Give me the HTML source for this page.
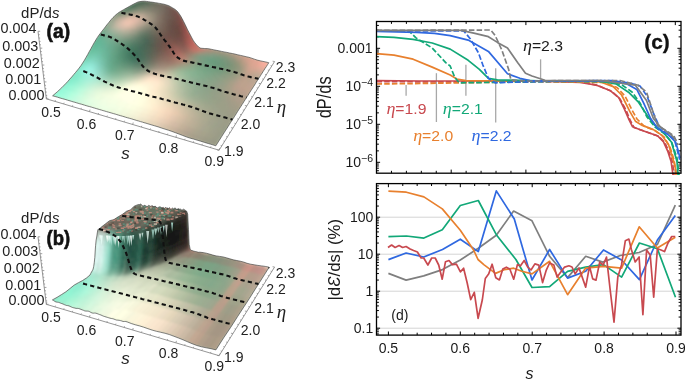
<!DOCTYPE html><html><head><meta charset="utf-8"><style>html,body{margin:0;padding:0;background:#fff;width:685px;height:379px;overflow:hidden}svg{display:block;will-change:transform}</style></head><body><svg xmlns="http://www.w3.org/2000/svg" width="685" height="379" viewBox="0 0 685 379"><path d="M391.44 173.2v-2.4M391.44 21.5v2.4M406.38 173.2v-2.4M406.38 21.5v2.4M421.32 173.2v-2.4M421.32 21.5v2.4M436.26 173.2v-2.4M436.26 21.5v2.4M451.2 173.2v-3.6M451.2 21.5v3.6M466.14 173.2v-2.4M466.14 21.5v2.4M481.08 173.2v-2.4M481.08 21.5v2.4M496.02 173.2v-2.4M496.02 21.5v2.4M510.96 173.2v-2.4M510.96 21.5v2.4M525.9 173.2v-3.6M525.9 21.5v3.6M540.84 173.2v-2.4M540.84 21.5v2.4M555.78 173.2v-2.4M555.78 21.5v2.4M570.72 173.2v-2.4M570.72 21.5v2.4M585.66 173.2v-2.4M585.66 21.5v2.4M600.6 173.2v-3.6M600.6 21.5v3.6M615.54 173.2v-2.4M615.54 21.5v2.4M630.48 173.2v-2.4M630.48 21.5v2.4M645.42 173.2v-2.4M645.42 21.5v2.4M660.36 173.2v-2.4M660.36 21.5v2.4M675.3 173.2v-3.6M675.3 21.5v3.6M376.5 170.73h2.4M681 170.73h-2.4M376.5 168.19h2.4M681 168.19h-2.4M376.5 165.98h2.4M681 165.98h-2.4M376.5 164.04h2.4M681 164.04h-2.4M376.5 162.3h3.6M681 162.3h-3.6M376.5 150.86h2.4M681 150.86h-2.4M376.5 144.17h2.4M681 144.17h-2.4M376.5 139.42h2.4M681 139.42h-2.4M376.5 135.74h2.4M681 135.74h-2.4M376.5 132.73h2.4M681 132.73h-2.4M376.5 130.19h2.4M681 130.19h-2.4M376.5 127.98h2.4M681 127.98h-2.4M376.5 126.04h2.4M681 126.04h-2.4M376.5 124.3h3.6M681 124.3h-3.6M376.5 112.86h2.4M681 112.86h-2.4M376.5 106.17h2.4M681 106.17h-2.4M376.5 101.42h2.4M681 101.42h-2.4M376.5 97.74h2.4M681 97.74h-2.4M376.5 94.73h2.4M681 94.73h-2.4M376.5 92.19h2.4M681 92.19h-2.4M376.5 89.98h2.4M681 89.98h-2.4M376.5 88.04h2.4M681 88.04h-2.4M376.5 86.3h3.6M681 86.3h-3.6M376.5 74.86h2.4M681 74.86h-2.4M376.5 68.17h2.4M681 68.17h-2.4M376.5 63.42h2.4M681 63.42h-2.4M376.5 59.74h2.4M681 59.74h-2.4M376.5 56.73h2.4M681 56.73h-2.4M376.5 54.19h2.4M681 54.19h-2.4M376.5 51.98h2.4M681 51.98h-2.4M376.5 50.04h2.4M681 50.04h-2.4M376.5 48.3h3.6M681 48.3h-3.6M376.5 36.86h2.4M681 36.86h-2.4M376.5 30.17h2.4M681 30.17h-2.4M376.5 25.42h2.4M681 25.42h-2.4" stroke="#000" stroke-width="1" fill="none"/>
<line x1="406.1" y1="85" x2="406.1" y2="95.7" stroke="#a8a8a8" stroke-width="1.3"/>
<line x1="436.4" y1="73.2" x2="436.4" y2="122" stroke="#a8a8a8" stroke-width="1.3"/>
<line x1="465.9" y1="64.8" x2="465.9" y2="95.7" stroke="#a8a8a8" stroke-width="1.3"/>
<line x1="495.7" y1="68.2" x2="495.7" y2="122.5" stroke="#a8a8a8" stroke-width="1.3"/>
<line x1="540.6" y1="59.3" x2="540.6" y2="79.6" stroke="#a8a8a8" stroke-width="1.3"/>
<polyline points="376.5,81.6 420,81.8 480,81.8 540,81.5 582,82 598,85.5 612,91.5 620,99 626,110 630,120 634,127.5 641,130 651,133.5 659,136.5 665,143 669,152 672.5,162 674,175" fill="none" stroke="#c8494f" stroke-width="1.7" stroke-linejoin="round" stroke-dasharray="5.5,2.2"/>
<polyline points="376.5,80.6 420,81 480,81 540,81.2 580,82.5 596.6,85.2 610.5,90.8 618.8,97.7 624.3,108.8 628.5,118.5 632.6,126.8 639.6,129.5 649.3,133 657.4,135.7 663.4,141.7 667.7,151.1 671.1,161.4 673,175" fill="none" stroke="#c8494f" stroke-width="1.7" stroke-linejoin="round"/>
<polyline points="376.5,84 420,83.5 480,82.5 540,81.5 605,82.5 617,87.5 625,96 632,110 637,119 644,126 655,130.5 664,137 670,147 674,160 676.5,175" fill="none" stroke="#e8802e" stroke-width="1.7" stroke-linejoin="round" stroke-dasharray="5.5,2.2"/>
<polyline points="376.5,53.6 394,55.2 413.1,59.2 432.2,67.1 450.2,75 456.9,79 465.9,80.6 500,81 560,81 600,81.8 613.2,86.6 621.6,95 629.9,111.6 635.4,121.2 642.3,125.4 653.4,129.6 661.7,135.1 668.6,144.8 673.7,161.4 675.4,168.3 676,175" fill="none" stroke="#e8802e" stroke-width="1.7" stroke-linejoin="round"/>
<polyline points="376.5,30.9 409,30.9 416,37.9 432.2,48 445.7,62.6 450.2,66 454.7,77.2 459.2,82.8 500,82.3 560,81.3 610,81.8 622,85 632,92 640,103 647,117 655,127 665,134 672,143 677,158 679,175" fill="none" stroke="#12a878" stroke-width="1.7" stroke-linejoin="round" stroke-dasharray="5.5,2.2"/>
<polyline points="376.5,36.7 394,37.4 413.1,39.4 432.2,43 450.2,49.1 468.2,60.3 479.4,69.3 488.4,78.3 497.4,79.9 540,80.8 600,81.2 616,83.9 628.5,92.2 638.2,101.9 646.5,114.3 653.4,124 663.1,132.3 671.4,142 677,161.4 678,175" fill="none" stroke="#12a878" stroke-width="1.7" stroke-linejoin="round"/>
<polyline points="376.5,31.4 416.5,32.4 434.5,33.4 450.2,35.6 468.2,40.1 488.4,51.4 507.5,73.8 519.9,78.3 530,80.5 560,80.8 610,80.8 627.1,83.9 636.8,89.4 643.7,103.2 650.6,118.5 657.6,128.2 668.6,135.1 675.6,142 678,150 680,158" fill="none" stroke="#2f68e0" stroke-width="1.7" stroke-linejoin="round"/>
<polyline points="376.5,30.9 463.7,30.9 470.4,39 478.3,52.5 482.8,64.8 488.4,78.3 495.2,82.8 520,82 560,81 612,80.5 630,83 640,86 647,96 653,112 659,126 666,133 671.1,135.7 674.5,140 677.1,149.4 679.7,159.7" fill="none" stroke="#2f68e0" stroke-width="1.7" stroke-linejoin="round" stroke-dasharray="5.5,2.2"/>
<polyline points="376.5,30.4 461.4,30.4 474.9,33.4 488.4,36.7 497.4,42.4 507.5,48 517.6,62.6 525.5,73.2 532,76 545,80.3 600,80.5 635.4,85.2 646.5,100.5 653.4,118.5 660.3,126.8 671.4,135.1 676,140" fill="none" stroke="#7f7f7f" stroke-width="1.7" stroke-linejoin="round"/>
<polyline points="376.5,30.4 490.7,30 495.2,35.6 501.9,50.2 508.6,69.3 510.9,79.9 530,81.2 560,80.5 620,80.5 638.2,85.2 646.5,92.2 652,108.8 657.6,125.4 668.6,132.3 674,136 678,145" fill="none" stroke="#7f7f7f" stroke-width="1.7" stroke-linejoin="round" stroke-dasharray="5.5,2.2"/>
<rect x="376.5" y="21.5" width="304.5" height="151.7" fill="none" stroke="#000" stroke-width="1.3"/>
<text x="372.5" y="53.3" font-family="Liberation Sans, sans-serif" font-size="14" text-anchor="end" fill="#1a1a1a">0.001</text>
<text x="373" y="91.3" font-family="Liberation Sans, sans-serif" font-size="14" text-anchor="end" fill="#1a1a1a">10<tspan font-size="10.5" dy="-5.5">&#8722;4</tspan></text>
<text x="373" y="129.3" font-family="Liberation Sans, sans-serif" font-size="14" text-anchor="end" fill="#1a1a1a">10<tspan font-size="10.5" dy="-5.5">&#8722;5</tspan></text>
<text x="373" y="167.3" font-family="Liberation Sans, sans-serif" font-size="14" text-anchor="end" fill="#1a1a1a">10<tspan font-size="10.5" dy="-5.5">&#8722;6</tspan></text>
<text x="657" y="49.2" font-family="Liberation Sans, sans-serif" font-size="20" text-anchor="middle" fill="#111" textLength="25.5" lengthAdjust="spacingAndGlyphs" font-weight="bold" stroke="#111" stroke-width="0.3">(c)</text>
<text x="386.4" y="114.4" font-size="14" fill="#c8494f" textLength="40" lengthAdjust="spacingAndGlyphs"><tspan font-family="Liberation Serif, serif" font-style="italic" font-size="16">&#951;</tspan><tspan font-family="Liberation Sans, sans-serif">=1.9</tspan></text>
<text x="413.2" y="140.6" font-size="14" fill="#e8802e" textLength="40" lengthAdjust="spacingAndGlyphs"><tspan font-family="Liberation Serif, serif" font-style="italic" font-size="16">&#951;</tspan><tspan font-family="Liberation Sans, sans-serif">=2.0</tspan></text>
<text x="442.8" y="114.4" font-size="14" fill="#12a878" textLength="40" lengthAdjust="spacingAndGlyphs"><tspan font-family="Liberation Serif, serif" font-style="italic" font-size="16">&#951;</tspan><tspan font-family="Liberation Sans, sans-serif">=2.1</tspan></text>
<text x="471.6" y="140.6" font-size="14" fill="#2f68e0" textLength="40" lengthAdjust="spacingAndGlyphs"><tspan font-family="Liberation Serif, serif" font-style="italic" font-size="16">&#951;</tspan><tspan font-family="Liberation Sans, sans-serif">=2.2</tspan></text>
<text x="523" y="51.2" font-size="14" fill="#1a1a1a" textLength="40" lengthAdjust="spacingAndGlyphs"><tspan font-family="Liberation Serif, serif" font-style="italic" font-size="16">&#951;</tspan><tspan font-family="Liberation Sans, sans-serif">=2.3</tspan></text>
<text transform="translate(330.6,118.3) rotate(-90)" font-family="Liberation Sans, sans-serif" font-size="20" fill="#1a1a1a" textLength="42" lengthAdjust="spacingAndGlyphs">dP/ds</text>
<line x1="376.5" x2="681" y1="328.2" y2="328.2" stroke="#d4d4d4" stroke-width="1"/>
<line x1="376.5" x2="681" y1="291.2" y2="291.2" stroke="#d4d4d4" stroke-width="1"/>
<line x1="376.5" x2="681" y1="254.2" y2="254.2" stroke="#d4d4d4" stroke-width="1"/>
<line x1="376.5" x2="681" y1="217.2" y2="217.2" stroke="#d4d4d4" stroke-width="1"/>
<path d="M388.4 335.1v-3.6M388.4 183.6v3.6M402.78 335.1v-2.4M402.78 183.6v2.4M417.16 335.1v-2.4M417.16 183.6v2.4M431.54 335.1v-2.4M431.54 183.6v2.4M445.92 335.1v-2.4M445.92 183.6v2.4M460.3 335.1v-3.6M460.3 183.6v3.6M474.68 335.1v-2.4M474.68 183.6v2.4M489.06 335.1v-2.4M489.06 183.6v2.4M503.44 335.1v-2.4M503.44 183.6v2.4M517.82 335.1v-2.4M517.82 183.6v2.4M532.2 335.1v-3.6M532.2 183.6v3.6M546.58 335.1v-2.4M546.58 183.6v2.4M560.96 335.1v-2.4M560.96 183.6v2.4M575.34 335.1v-2.4M575.34 183.6v2.4M589.72 335.1v-2.4M589.72 183.6v2.4M604.1 335.1v-3.6M604.1 183.6v3.6M618.48 335.1v-2.4M618.48 183.6v2.4M632.86 335.1v-2.4M632.86 183.6v2.4M647.24 335.1v-2.4M647.24 183.6v2.4M661.62 335.1v-2.4M661.62 183.6v2.4M676 335.1v-3.6M676 183.6v3.6M376.5 333.93h2.4M681 333.93h-2.4M376.5 331.79h2.4M681 331.79h-2.4M376.5 329.89h2.4M681 329.89h-2.4M376.5 328.2h3.6M681 328.2h-3.6M376.5 317.06h2.4M681 317.06h-2.4M376.5 310.55h2.4M681 310.55h-2.4M376.5 305.92h2.4M681 305.92h-2.4M376.5 302.34h2.4M681 302.34h-2.4M376.5 299.41h2.4M681 299.41h-2.4M376.5 296.93h2.4M681 296.93h-2.4M376.5 294.79h2.4M681 294.79h-2.4M376.5 292.89h2.4M681 292.89h-2.4M376.5 291.2h3.6M681 291.2h-3.6M376.5 280.06h2.4M681 280.06h-2.4M376.5 273.55h2.4M681 273.55h-2.4M376.5 268.92h2.4M681 268.92h-2.4M376.5 265.34h2.4M681 265.34h-2.4M376.5 262.41h2.4M681 262.41h-2.4M376.5 259.93h2.4M681 259.93h-2.4M376.5 257.79h2.4M681 257.79h-2.4M376.5 255.89h2.4M681 255.89h-2.4M376.5 254.2h3.6M681 254.2h-3.6M376.5 243.06h2.4M681 243.06h-2.4M376.5 236.55h2.4M681 236.55h-2.4M376.5 231.92h2.4M681 231.92h-2.4M376.5 228.34h2.4M681 228.34h-2.4M376.5 225.41h2.4M681 225.41h-2.4M376.5 222.93h2.4M681 222.93h-2.4M376.5 220.79h2.4M681 220.79h-2.4M376.5 218.89h2.4M681 218.89h-2.4M376.5 217.2h3.6M681 217.2h-3.6M376.5 206.06h2.4M681 206.06h-2.4M376.5 199.55h2.4M681 199.55h-2.4M376.5 194.92h2.4M681 194.92h-2.4M376.5 191.34h2.4M681 191.34h-2.4M376.5 188.41h2.4M681 188.41h-2.4M376.5 185.93h2.4M681 185.93h-2.4" stroke="#000" stroke-width="1" fill="none"/>
<polyline points="388.4,273.4 406.1,280.1 423.7,275.9 442.5,269.6 460.3,260 478.3,248.2 496.3,235.2 513.6,211.1 532,220.8 549.6,256.3 567.6,277.6 585.7,256.3 602.7,262.1 620.3,255.5 639.1,252.5 657.4,244.5 675.3,205.2" fill="none" stroke="#7f7f7f" stroke-width="1.7" stroke-linejoin="round"/>
<polyline points="388.4,259.6 406.1,253 423.7,257 442.5,249.5 460.3,239.2 478.3,251.6 496.3,190.9 514.3,219 523.2,250 532,280 549.6,249.5 567.6,278.1 585.7,271.3 603.5,250 621.6,260 639.4,279.6 657.4,240 675.3,215.5" fill="none" stroke="#2f68e0" stroke-width="1.7" stroke-linejoin="round"/>
<polyline points="388.4,236.7 406.4,236 423.9,238.1 442.3,229.8 460.3,205.5 478.3,200.5 496.3,234.7 515.9,259.5 532,287.5 549.6,286.6 567.6,271.3 585.7,267.1 603.5,264.6 621.6,277.1 639.4,243 657.4,248.8 675.5,297.2" fill="none" stroke="#12a878" stroke-width="1.7" stroke-linejoin="round"/>
<polyline points="388.4,191.1 406.4,192.2 423.9,196.9 442.3,208.9 460.3,230.2 473.6,250 478,259.5 483.8,264.6 495.5,273.4 504.2,269.7 513.7,268.2 521.8,271.2 532,273.9 549.6,261.3 567.6,294.7 585.7,268.1 603.5,266.3 621.6,268.1 639.2,226.8 657.3,248 675.3,237.2" fill="none" stroke="#e8802e" stroke-width="1.7" stroke-linejoin="round"/>
<polyline points="388,247.5 391.6,245 395.1,247.5 399.1,245.5 402.6,247.5 406.1,246.5 410.1,249 413.6,250.5 417.4,252 421.1,258 423.7,258 427.9,265 431.7,258 435.2,258 438.7,265 442.2,279.2 445.5,261.7 449,260.5 452.4,264.6 456.4,264.2 460.4,271.9 463.6,268.2 467.2,283 470.7,299.6 474.3,292.3 478.1,318.3 482.3,300 485.3,278.5 488.6,274.1 492.1,264.2 495.8,277.7 499.4,279.9 502.8,269 506.4,267.2 509.8,269 513.7,279.2 517.4,264.6 520.3,266.1 524.2,260.5 527.6,266.8 531,270 534.9,263.9 538.8,265.1 542.6,282.6 546.3,270.1 549.6,263 553.9,265.1 557.1,277.1 560.8,272 564.6,267.1 568.9,265.8 572,267 575.2,273.9 579,268 585.7,287.1 589.5,266.3 592.7,278.9 596,280.1 599.7,262.1 603.2,265 606.5,257.1 610.2,290 614,322.2 617.8,277.1 621.5,265 625.3,240.8 628.9,239.1 631.3,249.2 635.2,262 639.1,257 642.9,314.7 646.6,250 650.2,255 653.7,297.2 657.4,248.8 661,250 664.5,251.6 668,243 671.7,236.5 675.3,236.5" fill="none" stroke="#c8494f" stroke-width="1.7" stroke-linejoin="round"/>
<rect x="376.5" y="183.6" width="304.5" height="151.50000000000003" fill="none" stroke="#000" stroke-width="1.3"/>
<text x="373.3" y="222.2" font-family="Liberation Sans, sans-serif" font-size="14" text-anchor="end" fill="#1a1a1a">100</text>
<text x="373.3" y="259.2" font-family="Liberation Sans, sans-serif" font-size="14" text-anchor="end" fill="#1a1a1a">10</text>
<text x="373.3" y="296.2" font-family="Liberation Sans, sans-serif" font-size="14" text-anchor="end" fill="#1a1a1a">1</text>
<text x="373.3" y="333.2" font-family="Liberation Sans, sans-serif" font-size="14" text-anchor="end" fill="#1a1a1a">0.1</text>
<text x="388.4" y="353.3" font-family="Liberation Sans, sans-serif" font-size="14" text-anchor="middle" fill="#1a1a1a">0.5</text>
<text x="460.3" y="353.3" font-family="Liberation Sans, sans-serif" font-size="14" text-anchor="middle" fill="#1a1a1a">0.6</text>
<text x="532.2" y="353.3" font-family="Liberation Sans, sans-serif" font-size="14" text-anchor="middle" fill="#1a1a1a">0.7</text>
<text x="604.1" y="353.3" font-family="Liberation Sans, sans-serif" font-size="14" text-anchor="middle" fill="#1a1a1a">0.8</text>
<text x="676" y="353.3" font-family="Liberation Sans, sans-serif" font-size="14" text-anchor="middle" fill="#1a1a1a">0.9</text>
<text x="399.8" y="320.3" font-family="Liberation Sans, sans-serif" font-size="14" text-anchor="middle" fill="#1a1a1a">(d)</text>
<text x="529.5" y="379" font-family="Liberation Sans, sans-serif" font-style="italic" font-size="16" text-anchor="middle" fill="#1a1a1a">s</text>
<text transform="translate(339.6,300.5) rotate(-90)" font-family="Liberation Sans, sans-serif" font-size="16.5" fill="#1a1a1a" textLength="81.5" lengthAdjust="spacingAndGlyphs">|d<tspan font-style="italic">&#400;</tspan>/ds| (%)</text>
<defs><filter id="bl" x="-50%" y="-50%" width="200%" height="200%"><feGaussianBlur stdDeviation="3.5"/></filter><filter id="bl2" x="-50%" y="-50%" width="200%" height="200%"><feGaussianBlur stdDeviation="3"/></filter><filter id="sm" x="-5%" y="-5%" width="110%" height="110%"><feGaussianBlur stdDeviation="0.8"/></filter></defs>
<clipPath id="oa"><polygon points="52.6,95.8 55.1,96.5 57.6,97.2 60.0,98.0 62.5,98.7 65.1,99.4 67.6,100.2 70.1,100.9 71.7,101.4 73.3,101.9 74.9,102.3 76.5,102.8 78.1,103.3 79.8,103.8 81.4,104.2 83.0,104.7 84.6,105.2 86.3,105.7 87.9,106.2 89.6,106.6 91.3,107.1 92.9,107.6 94.6,108.1 96.3,108.6 98.0,109.1 99.7,109.6 101.4,110.1 103.1,110.6 104.8,111.1 106.5,111.6 108.2,112.1 110.0,112.6 111.7,113.1 113.4,113.6 115.2,114.1 116.9,114.6 118.7,115.2 120.5,115.7 122.3,116.2 124.0,116.7 125.8,117.3 127.6,117.8 129.4,118.3 131.3,118.8 133.1,119.4 134.9,119.9 136.7,120.5 138.6,121.0 140.4,121.6 142.3,122.1 144.1,122.7 146.0,123.2 147.9,123.8 151.2,124.8 154.6,125.8 158.0,126.8 161.5,128.0 164.9,129.1 168.4,130.2 171.9,131.4 175.4,132.7 178.9,134.0 182.5,135.4 186.1,136.8 189.7,138.0 193.4,139.0 197.0,140.1 200.7,141.2 204.5,142.4 208.2,143.5 212.0,144.6 215.8,145.8 215.8,145.8 218.8,141.1 221.7,136.5 224.5,132.1 225.8,130.1 227.1,128.1 228.3,126.2 229.5,124.3 230.7,122.4 231.9,120.5 233.1,118.7 234.3,116.8 235.4,115.1 236.5,113.3 237.6,111.5 238.7,109.8 239.8,108.1 240.9,106.4 241.9,104.8 243.0,103.1 244.0,101.5 245.0,99.9 246.0,98.3 247.0,96.8 248.0,95.3 249.0,93.7 249.9,92.2 250.9,90.7 251.8,89.3 252.8,87.8 253.7,86.4 254.6,85.0 255.5,83.6 256.3,82.2 257.2,80.8 258.1,79.5 258.9,78.1 259.8,76.8 260.6,75.5 261.4,74.2 262.2,73.0 263.0,71.7 263.8,70.4 265.1,68.4 266.4,66.5 267.6,64.6 268.8,62.7 268.8,62.7 265.9,62.0 263.0,61.4 260.1,60.8 257.3,60.1 254.5,59.2 251.7,58.2 248.9,57.3 246.1,56.7 243.3,56.0 240.6,55.4 237.8,54.8 235.1,54.1 232.3,53.5 229.6,53.0 226.9,52.4 224.2,51.9 221.6,51.4 218.9,50.8 216.2,50.3 214.8,50.0 213.3,49.7 211.8,49.4 210.3,49.1 208.9,48.8 207.4,48.6 205.9,48.6 204.5,48.5 203.0,48.4 201.6,48.3 200.1,48.0 198.7,47.0 197.3,45.6 195.9,44.1 194.5,42.3 193.1,40.2 191.8,37.8 190.4,35.1 189.0,32.4 187.6,29.8 186.3,27.0 184.9,24.1 183.5,21.3 182.1,18.6 180.7,16.1 179.3,14.0 177.9,12.0 176.5,10.5 175.1,9.4 173.7,8.5 172.3,7.7 170.9,6.9 169.5,6.1 168.1,5.5 166.7,5.0 165.3,4.6 163.9,4.2 162.5,3.9 161.1,3.7 159.7,3.4 158.4,3.2 157.0,2.9 155.6,2.7 154.3,2.5 152.9,2.3 150.7,2.0 148.6,1.7 146.4,1.4 144.3,1.2 142.1,1.3 140.0,1.6 137.9,2.0 137.9,2.0 135.8,3.0 133.6,4.1 131.4,5.3 129.2,6.5 127.8,7.3 126.3,8.1 124.9,8.9 123.5,9.7 122.0,10.6 120.5,11.4 119.1,12.3 117.6,13.4 116.1,14.6 114.6,16.0 113.0,17.5 111.5,19.2 110.0,21.0 108.5,22.9 106.9,24.8 105.4,26.8 103.8,28.9 102.2,30.9 100.6,33.0 99.0,35.1 97.4,37.4 95.8,40.0 94.2,42.7 92.6,45.5 91.0,48.5 89.3,51.5 87.7,54.5 86.0,57.4 84.4,60.3 82.6,63.1 80.9,65.7 79.1,68.1 77.3,70.3 75.5,72.5 73.6,74.7 71.8,76.9 69.9,79.0 68.0,81.2 66.0,83.3 61.7,87.7 57.2,91.9 52.6,95.8"/></clipPath><g clip-path="url(#oa)"><polygon points="52.6,95.8 55.1,96.5 57.6,97.2 60.0,98.0 62.5,98.7 65.1,99.4 67.6,100.2 70.1,100.9 71.7,101.4 73.3,101.9 74.9,102.3 76.5,102.8 78.1,103.3 79.8,103.8 81.4,104.2 83.0,104.7 84.6,105.2 86.3,105.7 87.9,106.2 89.6,106.6 91.3,107.1 92.9,107.6 94.6,108.1 96.3,108.6 98.0,109.1 99.7,109.6 101.4,110.1 103.1,110.6 104.8,111.1 106.5,111.6 108.2,112.1 110.0,112.6 111.7,113.1 113.4,113.6 115.2,114.1 116.9,114.6 118.7,115.2 120.5,115.7 122.3,116.2 124.0,116.7 125.8,117.3 127.6,117.8 129.4,118.3 131.3,118.8 133.1,119.4 134.9,119.9 136.7,120.5 138.6,121.0 140.4,121.6 142.3,122.1 144.1,122.7 146.0,123.2 147.9,123.8 151.2,124.8 154.6,125.8 158.0,126.8 161.5,128.0 164.9,129.1 168.4,130.2 171.9,131.4 175.4,132.7 178.9,134.0 182.5,135.4 186.1,136.8 189.7,138.0 193.4,139.0 197.0,140.1 200.7,141.2 204.5,142.4 208.2,143.5 212.0,144.6 215.8,145.8 215.8,145.8 218.8,141.1 221.7,136.5 224.5,132.1 225.8,130.1 227.1,128.1 228.3,126.2 229.5,124.3 230.7,122.4 231.9,120.5 233.1,118.7 234.3,116.8 235.4,115.1 236.5,113.3 237.6,111.5 238.7,109.8 239.8,108.1 240.9,106.4 241.9,104.8 243.0,103.1 244.0,101.5 245.0,99.9 246.0,98.3 247.0,96.8 248.0,95.3 249.0,93.7 249.9,92.2 250.9,90.7 251.8,89.3 252.8,87.8 253.7,86.4 254.6,85.0 255.5,83.6 256.3,82.2 257.2,80.8 258.1,79.5 258.9,78.1 259.8,76.8 260.6,75.5 261.4,74.2 262.2,73.0 263.0,71.7 263.8,70.4 265.1,68.4 266.4,66.5 267.6,64.6 268.8,62.7 268.8,62.7 265.9,62.0 263.0,61.4 260.1,60.8 257.3,60.1 254.5,59.2 251.7,58.2 248.9,57.3 246.1,56.7 243.3,56.0 240.6,55.4 237.8,54.8 235.1,54.1 232.3,53.5 229.6,53.0 226.9,52.4 224.2,51.9 221.6,51.4 218.9,50.8 216.2,50.3 214.8,50.0 213.3,49.7 211.8,49.4 210.3,49.1 208.9,48.8 207.4,48.6 205.9,48.6 204.5,48.5 203.0,48.4 201.6,48.3 200.1,48.0 198.7,47.0 197.3,45.6 195.9,44.1 194.5,42.3 193.1,40.2 191.8,37.8 190.4,35.1 189.0,32.4 187.6,29.8 186.3,27.0 184.9,24.1 183.5,21.3 182.1,18.6 180.7,16.1 179.3,14.0 177.9,12.0 176.5,10.5 175.1,9.4 173.7,8.5 172.3,7.7 170.9,6.9 169.5,6.1 168.1,5.5 166.7,5.0 165.3,4.6 163.9,4.2 162.5,3.9 161.1,3.7 159.7,3.4 158.4,3.2 157.0,2.9 155.6,2.7 154.3,2.5 152.9,2.3 150.7,2.0 148.6,1.7 146.4,1.4 144.3,1.2 142.1,1.3 140.0,1.6 137.9,2.0 137.9,2.0 135.8,3.0 133.6,4.1 131.4,5.3 129.2,6.5 127.8,7.3 126.3,8.1 124.9,8.9 123.5,9.7 122.0,10.6 120.5,11.4 119.1,12.3 117.6,13.4 116.1,14.6 114.6,16.0 113.0,17.5 111.5,19.2 110.0,21.0 108.5,22.9 106.9,24.8 105.4,26.8 103.8,28.9 102.2,30.9 100.6,33.0 99.0,35.1 97.4,37.4 95.8,40.0 94.2,42.7 92.6,45.5 91.0,48.5 89.3,51.5 87.7,54.5 86.0,57.4 84.4,60.3 82.6,63.1 80.9,65.7 79.1,68.1 77.3,70.3 75.5,72.5 73.6,74.7 71.8,76.9 69.9,79.0 68.0,81.2 66.0,83.3 61.7,87.7 57.2,91.9 52.6,95.8" fill="#c8d0b8"/><g filter="url(#sm)"><g transform="scale(0.1)">
<path fill="#93ffdb" d="M522 960l27 8l52 -43l-27 -9z"/>
<path fill="#99ffde" d="M546 967l28 8l52 -42l-28 -9z"/>
<path fill="#9fffde" d="M571 974l28 8l52 -41l-28 -9z"/>
<path fill="#a5ffde" d="M596 982l28 8l52 -41l-28 -9z"/>
<path fill="#abffe1" d="M621 989l28 8l52 -41l-28 -8z"/>
<path fill="#b4ffe1" d="M646 996l29 9l51 -41l-29 -9z"/>
<path fill="#baffe1" d="M671 1004l29 8l51 -41l-28 -8zM717 967l28 9l50 -44l-29 -9z"/>
<path fill="#c0ffe1" d="M697 1011l18 6l51 -41l-17 -6z"/>
<path fill="#c3ffe4" d="M713 1016l18 6l51 -42l-18 -5z"/>
<path fill="#c9ffe4" d="M729 1021l18 5l51 -41l-18 -5z"/>
<path fill="#ccffe4" d="M745 1026l18 5l51 -41l-18 -6z"/>
<path fill="#cfffe4" d="M761 1030l18 6l51 -41l-18 -6z"/>
<path fill="#d5ffe4" d="M777 1035l19 5l50 -41l-18 -5z"/>
<path fill="#d8ffe4" d="M793 1040l19 5l50 -41l-18 -5z"/>
<path fill="#dbffe4" d="M810 1044l18 6l51 -41l-19 -6z"/>
<path fill="#deffe4" d="M826 1049l19 6l50 -41l-19 -6z"/>
<path fill="#e1ffe4" d="M842 1054l19 5l50 -41l-18 -5zM859 1059l19 5l49 -41l-18 -5zM854 1008l19 6l49 -41l-19 -6z"/>
<path fill="#e4ffe4" d="M875 1064l19 5l50 -41l-19 -5zM870 1013l19 6l49 -41l-19 -6z"/>
<path fill="#e7ffe4" d="M892 1069l19 5l49 -41l-18 -6zM908 1073l19 6l50 -41l-19 -6zM887 1018l18 5l49 -40l-19 -6zM903 1023l19 5l48 -40l-18 -6z"/>
<path fill="#eaffe4" d="M925 1078l19 6l49 -42l-18 -5zM942 1083l19 6l49 -42l-19 -5zM959 1088l19 6l49 -42l-19 -6zM919 1028l19 5l48 -40l-18 -6zM936 1032l18 6l49 -41l-19 -5z"/>
<path fill="#edffe4" d="M976 1093l19 6l49 -42l-19 -6zM993 1098l19 6l48 -42l-19 -6zM1010 1103l19 6l48 -43l-19 -5zM1027 1108l19 6l48 -43l-19 -5zM1044 1113l19 6l48 -43l-19 -5zM952 1037l19 6l48 -41l-18 -5zM969 1042l19 5l48 -40l-19 -6z"/>
<path fill="#f0ffe4" d="M1061 1118l20 6l47 -43l-19 -5zM985 1047l19 5l48 -40l-19 -6zM1002 1051l19 6l48 -41l-19 -5zM1019 1056l19 6l47 -41l-19 -5zM1035 1061l20 6l47 -41l-19 -6zM995 1002l18 5l47 -39l-18 -6z"/>
<path fill="#f0ffe1" d="M1078 1123l20 6l47 -43l-19 -6zM978 997l19 5l47 -39l-18 -6z"/>
<path fill="#f0fce1" d="M1095 1128l20 6l48 -43l-20 -6zM1113 1133l20 6l47 -43l-20 -6zM1130 1138l20 6l47 -43l-19 -6zM1148 1144l20 5l47 -43l-20 -6zM1165 1149l20 6l47 -44l-20 -6zM1003 956l20 7l24 -21l-20 -7zM1019 961l21 7l24 -20l-21 -7z"/>
<path fill="#f3f9de" d="M1183 1154l20 6l47 -44l-20 -6zM1201 1159l20 6l46 -44l-20 -6zM1219 1164l20 6l46 -44l-20 -6z"/>
<path fill="#f3f6db" d="M1236 1170l21 6l46 -45l-20 -6zM1254 1175l21 6l46 -45l-21 -6z"/>
<path fill="#f3f3d8" d="M1272 1180l21 6l45 -45l-20 -5zM1290 1185l21 6l45 -44l-20 -6z"/>
<path fill="#f3f0d5" d="M1309 1191l20 6l45 -45l-20 -6zM1327 1196l21 6l44 -45l-20 -6z"/>
<path fill="#f3edd2" d="M1345 1201l21 7l45 -46l-21 -6z"/>
<path fill="#f3eacf" d="M1363 1207l21 6l45 -45l-21 -6z"/>
<path fill="#f0e7cf" d="M1382 1212l21 7l44 -46l-21 -6z"/>
<path fill="#f0e7cc" d="M1400 1218l21 6l44 -46l-20 -6zM1370 822l21 6l21 -19l-21 -6z"/>
<path fill="#f0e4c9" d="M1419 1224l21 6l44 -46l-21 -6z"/>
<path fill="#ede1c6" d="M1438 1229l21 7l43 -47l-21 -6z"/>
<path fill="#eddec3" d="M1456 1235l22 6l43 -47l-21 -6zM1417 798l21 7l20 -19l-21 -7zM1627 853l22 5l18 -19l-21 -5zM1625 834l22 6l18 -19l-21 -5z"/>
<path fill="#ead8c0" d="M1475 1240l37 11l43 -46l-38 -11z"/>
<path fill="#e7d5ba" d="M1508 1250l38 11l42 -47l-38 -11zM1603 780l21 4l19 -18l-21 -3z"/>
<path fill="#e4cfb7" d="M1542 1260l38 12l42 -48l-38 -11z"/>
<path fill="#dec9b1" d="M1576 1270l38 13l41 -48l-38 -12zM1509 753l20 8l19 -17l-20 -8zM1570 756l21 6l19 -18l-21 -5zM1586 761l21 4l18 -17l-21 -5z"/>
<path fill="#d8c3ab" d="M1610 1281l39 13l41 -48l-39 -12z"/>
<path fill="#d2bda5" d="M1645 1293l39 13l40 -49l-39 -13z"/>
<path fill="#ccb79f" d="M1680 1304l39 14l39 -49l-38 -14zM1750 1272l39 14l38 -48l-39 -14z"/>
<path fill="#c6b19c" d="M1715 1316l39 14l39 -49l-39 -14zM1302 289l19 12l18 -26l-19 -12zM1246 177l29 6l19 -18l-29 -6z"/>
<path fill="#bdab96" d="M1750 1329l39 15l39 -50l-39 -15zM1820 1298l39 15l37 -48l-39 -16zM1372 156l19 8l19 -17l-19 -7z"/>
<path fill="#b7a893" d="M1785 1342l40 16l38 -50l-39 -16zM1855 1312l40 15l36 -49l-39 -15zM1612 715l21 7l17 -19l-20 -7zM1261 163l29 6l18 -17l-29 -6zM1298 154l29 7l18 -16l-29 -6z"/>
<path fill="#b1a290" d="M1821 1356l40 15l38 -49l-40 -16zM1552 712l20 9l18 -21l-20 -10zM1386 144l19 7l19 -17l-19 -6zM1400 149l20 8l18 -17l-19 -8zM1429 162l19 10l18 -19l-19 -9z"/>
<path fill="#aba28d" d="M1857 1370l40 13l37 -50l-40 -13zM1507 713l20 9l18 -20l-20 -10z"/>
<path fill="#a89f8a" d="M1893 1382l41 12l37 -51l-41 -12zM2314 967l40 10l12 -19l-39 -10zM2293 942l39 11l13 -18l-39 -11zM1312 143l29 6l18 -16l-29 -5z"/>
<path fill="#a59f8a" d="M1929 1392l42 13l36 -51l-41 -12zM1349 135l29 7l18 -16l-29 -6z"/>
<path fill="#a29f8a" d="M1966 1403l42 13l35 -51l-41 -12zM2035 1369l41 12l35 -50l-41 -12z"/>
<path fill="#9f9c87" d="M2003 1414l42 13l35 -52l-41 -12zM2303 1160l42 11l13 -21l-41 -11zM2280 1133l41 11l14 -21l-41 -11zM2315 1142l41 11l14 -21l-42 -11zM2257 1106l41 11l14 -21l-41 -10zM2292 1115l41 11l13 -21l-41 -10zM2326 1124l42 11l13 -20l-41 -11zM2269 1089l41 11l13 -21l-40 -10zM2303 1098l41 11l14 -21l-41 -10zM2247 1063l40 11l14 -20l-40 -11zM2281 1072l40 11l14 -20l-41 -11zM2258 1047l41 10l13 -20l-40 -10zM2237 1021l40 11l13 -20l-39 -10zM2270 1030l40 11l13 -20l-40 -10zM2248 1005l40 11l13 -20l-39 -10zM1491 706l20 10l19 -21l-20 -10z"/>
<path fill="#9c9c87" d="M2040 1426l42 12l35 -52l-41 -12zM2109 1390l42 13l33 -51l-41 -12zM2139 1346l41 12l33 -50l-41 -12zM2181 1281l43 12l15 -23l-43 -12zM2194 1262l43 12l14 -23l-42 -12zM2207 1242l42 12l15 -22l-42 -12zM2243 1252l42 12l15 -22l-43 -12zM2219 1223l43 12l14 -22l-42 -12zM2255 1233l42 12l15 -22l-43 -12zM2232 1205l42 11l14 -22l-42 -11zM2267 1215l43 11l14 -22l-42 -11zM2244 1186l42 12l14 -22l-42 -11zM2279 1196l42 12l14 -22l-42 -12zM2256 1168l42 12l14 -22l-42 -11zM2291 1178l42 11l14 -21l-42 -12zM2234 1141l41 11l14 -21l-41 -11zM2268 1150l42 12l14 -22l-42 -11zM2245 1123l42 11l14 -20l-41 -11z"/>
<path fill="#999987" d="M2078 1437l42 13l34 -53l-41 -12z"/>
<path fill="#999984" d="M2116 1448l42 13l34 -53l-42 -12zM1252 145l29 6l19 -15l-29 -5zM1289 138l29 6l19 -15l-29 -6z"/>
<path fill="#93fcdb" d="M568 921l28 9l50 -47l-28 -9z"/>
<path fill="#99fcdb" d="M593 929l27 9l50 -47l-27 -9z"/>
<path fill="#9cfcdb" d="M617 937l28 9l50 -47l-28 -9z"/>
<path fill="#a5fcde" d="M642 945l28 8l50 -45l-28 -10z"/>
<path fill="#abffde" d="M667 952l28 9l49 -45l-28 -9z"/>
<path fill="#b4ffde" d="M692 960l28 8l49 -44l-28 -9z"/>
<path fill="#c3ffe1" d="M743 975l17 6l50 -44l-18 -6z"/>
<path fill="#c6ffe1" d="M758 980l18 5l50 -43l-18 -6z"/>
<path fill="#ccffe1" d="M774 985l18 5l50 -43l-18 -6z"/>
<path fill="#cfffe1" d="M790 989l18 6l50 -42l-19 -6z"/>
<path fill="#d5ffe1" d="M806 994l18 6l49 -42l-18 -6z"/>
<path fill="#d8ffe1" d="M822 999l18 5l49 -41l-18 -6z"/>
<path fill="#deffe1" d="M838 1004l18 5l49 -41l-18 -6z"/>
<path fill="#f3ffe4" d="M1052 1066l19 6l48 -42l-19 -5zM1069 1071l19 5l48 -41l-20 -5zM1086 1076l20 5l46 -41l-19 -6zM1103 1081l20 5l46 -41l-19 -6zM1120 1086l20 5l46 -42l-19 -5zM1137 1090l20 6l46 -42l-19 -5zM1011 1006l19 6l47 -40l-19 -5zM1027 1011l19 6l47 -40l-19 -5zM1044 1016l19 5l46 -40l-18 -5z"/>
<path fill="#f6ffe4" d="M1155 1095l19 6l46 -42l-19 -6zM1172 1100l20 6l46 -42l-20 -6zM1189 1105l20 6l46 -42l-20 -6zM1060 1021l19 5l47 -40l-19 -5zM1077 1025l19 6l46 -40l-19 -6zM1094 1030l19 5l46 -40l-19 -5zM1111 1035l19 5l46 -40l-19 -6zM1127 1039l20 6l45 -41l-19 -5zM1144 1044l20 6l45 -41l-19 -5zM1068 976l21 6l23 -20l-21 -6zM1084 981l21 5l24 -20l-21 -6zM1100 985l22 6l23 -20l-21 -6zM1102 965l21 6l24 -20l-21 -6z"/>
<path fill="#f6ffe1" d="M1207 1110l20 6l45 -42l-20 -6zM1086 960l21 6l24 -20l-21 -6zM1121 949l21 6l23 -20l-21 -5zM1139 934l21 6l23 -20l-21 -6z"/>
<path fill="#f6fce1" d="M1224 1115l20 6l45 -43l-19 -5zM1242 1120l20 6l45 -43l-20 -5zM1259 1126l20 5l45 -43l-20 -5zM1105 945l20 6l24 -20l-21 -6zM1157 919l20 6l23 -20l-21 -5z"/>
<path fill="#f9fcde" d="M1277 1131l20 6l45 -44l-20 -5zM1241 883l21 5l21 -19l-20 -6z"/>
<path fill="#f9f9de" d="M1295 1136l20 6l45 -44l-21 -5z"/>
<path fill="#f9f9db" d="M1313 1141l20 6l44 -44l-20 -5z"/>
<path fill="#f9f6db" d="M1330 1146l21 6l44 -44l-20 -5z"/>
<path fill="#f9f6d8" d="M1348 1151l21 6l44 -44l-20 -5z"/>
<path fill="#f9f3d8" d="M1366 1156l21 6l44 -44l-21 -5z"/>
<path fill="#f9f0d5" d="M1384 1162l21 6l44 -45l-21 -5z"/>
<path fill="#f9f0d2" d="M1403 1167l20 6l44 -44l-21 -6z"/>
<path fill="#f9edd2" d="M1421 1172l21 6l43 -44l-21 -6z"/>
<path fill="#f6eacf" d="M1439 1178l21 6l43 -45l-21 -6z"/>
<path fill="#f6e7cc" d="M1458 1183l21 6l42 -45l-21 -6z"/>
<path fill="#f6e4c9" d="M1476 1188l21 7l42 -46l-20 -6z"/>
<path fill="#f3e1c6" d="M1495 1194l21 6l42 -45l-21 -6zM1611 849l21 5l19 -19l-21 -5z"/>
<path fill="#f3dec3" d="M1513 1199l37 11l41 -46l-37 -10z"/>
<path fill="#f0d8bd" d="M1546 1209l37 11l41 -46l-37 -11zM1510 772l21 7l19 -17l-21 -7z"/>
<path fill="#ead2ba" d="M1579 1218l38 12l41 -46l-38 -11zM1494 767l21 7l19 -17l-21 -8zM1556 769l21 6l19 -18l-21 -5z"/>
<path fill="#e7ccb4" d="M1613 1228l38 12l40 -46l-38 -12z"/>
<path fill="#e1c6ae" d="M1647 1239l38 12l40 -47l-38 -12z"/>
<path fill="#d8c0a8" d="M1681 1249l39 13l39 -48l-39 -11z"/>
<path fill="#d2baa5" d="M1715 1260l39 14l39 -48l-39 -13z"/>
<path fill="#c3b199" d="M1785 1285l39 14l38 -48l-39 -15z"/>
<path fill="#b1a590" d="M1890 1325l41 13l36 -49l-40 -12zM1346 288l19 13l18 -25l-19 -13z"/>
<path fill="#aba58d" d="M1926 1337l41 12l35 -49l-40 -12zM1685 701l21 5l18 -17l-21 -5z"/>
<path fill="#a8a28d" d="M1962 1347l41 12l35 -49l-40 -12zM1332 309l19 13l18 -26l-19 -13zM1238 158l29 6l19 -16l-29 -6zM1275 150l29 6l19 -16l-29 -5z"/>
<path fill="#a5a28a" d="M1998 1358l42 12l34 -50l-40 -11zM1714 692l21 5l17 -16l-21 -6z"/>
<path fill="#9f9f87" d="M2072 1380l41 12l34 -51l-41 -12zM2227 980l39 11l14 -19l-39 -12zM2239 964l39 11l13 -19l-39 -11zM2218 938l38 12l14 -19l-39 -12zM2229 922l39 13l13 -19l-38 -12zM2220 882l38 12l13 -18l-38 -12zM2231 867l38 12l13 -18l-38 -12zM2242 852l37 12l13 -18l-37 -12zM2253 837l37 13l13 -18l-37 -12zM2263 823l38 12l12 -17l-37 -13zM2274 809l37 12l12 -17l-37 -13zM1770 675l21 4l17 -16l-21 -5z"/>
<path fill="#999c87" d="M2146 1402l43 12l32 -51l-41 -12zM2176 1356l42 12l31 -49l-41 -12zM2204 1311l43 12l16 -23l-44 -12zM2217 1291l43 12l15 -23l-43 -12zM2230 1272l43 12l14 -23l-42 -12z"/>
<path fill="#8df6d5" d="M613 879l27 9l48 -49l-27 -9z"/>
<path fill="#93f6d8" d="M637 887l28 9l48 -49l-28 -9z"/>
<path fill="#99f9d8" d="M662 895l27 10l48 -49l-27 -10z"/>
<path fill="#9ff9d8" d="M686 904l28 9l48 -48l-28 -10z"/>
<path fill="#a8f9db" d="M711 912l28 9l48 -48l-28 -9z"/>
<path fill="#b1fcdb" d="M736 920l28 9l48 -47l-28 -10z"/>
<path fill="#bafcde" d="M761 928l28 9l48 -46l-28 -10z"/>
<path fill="#c3fcde" d="M786 936l18 6l48 -45l-18 -7z"/>
<path fill="#c6fcde" d="M802 941l18 6l48 -44l-18 -7z"/>
<path fill="#ccfcde" d="M818 947l18 5l48 -44l-18 -6z"/>
<path fill="#d2fcde" d="M834 952l18 6l48 -44l-18 -6z"/>
<path fill="#d8fcde" d="M850 957l18 6l48 -43l-19 -6z"/>
<path fill="#dbfce1" d="M865 962l19 6l47 -42l-18 -7z"/>
<path fill="#e1fce1" d="M881 967l19 6l47 -42l-18 -6z"/>
<path fill="#e4fce1" d="M897 972l19 6l47 -42l-18 -6z"/>
<path fill="#e7fce1" d="M913 977l19 6l47 -41l-18 -6z"/>
<path fill="#eaffe1" d="M930 982l18 6l48 -41l-19 -6z"/>
<path fill="#edffe1" d="M946 987l18 6l48 -41l-19 -6zM962 992l19 5l47 -39l-19 -6z"/>
<path fill="#f9ffe4" d="M1161 1049l20 6l45 -41l-19 -6zM1178 1054l20 5l45 -41l-20 -5zM1195 1059l20 5l45 -41l-20 -5zM1212 1063l20 6l45 -41l-20 -6zM1229 1068l20 6l45 -42l-20 -5zM1117 990l21 6l23 -21l-21 -6zM1133 994l22 6l23 -20l-21 -6zM1150 999l21 6l24 -21l-22 -5zM1167 1004l21 5l23 -20l-21 -6zM1119 969l21 6l23 -20l-21 -6zM1135 974l21 6l24 -20l-21 -6zM1137 954l21 6l23 -20l-21 -6zM1155 938l21 6l23 -20l-21 -5z"/>
<path fill="#fcffe4" d="M1247 1073l20 6l44 -42l-20 -5zM1264 1078l20 6l44 -42l-20 -5zM1281 1083l20 6l44 -42l-19 -6zM1183 1008l22 6l23 -20l-21 -6zM1200 1013l22 6l23 -21l-22 -6zM1152 978l21 6l23 -20l-21 -6zM1168 983l21 6l23 -20l-21 -6zM1153 958l21 6l23 -20l-21 -6zM1170 963l21 6l23 -20l-21 -6zM1171 943l21 6l23 -20l-21 -6zM1189 928l21 5l22 -19l-20 -6zM1206 913l21 5l23 -19l-21 -6z"/>
<path fill="#fcffe1" d="M1299 1088l20 6l44 -42l-20 -6zM1316 1093l20 6l44 -43l-20 -5zM1224 898l21 5l22 -19l-21 -6z"/>
<path fill="#fcfce1" d="M1334 1098l20 6l44 -43l-20 -5z"/>
<path fill="#fcfcde" d="M1352 1103l20 6l43 -43l-20 -5zM1274 872l20 6l22 -19l-21 -6zM1306 862l21 5l21 -19l-21 -6z"/>
<path fill="#fcf9de" d="M1369 1108l21 6l43 -43l-20 -6z"/>
<path fill="#fcf9db" d="M1387 1113l20 6l43 -43l-20 -6z"/>
<path fill="#fcf6d8" d="M1405 1118l20 6l43 -43l-20 -6z"/>
<path fill="#fcf3d8" d="M1423 1123l20 6l43 -43l-21 -6z"/>
<path fill="#fcf3d5" d="M1441 1128l20 6l43 -43l-21 -6zM1370 841l21 6l21 -19l-21 -6z"/>
<path fill="#fcf0d2" d="M1459 1133l21 6l42 -43l-21 -6zM1525 1018l23 6l20 -21l-22 -6zM1524 997l22 6l21 -20l-23 -6zM1402 831l21 6l20 -18l-20 -6z"/>
<path fill="#fcedcf" d="M1477 1138l21 6l41 -43l-20 -6zM1544 1044l23 6l20 -21l-22 -6zM1543 1023l22 6l21 -21l-23 -6zM1541 1002l23 6l20 -21l-22 -6zM1540 981l22 6l20 -20l-22 -6z"/>
<path fill="#fceacc" d="M1495 1144l21 6l42 -44l-21 -6zM1546 1065l23 7l20 -22l-23 -6zM1562 1049l23 6l20 -21l-23 -6zM1537 941l22 6l20 -20l-22 -5zM1536 922l22 5l19 -19l-21 -6zM1551 907l22 5l19 -19l-21 -6z"/>
<path fill="#fce7cc" d="M1513 1149l21 6l42 -44l-21 -6zM1549 1110l23 6l21 -22l-23 -6zM1564 1070l22 7l21 -22l-23 -6zM1565 873l21 6l20 -19l-22 -6zM1449 808l21 6l20 -18l-21 -6z"/>
<path fill="#f9e4c9" d="M1532 1154l21 6l41 -44l-21 -6z"/>
<path fill="#f9e1c3" d="M1550 1159l37 11l40 -45l-37 -10zM1601 1102l39 10l19 -20l-38 -11z"/>
<path fill="#f6dbc0" d="M1582 1168l38 11l39 -44l-36 -11zM1541 782l21 6l19 -17l-21 -6z"/>
<path fill="#f0d5ba" d="M1615 1178l38 11l39 -45l-37 -11z"/>
<path fill="#edcfb4" d="M1649 1188l38 11l38 -45l-37 -11zM1683 1147l40 11l18 -21l-39 -12zM1699 1129l39 11l19 -21l-39 -11z"/>
<path fill="#e4c9b1" d="M1682 1198l38 11l39 -46l-38 -11z"/>
<path fill="#dec3ab" d="M1716 1208l38 11l38 -46l-38 -11z"/>
<path fill="#d5c0a5" d="M1750 1218l39 13l37 -46l-38 -13zM1799 1157l40 14l17 -22l-39 -13z"/>
<path fill="#cfbaa2" d="M1784 1230l39 13l37 -47l-38 -13zM1817 1187l41 14l17 -22l-40 -14zM1832 1169l41 13l17 -22l-40 -13z"/>
<path fill="#c6b49c" d="M1819 1242l39 14l36 -47l-38 -14z"/>
<path fill="#c0b199" d="M1853 1255l39 15l37 -47l-39 -15zM1886 1211l40 17l17 -23l-40 -16z"/>
<path fill="#baae96" d="M1888 1268l39 16l36 -48l-39 -15zM1920 1225l41 16l17 -22l-41 -16zM1627 720l21 5l18 -18l-21 -5z"/>
<path fill="#b4ab93" d="M1923 1282l40 13l35 -48l-39 -12zM1954 1239l42 13l17 -23l-42 -13zM1672 714l21 5l18 -17l-21 -5z"/>
<path fill="#aea890" d="M1958 1293l40 12l35 -48l-39 -11zM1989 1250l42 12l17 -23l-42 -12z"/>
<path fill="#a8a590" d="M1994 1304l40 11l35 -48l-40 -11zM2024 1260l42 12l17 -23l-42 -12zM2038 1241l42 12l16 -23l-41 -11zM1149 188l28 9l19 -19l-29 -9z"/>
<path fill="#a5a58d" d="M2030 1314l41 12l33 -49l-40 -11zM2060 1270l42 12l16 -23l-42 -12zM2052 1222l42 12l16 -23l-42 -11zM2066 1203l41 12l16 -22l-41 -12zM2079 1185l41 11l16 -21l-41 -12zM2058 1157l41 12l16 -22l-41 -11zM2071 1139l41 12l15 -22l-40 -11zM2051 1110l40 14l15 -21l-39 -13z"/>
<path fill="#a2a28a" d="M2066 1324l41 12l33 -49l-40 -11zM2114 1195l41 11l16 -22l-42 -11zM2105 1149l41 11l16 -21l-41 -11z"/>
<path fill="#9f9f8a" d="M2102 1335l42 12l32 -49l-40 -12zM2132 1290l42 13l16 -24l-43 -12zM2149 1204l42 12l15 -22l-42 -12zM2162 1186l41 11l15 -22l-41 -11zM2174 1167l42 12l14 -22l-41 -11z"/>
<path fill="#87f0cf" d="M655 834l30 10l23 -25l-29 -10z"/>
<path fill="#8df3d2" d="M680 842l29 10l24 -25l-30 -10z"/>
<path fill="#93f3d5" d="M704 851l30 10l23 -25l-29 -11z"/>
<path fill="#9cf6d5" d="M729 859l29 11l24 -25l-30 -11z"/>
<path fill="#a5f6d8" d="M753 868l30 11l24 -25l-30 -11z"/>
<path fill="#aef6d8" d="M778 877l30 10l23 -24l-30 -11z"/>
<path fill="#b7f9db" d="M803 885l30 11l24 -23l-31 -12z"/>
<path fill="#c0f9db" d="M828 895l20 7l24 -24l-20 -7z"/>
<path fill="#c6f9db" d="M844 901l20 7l24 -23l-20 -8z"/>
<path fill="#ccf9db" d="M860 906l19 8l24 -23l-19 -8z"/>
<path fill="#d2f9de" d="M875 912l20 8l24 -23l-20 -8z"/>
<path fill="#d8f9de" d="M891 918l20 8l24 -23l-20 -7z"/>
<path fill="#dbf9de" d="M907 924l20 7l24 -22l-20 -7z"/>
<path fill="#e1f9de" d="M923 930l20 6l24 -21l-20 -7z"/>
<path fill="#e4f9de" d="M939 935l20 7l24 -22l-20 -7zM974 923l20 7l24 -21l-21 -7z"/>
<path fill="#e7fcde" d="M955 940l20 7l24 -21l-20 -7z"/>
<path fill="#eafcde" d="M971 945l20 7l24 -21l-20 -7z"/>
<path fill="#edfce1" d="M987 951l20 6l24 -20l-20 -7z"/>
<path fill="#f3fce1" d="M1035 966l21 7l24 -21l-21 -6zM1054 951l21 6l23 -20l-21 -6zM1070 956l21 6l23 -20l-20 -6zM1088 940l21 6l23 -20l-20 -6zM1123 929l20 6l23 -19l-20 -6z"/>
<path fill="#f3ffe1" d="M1051 971l21 6l24 -20l-21 -6z"/>
<path fill="#fcffe7" d="M1217 1018l22 5l22 -20l-21 -6zM1234 1022l22 6l22 -21l-21 -6zM1185 988l21 5l23 -20l-21 -6z"/>
<path fill="#ffffe7" d="M1251 1027l22 6l22 -21l-21 -6zM1268 1032l22 6l22 -21l-22 -6zM1201 992l22 6l23 -20l-22 -6zM1218 997l22 6l22 -21l-21 -6zM1235 1001l21 6l23 -20l-21 -6zM1252 1006l21 6l23 -21l-22 -5zM1269 1011l21 6l23 -21l-22 -6zM1286 1015l21 6l23 -20l-22 -6zM1303 1020l21 6l23 -21l-22 -6zM1186 967l21 6l23 -20l-21 -6zM1203 972l21 6l23 -20l-22 -6zM1219 976l22 6l22 -20l-21 -6zM1236 981l21 6l23 -20l-22 -6zM1253 985l21 6l22 -20l-21 -6zM1269 990l22 6l22 -20l-21 -6zM1286 995l22 6l22 -21l-22 -6zM1303 999l22 6l22 -20l-22 -6zM1320 1004l22 6l22 -21l-22 -6zM1188 947l21 6l22 -20l-21 -5zM1204 952l21 6l23 -20l-21 -6zM1220 956l22 6l22 -20l-21 -6zM1237 961l21 6l23 -20l-22 -6zM1253 965l22 6l22 -20l-21 -6zM1270 970l22 6l22 -21l-22 -5zM1287 974l21 6l22 -20l-21 -6zM1304 979l21 6l22 -21l-21 -5zM1320 983l22 6l22 -20l-22 -6zM1337 988l22 6l22 -21l-22 -5zM1222 936l21 6l22 -20l-21 -5zM1238 941l21 6l22 -20l-21 -6zM1254 945l22 6l22 -20l-21 -5zM1271 950l21 5l22 -19l-21 -6zM1287 954l22 6l22 -20l-22 -6zM1304 959l21 5l22 -19l-21 -6zM1321 963l21 6l22 -20l-22 -6zM1337 968l22 5l22 -20l-22 -5zM1239 921l21 6l22 -20l-21 -5zM1255 926l21 5l22 -19l-21 -6zM1272 930l21 6l22 -20l-22 -5zM1304 939l22 6l21 -20l-21 -6zM1321 943l21 6l22 -20l-21 -5zM1338 948l21 5l22 -19l-22 -6zM1354 952l22 6l21 -20l-21 -6zM1256 906l21 6l22 -19l-21 -6zM1272 911l21 5l22 -19l-21 -6zM1288 915l22 6l21 -20l-21 -5zM1305 919l21 6l22 -19l-21 -6zM1321 924l22 5l21 -19l-21 -6zM1338 928l21 6l21 -20l-21 -5zM1354 932l22 6l21 -19l-21 -6zM1289 896l21 5l22 -19l-21 -5zM1305 900l21 6l22 -20l-21 -5zM1322 904l21 6l21 -19l-21 -6zM1338 909l21 5l21 -19l-21 -6zM1354 913l22 6l21 -20l-21 -5z"/>
<path fill="#ffffe4" d="M1285 1036l22 6l22 -21l-22 -6zM1302 1041l22 6l22 -21l-21 -6zM1319 1046l22 6l23 -21l-22 -6zM1337 1051l22 6l22 -21l-22 -6zM1354 1055l22 7l22 -22l-22 -6zM1320 1025l22 6l22 -21l-22 -6zM1337 1029l22 6l22 -20l-22 -6zM1354 1034l22 6l22 -21l-22 -6zM1337 1008l22 6l22 -20l-22 -6zM1354 1013l22 6l22 -21l-22 -5zM1371 1018l22 6l22 -21l-22 -6zM1354 992l22 6l22 -20l-22 -6zM1371 997l22 6l21 -21l-21 -5zM1205 932l21 6l23 -20l-21 -6zM1354 972l22 6l21 -20l-21 -6zM1371 977l22 5l21 -20l-22 -5zM1223 917l21 6l22 -20l-21 -5zM1371 957l22 5l21 -20l-22 -5zM1388 961l21 6l22 -20l-22 -6zM1240 902l21 6l22 -20l-21 -5zM1371 937l21 5l22 -19l-22 -6zM1387 941l22 6l21 -20l-21 -5zM1273 891l21 6l22 -19l-21 -6zM1371 917l21 6l21 -19l-21 -6zM1387 922l22 5l21 -19l-22 -6zM1306 881l21 6l21 -20l-21 -5zM1322 885l21 6l21 -19l-21 -6zM1338 890l21 5l21 -19l-21 -6zM1354 894l22 5l21 -19l-22 -5zM1371 898l21 6l21 -19l-21 -6zM1387 903l21 5l21 -19l-21 -5z"/>
<path fill="#ffffe1" d="M1371 1060l23 7l21 -22l-22 -6zM1389 1065l22 6l22 -21l-22 -6zM1371 1039l22 6l22 -21l-22 -6zM1389 1044l22 6l21 -21l-22 -6zM1388 1022l22 7l22 -21l-22 -6zM1406 1027l22 6l21 -21l-22 -6zM1388 1002l22 6l21 -21l-21 -6zM1405 1006l22 6l22 -20l-22 -6zM1388 981l22 6l21 -20l-22 -6zM1405 986l22 6l21 -21l-22 -6zM1404 965l22 6l21 -20l-21 -5zM1404 946l22 5l21 -19l-22 -6zM1257 887l21 6l21 -20l-20 -5zM1404 926l21 6l21 -20l-21 -5zM1290 877l21 5l21 -19l-21 -6zM1403 907l22 5l21 -19l-22 -5zM1338 870l21 6l21 -19l-21 -6zM1354 875l22 5l20 -18l-21 -6zM1371 879l21 6l21 -19l-21 -6zM1387 883l21 6l21 -19l-21 -5zM1403 888l21 6l21 -19l-21 -6z"/>
<path fill="#fffcde" d="M1406 1070l23 6l21 -21l-22 -6zM1406 1048l22 7l22 -22l-22 -6zM1423 1053l23 6l21 -21l-22 -6zM1423 1032l22 6l21 -21l-22 -6zM1422 1011l22 6l22 -21l-22 -6zM1440 1016l22 6l21 -21l-22 -6zM1422 990l22 6l21 -20l-22 -6zM1439 995l22 6l21 -21l-22 -6zM1421 970l22 6l21 -20l-22 -6zM1438 974l22 6l21 -20l-22 -6zM1421 950l22 6l21 -20l-22 -6zM1438 954l22 6l20 -20l-21 -5zM1420 930l22 6l21 -19l-22 -6zM1437 935l22 5l20 -19l-21 -6zM1420 911l21 6l21 -19l-21 -6zM1436 915l22 6l21 -19l-22 -6zM1419 892l22 6l21 -19l-22 -6zM1436 896l21 6l21 -19l-21 -5zM1371 860l21 6l20 -19l-21 -6zM1387 865l21 5l20 -18l-21 -6zM1403 869l21 6l21 -19l-22 -6zM1419 873l21 6l21 -18l-21 -6z"/>
<path fill="#fff9db" d="M1424 1075l22 6l22 -21l-22 -7zM1441 1058l22 6l22 -21l-23 -6zM1440 1037l23 6l21 -21l-22 -6zM1458 1041l22 7l21 -22l-22 -6zM1457 1020l22 6l21 -21l-22 -5zM1456 1000l22 5l21 -20l-22 -6zM1455 979l22 6l21 -20l-22 -6zM1455 959l21 6l21 -20l-22 -6zM1454 939l22 6l20 -20l-21 -5zM1453 920l22 5l20 -19l-21 -6zM1452 901l22 5l20 -19l-21 -5zM1354 856l21 6l21 -19l-21 -6zM1435 878l22 5l20 -18l-21 -6zM1452 882l21 6l20 -19l-21 -5z"/>
<path fill="#fff6db" d="M1442 1080l22 6l22 -22l-23 -6zM1419 855l21 6l20 -19l-21 -6zM1435 859l21 6l20 -18l-21 -6z"/>
<path fill="#fff6d8" d="M1459 1085l23 6l21 -22l-22 -6zM1458 1063l23 6l21 -21l-22 -6zM1476 1068l23 6l21 -22l-23 -6zM1475 1046l23 6l21 -21l-23 -6zM1474 1025l23 6l20 -21l-22 -6zM1473 1004l23 6l20 -21l-22 -5zM1472 984l22 5l21 -20l-22 -6zM1472 963l21 6l21 -20l-22 -6zM1471 944l21 5l21 -20l-22 -5zM1470 924l21 6l21 -20l-22 -5zM1469 905l22 5l20 -19l-22 -5zM1468 886l22 6l20 -19l-22 -5zM1386 846l21 6l21 -19l-21 -6zM1403 850l21 6l20 -18l-21 -6zM1451 864l21 5l21 -18l-22 -6zM1467 868l22 5l20 -18l-22 -5z"/>
<path fill="#fff3d5" d="M1477 1090l23 6l21 -22l-23 -6zM1494 1073l22 6l21 -22l-22 -6zM1493 1051l22 6l21 -21l-22 -6zM1492 1030l22 6l21 -21l-22 -6zM1491 1009l22 6l21 -21l-23 -6zM1490 988l22 6l20 -20l-22 -6zM1489 968l22 6l20 -20l-22 -6zM1488 948l21 6l21 -20l-22 -6zM1487 928l21 6l21 -20l-22 -5zM1486 909l21 6l20 -20l-21 -5zM1485 890l21 6l20 -19l-21 -5zM1484 872l21 5l20 -18l-21 -5zM1500 876l22 5l19 -19l-21 -5zM1434 841l21 6l21 -18l-22 -7zM1466 850l22 5l20 -18l-21 -5zM1483 854l21 5l20 -18l-21 -5z"/>
<path fill="#fff0d2" d="M1495 1095l23 6l21 -22l-23 -6zM1512 1078l22 6l21 -22l-22 -6zM1510 1056l23 6l21 -21l-23 -6zM1527 1039l22 6l21 -21l-23 -6zM1506 972l22 6l20 -20l-22 -6zM1504 952l22 6l21 -20l-22 -6zM1503 933l22 5l20 -19l-21 -6zM1502 913l22 6l20 -20l-22 -5zM1518 898l21 6l20 -19l-21 -6zM1516 880l22 5l20 -19l-22 -5zM1515 862l22 5l19 -19l-21 -4zM1466 831l21 6l20 -17l-21 -7zM1482 836l21 6l20 -18l-21 -6zM1498 840l21 5l20 -18l-21 -5z"/>
<path fill="#ffedcf" d="M1513 1100l23 6l21 -22l-23 -6zM1529 1082l23 7l21 -22l-23 -6zM1528 1061l23 6l20 -22l-22 -6zM1521 957l22 6l21 -20l-22 -6zM1520 937l22 6l20 -20l-22 -6zM1519 918l22 5l20 -19l-22 -6zM1534 903l22 5l20 -19l-22 -6zM1533 884l22 5l19 -19l-21 -5zM1532 866l21 5l20 -19l-22 -5zM1434 822l21 6l20 -18l-21 -6zM1530 848l22 5l19 -19l-21 -4zM1497 822l21 6l20 -18l-21 -5zM1513 827l21 5l20 -18l-21 -5z"/>
<path fill="#ffeacc" d="M1531 1105l23 6l21 -22l-23 -6zM1547 1087l23 7l21 -22l-23 -6zM1550 888l21 5l20 -19l-22 -5zM1563 855l22 5l19 -19l-22 -4z"/>
<path fill="#fce4c9" d="M1567 1115l23 6l21 -22l-23 -6zM1582 1075l22 6l21 -21l-23 -6zM1480 799l21 7l20 -18l-21 -7zM1576 824l22 4l19 -18l-22 -4z"/>
<path fill="#fce1c3" d="M1585 1119l39 11l19 -21l-38 -11z"/>
<path fill="#f9dbc0" d="M1618 1128l39 11l19 -21l-39 -11z"/>
<path fill="#f3d5ba" d="M1650 1137l40 12l19 -22l-40 -11zM1666 1120l39 11l19 -21l-39 -11z"/>
<path fill="#e7ccb1" d="M1716 1156l40 12l19 -22l-40 -11z"/>
<path fill="#dec6ab" d="M1750 1166l40 12l18 -22l-40 -12zM1765 1148l40 11l18 -21l-40 -12z"/>
<path fill="#d8c0a5" d="M1783 1176l41 13l18 -22l-40 -13z"/>
<path fill="#c6b79c" d="M1851 1199l41 15l17 -22l-40 -15zM1866 1180l41 15l17 -22l-40 -15z"/>
<path fill="#9fa28a" d="M2096 1280l42 12l16 -23l-42 -12zM2109 1261l43 12l15 -23l-42 -12zM2123 1242l42 11l15 -22l-42 -12zM2136 1223l42 11l15 -22l-42 -11zM2127 1176l41 11l15 -21l-41 -11zM2140 1158l41 11l15 -21l-41 -11zM2118 1131l41 11l15 -21l-41 -11zM2152 1140l41 11l15 -21l-41 -11zM2097 1104l41 11l15 -20l-40 -12zM2131 1114l41 11l14 -21l-40 -11z"/>
<path fill="#9c9f87" d="M2168 1301l43 12l15 -23l-43 -13zM2197 1195l41 12l15 -22l-42 -12zM2209 1177l42 11l14 -21l-41 -12zM2221 1159l42 11l14 -21l-41 -11zM2199 1132l41 11l15 -21l-41 -11zM2177 1105l41 11l14 -21l-40 -10zM2211 1114l41 11l14 -21l-40 -10zM2156 1079l40 11l15 -21l-40 -10zM2190 1088l40 11l14 -21l-40 -10zM2223 1097l41 11l14 -21l-40 -10zM2135 1052l40 12l14 -20l-39 -12zM2168 1062l40 11l15 -20l-40 -11zM2202 1071l40 11l14 -20l-40 -11zM2235 1080l41 11l14 -21l-41 -10zM2180 1045l40 11l14 -20l-39 -11zM2213 1054l41 11l14 -20l-40 -11zM2192 1028l40 11l14 -19l-40 -11zM2225 1038l40 10l14 -19l-40 -11zM2204 1012l40 11l13 -19l-39 -12zM2216 996l39 11l14 -19l-39 -12zM2195 970l39 12l14 -20l-39 -12zM2206 954l39 12l14 -19l-39 -12zM2198 912l38 13l13 -19l-38 -12zM2209 897l38 12l13 -18l-38 -12z"/>
<path fill="#84edcc" d="M675 813l29 10l23 -26l-29 -10z"/>
<path fill="#8af0cf" d="M699 821l30 10l23 -25l-30 -11z"/>
<path fill="#90f0d2" d="M723 830l30 10l23 -26l-29 -10z"/>
<path fill="#99f3d2" d="M748 838l30 11l23 -25l-30 -12z"/>
<path fill="#a2f3d5" d="M773 847l30 11l22 -24l-29 -12z"/>
<path fill="#abf6d8" d="M797 856l30 12l23 -25l-30 -11z"/>
<path fill="#b4f6d8" d="M822 866l30 11l23 -24l-30 -12z"/>
<path fill="#bdf6db" d="M847 875l20 8l24 -24l-20 -8z"/>
<path fill="#c3f6db" d="M863 882l20 7l23 -23l-19 -8z"/>
<path fill="#c9f6db" d="M879 888l20 8l23 -23l-20 -9z"/>
<path fill="#cff6db" d="M894 894l20 8l24 -23l-20 -8z"/>
<path fill="#d5f6db" d="M910 900l20 8l24 -22l-20 -8z"/>
<path fill="#dbf6db" d="M926 907l20 7l24 -22l-20 -8z"/>
<path fill="#def6db" d="M942 912l20 7l24 -21l-20 -7z"/>
<path fill="#e1f9db" d="M958 918l20 7l24 -21l-21 -8z"/>
<path fill="#e7f9de" d="M989 929l21 7l24 -21l-21 -7z"/>
<path fill="#eaf9de" d="M1005 934l21 7l24 -20l-21 -7z"/>
<path fill="#edfcde" d="M1022 940l20 7l24 -20l-21 -8z"/>
<path fill="#f0fcde" d="M1038 945l20 7l24 -20l-21 -7zM1072 935l21 6l23 -19l-20 -7zM1141 914l20 6l23 -19l-21 -6z"/>
<path fill="#fce7c9" d="M1565 1092l23 7l21 -22l-23 -6zM1578 841l21 5l19 -19l-21 -4zM1560 820l21 5l20 -18l-22 -4z"/>
<path fill="#fce4c6" d="M1583 1097l23 7l21 -22l-23 -7z"/>
<path fill="#f6dbbd" d="M1634 1111l39 11l18 -21l-38 -11z"/>
<path fill="#e7c9ae" d="M1732 1138l40 12l18 -22l-40 -11z"/>
<path fill="#bdb199" d="M1900 1193l41 16l17 -23l-41 -15zM1915 1174l40 16l17 -22l-40 -16z"/>
<path fill="#b7ae96" d="M1934 1206l41 16l17 -22l-41 -16zM1949 1187l40 16l17 -22l-40 -15z"/>
<path fill="#b1ab93" d="M1969 1220l41 13l17 -22l-41 -14zM1983 1201l41 13l16 -22l-41 -13z"/>
<path fill="#aba890" d="M2003 1231l42 12l16 -23l-41 -11zM2017 1212l42 12l16 -22l-41 -12zM2031 1194l41 11l16 -22l-41 -11zM1701 705l21 5l17 -17l-21 -5z"/>
<path fill="#a2a28d" d="M2074 1251l42 12l16 -23l-42 -12zM2087 1232l42 11l16 -22l-42 -11zM2101 1213l41 12l16 -23l-42 -11z"/>
<path fill="#9c9f8a" d="M2145 1271l43 12l15 -23l-42 -12zM2158 1252l42 11l16 -22l-42 -12zM2171 1232l42 12l15 -22l-42 -12zM2184 1214l42 11l15 -22l-42 -11zM2187 1150l41 11l15 -22l-41 -11zM2165 1123l41 11l14 -21l-40 -11zM1461 711l20 12l19 -19l-20 -12zM1288 341l18 14l19 -28l-19 -13z"/>
<path fill="#81edc9" d="M694 792l29 10l23 -26l-29 -11z"/>
<path fill="#87edcc" d="M718 800l30 10l23 -26l-30 -10z"/>
<path fill="#8dedcf" d="M743 808l29 11l23 -26l-30 -11zM761 787l30 10l22 -26l-29 -10zM780 765l30 11l22 -26l-30 -11z"/>
<path fill="#96f0d2" d="M767 817l30 11l22 -25l-29 -12zM786 795l30 12l22 -25l-30 -13z"/>
<path fill="#9ff3d5" d="M792 826l30 12l22 -25l-30 -12z"/>
<path fill="#a8f3d8" d="M816 836l30 12l23 -25l-30 -12z"/>
<path fill="#b4f3d8" d="M841 845l30 12l23 -24l-30 -12z"/>
<path fill="#baf3d8" d="M866 856l20 8l23 -24l-19 -9z"/>
<path fill="#c0f3d8" d="M882 862l20 9l23 -24l-20 -9z"/>
<path fill="#c6f3d8" d="M898 869l19 8l24 -23l-20 -9z"/>
<path fill="#ccf3d8" d="M913 876l20 8l24 -23l-20 -9z"/>
<path fill="#cff3d8" d="M929 882l20 9l23 -23l-20 -9z"/>
<path fill="#d5f3d8" d="M945 889l20 8l23 -22l-20 -8z"/>
<path fill="#dbf3d8" d="M961 895l20 7l23 -21l-20 -8z"/>
<path fill="#def6d8" d="M976 901l21 7l23 -21l-20 -8z"/>
<path fill="#e1f6db" d="M992 907l21 7l23 -21l-20 -8z"/>
<path fill="#e4f6db" d="M1008 912l21 8l23 -21l-20 -8z"/>
<path fill="#e7f6db" d="M1024 918l21 7l23 -20l-20 -8zM1058 908l21 8l23 -20l-20 -8z"/>
<path fill="#eaf9db" d="M1040 924l21 7l23 -20l-20 -7z"/>
<path fill="#edf9de" d="M1056 930l21 7l23 -20l-20 -7zM1090 920l21 6l23 -19l-20 -7z"/>
<path fill="#f9e4c6" d="M1599 1080l23 6l21 -21l-23 -7zM1597 1058l23 7l20 -22l-22 -6z"/>
<path fill="#f9dec3" d="M1617 1084l39 11l19 -21l-39 -10z"/>
<path fill="#f6d8bd" d="M1649 1093l39 11l19 -21l-39 -10z"/>
<path fill="#f0d5b7" d="M1682 1102l39 11l18 -21l-39 -11z"/>
<path fill="#eacfb4" d="M1715 1111l39 11l18 -21l-39 -11z"/>
<path fill="#e4c9ae" d="M1747 1121l40 11l18 -22l-39 -11z"/>
<path fill="#dbc3a8" d="M1780 1130l40 11l18 -21l-40 -11z"/>
<path fill="#d2c0a5" d="M1814 1139l40 13l17 -21l-40 -13zM1810 1095l40 10l17 -20l-39 -11z"/>
<path fill="#ccba9f" d="M1847 1150l40 14l18 -22l-40 -13z"/>
<path fill="#c3b79c" d="M1881 1162l40 14l17 -21l-40 -15zM1876 1114l40 14l17 -22l-40 -13z"/>
<path fill="#81eac9" d="M713 770l29 10l23 -26l-29 -10zM732 748l29 11l22 -27l-29 -10z"/>
<path fill="#87eacc" d="M737 778l30 11l22 -26l-29 -11zM756 757l29 10l23 -26l-30 -11z"/>
<path fill="#9ff0d5" d="M810 805l30 12l23 -25l-30 -13z"/>
<path fill="#a8f0d8" d="M835 815l30 12l22 -24l-30 -13z"/>
<path fill="#aef3d8" d="M860 825l30 13l22 -24l-30 -13z"/>
<path fill="#b7f0d8" d="M885 836l20 9l23 -24l-20 -10z"/>
<path fill="#baf0d8" d="M901 843l19 9l23 -24l-19 -9z"/>
<path fill="#c0f0d8" d="M916 850l20 9l23 -23l-20 -10z"/>
<path fill="#c6f0d5" d="M932 857l20 9l23 -23l-20 -9z"/>
<path fill="#c9f0d5" d="M948 864l20 9l23 -22l-20 -10z"/>
<path fill="#cff0d5" d="M963 871l20 9l24 -22l-20 -9z"/>
<path fill="#d2f0d5" d="M979 878l20 7l23 -21l-20 -8z"/>
<path fill="#d8f0d5" d="M995 884l20 8l23 -22l-20 -8z"/>
<path fill="#dbf3d5" d="M1011 890l20 8l23 -21l-20 -8z"/>
<path fill="#def3d8" d="M1027 896l20 8l23 -21l-20 -8z"/>
<path fill="#e1f3d8" d="M1042 902l21 8l23 -21l-20 -8z"/>
<path fill="#eaf6db" d="M1074 914l21 7l23 -19l-20 -8zM1108 905l21 6l23 -19l-21 -7z"/>
<path fill="#f0f9de" d="M1107 925l20 6l23 -20l-20 -6z"/>
<path fill="#fff3d2" d="M1509 1034l23 6l20 -21l-22 -6zM1508 1013l22 6l21 -20l-22 -6zM1507 993l22 6l20 -21l-22 -6z"/>
<path fill="#f9e7c9" d="M1580 1053l22 7l21 -22l-23 -6zM1578 1032l23 6l20 -21l-23 -6zM1552 926l22 6l20 -20l-22 -5zM1568 911l22 6l19 -20l-22 -5zM1566 892l22 6l19 -20l-21 -5zM1581 877l22 6l19 -19l-22 -6zM1579 859l22 5l19 -19l-21 -5z"/>
<path fill="#f6e1c3" d="M1615 1063l23 6l20 -21l-23 -6zM1613 1042l23 6l20 -21l-23 -6z"/>
<path fill="#f3dec0" d="M1633 1067l39 11l18 -21l-38 -10zM1631 1046l23 7l20 -22l-23 -6z"/>
<path fill="#f0d8ba" d="M1665 1076l39 11l18 -21l-38 -10z"/>
<path fill="#edd2b7" d="M1697 1085l39 11l19 -21l-39 -11z"/>
<path fill="#e4ccb1" d="M1730 1094l39 11l18 -21l-39 -11z"/>
<path fill="#dec9ab" d="M1763 1103l39 11l18 -21l-40 -11z"/>
<path fill="#d5c3a8" d="M1795 1112l40 11l18 -21l-40 -11z"/>
<path fill="#cfbda2" d="M1829 1121l39 13l18 -21l-40 -13z"/>
<path fill="#c6ba9f" d="M1862 1132l40 14l17 -22l-40 -13z"/>
<path fill="#c0b49c" d="M1895 1143l40 15l17 -22l-40 -14z"/>
<path fill="#bab199" d="M1929 1156l40 15l17 -21l-40 -16zM1643 724l21 5l18 -18l-21 -5z"/>
<path fill="#b4ae96" d="M1963 1169l40 16l17 -22l-41 -16z"/>
<path fill="#aeab93" d="M1997 1182l41 14l16 -22l-41 -13zM1991 1133l40 15l16 -21l-40 -16z"/>
<path fill="#96f0d5" d="M804 774l30 12l22 -26l-29 -12z"/>
<path fill="#9cf0d8" d="M829 784l30 13l22 -26l-30 -13z"/>
<path fill="#a5f0d8" d="M854 794l30 13l22 -25l-30 -13z"/>
<path fill="#abf0d8" d="M878 805l30 13l22 -24l-30 -14z"/>
<path fill="#b1f0d8" d="M903 816l20 10l23 -25l-20 -10z"/>
<path fill="#b4edd5" d="M919 824l20 9l22 -24l-19 -10z"/>
<path fill="#baedd5" d="M935 831l19 10l23 -24l-19 -10z"/>
<path fill="#bdedd2" d="M950 839l20 9l23 -23l-20 -10z"/>
<path fill="#c3edd2" d="M966 846l20 10l23 -23l-20 -10z"/>
<path fill="#c6ead2" d="M982 854l20 8l23 -21l-20 -10z"/>
<path fill="#c9edd2" d="M997 861l20 8l23 -22l-20 -8z"/>
<path fill="#cfedd2" d="M1013 867l20 8l23 -21l-20 -9z"/>
<path fill="#d2edd2" d="M1029 873l20 8l23 -21l-20 -8z"/>
<path fill="#d8edd2" d="M1045 879l20 9l23 -21l-20 -8zM1094 876l21 9l23 -20l-21 -9z"/>
<path fill="#dbf0d5" d="M1061 886l20 8l23 -20l-20 -9z"/>
<path fill="#e1f3d5" d="M1077 892l20 8l23 -20l-21 -8z"/>
<path fill="#e4f3d8" d="M1093 898l20 8l23 -19l-21 -8z"/>
<path fill="#edf9db" d="M1124 909l21 7l23 -20l-21 -6zM1158 899l21 6l22 -19l-20 -6z"/>
<path fill="#f9ffe1" d="M1173 923l21 6l22 -20l-21 -5zM1190 908l21 6l23 -19l-21 -6z"/>
<path fill="#f9eacc" d="M1560 1027l23 6l20 -20l-22 -6zM1559 1007l22 5l20 -20l-22 -6zM1557 986l22 6l20 -21l-22 -5zM1556 966l22 6l20 -21l-22 -5zM1418 817l21 6l20 -18l-21 -6z"/>
<path fill="#f6e4c6" d="M1596 1037l22 6l20 -21l-22 -6zM1594 1016l22 6l20 -21l-22 -6zM1583 896l22 6l19 -19l-22 -6zM1596 863l22 5l19 -19l-22 -5zM1594 845l22 5l19 -19l-22 -5zM1592 827l22 5l19 -19l-22 -4z"/>
<path fill="#f0dbbd" d="M1649 1050l38 11l19 -20l-39 -11z"/>
<path fill="#ead5b7" d="M1681 1059l38 11l18 -21l-38 -10z"/>
<path fill="#e4cfb4" d="M1713 1068l39 10l18 -20l-39 -10z"/>
<path fill="#deccae" d="M1745 1077l39 10l18 -20l-39 -11z"/>
<path fill="#d8c6ab" d="M1777 1086l40 10l17 -20l-39 -11z"/>
<path fill="#c9bda2" d="M1843 1103l40 13l17 -21l-39 -12zM1825 1077l39 11l17 -21l-39 -10z"/>
<path fill="#bdb499" d="M1910 1125l40 15l16 -21l-39 -15z"/>
<path fill="#b7b196" d="M1943 1137l40 16l17 -21l-40 -16z"/>
<path fill="#b1ae93" d="M1977 1151l40 15l16 -21l-40 -16z"/>
<path fill="#abab90" d="M2011 1164l40 13l16 -21l-40 -14zM2004 1115l40 15l16 -21l-40 -15z"/>
<path fill="#a8a890" d="M2045 1175l41 12l16 -22l-41 -11zM2024 1146l41 13l15 -21l-40 -13zM2038 1128l40 13l16 -21l-41 -13z"/>
<path fill="#81eacc" d="M750 726l30 11l22 -26l-29 -11z"/>
<path fill="#8aedcf" d="M774 735l30 11l22 -27l-29 -10z"/>
<path fill="#90f0d5" d="M799 744l29 10l22 -26l-29 -10z"/>
<path fill="#99f0db" d="M823 752l29 13l22 -26l-29 -13z"/>
<path fill="#9ff0db" d="M847 762l30 14l22 -25l-30 -14z"/>
<path fill="#a5f0db" d="M872 773l30 14l22 -25l-30 -14z"/>
<path fill="#a8edd8" d="M897 784l30 14l21 -24l-30 -14z"/>
<path fill="#abedd5" d="M922 796l19 10l23 -24l-20 -11z"/>
<path fill="#aeead2" d="M937 804l20 10l22 -24l-19 -10z"/>
<path fill="#b1e7d2" d="M953 812l20 10l22 -23l-20 -11z"/>
<path fill="#b4e7cf" d="M969 820l19 10l23 -23l-20 -10z"/>
<path fill="#b7e7cc" d="M984 828l20 10l23 -22l-20 -11z"/>
<path fill="#bde7cc" d="M1000 836l20 9l22 -22l-19 -9z"/>
<path fill="#c0e7cc" d="M1016 843l20 9l22 -22l-20 -8z"/>
<path fill="#c3e7cc" d="M1031 850l20 8l23 -21l-20 -9z"/>
<path fill="#c9e7cc" d="M1047 856l20 9l23 -21l-20 -9z"/>
<path fill="#cfeacc" d="M1063 863l20 9l23 -21l-21 -9z"/>
<path fill="#d2eacf" d="M1079 870l20 8l23 -20l-21 -9z"/>
<path fill="#def0d2" d="M1110 883l21 8l23 -19l-21 -9z"/>
<path fill="#e4f3d5" d="M1126 889l21 7l23 -19l-21 -7z"/>
<path fill="#eaf6d8" d="M1142 894l21 7l22 -20l-20 -6zM1176 884l20 6l23 -19l-21 -6zM1209 874l21 6l21 -20l-20 -6z"/>
<path fill="#f3fcde" d="M1174 904l21 6l22 -20l-20 -5z"/>
<path fill="#ffffea" d="M1288 934l21 6l22 -19l-21 -6z"/>
<path fill="#f6e7c9" d="M1576 1011l23 6l20 -21l-23 -6zM1574 991l23 5l20 -20l-23 -6zM1573 970l22 6l20 -20l-22 -6zM1571 950l22 6l20 -20l-22 -6zM1569 931l22 5l20 -19l-22 -6z"/>
<path fill="#f3e1c3" d="M1611 1020l23 7l20 -21l-23 -6zM1609 831l21 5l19 -19l-21 -5z"/>
<path fill="#f0dec0" d="M1629 1025l23 6l19 -21l-22 -6z"/>
<path fill="#eddbbd" d="M1647 1030l22 6l20 -21l-23 -6z"/>
<path fill="#ead8ba" d="M1664 1034l38 10l19 -20l-38 -10z"/>
<path fill="#e4d2b4" d="M1696 1042l38 11l18 -20l-38 -10z"/>
<path fill="#deccb1" d="M1728 1051l38 11l18 -21l-38 -10z"/>
<path fill="#d8c9ab" d="M1760 1060l39 10l17 -20l-38 -10z"/>
<path fill="#d2c3a8" d="M1792 1069l39 10l18 -20l-39 -11z"/>
<path fill="#c3ba9f" d="M1858 1086l39 13l17 -21l-39 -12z"/>
<path fill="#bdb79c" d="M1891 1097l39 13l17 -21l-39 -13zM1872 1069l39 12l17 -20l-39 -12z"/>
<path fill="#b7b199" d="M1924 1108l40 14l16 -21l-40 -14z"/>
<path fill="#b1ae96" d="M1957 1120l40 15l16 -21l-39 -15z"/>
<path fill="#a2a58d" d="M2092 1167l42 11l15 -22l-41 -11zM2084 1122l41 11l15 -21l-40 -11zM2064 1093l40 13l15 -21l-40 -13z"/>
<path fill="#84eacf" d="M769 705l29 10l22 -26l-29 -11z"/>
<path fill="#8dedd5" d="M793 713l29 11l22 -26l-29 -11z"/>
<path fill="#93f0db" d="M817 722l29 11l22 -26l-29 -11z"/>
<path fill="#9cf3e1" d="M841 731l30 13l21 -27l-29 -12z"/>
<path fill="#9ff3e1" d="M865 741l30 14l22 -26l-30 -14z"/>
<path fill="#a2f0de" d="M890 753l30 13l21 -25l-29 -14z"/>
<path fill="#a5ead8" d="M915 764l30 14l21 -24l-30 -15z"/>
<path fill="#a5e7d2" d="M940 776l19 11l22 -25l-19 -11z"/>
<path fill="#a5e4cf" d="M955 785l20 10l22 -24l-19 -11z"/>
<path fill="#a8e1cc" d="M971 793l20 11l22 -24l-20 -11z"/>
<path fill="#abe1c9" d="M987 801l19 11l22 -23l-19 -12z"/>
<path fill="#aedec6" d="M1002 810l20 11l22 -23l-20 -12z"/>
<path fill="#b1dec6" d="M1018 818l20 10l22 -22l-20 -10z"/>
<path fill="#b4dec3" d="M1033 826l20 9l23 -22l-20 -9z"/>
<path fill="#b7dec3" d="M1049 833l20 9l22 -22l-20 -9z"/>
<path fill="#bde1c6" d="M1065 840l20 9l22 -21l-20 -10z"/>
<path fill="#c3e1c6" d="M1081 847l20 9l22 -21l-20 -9z"/>
<path fill="#c9e4c9" d="M1096 854l21 9l22 -21l-20 -9z"/>
<path fill="#cfe7cc" d="M1112 861l21 9l22 -20l-20 -10z"/>
<path fill="#d5eacc" d="M1128 868l21 8l22 -19l-21 -9z"/>
<path fill="#dbedd2" d="M1144 875l20 6l23 -19l-21 -7z"/>
<path fill="#e4f0d5" d="M1160 880l20 6l23 -19l-21 -7z"/>
<path fill="#f0f9db" d="M1192 889l20 6l23 -19l-21 -6z"/>
<path fill="#f6fcde" d="M1208 893l20 6l23 -19l-21 -6z"/>
<path fill="#fff0cf" d="M1523 977l22 6l20 -21l-22 -5z"/>
<path fill="#f3e4c6" d="M1592 995l22 6l20 -21l-22 -5zM1590 975l22 6l20 -21l-22 -5zM1588 955l22 5l20 -20l-22 -5zM1586 935l22 6l20 -20l-22 -6zM1585 915l22 6l19 -19l-22 -6zM1598 882l22 5l19 -19l-22 -5z"/>
<path fill="#f0e1c3" d="M1609 1000l23 6l19 -21l-22 -6zM1607 979l23 6l19 -20l-22 -6zM1603 939l22 6l20 -20l-22 -5zM1601 920l22 5l20 -19l-22 -6zM1600 900l21 6l20 -19l-22 -6zM1614 886l22 5l19 -19l-21 -5zM1612 867l22 6l19 -19l-21 -6z"/>
<path fill="#eddec0" d="M1627 1004l22 6l20 -20l-23 -6zM1625 984l22 6l20 -21l-23 -6zM1616 905l22 5l19 -19l-21 -6zM1623 817l21 5l19 -19l-21 -5z"/>
<path fill="#eadbbd" d="M1644 1009l23 6l19 -21l-22 -6z"/>
<path fill="#e7d8ba" d="M1662 1014l23 6l19 -21l-23 -6z"/>
<path fill="#e4d5b7" d="M1679 1017l39 11l17 -20l-37 -10z"/>
<path fill="#dbcfb1" d="M1711 1026l38 10l18 -20l-38 -10z"/>
<path fill="#d5c9ae" d="M1743 1034l38 11l18 -20l-39 -10z"/>
<path fill="#cfc6a8" d="M1775 1043l38 10l18 -20l-39 -10z"/>
<path fill="#c9c0a5" d="M1807 1052l39 10l17 -20l-39 -10z"/>
<path fill="#c3bd9f" d="M1839 1060l39 11l17 -20l-39 -11z"/>
<path fill="#b7b499" d="M1905 1079l39 13l17 -20l-40 -13zM1886 1052l39 12l17 -20l-39 -12z"/>
<path fill="#b1b196" d="M1938 1090l39 14l17 -21l-40 -13zM1919 1062l39 13l16 -20l-39 -13zM1688 718l21 4l17 -17l-21 -4z"/>
<path fill="#aeae93" d="M1971 1102l40 15l16 -21l-40 -15zM1952 1073l39 14l16 -21l-39 -13z"/>
<path fill="#84e7cf" d="M787 683l29 10l21 -29l-28 -10z"/>
<path fill="#8dedd8" d="M811 692l29 10l21 -29l-29 -10z"/>
<path fill="#96f0de" d="M835 700l29 11l21 -29l-29 -11z"/>
<path fill="#9cf3e4" d="M859 709l29 13l21 -29l-29 -13z"/>
<path fill="#9ff0e1" d="M884 720l29 14l21 -29l-29 -14z"/>
<path fill="#9feddb" d="M908 732l30 14l21 -28l-30 -15z"/>
<path fill="#9ce7d5" d="M933 743l29 15l21 -27l-29 -16z"/>
<path fill="#9ce1cf" d="M958 756l19 11l22 -28l-20 -11z"/>
<path fill="#9cdec9" d="M973 765l20 11l21 -28l-19 -11z"/>
<path fill="#9cdbc3" d="M989 774l19 11l22 -27l-20 -12z"/>
<path fill="#9fd8c0" d="M1005 783l19 11l21 -27l-19 -12z"/>
<path fill="#9fd5bd" d="M1020 791l20 12l21 -26l-19 -12z"/>
<path fill="#a2d5bd" d="M1036 801l19 10l22 -26l-20 -11z"/>
<path fill="#a8d5ba" d="M1051 809l20 9l22 -25l-20 -10z"/>
<path fill="#abd5ba" d="M1067 816l20 9l21 -25l-19 -9z"/>
<path fill="#b1d8bd" d="M1083 823l20 9l21 -24l-20 -10z"/>
<path fill="#b7dbbd" d="M1098 830l20 10l22 -24l-20 -10z"/>
<path fill="#bddbc0" d="M1114 838l20 9l22 -23l-20 -10z"/>
<path fill="#c6e1c3" d="M1130 845l20 9l22 -22l-20 -10z"/>
<path fill="#cce4c6" d="M1146 852l20 9l22 -21l-21 -10z"/>
<path fill="#d5e7cc" d="M1161 860l21 6l22 -21l-21 -7z"/>
<path fill="#dbedcf" d="M1177 865l21 6l21 -21l-20 -7z"/>
<path fill="#e4f0d2" d="M1193 870l21 6l21 -20l-20 -7zM1226 859l20 6l22 -21l-21 -6z"/>
<path fill="#f3f9db" d="M1225 879l21 5l21 -19l-20 -6z"/>
<path fill="#fcedcc" d="M1538 961l23 6l20 -20l-22 -6z"/>
<path fill="#e7dbbd" d="M1642 988l23 6l19 -20l-23 -6zM1640 968l22 6l19 -20l-22 -6zM1638 948l22 6l19 -20l-22 -6zM1635 928l23 6l19 -20l-22 -5zM1633 909l22 6l19 -20l-22 -5zM1646 875l22 6l18 -19l-21 -6z"/>
<path fill="#e4d8ba" d="M1659 993l23 6l19 -21l-22 -6zM1657 973l23 5l19 -20l-23 -6zM1650 913l22 6l19 -19l-22 -6z"/>
<path fill="#e1d5b7" d="M1677 997l23 6l19 -20l-23 -6z"/>
<path fill="#dbd2b4" d="M1694 1001l38 10l18 -19l-38 -10zM1692 982l23 6l18 -21l-22 -6z"/>
<path fill="#d5ccae" d="M1726 1010l38 10l18 -20l-38 -10z"/>
<path fill="#cfc6ab" d="M1757 1018l39 10l17 -19l-38 -10zM1647 757l21 4l18 -18l-21 -4z"/>
<path fill="#c6c3a5" d="M1789 1027l39 10l17 -20l-38 -10z"/>
<path fill="#c0bda2" d="M1821 1035l39 10l17 -20l-39 -10z"/>
<path fill="#baba9f" d="M1854 1044l39 10l16 -20l-39 -10zM1690 734l21 4l18 -17l-21 -4z"/>
<path fill="#a8ab93" d="M1985 1084l39 16l16 -21l-39 -15zM1965 1056l39 14l16 -21l-39 -13z"/>
<path fill="#a5a890" d="M2018 1097l39 16l16 -21l-40 -16z"/>
<path fill="#84e4c9" d="M805 659l29 10l20 -31l-28 -11z"/>
<path fill="#8dead2" d="M829 668l29 10l20 -31l-28 -11z"/>
<path fill="#93eddb" d="M853 677l29 10l20 -31l-29 -11z"/>
<path fill="#99f0de" d="M877 685l29 13l20 -31l-29 -13z"/>
<path fill="#99edde" d="M901 696l29 14l21 -31l-29 -15z"/>
<path fill="#99e7d5" d="M926 708l29 15l20 -31l-29 -15z"/>
<path fill="#96decc" d="M950 720l30 15l20 -30l-29 -16z"/>
<path fill="#93d8c6" d="M975 734l19 11l21 -31l-19 -12z"/>
<path fill="#93d5c0" d="M991 743l19 11l21 -31l-19 -11z"/>
<path fill="#90d2ba" d="M1006 752l20 11l20 -30l-19 -12z"/>
<path fill="#90cfb7" d="M1022 761l19 11l21 -29l-19 -12z"/>
<path fill="#93ccb4" d="M1038 770l19 12l21 -29l-20 -13z"/>
<path fill="#96ccb1" d="M1053 780l20 10l20 -29l-19 -11z"/>
<path fill="#99ccb1" d="M1069 788l19 10l21 -29l-19 -10z"/>
<path fill="#9cccb1" d="M1085 796l19 10l21 -28l-20 -11z"/>
<path fill="#a2ccb1" d="M1100 804l20 9l21 -27l-20 -10z"/>
<path fill="#a8cfb4" d="M1116 811l19 10l21 -26l-19 -11z"/>
<path fill="#b1d2b7" d="M1132 819l19 10l21 -25l-19 -11z"/>
<path fill="#bad8ba" d="M1147 827l20 10l21 -25l-20 -11z"/>
<path fill="#c0dbbd" d="M1163 835l20 9l21 -24l-20 -10z"/>
<path fill="#c9e1c3" d="M1179 843l20 7l21 -23l-20 -9z"/>
<path fill="#d2e7c9" d="M1194 848l21 7l21 -22l-20 -8z"/>
<path fill="#dbeacc" d="M1210 854l21 6l21 -21l-20 -8z"/>
<path fill="#edf6d8" d="M1242 863l20 6l22 -20l-21 -6z"/>
<path fill="#f6f9db" d="M1258 868l20 6l22 -20l-21 -6zM1290 857l21 6l21 -19l-21 -7z"/>
<path fill="#f9eac9" d="M1554 946l22 6l20 -20l-22 -6z"/>
<path fill="#ede1c3" d="M1605 959l23 6l19 -20l-22 -6z"/>
<path fill="#eadec0" d="M1622 964l23 5l19 -20l-22 -5zM1620 944l23 5l19 -19l-22 -6zM1618 924l22 6l20 -20l-22 -5zM1631 890l22 6l19 -20l-22 -5zM1629 871l22 6l19 -19l-22 -6z"/>
<path fill="#ded5b7" d="M1674 977l23 6l19 -20l-22 -6zM1672 957l22 6l19 -20l-22 -6zM1669 937l23 6l19 -20l-22 -6zM1667 918l22 5l19 -19l-22 -6zM1651 789l22 5l18 -18l-21 -4z"/>
<path fill="#d5cfb1" d="M1709 985l38 10l18 -19l-38 -10zM1707 966l22 6l19 -20l-23 -6zM1665 776l21 5l19 -18l-22 -5z"/>
<path fill="#ccc9ab" d="M1741 994l38 10l17 -20l-38 -10z"/>
<path fill="#c6c3a8" d="M1772 1002l38 10l17 -19l-38 -10z"/>
<path fill="#c0c0a2" d="M1804 1010l38 10l17 -19l-38 -10z"/>
<path fill="#b7ba9f" d="M1836 1019l38 10l17 -20l-39 -10z"/>
<path fill="#b4b79c" d="M1868 1027l39 10l16 -19l-39 -11z"/>
<path fill="#aeb496" d="M1900 1035l39 12l16 -20l-39 -11z"/>
<path fill="#abae96" d="M1932 1045l40 13l16 -20l-39 -13z"/>
<path fill="#a5ab90" d="M1998 1067l39 15l16 -20l-39 -15z"/>
<path fill="#a2a88d" d="M2031 1080l39 15l16 -20l-39 -16zM2011 1050l39 15l16 -20l-39 -15z"/>
<path fill="#7edec3" d="M823 633l28 10l20 -33l-28 -10z"/>
<path fill="#87e1cc" d="M846 642l29 10l20 -33l-28 -11z"/>
<path fill="#8de4d2" d="M870 650l29 11l20 -34l-29 -10z"/>
<path fill="#90e7d5" d="M894 659l29 13l20 -34l-29 -12z"/>
<path fill="#90e4d2" d="M918 670l29 14l20 -34l-29 -14z"/>
<path fill="#8ddecc" d="M943 682l29 15l20 -34l-29 -15z"/>
<path fill="#8ad5c3" d="M967 694l30 16l20 -33l-30 -16z"/>
<path fill="#87cfba" d="M993 708l18 12l21 -34l-19 -11z"/>
<path fill="#87ccb4" d="M1008 718l19 11l20 -33l-19 -12z"/>
<path fill="#84c6ae" d="M1024 727l19 12l20 -33l-19 -12z"/>
<path fill="#84c3ab" d="M1039 737l19 11l20 -32l-19 -12z"/>
<path fill="#84c0a5" d="M1055 746l19 12l20 -32l-19 -12z"/>
<path fill="#87c0a5" d="M1070 756l20 11l20 -31l-19 -12z"/>
<path fill="#8ac0a2" d="M1086 765l19 10l20 -31l-19 -10z"/>
<path fill="#8dc0a5" d="M1102 773l19 10l20 -30l-19 -11z"/>
<path fill="#96c3a5" d="M1117 781l20 11l20 -30l-19 -11z"/>
<path fill="#9cc6a8" d="M1133 790l19 10l21 -28l-20 -12z"/>
<path fill="#a5c9ab" d="M1149 798l19 11l21 -28l-20 -12z"/>
<path fill="#abcfb1" d="M1164 807l20 10l20 -27l-19 -11z"/>
<path fill="#b7d2b4" d="M1180 815l20 11l20 -26l-19 -12z"/>
<path fill="#c0d8ba" d="M1196 824l20 8l20 -25l-20 -9z"/>
<path fill="#c9dec0" d="M1211 830l20 8l21 -23l-20 -10z"/>
<path fill="#d2e4c6" d="M1227 836l20 8l21 -22l-20 -9z"/>
<path fill="#deeacc" d="M1243 842l20 7l21 -21l-20 -8z"/>
<path fill="#e7f0d2" d="M1259 847l20 7l21 -20l-20 -8z"/>
<path fill="#f0f3d5" d="M1274 852l21 7l21 -20l-20 -7z"/>
<path fill="#fffce1" d="M1322 866l21 6l21 -19l-21 -6z"/>
<path fill="#e1d8ba" d="M1655 953l22 5l19 -20l-22 -5zM1652 933l23 5l19 -19l-22 -6zM1662 880l22 5l19 -19l-22 -5zM1653 807l22 5l18 -18l-21 -5z"/>
<path fill="#d8d2b4" d="M1689 961l23 6l19 -20l-23 -6zM1687 942l22 5l19 -20l-22 -5zM1684 922l22 6l19 -20l-22 -5z"/>
<path fill="#ccccae" d="M1724 970l38 9l17 -19l-38 -9zM1718 931l23 5l18 -19l-22 -6z"/>
<path fill="#c6c6a8" d="M1755 978l38 10l17 -19l-38 -10z"/>
<path fill="#bdc0a5" d="M1786 986l38 10l17 -19l-37 -10z"/>
<path fill="#b7bd9f" d="M1818 994l38 10l17 -19l-38 -10zM1706 737l21 4l18 -17l-22 -4z"/>
<path fill="#b1b79c" d="M1850 1002l38 10l17 -19l-39 -10z"/>
<path fill="#abb499" d="M1881 1011l39 10l17 -20l-39 -10z"/>
<path fill="#a8b196" d="M1914 1019l39 12l16 -20l-39 -12zM1732 711l21 5l18 -17l-22 -4z"/>
<path fill="#a5ae93" d="M1946 1029l39 12l16 -20l-39 -12z"/>
<path fill="#a2ab90" d="M1978 1039l40 14l15 -21l-39 -13zM1745 699l21 5l17 -17l-21 -4z"/>
<path fill="#9fa58d" d="M2044 1063l39 15l16 -21l-40 -15z"/>
<path fill="#9fa58a" d="M2077 1076l40 13l15 -21l-40 -13zM1758 687l21 4l17 -16l-21 -5z"/>
<path fill="#9ca28a" d="M2110 1087l40 11l15 -21l-40 -11zM2144 1096l40 11l15 -21l-41 -10zM2090 1058l39 13l15 -20l-39 -13zM2123 1069l40 12l14 -21l-39 -11z"/>
<path fill="#78d5b7" d="M840 605l28 11l20 -35l-28 -10z"/>
<path fill="#7ed8c0" d="M863 614l29 10l20 -35l-29 -10z"/>
<path fill="#84dbc6" d="M887 622l29 11l19 -35l-28 -10z"/>
<path fill="#87dbc6" d="M911 631l29 13l19 -36l-28 -12z"/>
<path fill="#87d8c6" d="M935 641l29 15l20 -36l-29 -14z"/>
<path fill="#84d5c0" d="M960 653l29 16l19 -35l-29 -16z"/>
<path fill="#81ccb7" d="M984 666l29 17l20 -35l-29 -17z"/>
<path fill="#7ec6b1" d="M1009 681l19 11l20 -35l-19 -12z"/>
<path fill="#7bc3a8" d="M1025 690l19 12l19 -35l-18 -12z"/>
<path fill="#78bda5" d="M1040 700l19 12l20 -35l-19 -12z"/>
<path fill="#78ba9f" d="M1056 710l19 12l20 -34l-19 -13z"/>
<path fill="#75b799" d="M1072 720l18 12l20 -34l-19 -13z"/>
<path fill="#78b499" d="M1087 730l19 11l20 -33l-19 -12z"/>
<path fill="#7bb496" d="M1103 739l19 11l19 -33l-19 -11z"/>
<path fill="#81b799" d="M1118 748l19 11l20 -32l-19 -12z"/>
<path fill="#87b799" d="M1134 757l19 11l20 -31l-19 -13z"/>
<path fill="#8dba9f" d="M1150 766l19 11l20 -30l-20 -13z"/>
<path fill="#96c0a2" d="M1165 775l20 11l20 -29l-20 -13z"/>
<path fill="#9fc3a5" d="M1181 784l19 12l20 -29l-19 -12z"/>
<path fill="#a8c9ab" d="M1197 794l19 11l20 -28l-19 -12z"/>
<path fill="#b4cfb1" d="M1212 803l20 9l20 -26l-19 -11z"/>
<path fill="#bdd5b7" d="M1228 810l20 10l20 -25l-20 -11z"/>
<path fill="#c9dbbd" d="M1244 818l20 9l20 -23l-20 -11z"/>
<path fill="#d2e1c3" d="M1259 825l21 8l20 -22l-20 -9z"/>
<path fill="#dee7c9" d="M1275 831l20 7l21 -20l-20 -9z"/>
<path fill="#e7edcf" d="M1291 837l20 6l21 -20l-20 -7z"/>
<path fill="#f0f0d2" d="M1307 842l20 6l21 -19l-20 -7z"/>
<path fill="#f6f3d8" d="M1323 847l20 6l21 -19l-21 -7z"/>
<path fill="#fcf6db" d="M1338 851l21 6l21 -19l-21 -6z"/>
<path fill="#fff0d5" d="M1501 894l22 6l20 -19l-22 -6zM1418 836l21 6l20 -18l-20 -6zM1499 858l21 5l20 -18l-21 -5z"/>
<path fill="#d2cfb1" d="M1704 946l22 6l19 -20l-22 -6zM1701 926l23 6l18 -20l-22 -5z"/>
<path fill="#cfccae" d="M1721 950l23 6l18 -20l-22 -5z"/>
<path fill="#c6c9ab" d="M1738 954l38 10l17 -19l-37 -10zM1695 766l21 5l18 -17l-21 -5z"/>
<path fill="#bdc3a5" d="M1769 962l38 10l17 -19l-37 -10zM1708 753l22 5l17 -17l-21 -5z"/>
<path fill="#b7bda2" d="M1801 970l38 10l16 -19l-37 -10z"/>
<path fill="#aeba9c" d="M1832 978l38 10l17 -19l-38 -10z"/>
<path fill="#a8b499" d="M1863 986l39 10l16 -19l-38 -10z"/>
<path fill="#a5b196" d="M1895 995l39 10l16 -20l-38 -10z"/>
<path fill="#a2ae93" d="M1927 1003l39 11l16 -19l-39 -12z"/>
<path fill="#9fab90" d="M1959 1012l39 13l16 -20l-39 -12z"/>
<path fill="#9fa88d" d="M1992 1022l39 14l15 -20l-39 -13z"/>
<path fill="#9ca58d" d="M2024 1033l39 15l16 -20l-39 -15z"/>
<path fill="#9ca58a" d="M2057 1046l39 15l15 -21l-39 -15zM1801 681l22 5l16 -16l-21 -5z"/>
<path fill="#72ccae" d="M857 576l28 10l19 -35l-28 -10z"/>
<path fill="#78cfb4" d="M880 585l28 10l20 -36l-28 -10z"/>
<path fill="#7bd2b7" d="M904 593l28 10l20 -36l-29 -9z"/>
<path fill="#7ed2ba" d="M928 602l28 12l20 -37l-29 -11z"/>
<path fill="#7ecfb7" d="M952 612l29 14l19 -37l-29 -14z"/>
<path fill="#7bc9b4" d="M976 624l29 15l19 -36l-29 -16z"/>
<path fill="#78c3ab" d="M1001 637l29 17l19 -36l-29 -18z"/>
<path fill="#75bda5" d="M1026 652l19 12l19 -37l-19 -12z"/>
<path fill="#72ba9f" d="M1041 662l19 12l19 -37l-18 -12z"/>
<path fill="#6fb499" d="M1057 671l19 12l19 -36l-19 -12z"/>
<path fill="#6cb193" d="M1072 681l19 13l20 -36l-19 -13z"/>
<path fill="#6cae90" d="M1088 691l19 13l19 -35l-19 -13z"/>
<path fill="#6cab8d" d="M1103 702l19 12l20 -35l-19 -13z"/>
<path fill="#6fab8d" d="M1119 712l19 11l19 -35l-19 -11z"/>
<path fill="#75ab8d" d="M1135 721l19 12l19 -34l-19 -13z"/>
<path fill="#7bae90" d="M1150 730l19 12l20 -32l-19 -13z"/>
<path fill="#81b193" d="M1166 740l19 12l20 -32l-20 -13z"/>
<path fill="#8ab496" d="M1182 750l19 13l19 -31l-19 -14z"/>
<path fill="#93ba9c" d="M1197 760l20 13l19 -30l-19 -14z"/>
<path fill="#9cbda2" d="M1213 770l19 13l20 -29l-19 -14z"/>
<path fill="#a8c3a8" d="M1229 781l19 11l20 -28l-19 -12z"/>
<path fill="#b1c9ae" d="M1244 789l20 12l20 -25l-20 -14z"/>
<path fill="#bdcfb4" d="M1260 798l20 11l20 -23l-20 -13z"/>
<path fill="#c6d5ba" d="M1276 807l20 9l20 -22l-20 -11z"/>
<path fill="#d2dbc0" d="M1291 814l21 8l20 -20l-20 -10z"/>
<path fill="#dee1c6" d="M1307 821l21 7l20 -20l-20 -8z"/>
<path fill="#e7e7cc" d="M1323 826l20 7l21 -19l-20 -8z"/>
<path fill="#f0edcf" d="M1339 832l20 6l21 -19l-21 -7z"/>
<path fill="#f6f0d2" d="M1355 837l20 6l21 -19l-21 -6z"/>
<path fill="#c9c9ab" d="M1736 935l22 6l18 -20l-22 -6z"/>
<path fill="#c0c6a8" d="M1753 939l37 9l17 -18l-37 -10zM1761 886l22 6l18 -19l-22 -6z"/>
<path fill="#b7c0a2" d="M1784 947l37 9l17 -18l-37 -10z"/>
<path fill="#aeba9f" d="M1815 955l37 9l17 -18l-38 -10zM1811 916l38 10l16 -19l-37 -9z"/>
<path fill="#a8b799" d="M1846 963l38 9l16 -19l-38 -9z"/>
<path fill="#a2b196" d="M1877 971l38 9l17 -19l-38 -9zM1355 743l20 14l19 -21l-20 -16z"/>
<path fill="#9fae93" d="M1909 979l38 10l16 -19l-38 -10zM1761 702l21 5l17 -16l-21 -5z"/>
<path fill="#9cab90" d="M1941 987l38 11l16 -19l-38 -11zM1789 694l21 4l17 -16l-21 -5z"/>
<path fill="#9ca890" d="M1973 996l38 12l16 -19l-39 -12z"/>
<path fill="#99a88d" d="M2005 1006l39 13l15 -20l-39 -12zM1817 685l21 5l17 -17l-21 -5z"/>
<path fill="#99a58a" d="M2037 1017l39 14l15 -20l-38 -14z"/>
<path fill="#99a28a" d="M2070 1029l39 15l15 -20l-39 -15zM2102 1041l40 13l14 -20l-39 -13zM2082 1012l39 15l15 -20l-39 -15z"/>
<path fill="#a29c87" d="M2337 1107l42 11l13 -21l-41 -10zM2314 1081l41 11l14 -21l-41 -10zM2349 1090l41 11l13 -21l-41 -10zM2292 1055l40 11l14 -20l-41 -10zM2326 1064l40 11l13 -20l-40 -11zM2303 1039l41 10l13 -19l-40 -11zM2281 1014l40 10l13 -19l-39 -10zM2260 989l39 11l13 -19l-39 -11zM2271 973l39 11l13 -19l-39 -11zM2325 790l37 14l12 -17l-37 -13zM1400 132l19 6l18 -16l-19 -6z"/>
<path fill="#6cc6a5" d="M873 547l28 10l20 -36l-28 -10z"/>
<path fill="#72c9ab" d="M897 555l28 10l19 -36l-28 -10z"/>
<path fill="#75c9ae" d="M920 563l29 10l19 -36l-28 -10zM944 571l29 12l19 -37l-29 -11z"/>
<path fill="#75c6ae" d="M968 581l29 14l19 -37l-29 -14z"/>
<path fill="#75c3a8" d="M993 593l28 15l19 -37l-29 -16z"/>
<path fill="#72bda2" d="M1017 606l29 17l19 -36l-29 -18z"/>
<path fill="#6fb79c" d="M1042 621l19 13l19 -38l-19 -12z"/>
<path fill="#6cb196" d="M1058 631l18 13l19 -37l-18 -13zM1032 458l29 12l18 -34l-28 -11zM1024 423l28 9l19 -32l-28 -8z"/>
<path fill="#69ae93" d="M1073 642l19 12l19 -37l-19 -12z"/>
<path fill="#66ab8d" d="M1089 652l18 12l19 -37l-18 -12z"/>
<path fill="#66a88a" d="M1104 662l19 13l19 -37l-19 -13z"/>
<path fill="#66a587" d="M1120 673l18 12l19 -36l-18 -13zM1105 539l19 12l18 -36l-18 -13z"/>
<path fill="#69a587" d="M1135 683l19 12l19 -36l-19 -12zM1121 469l18 13l19 -34l-18 -12z"/>
<path fill="#6ca587" d="M1151 692l19 13l19 -35l-19 -13z"/>
<path fill="#72a587" d="M1166 703l19 12l19 -33l-19 -14z"/>
<path fill="#78a88a" d="M1182 713l19 13l19 -33l-19 -14z"/>
<path fill="#7eab8d" d="M1198 724l19 13l19 -32l-19 -14z"/>
<path fill="#87ae93" d="M1213 735l20 13l19 -31l-19 -14z"/>
<path fill="#90b496" d="M1229 746l19 14l20 -30l-20 -15zM1879 761l22 5l16 -17l-21 -5zM1875 744l22 5l16 -17l-21 -5zM1856 724l21 5l17 -17l-22 -5z"/>
<path fill="#99ba9c" d="M1245 757l19 13l20 -28l-20 -15z"/>
<path fill="#a5bda2" d="M1260 767l20 14l20 -26l-20 -16z"/>
<path fill="#b1c6a8" d="M1276 778l20 13l20 -24l-20 -15z"/>
<path fill="#baccae" d="M1292 788l20 11l20 -22l-20 -13z"/>
<path fill="#c6d2b7" d="M1307 797l21 9l20 -21l-20 -11z"/>
<path fill="#d2d8bd" d="M1323 804l21 9l20 -20l-21 -10z"/>
<path fill="#dedec3" d="M1339 811l20 7l21 -19l-21 -8z"/>
<path fill="#e7e4c6" d="M1355 817l20 7l21 -19l-21 -8z"/>
<path fill="#f6edcf" d="M1386 827l21 6l20 -19l-20 -6z"/>
<path fill="#fff3d8" d="M1450 845l22 6l20 -18l-21 -6z"/>
<path fill="#ffeacf" d="M1548 869l22 5l19 -18l-21 -5zM1547 852l21 4l20 -18l-22 -5zM1465 813l21 6l20 -17l-21 -7zM1481 818l21 6l20 -18l-21 -6zM1529 831l21 4l20 -18l-21 -4zM1545 834l22 5l19 -19l-21 -4z"/>
<path fill="#e4dbbd" d="M1648 894l22 6l19 -19l-22 -6z"/>
<path fill="#ded8ba" d="M1665 899l22 5l19 -19l-22 -6zM1674 847l22 5l18 -18l-21 -6zM1672 829l22 5l18 -18l-22 -6z"/>
<path fill="#d8d5b7" d="M1682 903l22 5l18 -19l-22 -5zM1691 851l22 5l18 -18l-22 -6zM1688 833l22 5l18 -18l-21 -6z"/>
<path fill="#d2d2b4" d="M1699 907l22 6l18 -20l-22 -5zM1707 855l22 5l19 -18l-22 -6zM1705 837l22 5l18 -18l-22 -6zM1702 819l22 5l18 -18l-22 -5z"/>
<path fill="#cfcfb1" d="M1716 911l22 6l18 -19l-22 -6zM1713 892l22 6l18 -19l-22 -6zM1710 874l22 5l18 -19l-22 -5zM1681 780l21 5l19 -18l-22 -5z"/>
<path fill="#c9c9ae" d="M1733 916l22 5l18 -19l-22 -6zM1679 763l21 4l18 -17l-21 -5z"/>
<path fill="#c3c6ab" d="M1750 920l22 6l18 -20l-22 -5z"/>
<path fill="#bac3a5" d="M1767 924l37 9l17 -18l-37 -10zM1778 890l22 6l18 -19l-22 -6zM1724 757l22 5l17 -17l-21 -5z"/>
<path fill="#b1bda2" d="M1798 931l37 10l17 -19l-38 -9z"/>
<path fill="#abb79c" d="M1828 939l38 10l17 -19l-38 -9z"/>
<path fill="#a2b499" d="M1859 947l38 10l17 -19l-38 -9zM1324 749l19 15l20 -23l-20 -16zM1856 909l37 9l16 -18l-37 -9z"/>
<path fill="#9cb193" d="M1891 955l38 10l16 -19l-38 -10zM1776 706l21 5l18 -17l-22 -5z"/>
<path fill="#99ab90" d="M1922 963l39 10l15 -19l-38 -10zM1954 971l38 11l16 -19l-38 -11z"/>
<path fill="#96a88d" d="M1986 980l38 12l16 -19l-39 -12zM1967 955l38 11l16 -18l-38 -11z"/>
<path fill="#96a58a" d="M2018 990l38 13l16 -20l-39 -12zM2050 1000l39 15l15 -20l-39 -14zM1845 676l21 5l17 -17l-22 -4z"/>
<path fill="#99a287" d="M2115 1025l39 13l14 -21l-39 -12z"/>
<path fill="#999f87" d="M2147 1035l40 12l14 -20l-39 -12zM2127 1008l39 13l14 -20l-38 -13zM2159 1019l40 11l14 -19l-39 -12zM2171 1002l40 12l14 -20l-39 -11zM2151 975l39 13l14 -20l-39 -12zM2183 986l39 12l14 -20l-39 -12zM2163 959l39 13l13 -19l-38 -13zM2175 943l38 13l14 -19l-38 -13zM2186 928l38 12l14 -19l-38 -12zM2166 901l38 13l14 -18l-38 -13zM2178 886l37 13l14 -18l-38 -13zM2189 872l38 12l13 -18l-38 -12zM2200 857l38 12l13 -18l-38 -12zM2211 842l38 12l13 -18l-38 -11zM2222 828l37 11l13 -17l-37 -11z"/>
<path fill="#66c09f" d="M890 517l28 10l19 -36l-28 -10z"/>
<path fill="#6cc3a2" d="M913 525l28 9l19 -36l-28 -9z"/>
<path fill="#6fc3a5" d="M937 533l28 9l19 -36l-28 -9zM960 541l29 11l19 -37l-29 -11z"/>
<path fill="#6fc0a5" d="M984 550l29 13l19 -37l-29 -13z"/>
<path fill="#6fba9f" d="M1009 561l28 16l19 -37l-29 -16z"/>
<path fill="#6cb799" d="M1033 574l29 18l19 -36l-29 -19zM1025 529l28 16l19 -36l-29 -16z"/>
<path fill="#69b196" d="M1058 590l19 13l19 -38l-19 -12zM1049 543l29 18l18 -36l-28 -19zM1040 498l29 16l19 -35l-29 -16z"/>
<path fill="#66ae90" d="M1074 601l18 12l19 -37l-18 -13zM1074 559l18 13l19 -37l-18 -13zM970 376l28 9l20 -28l-29 -9z"/>
<path fill="#66a88d" d="M1089 611l19 12l19 -37l-19 -13zM1089 570l19 12l19 -37l-19 -13zM1090 528l18 13l19 -37l-18 -12z"/>
<path fill="#63a587" d="M1104 621l19 13l19 -38l-19 -12zM1105 580l18 12l19 -37l-18 -12z"/>
<path fill="#63a284" d="M1120 631l19 13l19 -37l-19 -13zM1120 590l19 13l19 -37l-19 -13zM1120 549l19 12l19 -36l-19 -13z"/>
<path fill="#639f81" d="M1135 642l19 13l19 -37l-19 -13zM1151 653l19 12l19 -36l-19 -13zM1136 519l18 12l19 -35l-18 -13z"/>
<path fill="#669c81" d="M1167 663l18 13l19 -35l-19 -14zM1167 462l18 12l19 -31l-18 -12z"/>
<path fill="#699f81" d="M1182 674l19 14l19 -35l-19 -15z"/>
<path fill="#6c9f81" d="M1198 685l19 14l19 -33l-19 -15z"/>
<path fill="#72a284" d="M1213 697l20 14l19 -32l-20 -16z"/>
<path fill="#7ba587" d="M1229 709l19 14l19 -31l-19 -16zM2046 736l36 8l14 -16l-36 -8zM1983 691l35 8l15 -15l-36 -8z"/>
<path fill="#81a88d" d="M1245 720l19 16l19 -31l-19 -16z"/>
<path fill="#8dae93" d="M1261 733l19 14l19 -28l-19 -17zM1916 802l37 9l15 -17l-37 -9z"/>
<path fill="#96b499" d="M1276 744l20 16l19 -26l-19 -18z"/>
<path fill="#a2ba9f" d="M1292 757l20 15l19 -24l-19 -17z"/>
<path fill="#aec0a5" d="M1308 769l20 12l19 -22l-20 -14z"/>
<path fill="#bac6ab" d="M1323 779l21 11l19 -21l-20 -13z"/>
<path fill="#c6ccb1" d="M1339 788l20 9l20 -20l-20 -10z"/>
<path fill="#d2d5ba" d="M1355 795l20 9l20 -20l-20 -9z"/>
<path fill="#dedbc0" d="M1370 802l21 7l20 -19l-20 -8z"/>
<path fill="#eae1c6" d="M1386 807l21 7l20 -19l-21 -7z"/>
<path fill="#f3e4c9" d="M1402 812l21 7l20 -19l-21 -6z"/>
<path fill="#ffedd2" d="M1450 827l21 6l20 -18l-21 -7zM1514 844l21 5l20 -18l-21 -5z"/>
<path fill="#dbd5b7" d="M1679 884l22 5l19 -19l-22 -5z"/>
<path fill="#d5d2b4" d="M1696 888l22 6l18 -20l-22 -5zM1683 797l22 5l18 -18l-21 -5z"/>
<path fill="#c9ccae" d="M1730 897l22 5l18 -19l-22 -6zM1727 878l22 5l18 -19l-22 -5z"/>
<path fill="#c3c9ab" d="M1747 901l22 5l18 -19l-22 -5zM1744 882l22 5l18 -19l-22 -5zM1711 770l21 5l18 -17l-21 -5z"/>
<path fill="#bdc6a8" d="M1764 905l22 6l18 -20l-22 -5z"/>
<path fill="#b7c0a5" d="M1781 909l37 9l17 -18l-37 -9z"/>
<path fill="#a5b799" d="M1842 924l38 10l16 -19l-38 -9z"/>
<path fill="#9fb196" d="M1873 932l38 9l16 -18l-38 -10z"/>
<path fill="#99ae93" d="M1904 940l38 9l16 -18l-38 -10zM1900 902l37 9l16 -18l-38 -9z"/>
<path fill="#96ab90" d="M1935 948l39 9l15 -18l-38 -10z"/>
<path fill="#93a58d" d="M1999 964l38 12l15 -19l-38 -11zM1370 724l20 16l19 -21l-20 -18z"/>
<path fill="#93a58a" d="M2030 974l39 12l15 -19l-38 -12zM2011 949l39 11l15 -19l-38 -11z"/>
<path fill="#96a28a" d="M2063 984l38 14l15 -19l-38 -14z"/>
<path fill="#96a287" d="M2095 996l38 14l15 -20l-39 -14zM1857 664l21 5l17 -17l-22 -4z"/>
<path fill="#a59c87" d="M2360 1073l41 11l12 -20l-40 -11zM2337 1048l40 10l13 -20l-40 -10zM2314 1023l40 10l13 -20l-39 -10zM2292 998l40 10l13 -19l-39 -10zM1698 688l21 6l18 -17l-21 -7zM1404 269l19 13l18 -24l-19 -13zM1414 137l19 7l19 -17l-20 -7zM1428 142l20 9l18 -18l-19 -8zM1443 148l19 10l18 -19l-19 -8z"/>
<path fill="#63bd9c" d="M906 487l28 9l19 -35l-28 -9z"/>
<path fill="#66bd9c" d="M929 495l28 9l19 -36l-28 -8z"/>
<path fill="#69bd9f" d="M953 503l28 9l19 -36l-28 -9z"/>
<path fill="#6cbd9f" d="M976 510l29 11l19 -37l-29 -10z"/>
<path fill="#6cba9c" d="M1000 519l29 13l19 -37l-29 -13z"/>
<path fill="#609f81" d="M1136 600l18 14l19 -37l-19 -14zM1136 559l18 13l19 -37l-18 -12z"/>
<path fill="#5d9c7e" d="M1151 611l19 13l19 -36l-19 -14z"/>
<path fill="#5d997b" d="M1167 622l18 13l19 -36l-19 -13z"/>
<path fill="#5d967b" d="M1182 633l19 14l19 -35l-19 -15zM1167 539l18 14l19 -36l-19 -13z"/>
<path fill="#609678" d="M1198 644l19 15l18 -34l-18 -16z"/>
<path fill="#63967b" d="M1213 657l20 15l18 -34l-19 -16zM1182 472l19 13l19 -32l-19 -13z"/>
<path fill="#66967b" d="M1229 669l19 15l19 -32l-19 -17z"/>
<path fill="#6c997e" d="M1245 682l19 15l19 -31l-19 -17zM2127 608l34 7l13 -14l-35 -7z"/>
<path fill="#759c81" d="M1261 694l19 17l19 -31l-20 -18zM2019 613l21 5l15 -16l-21 -4zM2030 602l21 4l15 -15l-21 -5zM2041 590l21 5l14 -16l-21 -4zM2051 579l22 5l14 -16l-21 -4zM2067 582l21 5l14 -16l-21 -4z"/>
<path fill="#7ea287" d="M1276 708l20 16l19 -29l-20 -18zM1182 403l19 12l19 -28l-19 -12z"/>
<path fill="#87a88d" d="M1292 721l20 18l19 -26l-20 -21zM1988 802l36 9l15 -17l-37 -8z"/>
<path fill="#93ae93" d="M1308 736l20 16l19 -24l-20 -19zM1908 851l37 9l15 -18l-36 -9z"/>
<path fill="#aebaa2" d="M1339 761l20 13l20 -21l-20 -15z"/>
<path fill="#bdc3a8" d="M1355 771l20 11l20 -21l-20 -11z"/>
<path fill="#c9c9b1" d="M1370 779l21 10l20 -20l-21 -10z"/>
<path fill="#d5d2b7" d="M1386 787l20 8l20 -19l-20 -9zM1693 869l22 6l19 -19l-22 -6zM1686 815l22 5l18 -18l-22 -5z"/>
<path fill="#e1d8bd" d="M1402 793l20 7l20 -19l-20 -7zM1660 861l22 5l18 -18l-21 -6z"/>
<path fill="#f6e1c9" d="M1433 803l21 6l20 -18l-21 -6z"/>
<path fill="#ffe7cc" d="M1561 838l22 4l19 -18l-21 -5zM1496 804l21 6l19 -17l-21 -6zM1512 809l21 6l19 -18l-21 -6zM1528 813l21 5l19 -18l-21 -4zM1544 817l21 5l19 -18l-21 -5z"/>
<path fill="#e7dbc0" d="M1643 857l22 5l19 -18l-22 -6zM1641 838l22 6l19 -19l-22 -5zM1639 820l22 6l18 -18l-21 -6z"/>
<path fill="#dbd5ba" d="M1677 865l22 6l18 -19l-22 -6zM1670 811l21 5l18 -18l-21 -5z"/>
<path fill="#b1c0a2" d="M1795 894l37 9l16 -18l-37 -9zM1737 744l22 5l17 -17l-21 -5z"/>
<path fill="#a8ba9c" d="M1825 901l37 10l17 -18l-38 -10zM1751 731l21 5l17 -17l-21 -5z"/>
<path fill="#9cb196" d="M1886 917l38 9l16 -18l-38 -9zM1882 880l37 9l16 -18l-37 -9z"/>
<path fill="#96ae90" d="M1917 924l38 10l16 -18l-38 -10z"/>
<path fill="#93a890" d="M1948 932l39 10l15 -19l-38 -9zM1339 729l20 17l19 -23l-20 -18zM1065 249l28 12l19 -23l-28 -13z"/>
<path fill="#93a88d" d="M1980 940l38 11l15 -19l-38 -10zM1961 917l38 10l16 -19l-38 -9z"/>
<path fill="#93a28a" d="M2043 958l39 12l14 -19l-38 -12zM2075 968l38 14l15 -19l-38 -14zM2056 943l38 12l15 -19l-39 -12z"/>
<path fill="#969f87" d="M2107 980l39 14l14 -20l-38 -14zM2139 991l39 13l14 -19l-39 -13zM2119 964l39 13l14 -19l-38 -14zM2131 948l38 13l15 -19l-39 -13zM2143 932l38 13l14 -18l-38 -14zM2155 917l38 13l14 -19l-38 -13zM2158 862l38 12l13 -18l-37 -12zM2169 847l38 12l13 -18l-37 -11z"/>
<path fill="#a89c87" d="M2370 1056l41 11l13 -20l-41 -10zM2348 1031l40 11l13 -20l-40 -10zM2325 1007l40 10l13 -19l-40 -11zM2303 982l40 10l13 -19l-40 -10zM1460 225l19 11l18 -22l-19 -10zM1473 185l19 10l17 -20l-19 -10z"/>
<path fill="#60b796" d="M922 457l28 10l19 -34l-28 -10z"/>
<path fill="#63ba99" d="M945 465l28 9l19 -34l-28 -9z"/>
<path fill="#66ba9c" d="M969 473l28 8l19 -35l-28 -8z"/>
<path fill="#69b799" d="M992 480l29 10l19 -36l-29 -9z"/>
<path fill="#69b499" d="M1016 488l29 12l18 -35l-28 -12z"/>
<path fill="#69ae90" d="M1065 512l29 18l18 -35l-29 -19z"/>
<path fill="#5d997e" d="M1151 570l19 13l19 -36l-19 -14z"/>
<path fill="#5a9678" d="M1167 581l18 13l19 -36l-19 -14z"/>
<path fill="#5a9375" d="M1182 592l19 13l19 -35l-19 -14z"/>
<path fill="#579075" d="M1198 603l19 15l18 -35l-19 -16zM1197 521l19 14l19 -34l-19 -14z"/>
<path fill="#578d72" d="M1213 615l19 16l19 -35l-19 -16zM1229 628l19 16l19 -34l-19 -17zM1213 493l18 14l19 -31l-19 -14z"/>
<path fill="#5a8d72" d="M1245 641l19 16l18 -32l-19 -18zM1228 467l19 15l19 -30l-19 -14z"/>
<path fill="#609075" d="M1260 654l20 17l18 -32l-19 -17z"/>
<path fill="#669078" d="M1276 668l19 18l19 -31l-19 -19z"/>
<path fill="#6f967b" d="M1292 682l19 19l19 -29l-19 -20zM2182 620l35 7l13 -14l-35 -8z"/>
<path fill="#789981" d="M1308 697l19 21l19 -27l-20 -23z"/>
<path fill="#87a287" d="M1323 714l20 19l19 -24l-20 -22zM2089 810l37 9l14 -17l-37 -9zM2101 796l37 9l13 -17l-36 -9z"/>
<path fill="#b1b79f" d="M1370 754l20 12l20 -20l-20 -13z"/>
<path fill="#c0c0a8" d="M1386 764l20 10l20 -20l-21 -11z"/>
<path fill="#ccc9ae" d="M1401 772l21 8l19 -19l-20 -9zM1663 760l21 4l18 -18l-21 -4z"/>
<path fill="#dbcfb7" d="M1417 778l21 7l19 -18l-20 -8z"/>
<path fill="#e7d8bd" d="M1433 784l20 7l20 -19l-21 -7zM1637 803l22 5l18 -18l-21 -5z"/>
<path fill="#f0dbc3" d="M1448 789l21 7l20 -18l-21 -7z"/>
<path fill="#f9e1c6" d="M1464 794l21 7l20 -18l-21 -7zM1574 807l22 4l19 -18l-21 -4z"/>
<path fill="#e4d8bd" d="M1658 843l22 5l18 -19l-22 -5zM1656 824l21 6l19 -18l-22 -6z"/>
<path fill="#ccccb1" d="M1724 859l22 6l18 -19l-22 -6zM1697 783l22 6l18 -18l-22 -5z"/>
<path fill="#c6c9ae" d="M1741 863l22 6l18 -19l-22 -5z"/>
<path fill="#c0c6ab" d="M1758 867l22 6l18 -19l-22 -5z"/>
<path fill="#bac3a8" d="M1774 872l23 5l17 -19l-22 -5z"/>
<path fill="#b4c0a5" d="M1791 876l23 5l17 -19l-22 -5z"/>
<path fill="#aebd9f" d="M1808 879l37 9l16 -17l-36 -10z"/>
<path fill="#a5b79c" d="M1838 887l38 9l16 -18l-37 -9zM1835 850l37 9l16 -17l-37 -9z"/>
<path fill="#9fb496" d="M1869 894l37 9l16 -18l-37 -9z"/>
<path fill="#93ab90" d="M1930 909l38 10l16 -18l-38 -10zM1943 895l38 9l15 -18l-37 -9zM1925 873l38 9l15 -18l-37 -9z"/>
<path fill="#90a58d" d="M1993 925l38 10l15 -18l-38 -10zM1987 887l37 10l15 -18l-37 -9z"/>
<path fill="#90a58a" d="M2024 934l38 11l15 -19l-38 -11zM2005 910l38 10l15 -18l-38 -10zM1888 671l22 4l16 -16l-21 -5z"/>
<path fill="#93a287" d="M2087 952l39 14l14 -19l-38 -13zM1885 655l21 5l16 -16l-21 -5z"/>
<path fill="#ab9c8a" d="M2381 1040l41 10l12 -19l-40 -11zM2358 1015l41 10l12 -19l-40 -10zM2392 1024l40 10l13 -20l-41 -10zM2336 991l40 10l13 -19l-40 -10zM1537 705l20 9l17 -22l-19 -10z"/>
<path fill="#60b493" d="M938 429l28 9l19 -32l-28 -10z"/>
<path fill="#63b796" d="M961 437l28 8l20 -33l-29 -8z"/>
<path fill="#66b799" d="M985 444l28 8l19 -33l-28 -8z"/>
<path fill="#69b496" d="M1008 451l29 9l19 -34l-29 -9zM1000 416l29 8l19 -31l-28 -8z"/>
<path fill="#6cae93" d="M1056 468l29 16l18 -34l-28 -16z"/>
<path fill="#69ab8d" d="M1080 481l29 19l19 -34l-29 -19z"/>
<path fill="#69a58a" d="M1105 498l19 13l19 -36l-19 -12z"/>
<path fill="#66a287" d="M1121 508l18 13l19 -35l-19 -13z"/>
<path fill="#609c7e" d="M1151 529l19 13l19 -36l-19 -13z"/>
<path fill="#579375" d="M1182 550l19 14l18 -35l-18 -14z"/>
<path fill="#548d72" d="M1198 562l18 14l19 -35l-19 -15z"/>
<path fill="#518a6f" d="M1213 573l19 16l19 -35l-19 -15zM1213 532l19 15l18 -33l-19 -15z"/>
<path fill="#51876c" d="M1229 586l19 16l18 -33l-19 -17z"/>
<path fill="#4e846c" d="M1244 599l19 17l19 -33l-19 -17z"/>
<path fill="#51846c" d="M1260 613l19 17l19 -32l-20 -18z"/>
<path fill="#54846c" d="M1276 627l19 18l18 -31l-19 -19z"/>
<path fill="#57876f" d="M1291 642l20 19l18 -31l-19 -20z"/>
<path fill="#608a72" d="M1307 657l20 20l18 -28l-19 -22z"/>
<path fill="#698d78" d="M1323 673l19 23l19 -26l-20 -25z"/>
<path fill="#78937e" d="M1339 692l19 21l19 -24l-20 -24z"/>
<path fill="#849c84" d="M1355 709l19 19l19 -23l-20 -20z"/>
<path fill="#a2ae96" d="M1386 737l20 13l19 -20l-20 -14z"/>
<path fill="#b4b79f" d="M1401 748l20 11l20 -19l-20 -13z"/>
<path fill="#c3c0a8" d="M1417 757l20 9l19 -19l-20 -10z"/>
<path fill="#d2c9ae" d="M1432 764l21 7l19 -18l-20 -8z"/>
<path fill="#e1cfb7" d="M1448 770l20 7l20 -18l-21 -8z"/>
<path fill="#ead5bd" d="M1463 775l21 7l20 -18l-21 -7z"/>
<path fill="#f3dbc0" d="M1479 780l21 7l19 -17l-20 -7z"/>
<path fill="#f9dec6" d="M1495 786l21 6l19 -17l-21 -7z"/>
<path fill="#fce1c6" d="M1511 791l21 6l19 -17l-21 -7zM1527 796l21 5l19 -17l-21 -6zM1558 804l22 4l19 -18l-21 -4z"/>
<path fill="#fce1c9" d="M1542 800l22 5l19 -18l-21 -5z"/>
<path fill="#f6e1c6" d="M1591 810l21 4l19 -18l-21 -4z"/>
<path fill="#f0dec3" d="M1607 813l21 5l19 -18l-21 -5z"/>
<path fill="#cccfb1" d="M1721 841l22 5l18 -18l-22 -6zM1719 823l21 5l18 -18l-21 -5z"/>
<path fill="#c6ccae" d="M1738 845l22 5l18 -18l-22 -6zM1735 827l22 5l18 -18l-22 -5zM1713 787l22 6l18 -18l-22 -5z"/>
<path fill="#c0c9ab" d="M1755 849l22 5l17 -18l-21 -6zM1752 831l22 5l17 -18l-22 -5zM1749 813l21 5l18 -18l-22 -5z"/>
<path fill="#bac6a8" d="M1771 853l22 6l18 -19l-22 -6zM1768 835l22 5l18 -18l-22 -6zM1765 817l22 5l18 -18l-22 -5zM1743 778l22 5l17 -18l-21 -5z"/>
<path fill="#b4c3a5" d="M1788 857l22 6l18 -19l-22 -5zM1785 839l22 5l17 -18l-22 -5zM1782 821l22 5l17 -18l-22 -5zM1778 803l22 5l18 -18l-22 -5zM1740 761l22 5l17 -17l-21 -6z"/>
<path fill="#aec0a2" d="M1805 861l22 6l18 -19l-23 -5zM1802 843l22 5l17 -18l-22 -5zM1798 825l22 5l18 -18l-22 -5zM1795 807l22 5l17 -18l-22 -5zM1753 748l22 5l17 -17l-21 -5z"/>
<path fill="#a8ba9f" d="M1822 865l37 9l16 -18l-37 -9z"/>
<path fill="#a2b799" d="M1852 872l37 9l16 -17l-37 -9zM1763 718l22 5l17 -16l-21 -5z"/>
<path fill="#96ae93" d="M1913 887l37 9l16 -18l-38 -9z"/>
<path fill="#90a88d" d="M1974 902l38 10l15 -19l-38 -9zM1956 880l37 9l16 -18l-38 -9z"/>
<path fill="#90a28a" d="M2036 918l38 11l15 -18l-38 -11zM2049 903l38 11l14 -18l-38 -11zM2061 889l38 10l14 -18l-38 -10z"/>
<path fill="#90a287" d="M2068 927l38 12l15 -19l-38 -11zM2080 912l38 12l14 -19l-37 -11zM2092 897l38 11l14 -18l-38 -11zM1900 659l21 4l16 -16l-21 -4z"/>
<path fill="#939f87" d="M2099 937l39 13l14 -19l-38 -13zM2111 921l39 13l14 -18l-38 -13zM2123 906l38 13l14 -19l-38 -12zM2135 891l38 13l14 -19l-38 -12zM2147 876l37 13l14 -18l-38 -12zM2180 833l38 11l13 -17l-37 -11zM2191 819l38 11l13 -17l-37 -11z"/>
<path fill="#60b193" d="M954 402l28 9l19 -31l-28 -9z"/>
<path fill="#66b496" d="M977 409l28 9l20 -31l-29 -8z"/>
<path fill="#6fb193" d="M1048 430l28 11l19 -32l-28 -11zM1016 390l29 8l19 -29l-28 -7z"/>
<path fill="#6fae90" d="M1072 439l29 16l18 -32l-29 -16z"/>
<path fill="#6ca88d" d="M1096 452l29 19l18 -32l-28 -19z"/>
<path fill="#66a284" d="M1136 479l19 13l19 -34l-19 -12z"/>
<path fill="#639c81" d="M1151 489l19 13l19 -34l-19 -12z"/>
<path fill="#60997b" d="M1167 500l18 12l19 -33l-19 -13z"/>
<path fill="#5a9378" d="M1182 510l19 14l18 -34l-18 -14z"/>
<path fill="#4e876c" d="M1228 544l19 16l19 -32l-19 -17z"/>
<path fill="#4b8169" d="M1244 557l19 17l18 -32l-19 -17z"/>
<path fill="#487e66" d="M1260 571l19 18l18 -32l-19 -18zM1259 530l19 18l19 -31l-19 -18zM1274 505l19 17l19 -29l-19 -18z"/>
<path fill="#487b63" d="M1275 586l19 18l19 -32l-19 -18zM1291 601l19 18l18 -30l-19 -20z"/>
<path fill="#4b7b66" d="M1307 616l19 20l18 -30l-19 -21z"/>
<path fill="#517e69" d="M1322 632l20 22l18 -28l-19 -24z"/>
<path fill="#5d816c" d="M1338 649l20 26l18 -27l-19 -27z"/>
<path fill="#698a72" d="M1354 670l20 23l18 -24l-20 -25z"/>
<path fill="#75907b" d="M1370 689l19 20l19 -22l-20 -22zM1273 397l19 14l18 -28l-18 -14z"/>
<path fill="#879984" d="M1385 706l20 18l19 -21l-20 -20z"/>
<path fill="#96a28d" d="M1401 720l20 15l19 -21l-20 -15z"/>
<path fill="#a8ab96" d="M1416 732l20 12l19 -19l-20 -14z"/>
<path fill="#b7b49f" d="M1432 741l20 10l19 -18l-20 -11zM1189 315l29 15l18 -26l-29 -14zM1126 247l28 8l19 -22l-28 -8z"/>
<path fill="#c9bda8" d="M1447 749l21 8l19 -18l-20 -8z"/>
<path fill="#d5c6ae" d="M1463 755l20 8l20 -18l-21 -8z"/>
<path fill="#e1ccb7" d="M1478 761l21 8l19 -18l-20 -8z"/>
<path fill="#f3d8c0" d="M1525 778l21 6l19 -17l-20 -7z"/>
<path fill="#f3dbc3" d="M1557 787l21 4l19 -17l-21 -5zM1573 790l21 5l19 -18l-21 -4z"/>
<path fill="#f0dbc0" d="M1589 794l21 4l19 -18l-21 -4z"/>
<path fill="#eddbc0" d="M1605 797l21 4l19 -18l-21 -4z"/>
<path fill="#eadbc0" d="M1621 800l21 4l19 -18l-21 -4z"/>
<path fill="#abbd9f" d="M1818 847l22 6l18 -19l-22 -5z"/>
<path fill="#9cb499" d="M1865 858l37 9l16 -18l-37 -9zM1861 822l37 9l15 -17l-36 -9z"/>
<path fill="#96b193" d="M1895 865l37 9l16 -17l-37 -9z"/>
<path fill="#8da58a" d="M2018 895l37 10l15 -18l-37 -10zM1999 873l38 9l15 -18l-38 -9zM2030 880l38 10l14 -17l-37 -10zM2011 858l38 10l15 -18l-38 -9z"/>
<path fill="#ae9c8a" d="M2369 999l40 10l13 -19l-40 -10z"/>
<path fill="#ae9f8a" d="M2402 1007l41 11l12 -20l-40 -10zM2380 983l40 10l12 -19l-40 -10zM1581 703l20 8l18 -20l-20 -10zM2293 887l38 12l13 -18l-38 -12zM1626 701l20 7l18 -19l-21 -8zM2304 872l38 13l12 -18l-37 -12zM2345 815l37 13l12 -17l-37 -13zM2355 801l37 13l12 -17l-37 -13z"/>
<path fill="#69b193" d="M993 384l28 8l20 -29l-29 -7z"/>
<path fill="#72b193" d="M1040 397l28 8l20 -29l-29 -8z"/>
<path fill="#75ae93" d="M1063 403l29 12l19 -30l-29 -10zM1032 367l29 7l19 -25l-28 -8z"/>
<path fill="#75ab90" d="M1087 412l29 16l19 -30l-29 -15z"/>
<path fill="#72a88d" d="M1111 425l30 19l18 -30l-29 -18z"/>
<path fill="#6fa287" d="M1136 442l19 12l19 -31l-19 -12z"/>
<path fill="#6c9f84" d="M1151 452l19 12l19 -31l-19 -12z"/>
<path fill="#5d9378" d="M1197 482l19 14l19 -32l-19 -13z"/>
<path fill="#51876f" d="M1228 505l19 15l19 -32l-19 -15z"/>
<path fill="#4b8469" d="M1244 517l19 16l18 -31l-19 -16z"/>
<path fill="#457b63" d="M1275 544l19 19l18 -31l-19 -18z"/>
<path fill="#427860" d="M1290 559l19 19l19 -30l-19 -19z"/>
<path fill="#42755d" d="M1306 575l19 19l18 -30l-19 -20zM1322 590l19 21l18 -29l-19 -21zM1320 510l19 20l18 -30l-19 -19z"/>
<path fill="#487560" d="M1337 607l20 24l18 -28l-19 -25z"/>
<path fill="#517866" d="M1353 626l20 27l18 -26l-20 -29z"/>
<path fill="#5d7e69" d="M1369 648l20 26l18 -25l-20 -27z"/>
<path fill="#698772" d="M1385 669l19 22l19 -22l-20 -24z"/>
<path fill="#788d78" d="M1400 687l20 20l18 -21l-19 -22zM1303 386l19 15l18 -29l-19 -14z"/>
<path fill="#8a9681" d="M1416 703l20 16l18 -20l-19 -17z"/>
<path fill="#999f8a" d="M1431 716l20 13l19 -19l-20 -15z"/>
<path fill="#abab93" d="M1447 726l20 11l19 -18l-20 -12z"/>
<path fill="#bab49c" d="M1462 735l20 8l19 -18l-20 -9z"/>
<path fill="#c9baa5" d="M1477 741l21 8l19 -17l-20 -9zM1204 294l29 14l18 -25l-29 -13z"/>
<path fill="#d5c3ab" d="M1493 748l21 7l19 -17l-21 -8z"/>
<path fill="#e4ccb4" d="M1524 759l21 7l19 -17l-21 -7z"/>
<path fill="#e7cfb7" d="M1540 764l21 7l19 -18l-21 -6z"/>
<path fill="#ead5ba" d="M1571 774l21 4l19 -17l-21 -5zM1587 777l21 4l19 -17l-21 -4z"/>
<path fill="#e4d5ba" d="M1619 783l21 4l19 -18l-21 -3z"/>
<path fill="#e1d5ba" d="M1635 786l21 4l19 -17l-21 -5z"/>
<path fill="#d8d2b7" d="M1667 793l22 5l18 -18l-21 -5z"/>
<path fill="#cfcfb4" d="M1700 801l21 5l18 -18l-21 -5z"/>
<path fill="#c9ccb1" d="M1716 805l22 5l18 -18l-22 -5z"/>
<path fill="#c3ccae" d="M1732 809l22 5l18 -18l-22 -5z"/>
<path fill="#abbda2" d="M1815 829l22 5l17 -18l-22 -5z"/>
<path fill="#a5ba9f" d="M1831 833l23 5l17 -18l-22 -5zM1828 815l22 5l17 -18l-22 -5z"/>
<path fill="#9fb799" d="M1848 836l37 9l16 -17l-37 -9zM1779 722l22 5l17 -17l-22 -5z"/>
<path fill="#99b196" d="M1878 844l37 8l15 -17l-36 -9z"/>
<path fill="#90ab90" d="M1938 858l37 9l16 -17l-37 -9z"/>
<path fill="#8da88d" d="M1969 865l37 10l15 -18l-37 -9zM1981 851l37 9l15 -17l-37 -9z"/>
<path fill="#a29f87" d="M2250 948l39 11l13 -18l-39 -12zM2240 907l38 12l14 -18l-38 -12zM1742 684l21 4l17 -16l-21 -5z"/>
<path fill="#a59f87" d="M2282 958l39 10l13 -18l-39 -11zM2261 933l39 11l13 -18l-39 -12zM2251 892l38 12l13 -18l-38 -12zM2262 877l38 12l13 -18l-38 -12zM2304 819l38 12l12 -17l-37 -13zM2315 804l37 13l12 -17l-37 -13z"/>
<path fill="#ab9f8a" d="M2347 975l40 10l12 -19l-39 -10zM2325 951l39 10l13 -18l-39 -10zM2304 927l38 11l13 -18l-39 -11zM2283 902l38 12l13 -18l-38 -12zM1670 697l21 6l17 -18l-21 -7zM1458 177l19 10l18 -19l-19 -10z"/>
<path fill="#b19f8a" d="M2413 992l40 10l12 -19l-40 -10zM2357 960l40 9l12 -18l-39 -10zM2390 968l40 10l12 -19l-40 -10zM2336 936l39 10l12 -18l-39 -10zM2314 912l39 11l12 -18l-38 -11zM2314 858l38 12l13 -17l-38 -13zM2325 843l37 13l13 -17l-38 -13zM2335 829l37 13l12 -17l-37 -13z"/>
<path fill="#6cab90" d="M986 353l28 9l20 -25l-29 -10z"/>
<path fill="#72ae93" d="M1009 361l28 7l20 -25l-28 -8z"/>
<path fill="#7bae93" d="M1055 373l29 8l20 -26l-29 -8z"/>
<path fill="#7eae93" d="M1079 379l29 11l19 -26l-29 -11z"/>
<path fill="#7eab90" d="M1103 388l29 15l19 -27l-29 -14z"/>
<path fill="#7ba88d" d="M1127 400l29 19l19 -28l-29 -17zM1018 311l28 10l19 -25l-28 -11z"/>
<path fill="#78a28a" d="M1152 416l18 13l20 -29l-19 -12z"/>
<path fill="#729f84" d="M1167 426l19 13l19 -29l-19 -12z"/>
<path fill="#6f9c81" d="M1182 436l19 12l19 -29l-19 -12zM2050 619l35 8l13 -15l-34 -7zM2061 608l34 7l14 -14l-35 -8zM2072 596l34 8l13 -15l-34 -7z"/>
<path fill="#69967b" d="M1197 446l19 13l19 -29l-19 -13z"/>
<path fill="#639378" d="M1212 456l19 14l19 -29l-19 -14z"/>
<path fill="#54876f" d="M1243 479l19 15l19 -29l-19 -15z"/>
<path fill="#4e8169" d="M1259 491l19 17l18 -29l-19 -17z"/>
<path fill="#457860" d="M1290 519l19 19l18 -30l-19 -18z"/>
<path fill="#3f755d" d="M1305 534l19 19l19 -29l-19 -19z"/>
<path fill="#3f725d" d="M1321 550l19 20l18 -29l-19 -20z"/>
<path fill="#3f6f5a" d="M1337 566l19 22l18 -29l-19 -22zM1336 526l19 20l18 -29l-19 -20zM1352 543l19 22l18 -29l-20 -23z"/>
<path fill="#42725d" d="M1352 583l20 25l18 -27l-20 -26z"/>
<path fill="#4b7260" d="M1368 603l20 29l17 -26l-19 -30z"/>
<path fill="#547863" d="M1384 627l19 27l18 -24l-19 -29z"/>
<path fill="#607e69" d="M1400 649l19 24l18 -23l-19 -25z"/>
<path fill="#6f8472" d="M1415 669l20 21l18 -21l-20 -23z"/>
<path fill="#7e8d78" d="M1431 686l19 17l19 -20l-20 -18zM1348 353l18 15l18 -28l-19 -15zM1245 129l28 6l19 -14l-29 -5z"/>
<path fill="#8d9681" d="M1446 700l20 14l18 -19l-19 -16zM1332 341l19 14l18 -27l-19 -14z"/>
<path fill="#aba893" d="M1477 721l20 9l19 -19l-20 -9z"/>
<path fill="#baae99" d="M1492 727l21 9l18 -18l-20 -9zM1171 196l29 7l19 -19l-29 -8z"/>
<path fill="#c6b79f" d="M1508 734l20 8l19 -18l-20 -8zM1614 734l20 5l19 -18l-21 -5z"/>
<path fill="#cfbda5" d="M1523 740l21 8l19 -18l-21 -8zM1584 743l21 6l18 -18l-20 -6z"/>
<path fill="#d5c0ab" d="M1539 746l20 7l19 -17l-20 -7z"/>
<path fill="#dbc6ae" d="M1554 751l21 7l19 -18l-21 -6z"/>
<path fill="#deccb4" d="M1601 764l21 4l19 -17l-21 -4z"/>
<path fill="#decfb4" d="M1617 767l21 4l19 -18l-21 -3z"/>
<path fill="#dbcfb4" d="M1633 770l21 4l19 -18l-21 -4z"/>
<path fill="#d8cfb4" d="M1649 773l21 4l19 -18l-22 -4z"/>
<path fill="#c3c9ae" d="M1730 791l21 6l18 -18l-22 -5z"/>
<path fill="#bdc9ab" d="M1746 795l21 6l18 -18l-21 -6zM1727 774l21 5l18 -17l-21 -6z"/>
<path fill="#b7c6a8" d="M1762 799l22 6l17 -18l-21 -6z"/>
<path fill="#a8bda2" d="M1811 811l22 5l18 -18l-22 -5zM1808 794l22 5l17 -18l-22 -5z"/>
<path fill="#9fb79c" d="M1845 819l22 5l17 -18l-22 -5z"/>
<path fill="#96b196" d="M1891 829l36 9l16 -17l-37 -9z"/>
<path fill="#90ae93" d="M1921 837l37 9l15 -18l-37 -8zM1904 816l36 8l15 -17l-36 -8z"/>
<path fill="#8dab90" d="M1951 844l37 9l15 -18l-37 -8zM1933 823l37 8l15 -17l-36 -8z"/>
<path fill="#8da28a" d="M2042 866l38 10l14 -18l-37 -10zM2054 851l37 10l15 -17l-37 -10z"/>
<path fill="#8da287" d="M2073 874l38 10l14 -18l-38 -10zM2085 859l37 11l14 -18l-37 -10zM2096 845l38 10l14 -17l-37 -10zM2108 831l37 10l14 -18l-37 -9z"/>
<path fill="#909f87" d="M2104 882l38 11l14 -18l-38 -10zM2116 868l37 10l14 -17l-37 -11zM2127 853l38 11l13 -18l-37 -10zM2139 839l37 10l14 -17l-38 -10zM2150 825l37 10l14 -17l-37 -10z"/>
<path fill="#b49f8d" d="M2423 976l40 10l12 -19l-40 -10zM2400 952l40 10l12 -18l-39 -10z"/>
<path fill="#72ab8d" d="M1002 332l28 9l20 -25l-29 -10z"/>
<path fill="#7bab93" d="M1025 340l28 7l20 -25l-29 -7z"/>
<path fill="#81ae93" d="M1048 346l29 7l19 -25l-29 -7z"/>
<path fill="#84ae96" d="M1071 352l29 8l19 -26l-28 -7z"/>
<path fill="#87ae96" d="M1095 358l29 10l19 -25l-29 -10z"/>
<path fill="#8aab93" d="M1119 366l29 15l18 -26l-29 -14z"/>
<path fill="#87a890" d="M1143 378l29 18l18 -27l-29 -17z"/>
<path fill="#81a58d" d="M1167 394l19 12l19 -29l-19 -11z"/>
<path fill="#789c84" d="M1197 413l19 12l19 -29l-19 -12z"/>
<path fill="#6f997e" d="M1212 423l19 12l19 -28l-19 -13zM2137 596l35 8l12 -15l-34 -7z"/>
<path fill="#699378" d="M1228 433l19 13l18 -28l-18 -14z"/>
<path fill="#638d75" d="M1243 444l19 14l19 -29l-19 -14z"/>
<path fill="#5a876f" d="M1258 455l19 15l19 -28l-19 -16z"/>
<path fill="#548169" d="M1274 467l19 17l18 -29l-19 -16z"/>
<path fill="#4b7e66" d="M1289 481l19 18l19 -30l-19 -17z"/>
<path fill="#487860" d="M1305 495l19 19l18 -29l-19 -19z"/>
<path fill="#426f5a" d="M1367 560l19 26l18 -29l-19 -25zM1366 519l19 22l18 -30l-19 -22z"/>
<path fill="#486f5d" d="M1383 581l19 30l18 -27l-19 -31zM1365 478l19 20l18 -30l-19 -20z"/>
<path fill="#517260" d="M1399 606l19 28l18 -26l-19 -30z"/>
<path fill="#5a7863" d="M1415 629l19 26l17 -25l-19 -27zM1315 79l29 2l18 -13l-29 -2z"/>
<path fill="#667e69" d="M1430 650l19 23l18 -24l-19 -24z"/>
<path fill="#758472" d="M1446 669l19 18l18 -23l-19 -19z"/>
<path fill="#848d78" d="M1461 684l19 15l19 -22l-20 -16zM1318 116l29 5l18 -15l-29 -5zM1354 108l29 5l18 -14l-29 -5z"/>
<path fill="#909381" d="M1476 696l20 13l18 -22l-20 -13zM1376 309l19 15l18 -27l-19 -13z"/>
<path fill="#b7a896" d="M1522 720l20 9l19 -20l-20 -9zM1317 298l19 13l18 -26l-19 -13z"/>
<path fill="#c0ae99" d="M1538 727l20 8l18 -19l-20 -9zM1583 724l20 7l18 -18l-20 -8zM1331 278l19 13l18 -26l-19 -12z"/>
<path fill="#c6b49f" d="M1553 733l21 7l18 -18l-20 -8z"/>
<path fill="#ccbaa2" d="M1569 738l20 7l19 -18l-21 -7z"/>
<path fill="#d2c0a8" d="M1600 747l21 5l18 -18l-21 -4z"/>
<path fill="#d2c3ab" d="M1615 751l21 4l19 -18l-21 -4z"/>
<path fill="#d2c6ab" d="M1631 754l21 4l19 -18l-22 -4z"/>
<path fill="#b4c6a8" d="M1759 782l22 5l17 -18l-21 -5z"/>
<path fill="#b1c3a5" d="M1775 786l22 5l17 -18l-21 -5zM1756 765l22 5l17 -18l-21 -5z"/>
<path fill="#abc0a2" d="M1792 790l21 5l18 -18l-22 -5z"/>
<path fill="#a2bd9f" d="M1824 798l22 5l17 -18l-21 -5zM1821 780l22 5l17 -17l-22 -6zM1802 759l21 5l17 -17l-21 -5z"/>
<path fill="#9fba9c" d="M1841 801l22 6l17 -18l-22 -6z"/>
<path fill="#9cb799" d="M1857 805l22 6l17 -18l-22 -6z"/>
<path fill="#96b496" d="M1874 809l36 8l16 -17l-36 -8zM1824 717l21 5l17 -17l-22 -5z"/>
<path fill="#8aa88d" d="M1963 830l37 9l15 -18l-37 -8zM1993 837l37 9l15 -17l-37 -9zM1975 816l37 9l15 -17l-37 -9z"/>
<path fill="#8aa58a" d="M2024 844l37 9l14 -17l-37 -9zM2036 830l37 9l14 -17l-37 -9z"/>
<path fill="#a89f87" d="M2272 917l38 12l13 -18l-38 -12zM2273 862l38 13l12 -18l-37 -13zM2283 847l38 13l13 -17l-38 -13zM2294 833l37 13l13 -18l-37 -13z"/>
<path fill="#b49f8a" d="M2368 944l39 10l13 -18l-40 -10zM2346 921l39 10l12 -18l-38 -10zM2325 897l38 11l13 -18l-39 -11z"/>
<path fill="#b79f8d" d="M2433 960l40 10l12 -18l-40 -10zM2378 929l39 10l13 -18l-39 -10zM2410 937l40 10l12 -18l-39 -10zM2356 906l39 10l12 -18l-38 -10z"/>
<path fill="#84ab93" d="M1041 319l28 8l20 -25l-29 -8z"/>
<path fill="#8dae96" d="M1064 326l28 7l20 -25l-29 -7z"/>
<path fill="#93ae99" d="M1087 331l29 8l19 -25l-29 -7z"/>
<path fill="#96b199" d="M1110 337l29 10l19 -25l-28 -9z"/>
<path fill="#96ae96" d="M1134 345l29 14l19 -26l-29 -13z"/>
<path fill="#93ab93" d="M1158 357l29 17l19 -27l-29 -16z"/>
<path fill="#90a890" d="M1182 371l19 12l19 -28l-18 -11z"/>
<path fill="#8aa28d" d="M1198 381l18 11l19 -28l-18 -11z"/>
<path fill="#849f87" d="M1213 390l18 12l19 -29l-19 -11z"/>
<path fill="#7b9981" d="M1228 400l19 12l18 -28l-18 -13z"/>
<path fill="#72937e" d="M1243 410l19 13l18 -29l-18 -13z"/>
<path fill="#6c9078" d="M1258 420l19 15l19 -29l-19 -14z"/>
<path fill="#638a72" d="M1273 432l19 15l19 -29l-19 -15z"/>
<path fill="#5a846c" d="M1289 444l19 17l18 -29l-19 -17z"/>
<path fill="#517e66" d="M1304 457l19 18l18 -29l-19 -18z"/>
<path fill="#4b7863" d="M1320 472l19 18l18 -29l-19 -19z"/>
<path fill="#48755d" d="M1335 487l19 19l18 -30l-19 -19z"/>
<path fill="#456f5a" d="M1351 502l19 21l17 -30l-18 -20z"/>
<path fill="#456c5a" d="M1382 537l19 26l17 -30l-18 -26zM1381 494l19 23l17 -31l-19 -22z"/>
<path fill="#486c5a" d="M1398 558l19 30l17 -28l-19 -32zM1397 512l18 26l18 -30l-19 -26z"/>
<path fill="#4e6f5d" d="M1414 583l19 30l17 -28l-19 -30z"/>
<path fill="#577260" d="M1429 608l19 26l18 -27l-19 -27z"/>
<path fill="#637866" d="M1445 630l19 24l17 -26l-19 -25z"/>
<path fill="#6f7e6c" d="M1460 650l19 19l18 -25l-19 -20z"/>
<path fill="#7b8472" d="M1475 666l20 16l17 -25l-19 -17z"/>
<path fill="#878a78" d="M1491 679l19 13l18 -24l-19 -14z"/>
<path fill="#93907e" d="M1506 690l20 10l18 -24l-20 -11z"/>
<path fill="#9f9684" d="M1521 697l20 10l18 -23l-20 -10zM1433 260l19 13l17 -24l-18 -12z"/>
<path fill="#baa893" d="M1567 719l21 7l18 -19l-21 -9z"/>
<path fill="#c3b19c" d="M1598 730l21 5l18 -18l-21 -6z"/>
<path fill="#c6baa2" d="M1629 738l21 4l18 -18l-21 -4z"/>
<path fill="#c6bda2" d="M1645 741l21 4l18 -18l-21 -4z"/>
<path fill="#c6c0a5" d="M1661 744l21 4l18 -18l-21 -4z"/>
<path fill="#c3c0a5" d="M1676 747l22 4l18 -18l-22 -4z"/>
<path fill="#c0c3a5" d="M1692 750l22 4l17 -17l-21 -5z"/>
<path fill="#aec3a2" d="M1772 769l22 5l17 -18l-21 -5z"/>
<path fill="#a8c0a2" d="M1789 772l21 6l17 -18l-21 -5zM1769 752l22 5l17 -18l-21 -5z"/>
<path fill="#a5c09f" d="M1805 776l21 5l18 -17l-22 -5zM1785 755l22 5l17 -17l-21 -5z"/>
<path fill="#9cba9c" d="M1837 784l22 5l17 -18l-22 -5zM1834 767l22 5l16 -18l-21 -5zM1814 746l22 5l17 -17l-22 -5z"/>
<path fill="#99b799" d="M1854 788l22 5l16 -18l-21 -5z"/>
<path fill="#96b799" d="M1870 792l22 5l17 -18l-22 -5zM1866 775l22 5l17 -18l-22 -5zM1827 733l22 5l16 -17l-21 -5z"/>
<path fill="#93b196" d="M1887 795l36 8l15 -16l-36 -9z"/>
<path fill="#8aab90" d="M1946 809l36 9l15 -17l-36 -9z"/>
<path fill="#87a58a" d="M2005 823l37 9l15 -17l-37 -9zM2017 809l37 9l15 -17l-37 -9zM2047 816l38 9l14 -17l-37 -9z"/>
<path fill="#8aa287" d="M2066 837l37 10l14 -17l-37 -10zM2078 823l37 10l14 -17l-37 -10zM2119 817l38 10l13 -18l-37 -9zM1916 662l21 5l16 -17l-21 -4z"/>
<path fill="#ba9f8d" d="M2443 945l40 10l11 -18l-39 -10zM2388 914l39 10l12 -18l-38 -10zM2420 922l40 10l12 -18l-39 -10zM2367 891l38 10l12 -17l-38 -10zM2345 868l39 11l12 -18l-38 -10zM2356 854l38 10l12 -17l-38 -10zM2366 840l37 10l12 -17l-37 -10zM2375 826l38 10l12 -17l-38 -10z"/>
<path fill="#84a88d" d="M1034 290l28 11l19 -25l-28 -11z"/>
<path fill="#8dab93" d="M1057 299l28 8l19 -25l-28 -8z"/>
<path fill="#99ae99" d="M1080 305l28 8l19 -25l-28 -7z"/>
<path fill="#9fb19c" d="M1103 311l28 8l19 -25l-28 -7z"/>
<path fill="#a5b19c" d="M1126 317l29 10l19 -25l-29 -9z"/>
<path fill="#a8b19c" d="M1150 325l29 13l18 -25l-29 -13z"/>
<path fill="#a5ae99" d="M1173 335l29 16l19 -26l-29 -15z"/>
<path fill="#9fab96" d="M1198 349l18 11l19 -27l-18 -11z"/>
<path fill="#99a890" d="M1213 358l18 12l19 -29l-18 -11zM1080 230l29 12l18 -22l-28 -13z"/>
<path fill="#93a28d" d="M1228 367l19 12l18 -28l-18 -12z"/>
<path fill="#8a9c87" d="M1243 377l19 12l18 -28l-19 -13z"/>
<path fill="#819681" d="M1258 387l19 13l18 -28l-18 -14z"/>
<path fill="#6c8a75" d="M1288 409l19 15l19 -29l-19 -15z"/>
<path fill="#63846f" d="M1304 421l19 16l18 -29l-19 -16z"/>
<path fill="#5a7e69" d="M1319 434l19 17l18 -29l-19 -17z"/>
<path fill="#517863" d="M1334 448l19 18l18 -30l-19 -17z"/>
<path fill="#4b7560" d="M1350 463l19 19l18 -30l-19 -19z"/>
<path fill="#4b6c5a" d="M1412 533l19 32l17 -30l-19 -32zM1395 470l19 22l18 -31l-19 -22zM1410 445l18 21l18 -31l-19 -20z"/>
<path fill="#4e6c5a" d="M1428 559l19 31l17 -30l-19 -30zM1424 420l19 21l17 -31l-19 -20z"/>
<path fill="#576f5d" d="M1444 585l19 27l17 -28l-19 -29z"/>
<path fill="#607260" d="M1459 608l19 25l17 -28l-19 -26z"/>
<path fill="#697566" d="M1474 629l20 20l17 -28l-19 -21z"/>
<path fill="#757b69" d="M1490 645l19 17l17 -27l-19 -18z"/>
<path fill="#81816f" d="M1505 659l19 14l18 -26l-19 -15z"/>
<path fill="#8a8775" d="M1520 671l20 10l17 -25l-19 -12z"/>
<path fill="#968d7b" d="M1536 679l19 11l18 -25l-20 -11zM1490 242l19 13l17 -22l-19 -12zM1503 225l19 13l18 -22l-19 -12zM1515 185l19 10l18 -20l-19 -10zM1500 156l19 8l17 -19l-19 -8z"/>
<path fill="#9f9381" d="M1551 687l19 10l18 -23l-20 -11zM1475 233l19 12l18 -22l-19 -11zM1489 217l19 11l17 -21l-19 -11zM1486 170l19 10l18 -20l-19 -9z"/>
<path fill="#a89984" d="M1566 695l20 10l18 -22l-20 -11z"/>
<path fill="#b4a290" d="M1597 710l20 7l18 -19l-20 -9zM1389 259l19 13l18 -24l-19 -12zM1445 192l19 11l18 -20l-19 -10zM1415 155l19 9l18 -18l-19 -8z"/>
<path fill="#bdb49c" d="M1658 728l21 4l18 -17l-21 -5z"/>
<path fill="#bab79f" d="M1674 731l21 4l18 -17l-21 -5z"/>
<path fill="#b4bda2" d="M1722 740l21 5l17 -17l-21 -5z"/>
<path fill="#9fbd9c" d="M1818 763l21 5l17 -17l-21 -6zM1798 742l22 5l17 -17l-22 -5z"/>
<path fill="#99ba99" d="M1850 771l22 5l17 -18l-22 -5zM1830 750l22 5l17 -17l-22 -5zM1811 730l21 5l17 -18l-21 -4z"/>
<path fill="#93b496" d="M1883 778l22 6l16 -18l-22 -5zM1840 720l21 5l17 -17l-22 -4z"/>
<path fill="#8db193" d="M1899 781l36 9l15 -17l-36 -8z"/>
<path fill="#8aae90" d="M1928 788l37 9l15 -17l-36 -8z"/>
<path fill="#87ab8d" d="M1958 795l36 9l15 -17l-36 -8z"/>
<path fill="#bda28d" d="M2453 930l39 10l12 -18l-39 -10zM2430 907l40 10l11 -18l-39 -9zM2408 885l39 9l12 -17l-39 -10zM2387 863l38 9l12 -17l-38 -10zM2418 871l39 9l11 -18l-38 -9zM2397 848l38 10l12 -17l-38 -10zM2428 856l38 10l12 -18l-38 -9zM2406 834l38 10l12 -17l-38 -9zM2437 842l39 9l11 -17l-38 -9zM2416 821l38 9l11 -17l-37 -9zM2447 828l38 9l11 -16l-38 -9zM2426 807l37 9l12 -16l-38 -10zM2435 794l38 9l11 -17l-38 -9zM2444 780l38 9l11 -16l-37 -9zM2493 761l37 9l11 -16l-37 -9z"/>
<path fill="#8da890" d="M1049 269l29 12l19 -24l-29 -12z"/>
<path fill="#99ab96" d="M1072 279l29 8l19 -24l-29 -8z"/>
<path fill="#a5b199" d="M1095 286l29 7l19 -24l-29 -7z"/>
<path fill="#aeb49f" d="M1118 291l29 8l19 -24l-29 -7z"/>
<path fill="#b4b7a2" d="M1141 297l29 9l19 -24l-29 -9z"/>
<path fill="#b7b7a2" d="M1165 304l29 13l18 -25l-28 -12z"/>
<path fill="#b1b19c" d="M1213 328l19 10l18 -27l-18 -10zM1111 266l28 8l19 -23l-28 -8z"/>
<path fill="#abab96" d="M1228 336l19 11l18 -28l-18 -10zM1118 222l29 9l19 -21l-29 -10zM1133 204l29 10l19 -21l-29 -9z"/>
<path fill="#a2a893" d="M1243 345l19 11l18 -27l-19 -12z"/>
<path fill="#99a28d" d="M1258 354l19 12l18 -27l-19 -13z"/>
<path fill="#8d9c87" d="M1273 364l19 13l18 -28l-19 -13z"/>
<path fill="#81967e" d="M1288 374l19 15l18 -29l-19 -13z"/>
<path fill="#6c8772" d="M1318 398l19 16l18 -29l-18 -16z"/>
<path fill="#60816c" d="M1334 410l19 17l17 -29l-18 -16z"/>
<path fill="#577b66" d="M1349 424l19 18l18 -30l-19 -17z"/>
<path fill="#517560" d="M1364 439l19 18l18 -30l-19 -18z"/>
<path fill="#4b6f5d" d="M1380 454l19 20l17 -31l-19 -19z"/>
<path fill="#486957" d="M1411 487l19 26l17 -30l-19 -26z"/>
<path fill="#4b6957" d="M1427 508l18 32l17 -31l-18 -31zM1425 462l19 26l17 -31l-19 -26z"/>
<path fill="#516957" d="M1442 535l19 30l17 -30l-19 -31zM1395 41l27 3l27 -18l-27 -3z"/>
<path fill="#57695a" d="M1458 561l19 28l16 -30l-18 -29z"/>
<path fill="#5d6c5d" d="M1473 584l19 26l17 -30l-19 -26zM1438 46l28 3l26 -18l-27 -3z"/>
<path fill="#666f60" d="M1489 606l19 20l16 -29l-18 -21zM1483 52l17 3l27 -19l-18 -2z"/>
<path fill="#727263" d="M1504 623l19 18l17 -29l-19 -19z"/>
<path fill="#7b7869" d="M1519 638l19 14l17 -28l-19 -15z"/>
<path fill="#847e6c" d="M1534 650l20 12l17 -27l-19 -13zM1520 263l18 16l17 -23l-18 -15z"/>
<path fill="#908472" d="M1550 659l19 12l17 -26l-19 -13z"/>
<path fill="#968778" d="M1565 668l19 11l18 -24l-20 -13z"/>
<path fill="#9f8d7e" d="M1580 677l20 11l17 -22l-20 -14z"/>
<path fill="#a59381" d="M1595 686l20 10l18 -21l-20 -12z"/>
<path fill="#ab9987" d="M1611 694l20 9l17 -20l-20 -10z"/>
<path fill="#b1a28d" d="M1641 706l21 6l17 -18l-20 -7z"/>
<path fill="#b1a890" d="M1656 711l21 5l18 -18l-21 -6z"/>
<path fill="#b1b499" d="M1703 721l21 4l18 -17l-21 -4z"/>
<path fill="#aeb799" d="M1719 724l21 5l18 -17l-22 -5z"/>
<path fill="#abba9c" d="M1735 727l21 5l17 -17l-21 -5z"/>
<path fill="#a5bd9c" d="M1766 735l22 5l17 -17l-21 -5z"/>
<path fill="#a2bd9c" d="M1782 739l22 5l17 -18l-21 -4z"/>
<path fill="#96ba99" d="M1847 754l21 5l17 -18l-22 -5z"/>
<path fill="#93b799" d="M1863 757l21 6l17 -18l-22 -5z"/>
<path fill="#8db493" d="M1895 765l22 5l17 -17l-22 -5zM1891 748l22 5l16 -17l-21 -5zM1872 728l21 5l16 -17l-21 -5z"/>
<path fill="#8ab193" d="M1912 768l36 8l15 -16l-36 -8zM1908 752l21 5l17 -17l-22 -5zM1904 735l21 5l17 -17l-22 -5z"/>
<path fill="#87ae90" d="M1941 775l36 8l15 -16l-36 -8zM1916 722l21 5l16 -17l-21 -5z"/>
<path fill="#84ab8d" d="M1970 782l36 8l15 -16l-36 -9zM1982 768l36 9l15 -17l-36 -8zM1944 713l21 5l16 -17l-21 -4z"/>
<path fill="#84a88a" d="M2000 789l36 8l15 -16l-37 -9zM1936 681l21 5l16 -16l-22 -5z"/>
<path fill="#84a58a" d="M2029 796l37 8l14 -17l-36 -8z"/>
<path fill="#87a587" d="M2059 803l37 8l14 -17l-37 -8zM1932 666l21 4l16 -16l-22 -5z"/>
<path fill="#b79f8a" d="M2335 883l38 10l13 -17l-38 -11z"/>
<path fill="#bd9f8d" d="M2398 900l39 9l12 -18l-39 -9zM2377 877l38 10l12 -18l-38 -10z"/>
<path fill="#c0a290" d="M2463 915l39 10l11 -18l-39 -10zM2472 900l39 10l12 -18l-39 -9zM2450 878l39 9l11 -17l-38 -9zM2482 886l39 9l11 -17l-39 -10zM2459 864l39 9l11 -17l-38 -9zM2491 871l39 10l11 -18l-39 -9z"/>
<path fill="#a2ab96" d="M1088 259l28 9l19 -23l-28 -9z"/>
<path fill="#bdb7a2" d="M1134 272l28 8l19 -24l-28 -7z"/>
<path fill="#c6baa5" d="M1157 278l29 9l18 -24l-28 -8z"/>
<path fill="#c9baa8" d="M1180 285l29 12l19 -25l-29 -11z"/>
<path fill="#c3b7a2" d="M1228 306l19 10l18 -27l-18 -9z"/>
<path fill="#bab19c" d="M1243 314l18 11l19 -27l-19 -11z"/>
<path fill="#b1ae99" d="M1258 323l18 11l19 -27l-19 -11z"/>
<path fill="#a8a893" d="M1273 332l18 12l19 -27l-19 -13z"/>
<path fill="#909984" d="M1303 352l19 14l18 -28l-19 -13zM1141 160l28 15l19 -18l-28 -14z"/>
<path fill="#81907b" d="M1318 363l19 15l18 -28l-19 -14z"/>
<path fill="#758a75" d="M1333 375l19 15l18 -28l-19 -15z"/>
<path fill="#69816f" d="M1348 387l19 17l18 -29l-19 -16z"/>
<path fill="#5d7b66" d="M1364 401l18 17l18 -30l-19 -16z"/>
<path fill="#577563" d="M1379 415l19 18l17 -30l-19 -18z"/>
<path fill="#516f5d" d="M1394 429l19 20l17 -31l-18 -19zM1408 405l19 19l17 -30l-18 -19z"/>
<path fill="#4b6657" d="M1441 483l19 31l16 -31l-18 -31zM1439 437l19 25l17 -31l-19 -25z"/>
<path fill="#516657" d="M1456 509l19 31l17 -31l-19 -31z"/>
<path fill="#546657" d="M1472 535l19 29l16 -31l-18 -29zM1467 387l19 24l16 -30l-18 -24z"/>
<path fill="#5d6657" d="M1487 559l19 26l17 -30l-19 -27z"/>
<path fill="#66695a" d="M1503 581l18 21l17 -30l-19 -22zM1517 40l18 3l26 -18l-17 -3z"/>
<path fill="#6f6c5d" d="M1518 599l19 19l16 -30l-18 -20z"/>
<path fill="#787263" d="M1533 614l19 16l17 -29l-19 -17zM1521 295l19 21l17 -25l-19 -20z"/>
<path fill="#817566" d="M1548 627l19 13l17 -28l-19 -14zM1574 222l19 18l16 -22l-18 -18z"/>
<path fill="#8a7b6c" d="M1563 638l20 12l17 -26l-20 -14z"/>
<path fill="#937e6f" d="M1579 648l19 12l17 -25l-19 -14z"/>
<path fill="#998475" d="M1594 658l19 13l17 -24l-19 -15z"/>
<path fill="#9f8a78" d="M1609 668l20 12l17 -22l-20 -14zM1681 663l20 8l17 -18l-20 -9zM1709 655l21 9l16 -18l-20 -9z"/>
<path fill="#a2907e" d="M1624 677l20 11l17 -20l-19 -12zM1696 669l21 7l17 -17l-21 -8z"/>
<path fill="#a89681" d="M1639 686l21 8l17 -19l-20 -9z"/>
<path fill="#ab9c87" d="M1655 692l20 6l18 -18l-21 -7z"/>
<path fill="#a8ae93" d="M1716 708l21 5l18 -17l-21 -4z"/>
<path fill="#a5b496" d="M1748 715l21 5l17 -17l-21 -5z"/>
<path fill="#9cba99" d="M1795 726l22 5l16 -17l-21 -5z"/>
<path fill="#93b796" d="M1843 737l22 5l16 -17l-21 -5z"/>
<path fill="#90b796" d="M1859 741l22 5l16 -18l-21 -5z"/>
<path fill="#87b190" d="M1924 755l36 8l15 -16l-36 -8zM1920 739l22 5l16 -17l-22 -5z"/>
<path fill="#84ae8d" d="M1953 762l36 8l15 -16l-36 -9zM1928 710l21 5l16 -17l-21 -5z"/>
<path fill="#81a88a" d="M2011 775l37 9l14 -17l-36 -8zM1994 755l36 9l14 -17l-36 -8zM2023 762l37 8l14 -16l-36 -8zM1951 685l22 5l16 -17l-22 -5z"/>
<path fill="#84a587" d="M2041 782l37 9l14 -17l-37 -8zM1947 669l22 5l15 -17l-21 -4z"/>
<path fill="#84a287" d="M2071 789l37 8l14 -16l-37 -9z"/>
<path fill="#8a9f87" d="M2131 803l37 9l13 -17l-36 -9z"/>
<path fill="#8d9f84" d="M2161 811l37 10l14 -17l-37 -10zM2172 797l37 10l13 -17l-36 -10z"/>
<path fill="#c0a28d" d="M2440 893l39 9l12 -18l-39 -9zM2453 767l38 9l11 -16l-37 -9zM2463 754l37 9l11 -16l-37 -9zM2442 732l37 11l11 -16l-37 -11z"/>
<path fill="#a8ae99" d="M1103 240l28 9l19 -22l-28 -9z"/>
<path fill="#c6b7a5" d="M1149 254l28 7l19 -23l-28 -7z"/>
<path fill="#d2bda8" d="M1172 259l29 9l18 -23l-28 -8z"/>
<path fill="#d8bdab" d="M1195 266l29 11l19 -24l-29 -10zM1219 274l29 13l18 -24l-29 -12zM1187 241l29 8l18 -22l-28 -8z"/>
<path fill="#d5baa8" d="M1243 286l18 9l19 -26l-18 -9z"/>
<path fill="#ccb7a2" d="M1258 293l18 10l19 -26l-19 -10z"/>
<path fill="#c3b19f" d="M1272 301l19 11l19 -26l-19 -11z"/>
<path fill="#b7ab99" d="M1287 310l19 12l18 -27l-18 -12z"/>
<path fill="#aba590" d="M1302 320l19 13l18 -27l-18 -13z"/>
<path fill="#9c9c8a" d="M1317 330l19 14l18 -27l-18 -14z"/>
<path fill="#6f846f" d="M1363 365l19 15l17 -28l-18 -15z"/>
<path fill="#637b69" d="M1378 377l19 17l17 -29l-18 -16z"/>
<path fill="#5a7563" d="M1393 391l19 17l17 -29l-18 -17z"/>
<path fill="#4e6354" d="M1455 457l18 31l17 -31l-18 -31zM1469 432l18 30l17 -32l-19 -29z"/>
<path fill="#516354" d="M1470 483l19 31l16 -32l-18 -30z"/>
<path fill="#546354" d="M1486 509l18 29l17 -32l-19 -29zM1483 406l18 30l16 -31l-18 -29z"/>
<path fill="#5d6354" d="M1501 533l19 27l16 -32l-18 -26z"/>
<path fill="#636657" d="M1516 556l19 22l17 -32l-19 -22zM1510 357l18 28l17 -30l-19 -26z"/>
<path fill="#6c665a" d="M1532 574l18 19l17 -30l-19 -21z"/>
<path fill="#75695d" d="M1547 590l19 17l16 -30l-18 -18zM1617 117l17 9l25 -27l-17 -9zM1608 84l18 6l25 -24l-17 -6z"/>
<path fill="#7e6f60" d="M1562 604l19 14l17 -29l-19 -15z"/>
<path fill="#877266" d="M1577 615l19 14l17 -27l-19 -16z"/>
<path fill="#8d7869" d="M1592 626l19 14l17 -26l-19 -15z"/>
<path fill="#937b6f" d="M1607 637l20 15l16 -24l-19 -17z"/>
<path fill="#998172" d="M1623 649l19 14l17 -21l-19 -17z"/>
<path fill="#9f8778" d="M1638 660l19 13l17 -20l-19 -15z"/>
<path fill="#a28d7b" d="M1653 670l20 9l17 -18l-20 -11z"/>
<path fill="#a5937e" d="M1668 677l20 8l18 -19l-21 -8zM1835 631l21 4l16 -16l-21 -4z"/>
<path fill="#a59984" d="M1683 683l21 6l17 -17l-20 -7z"/>
<path fill="#a5a88d" d="M1729 696l21 4l18 -16l-21 -5z"/>
<path fill="#99b493" d="M1792 710l21 4l17 -16l-21 -5z"/>
<path fill="#99b496" d="M1808 713l21 5l17 -17l-21 -5z"/>
<path fill="#8ab493" d="M1888 732l21 5l16 -18l-21 -5z"/>
<path fill="#84ae90" d="M1936 742l36 8l14 -16l-35 -8zM1932 726l22 5l16 -17l-22 -5z"/>
<path fill="#81ab8d" d="M1965 749l36 8l14 -16l-35 -8z"/>
<path fill="#81a587" d="M2053 769l36 8l14 -16l-36 -9zM1963 673l21 4l16 -16l-21 -5z"/>
<path fill="#81a287" d="M2082 776l37 8l14 -16l-37 -9z"/>
<path fill="#84a284" d="M2112 782l37 9l13 -16l-36 -9z"/>
<path fill="#879f84" d="M2142 790l37 9l13 -17l-36 -9zM2153 776l37 9l13 -17l-37 -8z"/>
<path fill="#939f84" d="M2202 805l38 11l13 -17l-37 -11zM1896 644l22 4l15 -16l-21 -4z"/>
<path fill="#999f84" d="M2233 814l37 11l13 -17l-37 -11zM1842 661l21 4l16 -16l-21 -4z"/>
<path fill="#9ca590" d="M1096 211l28 13l19 -21l-29 -14z"/>
<path fill="#bdb19f" d="M1141 229l29 8l19 -21l-29 -8z"/>
<path fill="#ccbaa5" d="M1164 236l29 7l18 -22l-28 -7z"/>
<path fill="#e1c0ae" d="M1210 247l29 10l18 -22l-28 -10zM1257 266l19 8l19 -25l-19 -8z"/>
<path fill="#e4c3ae" d="M1234 255l29 12l18 -24l-29 -10z"/>
<path fill="#dbbda8" d="M1272 272l19 10l19 -25l-19 -10z"/>
<path fill="#d2b7a2" d="M1287 280l19 11l18 -26l-18 -10zM1231 191l29 7l19 -19l-29 -6zM1269 182l29 7l18 -19l-29 -6z"/>
<path fill="#969984" d="M1347 319l19 15l18 -27l-19 -14z"/>
<path fill="#87907b" d="M1362 331l19 14l18 -27l-19 -14z"/>
<path fill="#788772" d="M1377 342l19 16l17 -28l-18 -15z"/>
<path fill="#697e6c" d="M1392 355l19 15l17 -28l-18 -15z"/>
<path fill="#5d7563" d="M1407 367l19 17l17 -29l-18 -16z"/>
<path fill="#546f5d" d="M1423 381l18 18l17 -30l-18 -17z"/>
<path fill="#51695a" d="M1438 396l19 20l17 -31l-19 -19z"/>
<path fill="#4e6657" d="M1453 412l19 24l17 -30l-19 -25z"/>
<path fill="#516051" d="M1484 457l19 31l16 -32l-18 -31z"/>
<path fill="#576051" d="M1500 483l18 29l16 -32l-18 -29z"/>
<path fill="#5d6051" d="M1515 507l18 27l17 -32l-19 -27z"/>
<path fill="#636054" d="M1530 530l19 22l16 -32l-18 -22z"/>
<path fill="#696357" d="M1545 548l19 20l16 -31l-18 -21zM1538 356l19 28l16 -28l-18 -28z"/>
<path fill="#726357" d="M1560 565l19 17l17 -30l-19 -19z"/>
<path fill="#7b665a" d="M1576 579l18 16l17 -29l-19 -17z"/>
<path fill="#846c60" d="M1591 592l19 15l16 -28l-19 -16z"/>
<path fill="#8a6f63" d="M1606 604l19 16l16 -26l-19 -18z"/>
<path fill="#907566" d="M1621 616l19 17l17 -24l-19 -19z"/>
<path fill="#967b6c" d="M1636 630l19 16l17 -22l-19 -18z"/>
<path fill="#99816f" d="M1651 643l20 14l16 -20l-19 -16z"/>
<path fill="#9f8475" d="M1666 654l20 11l17 -19l-20 -12z"/>
<path fill="#a29681" d="M1712 675l20 6l17 -17l-20 -7zM2316 578l35 8l17 -22l-33 -8zM2249 543l34 7l18 -22l-33 -6z"/>
<path fill="#a29c84" d="M1727 680l21 5l17 -16l-21 -6z"/>
<path fill="#9ca88d" d="M1773 690l21 5l17 -17l-21 -4z"/>
<path fill="#99ae90" d="M1805 697l21 5l17 -17l-22 -4z"/>
<path fill="#96b190" d="M1820 701l22 5l16 -17l-21 -5z"/>
<path fill="#93b193" d="M1836 704l21 5l17 -17l-21 -4z"/>
<path fill="#90b193" d="M1852 708l21 5l17 -17l-21 -5z"/>
<path fill="#8db190" d="M1868 711l21 5l17 -17l-22 -4z"/>
<path fill="#8ab190" d="M1884 715l21 5l17 -17l-22 -5zM1900 719l21 5l16 -17l-21 -5z"/>
<path fill="#81ae8d" d="M1948 729l36 8l14 -16l-35 -8z"/>
<path fill="#81ab8a" d="M1977 736l36 8l14 -16l-36 -8zM1960 716l35 8l15 -15l-36 -8zM1956 701l21 5l16 -17l-22 -5z"/>
<path fill="#7ea88a" d="M2006 742l36 8l14 -16l-36 -8zM1988 723l36 8l14 -16l-35 -8zM1972 704l35 8l14 -16l-35 -8z"/>
<path fill="#7ea587" d="M2035 749l36 8l14 -16l-36 -8zM2064 756l36 8l14 -16l-36 -9zM1979 676l21 5l16 -17l-22 -4z"/>
<path fill="#81a284" d="M2094 762l36 9l14 -17l-37 -8zM1959 657l21 5l16 -17l-22 -4z"/>
<path fill="#849f84" d="M2123 769l37 9l13 -17l-36 -8zM2164 763l37 8l13 -16l-37 -9zM1955 642l21 4l15 -16l-21 -4z"/>
<path fill="#8a9f84" d="M2183 783l37 10l13 -17l-37 -9zM1939 638l21 5l16 -16l-21 -5z"/>
<path fill="#909f84" d="M2213 791l37 11l13 -17l-37 -11zM1912 647l21 4l16 -16l-21 -4z"/>
<path fill="#969c84" d="M2243 800l38 11l12 -18l-37 -10zM2254 786l37 11l13 -17l-37 -11zM2305 767l36 12l13 -17l-37 -12zM1178 158l29 9l19 -17l-29 -8zM1215 152l29 7l19 -16l-29 -6z"/>
<path fill="#9ca28d" d="M1111 193l28 14l19 -21l-28 -14z"/>
<path fill="#bdb19c" d="M1156 212l29 8l19 -21l-29 -8z"/>
<path fill="#ccb7a5" d="M1179 218l29 7l18 -21l-28 -6z"/>
<path fill="#dbbdab" d="M1202 224l29 7l18 -21l-28 -7z"/>
<path fill="#e7c3ae" d="M1225 230l29 9l18 -22l-28 -8z"/>
<path fill="#edc3b1" d="M1248 237l29 11l18 -23l-28 -10z"/>
<path fill="#eac3b1" d="M1272 246l19 8l19 -24l-19 -7z"/>
<path fill="#e4c0ab" d="M1287 252l19 10l18 -24l-19 -10z"/>
<path fill="#dbbaa8" d="M1302 260l18 11l19 -25l-19 -11z"/>
<path fill="#cfb4a2" d="M1316 268l19 12l18 -25l-18 -11z"/>
<path fill="#a29c8a" d="M1361 298l19 14l18 -26l-19 -13z"/>
<path fill="#818a78" d="M1391 321l19 14l18 -27l-19 -14z"/>
<path fill="#72816f" d="M1406 332l19 15l17 -27l-18 -15z"/>
<path fill="#667866" d="M1421 344l19 17l17 -29l-18 -15z"/>
<path fill="#5d7260" d="M1437 357l18 18l17 -29l-18 -17z"/>
<path fill="#576c5a" d="M1452 371l18 20l17 -30l-18 -19zM1416 43l28 3l26 -18l-27 -3z"/>
<path fill="#546051" d="M1498 431l18 30l17 -31l-19 -30z"/>
<path fill="#575d51" d="M1513 456l19 29l16 -31l-18 -29z"/>
<path fill="#5d5d51" d="M1529 481l18 26l16 -31l-18 -27zM1527 430l18 29l16 -31l-18 -29z"/>
<path fill="#635d51" d="M1544 503l18 23l16 -32l-18 -23z"/>
<path fill="#695d51" d="M1559 522l18 21l17 -32l-19 -21z"/>
<path fill="#6f6054" d="M1574 539l19 19l16 -31l-19 -19z"/>
<path fill="#786357" d="M1589 554l19 17l16 -29l-19 -18z"/>
<path fill="#7e665a" d="M1604 568l19 17l16 -28l-19 -18z"/>
<path fill="#87695d" d="M1619 582l19 17l16 -26l-18 -19z"/>
<path fill="#8d6f63" d="M1634 595l19 19l17 -24l-19 -21z"/>
<path fill="#937266" d="M1649 610l19 19l17 -22l-19 -21z"/>
<path fill="#96786c" d="M1664 625l20 17l16 -20l-19 -19z"/>
<path fill="#9c7e6f" d="M1679 639l20 12l17 -19l-20 -14z"/>
<path fill="#9f8472" d="M1694 648l20 9l17 -18l-20 -10zM1722 641l20 10l17 -17l-20 -11z"/>
<path fill="#a2907b" d="M1724 662l21 7l17 -17l-21 -8zM1752 655l21 6l17 -16l-21 -7zM1870 597l21 4l16 -15l-21 -4zM2051 524l19 4l22 -22l-19 -4z"/>
<path fill="#a2967e" d="M1740 667l20 6l17 -16l-20 -7zM1768 659l20 5l17 -16l-21 -5zM1795 651l21 4l17 -16l-21 -4zM1823 642l21 5l16 -16l-21 -5zM1850 634l21 4l16 -16l-20 -4zM1862 622l21 5l16 -16l-21 -4zM2371 635l35 9l18 -24l-35 -8z"/>
<path fill="#a29984" d="M1755 671l21 5l17 -16l-21 -5z"/>
<path fill="#9ca287" d="M1786 678l21 5l17 -17l-21 -4zM1814 669l21 5l17 -16l-21 -5z"/>
<path fill="#96ab8d" d="M1833 688l21 5l17 -17l-22 -4z"/>
<path fill="#93ab8d" d="M1848 692l22 5l16 -17l-21 -5z"/>
<path fill="#90ae8d" d="M1864 695l22 5l16 -17l-21 -4z"/>
<path fill="#8dae8d" d="M1880 699l21 5l17 -17l-22 -5z"/>
<path fill="#8aae8d" d="M1896 703l21 4l16 -16l-21 -5z"/>
<path fill="#87ae8d" d="M1912 706l21 5l16 -17l-21 -5z"/>
<path fill="#7ba887" d="M2017 729l36 8l14 -15l-35 -8zM2000 710l36 8l14 -16l-36 -7z"/>
<path fill="#7ba284" d="M2075 742l37 9l13 -16l-36 -8zM1990 664l22 5l15 -17l-21 -4z"/>
<path fill="#7ea284" d="M2105 749l36 8l14 -16l-37 -8zM1974 661l22 4l15 -16l-21 -5z"/>
<path fill="#819f84" d="M2134 756l37 8l13 -16l-36 -8zM1970 645l21 5l16 -16l-21 -5z"/>
<path fill="#8a9c84" d="M2194 770l37 9l13 -16l-37 -10z"/>
<path fill="#8d9c84" d="M2224 778l37 10l13 -17l-37 -10zM1924 635l21 4l15 -16l-21 -4z"/>
<path fill="#9c9c84" d="M2284 794l37 13l13 -17l-37 -13zM1826 657l21 5l17 -16l-21 -5zM1854 649l21 4l16 -16l-21 -4zM2354 750l37 13l12 -16l-37 -14z"/>
<path fill="#bda290" d="M2469 850l38 9l12 -17l-39 -9zM2478 836l39 9l11 -17l-39 -9z"/>
<path fill="#c0a590" d="M2500 857l39 9l11 -17l-38 -9zM2510 843l38 9l11 -17l-38 -9zM2502 748l37 9l11 -16l-38 -8z"/>
<path fill="#969f8a" d="M1126 176l28 14l19 -19l-28 -14z"/>
<path fill="#c9b49f" d="M1194 202l29 7l18 -20l-28 -7z"/>
<path fill="#d8baa8" d="M1217 207l29 7l18 -20l-29 -7z"/>
<path fill="#e4c0ae" d="M1240 213l29 8l18 -21l-29 -7z"/>
<path fill="#eac3ae" d="M1263 219l29 10l18 -21l-29 -9z"/>
<path fill="#edc3ae" d="M1287 228l18 7l19 -23l-19 -7z"/>
<path fill="#e7c0ae" d="M1301 234l19 9l19 -24l-19 -8zM1301 211l19 6l19 -21l-19 -7z"/>
<path fill="#e1bda8" d="M1316 241l19 10l18 -23l-19 -11z"/>
<path fill="#d5b7a2" d="M1331 249l19 12l18 -24l-19 -12z"/>
<path fill="#c9ae9c" d="M1346 258l18 13l19 -25l-19 -12z"/>
<path fill="#baa896" d="M1360 268l19 13l18 -24l-18 -13zM1358 153l19 5l19 -17l-19 -5z"/>
<path fill="#ab9f8d" d="M1375 278l19 14l18 -25l-19 -13zM1418 250l19 13l18 -24l-19 -11z"/>
<path fill="#9c9684" d="M1390 289l19 13l18 -25l-19 -13z"/>
<path fill="#8d8d7b" d="M1405 300l19 14l18 -27l-19 -13z"/>
<path fill="#7e8472" d="M1420 311l19 14l17 -27l-18 -13z"/>
<path fill="#727b6c" d="M1435 322l19 16l17 -28l-18 -15z"/>
<path fill="#667563" d="M1450 334l19 17l17 -28l-18 -16z"/>
<path fill="#606f5d" d="M1466 348l18 19l17 -29l-18 -18z"/>
<path fill="#5d695a" d="M1481 363l18 23l17 -30l-18 -22zM1481 34l28 4l26 -17l-28 -4z"/>
<path fill="#5a6354" d="M1496 381l19 29l16 -30l-18 -28z"/>
<path fill="#5a6054" d="M1512 405l18 30l16 -31l-18 -29z"/>
<path fill="#605a4e" d="M1542 454l18 27l17 -31l-19 -27z"/>
<path fill="#635a4e" d="M1557 477l19 23l16 -32l-19 -23zM1555 428l19 27l16 -31l-18 -26z"/>
<path fill="#695a4e" d="M1572 496l19 21l16 -31l-19 -22z"/>
<path fill="#6f5a51" d="M1587 513l19 20l16 -30l-19 -21zM1646 274l18 25l16 -24l-18 -25zM1659 255l18 24l15 -24l-18 -24zM1657 217l18 23l15 -23l-18 -22zM1669 200l17 22l24 -36l-17 -19zM1675 157l17 18l24 -32l-17 -16zM1680 121l17 14l24 -29l-17 -13z"/>
<path fill="#755d54" d="M1602 529l19 19l16 -29l-18 -20z"/>
<path fill="#7e6057" d="M1617 544l19 19l16 -28l-18 -20z"/>
<path fill="#84635a" d="M1632 559l19 19l16 -26l-18 -21z"/>
<path fill="#8a695d" d="M1648 574l18 21l16 -24l-18 -23z"/>
<path fill="#906f60" d="M1663 591l18 21l17 -22l-19 -23z"/>
<path fill="#967266" d="M1677 608l20 18l16 -20l-19 -20z"/>
<path fill="#99786c" d="M1692 623l20 13l16 -19l-19 -15z"/>
<path fill="#9f7e6f" d="M1707 633l20 11l17 -18l-20 -12z"/>
<path fill="#a28a78" d="M1737 648l21 8l16 -16l-20 -9z"/>
<path fill="#9f9981" d="M1783 663l21 4l17 -16l-21 -4zM1811 654l21 5l16 -16l-21 -5zM1838 646l21 4l17 -16l-21 -4zM2383 711l36 13l11 -16l-35 -13zM2392 698l36 13l12 -16l-36 -13z"/>
<path fill="#9f9f84" d="M1798 666l21 5l17 -17l-21 -4z"/>
<path fill="#99a587" d="M1829 673l22 4l16 -16l-21 -5z"/>
<path fill="#93a88a" d="M1861 680l21 4l16 -16l-21 -5z"/>
<path fill="#90a88a" d="M1876 683l22 5l16 -17l-21 -4z"/>
<path fill="#8dab8d" d="M1892 687l21 4l17 -16l-22 -5z"/>
<path fill="#8aab8d" d="M1908 690l21 5l16 -17l-21 -5z"/>
<path fill="#87ab8a" d="M1924 694l21 5l16 -17l-21 -5z"/>
<path fill="#84ab8a" d="M1940 697l21 5l16 -17l-21 -4z"/>
<path fill="#78a587" d="M2029 717l36 8l13 -16l-35 -8zM2012 698l35 8l14 -16l-35 -8z"/>
<path fill="#78a284" d="M2058 723l36 8l13 -16l-35 -8zM2087 730l36 8l13 -16l-36 -8zM2040 704l36 8l14 -16l-36 -8zM2023 685l35 8l14 -15l-35 -8zM2006 667l35 7l14 -15l-35 -7z"/>
<path fill="#7b9f81" d="M2116 736l36 8l14 -16l-37 -8zM1997 637l21 4l15 -16l-21 -4z"/>
<path fill="#7e9f81" d="M2145 743l37 8l13 -16l-36 -8zM1981 633l22 5l15 -16l-21 -5z"/>
<path fill="#819c81" d="M2175 749l36 9l13 -16l-36 -9zM1973 603l21 5l15 -16l-21 -4z"/>
<path fill="#879c81" d="M2205 756l36 10l13 -16l-36 -10zM1951 627l21 4l15 -16l-21 -4zM1946 612l22 4l15 -16l-21 -4z"/>
<path fill="#8d9c81" d="M2234 764l37 10l13 -16l-37 -10z"/>
<path fill="#939c84" d="M2264 772l37 11l13 -17l-37 -10z"/>
<path fill="#999c84" d="M2294 781l37 12l13 -17l-37 -12zM1881 640l21 5l16 -16l-21 -5z"/>
<path fill="#ba9f8a" d="M2385 812l38 11l12 -17l-38 -11zM2395 798l37 11l12 -17l-37 -10zM2405 785l37 10l11 -16l-37 -11zM2414 771l37 11l12 -16l-37 -11zM2423 758l37 11l12 -16l-37 -11z"/>
<path fill="#9fa28d" d="M1163 173l29 9l19 -18l-29 -9z"/>
<path fill="#b1a893" d="M1186 180l29 8l18 -19l-28 -7z"/>
<path fill="#c0ae9c" d="M1209 186l29 7l18 -19l-29 -6z"/>
<path fill="#debda8" d="M1254 197l29 8l19 -20l-29 -7z"/>
<path fill="#e7c0ab" d="M1278 203l29 9l18 -21l-29 -8z"/>
<path fill="#e7bdab" d="M1316 216l19 8l18 -22l-19 -8z"/>
<path fill="#e1baa8" d="M1330 222l19 11l19 -23l-19 -10zM1315 194l19 7l19 -21l-19 -6zM1330 199l19 8l18 -20l-18 -8z"/>
<path fill="#d8b7a5" d="M1345 230l19 12l18 -23l-19 -11zM1359 213l19 11l18 -21l-19 -11zM1344 183l19 8l19 -19l-19 -7zM1359 189l19 10l18 -20l-19 -9z"/>
<path fill="#cfb19f" d="M1360 239l19 13l18 -24l-19 -11zM1374 221l19 12l18 -21l-19 -12z"/>
<path fill="#c0ab99" d="M1375 249l18 13l18 -24l-18 -12z"/>
<path fill="#969381" d="M1419 279l19 14l18 -26l-19 -12zM1413 120l20 6l18 -16l-19 -5z"/>
<path fill="#8a8a78" d="M1434 290l19 14l17 -26l-18 -13zM1413 106l19 4l19 -15l-20 -4z"/>
<path fill="#7e816f" d="M1449 301l19 14l17 -26l-19 -14z"/>
<path fill="#727869" d="M1464 312l19 16l17 -27l-19 -15z"/>
<path fill="#6c7263" d="M1479 325l19 18l17 -28l-19 -17z"/>
<path fill="#666c5d" d="M1494 339l19 23l17 -29l-19 -22z"/>
<path fill="#606054" d="M1525 380l18 29l17 -30l-19 -28z"/>
<path fill="#605d51" d="M1540 404l19 29l16 -30l-19 -29z"/>
<path fill="#66574e" d="M1570 451l19 23l16 -31l-18 -23z"/>
<path fill="#69574e" d="M1585 470l19 22l16 -31l-18 -22zM1584 425l18 24l16 -30l-18 -24z"/>
<path fill="#6f574e" d="M1601 488l18 20l16 -29l-18 -22zM1610 378l18 24l16 -26l-18 -25zM1623 356l18 25l16 -26l-18 -25zM1648 315l18 24l16 -24l-18 -25zM1694 132l18 16l23 -31l-17 -14z"/>
<path fill="#755a4e" d="M1615 505l19 19l16 -28l-18 -21z"/>
<path fill="#7b5d51" d="M1630 521l19 19l16 -26l-18 -22z"/>
<path fill="#846054" d="M1646 536l18 21l16 -25l-18 -23z"/>
<path fill="#8a635a" d="M1661 553l18 23l16 -24l-18 -25z"/>
<path fill="#90695d" d="M1676 571l18 23l16 -21l-18 -25z"/>
<path fill="#966f63" d="M1690 590l19 21l16 -20l-18 -23z"/>
<path fill="#9c7566" d="M1705 607l20 15l16 -19l-20 -16zM1847 533l19 16l15 -16l-19 -17z"/>
<path fill="#9f7b6c" d="M1720 619l20 11l16 -18l-20 -12z"/>
<path fill="#a2816f" d="M1735 627l20 11l16 -17l-20 -12zM1913 539l19 7l22 -21l-18 -8z"/>
<path fill="#a58775" d="M1750 635l20 9l17 -16l-20 -10z"/>
<path fill="#a58d78" d="M1765 642l21 7l16 -16l-20 -7z"/>
<path fill="#a5907b" d="M1780 648l21 4l17 -16l-21 -5zM1847 619l21 5l16 -16l-21 -4zM1859 608l21 4l16 -15l-21 -4z"/>
<path fill="#93a587" d="M1873 667l21 5l16 -16l-21 -5z"/>
<path fill="#8da88a" d="M1904 674l21 5l16 -16l-21 -5z"/>
<path fill="#87a88a" d="M1920 678l21 5l16 -17l-21 -5z"/>
<path fill="#7ea887" d="M1967 688l22 5l15 -16l-21 -5z"/>
<path fill="#75a284" d="M2069 710l36 8l13 -15l-35 -8zM2051 691l36 8l14 -15l-36 -8zM2034 673l35 8l14 -16l-35 -7z"/>
<path fill="#789f81" d="M2098 717l36 8l13 -16l-36 -8zM2127 723l36 8l13 -15l-36 -8zM2013 640l21 5l15 -16l-21 -5z"/>
<path fill="#7b9c81" d="M2156 730l36 8l13 -16l-36 -8zM1993 622l21 4l15 -16l-21 -4zM1988 607l21 4l15 -15l-21 -5zM1999 595l21 5l15 -16l-21 -4zM1995 581l21 4l15 -15l-21 -5zM2021 573l21 4l15 -15l-21 -5zM2078 572l19 4l22 -23l-20 -4z"/>
<path fill="#7e9c81" d="M2185 736l37 9l13 -16l-36 -8zM1977 618l21 5l16 -16l-22 -5zM1984 592l21 4l15 -15l-21 -4zM2062 569l20 4l21 -23l-19 -4z"/>
<path fill="#849c81" d="M2215 743l37 10l12 -16l-36 -10zM1962 615l21 4l15 -15l-21 -5z"/>
<path fill="#8a9c81" d="M2245 751l36 10l13 -17l-37 -9zM1935 623l21 5l16 -16l-21 -5z"/>
<path fill="#909c81" d="M2275 759l36 10l13 -17l-37 -10z"/>
<path fill="#9f9c84" d="M2335 777l36 13l12 -17l-36 -13zM2345 763l36 13l12 -16l-36 -13z"/>
<path fill="#ae9f87" d="M2365 787l37 13l11 -16l-36 -13zM2403 734l36 13l12 -15l-36 -14zM2412 721l37 13l11 -15l-36 -14z"/>
<path fill="#baa28d" d="M2456 815l38 9l12 -17l-38 -9zM2466 801l38 9l11 -17l-38 -8zM2475 788l38 8l11 -16l-38 -9zM2484 775l38 8l10 -16l-37 -9z"/>
<path fill="#baa290" d="M2487 822l39 9l11 -17l-38 -9z"/>
<path fill="#bda590" d="M2519 829l38 9l11 -17l-38 -9zM2532 755l38 9l10 -16l-37 -9z"/>
<path fill="#87967e" d="M1156 146l28 15l19 -16l-28 -14zM1950 573l21 3l15 -15l-21 -3zM1961 562l20 3l16 -14l-21 -3zM2246 585l34 7l18 -23l-33 -6z"/>
<path fill="#a5a28d" d="M1201 166l29 7l18 -17l-28 -7z"/>
<path fill="#b4a893" d="M1223 171l29 7l19 -18l-29 -6z"/>
<path fill="#debaa8" d="M1292 187l29 8l18 -19l-29 -7zM1344 205l19 10l19 -21l-19 -9z"/>
<path fill="#c6ab99" d="M1389 231l19 12l17 -22l-18 -12zM1403 214l19 12l17 -21l-18 -12z"/>
<path fill="#baa593" d="M1403 240l19 13l18 -23l-19 -12zM1417 223l19 12l18 -21l-19 -12zM1431 207l19 11l18 -20l-19 -11zM1430 183l19 11l18 -19l-19 -10z"/>
<path fill="#938d7b" d="M1448 270l19 13l17 -25l-19 -12z"/>
<path fill="#878775" d="M1463 280l19 14l17 -25l-19 -13z"/>
<path fill="#7e7e6f" d="M1478 291l19 16l17 -26l-19 -15z"/>
<path fill="#757566" d="M1493 303l19 17l16 -26l-18 -17zM1503 76l18 5l27 -22l-18 -4z"/>
<path fill="#6f6f60" d="M1508 317l19 21l16 -27l-18 -21zM1524 60l18 4l26 -20l-17 -4z"/>
<path fill="#6c695a" d="M1523 334l19 27l16 -28l-18 -26z"/>
<path fill="#665d51" d="M1554 379l18 29l16 -29l-18 -28z"/>
<path fill="#665a4e" d="M1569 403l18 27l16 -30l-18 -26z"/>
<path fill="#6c544b" d="M1599 444l18 23l16 -29l-18 -23zM1612 420l18 23l16 -27l-18 -24zM1676 315l18 25l15 -24l-18 -26zM1673 275l19 25l15 -24l-18 -26zM1684 218l17 23l23 -36l-17 -22zM1704 189l17 21l23 -35l-17 -20z"/>
<path fill="#6f544b" d="M1614 463l18 21l16 -28l-18 -22zM1625 397l18 24l16 -26l-18 -24zM1663 335l18 25l16 -25l-18 -25z"/>
<path fill="#75574e" d="M1629 480l18 22l16 -28l-18 -22z"/>
<path fill="#7b574e" d="M1644 497l18 22l16 -26l-19 -23zM1656 475l19 23l16 -25l-19 -24z"/>
<path fill="#845d54" d="M1658 514l19 23l16 -25l-19 -24z"/>
<path fill="#8a6057" d="M1674 532l18 25l16 -23l-19 -27z"/>
<path fill="#90665a" d="M1689 552l18 25l16 -21l-19 -27z"/>
<path fill="#996c60" d="M1703 573l19 22l16 -20l-19 -24zM1832 519l19 18l15 -17l-19 -19z"/>
<path fill="#9c7263" d="M1718 591l19 16l16 -18l-19 -18z"/>
<path fill="#a27869" d="M1733 604l19 13l17 -18l-20 -14zM1835 546l19 15l16 -16l-20 -16z"/>
<path fill="#a57e6f" d="M1748 614l19 11l17 -17l-20 -12z"/>
<path fill="#a88472" d="M1762 622l21 10l16 -16l-20 -11zM1852 578l21 6l15 -15l-20 -7z"/>
<path fill="#a88775" d="M1777 630l21 7l16 -16l-20 -7z"/>
<path fill="#a88d78" d="M1792 636l21 4l17 -15l-21 -5z"/>
<path fill="#a5937b" d="M1808 639l20 4l17 -15l-21 -5z"/>
<path fill="#969f84" d="M1869 652l21 5l16 -17l-21 -4z"/>
<path fill="#7ba584" d="M1995 679l35 8l14 -16l-35 -7z"/>
<path fill="#759f81" d="M2080 698l36 8l13 -16l-35 -8zM2109 704l36 8l13 -15l-36 -8zM2017 655l35 7l14 -15l-35 -7zM2028 643l35 7l14 -15l-35 -7zM2024 628l21 5l15 -16l-21 -5z"/>
<path fill="#759c7e" d="M2138 711l36 8l13 -16l-36 -8z"/>
<path fill="#789c7e" d="M2167 717l36 8l13 -16l-36 -8z"/>
<path fill="#7b9c7e" d="M2196 724l36 8l13 -16l-36 -8z"/>
<path fill="#81997e" d="M2225 730l37 10l13 -16l-37 -10zM1965 575l21 4l15 -15l-21 -4zM2163 568l34 7l19 -22l-33 -7zM2191 573l33 7l19 -22l-33 -7z"/>
<path fill="#87997e" d="M2255 738l37 9l12 -16l-36 -9zM2017 559l19 4l22 -23l-19 -4z"/>
<path fill="#8d9981" d="M2285 746l36 9l13 -16l-37 -10zM1931 609l21 4l16 -16l-21 -4z"/>
<path fill="#969c81" d="M2315 753l36 12l12 -16l-36 -12z"/>
<path fill="#ab9f87" d="M2375 774l36 13l12 -16l-37 -14zM2384 760l37 14l11 -16l-36 -14zM2394 747l36 13l12 -16l-37 -13z"/>
<path fill="#baa590" d="M2497 808l38 9l11 -17l-38 -8zM2506 795l38 9l10 -17l-37 -9zM2514 781l38 9l11 -16l-38 -9zM2523 768l38 9l11 -16l-38 -9z"/>
<path fill="#bda593" d="M2528 815l38 9l11 -16l-38 -9zM2537 802l38 9l10 -17l-38 -9z"/>
<path fill="#7b9078" d="M1171 134l28 14l19 -15l-28 -13z"/>
<path fill="#8a967e" d="M1193 145l29 9l19 -16l-29 -7zM1938 584l21 3l16 -15l-21 -3zM2002 557l19 3l22 -23l-19 -3z"/>
<path fill="#c6ae9c" d="M1283 168l29 6l19 -17l-29 -6z"/>
<path fill="#d2b49f" d="M1306 173l29 7l19 -17l-30 -7z"/>
<path fill="#d8b7a2" d="M1330 179l19 6l19 -19l-20 -5z"/>
<path fill="#d5b4a2" d="M1373 196l19 11l18 -20l-18 -10z"/>
<path fill="#ccb19f" d="M1388 205l19 11l18 -20l-19 -11zM1358 169l19 8l19 -18l-19 -7zM1373 175l19 9l18 -18l-19 -9z"/>
<path fill="#b19f8d" d="M1432 233l19 11l18 -22l-19 -11zM1446 216l19 11l17 -21l-19 -10z"/>
<path fill="#a59987" d="M1447 242l19 12l17 -23l-19 -11zM1457 155l19 10l18 -19l-19 -9z"/>
<path fill="#9c9381" d="M1462 251l18 12l18 -23l-19 -12zM1456 135l19 9l18 -18l-19 -8z"/>
<path fill="#908a78" d="M1476 261l19 13l18 -24l-19 -13zM1470 122l19 8l18 -17l-19 -7zM1484 128l19 9l18 -18l-19 -8zM1498 135l19 8l18 -18l-19 -8z"/>
<path fill="#878172" d="M1491 271l19 15l17 -25l-18 -14zM1511 121l20 8l17 -18l-19 -7zM1526 127l19 8l17 -18l-19 -7z"/>
<path fill="#7e7b69" d="M1506 283l19 16l17 -25l-19 -16z"/>
<path fill="#726c5d" d="M1537 312l18 26l16 -27l-18 -24z"/>
<path fill="#6f665a" d="M1552 333l18 28l16 -27l-18 -27zM1600 57l18 4l26 -21l-18 -4z"/>
<path fill="#6c6054" d="M1567 356l18 28l16 -28l-18 -27z"/>
<path fill="#6c5a51" d="M1582 379l18 26l16 -28l-18 -26z"/>
<path fill="#6c574e" d="M1597 401l18 23l16 -27l-18 -24zM1661 294l18 25l16 -24l-19 -25zM1671 236l18 24l16 -24l-18 -24zM1689 172l17 20l24 -34l-17 -18z"/>
<path fill="#72544b" d="M1627 439l18 22l16 -26l-18 -24zM1639 416l19 24l16 -25l-19 -24zM1652 395l19 25l15 -25l-18 -25zM1665 375l18 25l16 -24l-18 -26z"/>
<path fill="#75544b" d="M1642 457l18 23l16 -26l-19 -24zM1680 395l18 25l16 -23l-19 -26z"/>
<path fill="#845a51" d="M1671 493l19 24l16 -24l-19 -24zM1684 473l19 25l15 -22l-18 -26zM1763 448l18 32l15 -19l-18 -33z"/>
<path fill="#8a5d54" d="M1686 512l19 27l15 -22l-18 -28zM1816 468l18 26l14 -19l-18 -27z"/>
<path fill="#93635a" d="M1701 533l19 27l15 -20l-18 -29z"/>
<path fill="#99695d" d="M1716 555l19 25l15 -20l-18 -25z"/>
<path fill="#a26f63" d="M1731 575l19 18l16 -18l-20 -19z"/>
<path fill="#a57569" d="M1745 590l20 13l16 -17l-20 -15z"/>
<path fill="#a87b6c" d="M1760 600l20 12l16 -16l-20 -14z"/>
<path fill="#ab816f" d="M1775 610l20 10l16 -16l-20 -11z"/>
<path fill="#ab8775" d="M1790 618l20 8l16 -16l-20 -8zM1960 531l19 3l22 -21l-19 -2z"/>
<path fill="#ab8a78" d="M1805 624l20 5l17 -16l-21 -5zM2021 521l20 2l21 -22l-19 -2z"/>
<path fill="#a8907b" d="M1820 628l21 4l16 -16l-21 -4zM2112 516l19 4l21 -22l-19 -4z"/>
<path fill="#9c9981" d="M1866 637l21 5l16 -16l-21 -5zM2374 723l36 13l11 -15l-36 -13z"/>
<path fill="#8aa284" d="M1928 650l21 5l15 -16l-21 -5z"/>
<path fill="#87a284" d="M1943 654l21 4l16 -16l-21 -5z"/>
<path fill="#729f81" d="M2062 679l36 8l13 -15l-35 -8zM2091 685l36 8l13 -15l-36 -8zM2045 661l35 7l14 -15l-35 -7zM2039 631l35 7l14 -14l-35 -8z"/>
<path fill="#729c7e" d="M2120 692l35 8l14 -16l-36 -8zM2148 698l36 8l13 -16l-35 -7z"/>
<path fill="#75997e" d="M2177 704l36 8l13 -15l-36 -8zM2120 580l33 7l20 -22l-33 -7zM2147 586l34 7l19 -22l-33 -7zM2175 592l33 7l20 -23l-34 -7z"/>
<path fill="#7b997e" d="M2206 711l37 8l12 -16l-36 -8z"/>
<path fill="#7e997e" d="M2236 717l36 10l13 -16l-37 -9z"/>
<path fill="#84997e" d="M2265 725l37 9l12 -16l-36 -9zM1954 586l21 4l15 -15l-21 -4zM1976 565l21 3l15 -15l-21 -3z"/>
<path fill="#8a997e" d="M2295 732l36 10l12 -16l-36 -9zM2305 720l36 9l12 -15l-36 -10zM2079 551l20 4l21 -23l-19 -4z"/>
<path fill="#939981" d="M2325 740l36 12l12 -16l-36 -12z"/>
<path fill="#728a72" d="M1185 123l29 13l19 -12l-29 -12zM1222 124l29 7l19 -14l-29 -5z"/>
<path fill="#7e9078" d="M1208 134l29 8l18 -14l-28 -7z"/>
<path fill="#8a937e" d="M1230 140l29 7l19 -15l-29 -6zM1267 134l29 5l18 -14l-28 -6z"/>
<path fill="#c3ae99" d="M1320 159l30 7l18 -16l-29 -6z"/>
<path fill="#c9b19c" d="M1344 165l19 6l19 -17l-19 -6z"/>
<path fill="#ccae9c" d="M1387 182l19 10l19 -19l-19 -9z"/>
<path fill="#c6ae99" d="M1402 189l19 12l18 -20l-19 -10z"/>
<path fill="#c0ab96" d="M1416 198l19 11l18 -19l-19 -11zM1387 162l19 8l18 -17l-19 -8zM1401 168l19 10l18 -18l-19 -9z"/>
<path fill="#8d8475" d="M1505 252l19 14l17 -22l-19 -14zM1527 148l19 8l17 -19l-19 -8z"/>
<path fill="#7e7566" d="M1535 275l18 21l17 -24l-19 -20zM1568 126l17 8l26 -28l-18 -7z"/>
<path fill="#786f60" d="M1550 291l18 25l17 -24l-19 -24z"/>
<path fill="#75665a" d="M1565 311l18 27l16 -25l-18 -26zM1627 185l19 19l16 -22l-19 -18zM1625 157l18 15l25 -31l-18 -13z"/>
<path fill="#726057" d="M1580 333l18 28l16 -26l-18 -27zM1642 200l18 22l16 -23l-18 -21zM1640 169l17 18l25 -32l-18 -16zM1646 133l17 14l25 -29l-18 -13zM1651 102l18 11l24 -27l-17 -10zM1642 70l18 7l25 -24l-18 -6z"/>
<path fill="#6f5d51" d="M1595 356l18 26l16 -26l-18 -26z"/>
<path fill="#78544b" d="M1654 435l19 24l16 -24l-19 -25zM1667 415l19 24l15 -23l-18 -26z"/>
<path fill="#7e544e" d="M1669 454l19 24l15 -23l-18 -25zM1682 434l18 25l16 -22l-18 -26z"/>
<path fill="#8d5d54" d="M1699 493l18 28l16 -21l-18 -29zM1751 465l18 31l15 -20l-18 -32zM1778 474l18 30l14 -19l-17 -30z"/>
<path fill="#966357" d="M1714 515l18 29l16 -20l-19 -30z"/>
<path fill="#9c665d" d="M1729 539l18 25l16 -18l-19 -27zM1856 492l17 19l23 -25l-18 -21z"/>
<path fill="#a56c63" d="M1743 560l19 19l16 -18l-19 -20z"/>
<path fill="#ab7266" d="M1758 575l19 15l16 -18l-19 -15z"/>
<path fill="#ae786c" d="M1772 586l20 14l16 -17l-20 -14z"/>
<path fill="#b17e6f" d="M1787 597l20 11l16 -16l-20 -12z"/>
<path fill="#ae8472" d="M1802 606l20 8l16 -15l-20 -9z"/>
<path fill="#ae8a78" d="M1817 612l20 5l17 -15l-21 -5z"/>
<path fill="#ab8d7b" d="M1832 616l21 4l16 -15l-21 -5z"/>
<path fill="#9c9681" d="M1877 626l21 4l16 -16l-21 -4z"/>
<path fill="#969981" d="M1893 629l21 4l16 -16l-21 -4zM1904 617l21 4l16 -15l-21 -4z"/>
<path fill="#939c81" d="M1908 632l21 4l16 -16l-21 -4z"/>
<path fill="#7e9f84" d="M1986 649l21 4l15 -16l-21 -5z"/>
<path fill="#7b9f84" d="M2001 652l22 5l15 -17l-21 -4z"/>
<path fill="#6f9f81" d="M2073 667l36 8l13 -15l-35 -8zM2056 649l35 7l14 -15l-35 -7z"/>
<path fill="#6f9c7e" d="M2102 673l35 8l14 -15l-36 -8zM2130 679l36 8l13 -15l-35 -8zM2084 655l36 8l13 -15l-35 -8zM2067 637l35 7l13 -14l-34 -8zM2109 591l35 7l13 -14l-35 -8z"/>
<path fill="#72997b" d="M2159 686l36 8l13 -16l-36 -8zM2198 680l36 7l13 -15l-36 -8z"/>
<path fill="#75997b" d="M2188 692l36 8l13 -16l-36 -7z"/>
<path fill="#78997b" d="M2217 698l36 8l13 -15l-37 -8z"/>
<path fill="#7e967b" d="M2246 705l36 9l13 -16l-36 -9z"/>
<path fill="#84967b" d="M2275 712l37 9l12 -15l-36 -9z"/>
<path fill="#90997e" d="M2334 727l37 12l12 -16l-37 -11zM2344 715l36 11l12 -16l-36 -11z"/>
<path fill="#9c9c81" d="M2364 736l36 14l12 -17l-36 -13z"/>
<path fill="#bda893" d="M2545 788l38 9l11 -16l-38 -9zM2554 775l38 9l10 -16l-38 -9z"/>
<path fill="#69846c" d="M1200 114l29 12l19 -12l-29 -11zM1237 115l29 5l18 -14l-28 -3z"/>
<path fill="#b4a590" d="M1335 147l29 7l18 -16l-29 -6z"/>
<path fill="#bda896" d="M1416 175l19 11l18 -19l-19 -10z"/>
<path fill="#ae9f8d" d="M1459 200l19 11l18 -21l-19 -10zM1444 169l19 11l18 -20l-19 -9z"/>
<path fill="#a89987" d="M1474 208l19 11l17 -21l-18 -10z"/>
<path fill="#908475" d="M1518 235l19 14l17 -23l-19 -13zM1531 218l19 13l17 -22l-19 -13z"/>
<path fill="#877e6f" d="M1533 245l19 16l17 -23l-19 -15zM1540 133l19 9l17 -19l-19 -8z"/>
<path fill="#817569" d="M1548 257l19 20l16 -23l-18 -19z"/>
<path fill="#7b6f60" d="M1563 272l19 24l16 -24l-19 -23z"/>
<path fill="#78695d" d="M1578 291l18 27l16 -25l-18 -25zM1591 272l18 26l16 -25l-18 -24zM1615 201l18 21l16 -23l-18 -19zM1611 148l17 12l25 -30l-17 -11z"/>
<path fill="#756357" d="M1593 313l18 27l16 -26l-18 -26zM1606 293l18 26l16 -25l-18 -25zM1629 217l19 23l16 -23l-19 -22z"/>
<path fill="#725d51" d="M1608 335l18 26l16 -26l-18 -25zM1634 294l18 25l15 -24l-18 -25z"/>
<path fill="#72544e" d="M1638 376l18 24l16 -25l-19 -25z"/>
<path fill="#84574e" d="M1697 454l18 26l16 -21l-19 -27zM1737 440l18 31l14 -21l-17 -31z"/>
<path fill="#8d5a54" d="M1712 475l18 29l15 -21l-18 -30z"/>
<path fill="#966057" d="M1727 498l18 30l15 -20l-18 -30zM1766 490l18 29l15 -19l-18 -29z"/>
<path fill="#9f665d" d="M1741 523l18 26l16 -18l-19 -28zM1780 514l18 23l15 -18l-18 -24z"/>
<path fill="#a86c60" d="M1755 545l19 20l16 -18l-19 -22z"/>
<path fill="#ae7266" d="M1770 561l19 16l16 -18l-19 -16z"/>
<path fill="#b1786c" d="M1785 573l19 14l16 -16l-20 -15z"/>
<path fill="#b47e6f" d="M1799 584l20 12l16 -15l-20 -13z"/>
<path fill="#b18472" d="M1814 594l20 9l16 -16l-20 -9z"/>
<path fill="#ae8775" d="M1829 601l20 5l16 -15l-20 -6zM1840 589l21 6l16 -16l-21 -5z"/>
<path fill="#ab8d78" d="M1844 605l20 4l16 -15l-20 -5z"/>
<path fill="#9f937e" d="M1874 611l21 4l16 -15l-21 -4zM2168 527l33 6l19 -21l-32 -6z"/>
<path fill="#9c967e" d="M1889 614l21 4l16 -15l-21 -4zM2382 665l36 10l11 -15l-36 -10zM2329 602l35 9l18 -23l-34 -8zM2289 572l34 8l18 -22l-34 -8z"/>
<path fill="#909981" d="M1920 620l21 4l15 -15l-21 -5z"/>
<path fill="#819f81" d="M1966 630l21 5l15 -16l-21 -5z"/>
<path fill="#6c9c7e" d="M2113 661l35 8l13 -15l-35 -8zM2095 643l35 8l13 -15l-35 -8zM2123 649l35 8l13 -15l-35 -8zM2078 625l35 8l13 -15l-35 -7zM2106 631l35 8l13 -15l-35 -7zM2088 614l35 7l13 -15l-34 -7zM2116 619l35 8l13 -15l-35 -7zM2099 602l35 7l13 -14l-35 -7z"/>
<path fill="#6f997b" d="M2141 667l35 8l13 -15l-35 -8zM2169 673l36 8l13 -15l-36 -8zM2180 661l35 8l13 -15l-35 -8zM2164 602l35 8l13 -15l-35 -7z"/>
<path fill="#75967b" d="M2227 686l36 8l12 -15l-35 -8zM2220 614l35 7l12 -14l-35 -7z"/>
<path fill="#7b967b" d="M2256 692l36 9l12 -15l-36 -9zM2230 603l34 7l19 -22l-34 -7z"/>
<path fill="#81967b" d="M2285 700l36 9l12 -16l-36 -9zM2258 609l34 7l19 -22l-34 -8z"/>
<path fill="#8a967b" d="M2315 707l36 9l12 -15l-36 -9zM2324 695l36 9l12 -15l-36 -10zM2334 682l36 9l12 -15l-36 -9z"/>
<path fill="#bd9f8a" d="M2433 745l37 11l11 -16l-37 -11zM2440 683l36 13l10 -15l-35 -13z"/>
<path fill="#608169" d="M1215 106l28 10l19 -12l-28 -9z"/>
<path fill="#758a72" d="M1259 119l29 5l18 -14l-28 -5z"/>
<path fill="#818d78" d="M1281 123l29 5l19 -15l-29 -4z"/>
<path fill="#8d937e" d="M1304 127l29 5l18 -15l-29 -5zM1923 581l21 4l16 -15l-21 -4z"/>
<path fill="#9c9984" d="M1326 131l29 6l18 -15l-29 -6z"/>
<path fill="#aea28d" d="M1372 141l19 5l19 -17l-19 -4z"/>
<path fill="#a29684" d="M1487 193l19 10l18 -21l-19 -9zM1472 163l19 9l17 -19l-19 -9z"/>
<path fill="#9c907e" d="M1502 201l19 10l17 -21l-19 -10zM1501 177l19 10l17 -20l-19 -9z"/>
<path fill="#968a7b" d="M1517 209l19 12l17 -22l-19 -11z"/>
<path fill="#8a7e6f" d="M1546 228l19 15l17 -22l-19 -15z"/>
<path fill="#847566" d="M1561 239l19 19l16 -23l-18 -18z"/>
<path fill="#7e6f63" d="M1576 254l19 23l16 -24l-19 -22zM1598 162l19 13l16 -20l-18 -13z"/>
<path fill="#725d54" d="M1621 314l18 26l16 -25l-18 -26zM1644 235l18 25l16 -24l-18 -24zM1671 81l18 10l24 -24l-18 -9z"/>
<path fill="#6f5a4e" d="M1636 335l18 25l15 -25l-18 -25z"/>
<path fill="#6f544e" d="M1650 355l19 25l15 -25l-18 -25zM1709 145l17 18l23 -33l-17 -16z"/>
<path fill="#7b544b" d="M1695 415l18 26l15 -22l-18 -27zM1722 418l18 27l15 -21l-18 -28zM1749 423l18 31l14 -20l-17 -32zM1787 415l18 33l14 -19l-17 -34z"/>
<path fill="#81574e" d="M1709 436l19 27l15 -22l-18 -28zM1802 442l17 31l15 -19l-18 -31z"/>
<path fill="#8a5a51" d="M1724 457l18 30l15 -20l-18 -31zM1827 453l18 26l22 -29l-17 -27z"/>
<path fill="#935d54" d="M1739 481l18 31l15 -20l-18 -31z"/>
<path fill="#9c635a" d="M1753 506l19 28l15 -19l-18 -28z"/>
<path fill="#a56960" d="M1768 529l18 22l16 -18l-19 -23z"/>
<path fill="#ab6f66" d="M1782 547l19 16l16 -17l-19 -18z"/>
<path fill="#b17869" d="M1797 560l19 15l16 -17l-20 -16z"/>
<path fill="#b17b6f" d="M1811 572l20 13l16 -16l-20 -14z"/>
<path fill="#b18172" d="M1826 582l20 9l16 -15l-20 -10z"/>
<path fill="#a88a78" d="M1855 593l21 5l16 -15l-21 -5z"/>
<path fill="#9c937b" d="M1885 600l21 4l16 -15l-21 -4z"/>
<path fill="#99967e" d="M1901 603l21 4l15 -16l-21 -3z"/>
<path fill="#93967e" d="M1916 606l21 4l15 -16l-20 -4zM2354 702l36 11l11 -16l-36 -10zM1912 592l21 4l16 -16l-21 -3zM2363 690l36 10l12 -15l-36 -11zM2301 596l35 8l18 -22l-34 -8zM2126 539l33 6l19 -21l-33 -7zM2234 561l33 7l19 -22l-33 -7z"/>
<path fill="#789c81" d="M2008 625l21 5l15 -16l-21 -5zM2004 610l21 5l15 -16l-21 -5zM2015 599l21 4l15 -16l-21 -4zM2010 584l21 4l15 -15l-21 -4zM2026 587l21 5l14 -16l-21 -4zM2036 576l21 4l15 -15l-21 -4zM2092 574l34 7l20 -22l-33 -7z"/>
<path fill="#6c997b" d="M2151 655l36 8l13 -15l-36 -8zM2134 637l35 8l13 -15l-35 -8zM2162 643l35 8l13 -15l-35 -8zM2144 625l35 8l13 -15l-35 -7zM2172 631l35 8l13 -15l-35 -7zM2154 614l35 7l13 -14l-35 -8z"/>
<path fill="#729678" d="M2208 667l36 8l13 -15l-36 -8zM2219 655l35 8l13 -15l-36 -8zM2229 643l35 8l12 -15l-35 -7zM2210 626l36 7l12 -15l-35 -7z"/>
<path fill="#759678" d="M2237 674l36 7l12 -15l-35 -7z"/>
<path fill="#7b9678" d="M2266 680l36 9l12 -15l-36 -9z"/>
<path fill="#819678" d="M2295 687l36 9l12 -15l-36 -9z"/>
<path fill="#c3a28d" d="M2472 741l37 9l11 -16l-37 -9zM2451 719l36 11l11 -16l-36 -10z"/>
<path fill="#c0a893" d="M2563 762l37 9l11 -17l-38 -8z"/>
<path fill="#5a7b63" d="M1229 98l29 9l19 -12l-29 -8z"/>
<path fill="#638169" d="M1251 106l29 3l19 -13l-29 -2z"/>
<path fill="#6c846c" d="M1273 109l29 4l19 -14l-29 -4z"/>
<path fill="#788a72" d="M1295 112l29 5l19 -14l-29 -5z"/>
<path fill="#90937e" d="M1340 120l29 5l18 -15l-29 -5z"/>
<path fill="#999681" d="M1363 124l29 6l18 -15l-29 -6z"/>
<path fill="#9f9984" d="M1386 129l19 5l18 -17l-19 -4z"/>
<path fill="#938775" d="M1530 193l19 11l17 -21l-19 -11z"/>
<path fill="#8d8172" d="M1545 201l18 13l17 -22l-18 -12zM1543 177l19 11l17 -21l-19 -10z"/>
<path fill="#877b6c" d="M1559 211l19 14l17 -21l-19 -14zM1556 161l19 11l17 -20l-19 -10z"/>
<path fill="#7e6c60" d="M1589 236l19 22l16 -23l-19 -21zM1600 188l19 17l16 -21l-19 -16z"/>
<path fill="#78665a" d="M1604 253l18 25l16 -24l-18 -23zM1617 235l18 24l16 -24l-18 -22z"/>
<path fill="#756057" d="M1619 273l18 26l16 -25l-18 -25z"/>
<path fill="#6f514b" d="M1678 355l18 25l15 -24l-18 -26zM1723 160l17 21l23 -34l-17 -20z"/>
<path fill="#725148" d="M1692 375l19 26l15 -23l-18 -27zM1738 177l17 24l22 -34l-16 -24z"/>
<path fill="#75514b" d="M1707 396l18 27l15 -22l-18 -28zM1743 133l17 19l23 -33l-17 -18z"/>
<path fill="#a56f63" d="M1794 533l19 17l15 -17l-18 -19z"/>
<path fill="#ab7566" d="M1809 546l19 16l15 -16l-19 -18z"/>
<path fill="#ab7b6c" d="M1823 559l20 14l15 -16l-19 -15z"/>
<path fill="#ab7e6f" d="M1838 570l20 10l15 -16l-20 -11z"/>
<path fill="#a28a75" d="M1867 582l21 5l15 -15l-20 -5z"/>
<path fill="#9f8d78" d="M1882 586l21 4l15 -15l-20 -4z"/>
<path fill="#99907b" d="M1897 589l21 4l15 -15l-20 -4z"/>
<path fill="#8d967e" d="M1927 595l21 4l16 -16l-21 -4zM1987 554l19 3l22 -22l-19 -3zM2064 548l20 4l21 -23l-19 -4zM2273 590l35 8l18 -22l-34 -8zM2179 550l34 7l19 -22l-33 -7z"/>
<path fill="#8a9981" d="M1942 597l21 4l16 -15l-21 -4z"/>
<path fill="#849981" d="M1958 600l21 5l15 -16l-21 -4zM2032 562l19 4l22 -22l-19 -5zM2109 556l33 7l20 -22l-33 -6z"/>
<path fill="#729c81" d="M2035 617l21 4l15 -16l-22 -4zM2045 605l22 5l14 -16l-21 -4zM2056 594l21 4l15 -15l-21 -5zM2082 585l34 7l13 -14l-34 -7z"/>
<path fill="#6f9678" d="M2190 649l36 8l12 -15l-35 -8zM2200 637l36 8l12 -15l-35 -7z"/>
<path fill="#759378" d="M2247 662l36 7l12 -15l-36 -7zM2257 650l36 7l12 -15l-36 -7zM2238 632l36 7l12 -14l-35 -8z"/>
<path fill="#7b9378" d="M2276 668l36 9l12 -15l-36 -9z"/>
<path fill="#819378" d="M2305 675l36 9l12 -15l-36 -9z"/>
<path fill="#b49f87" d="M2422 708l36 14l11 -16l-36 -13z"/>
<path fill="#c6a28d" d="M2481 728l36 9l11 -15l-37 -9z"/>
<path fill="#c3a590" d="M2510 736l38 8l10 -16l-37 -8z"/>
<path fill="#c3a893" d="M2541 742l37 9l10 -16l-37 -8z"/>
<path fill="#c6a896" d="M2571 749l38 8l10 -15l-38 -9z"/>
<path fill="#547860" d="M1244 89l28 9l19 -12l-29 -7z"/>
<path fill="#5d7b63" d="M1265 97l29 2l19 -13l-29 -1z"/>
<path fill="#668169" d="M1287 98l29 4l19 -14l-29 -3z"/>
<path fill="#72846f" d="M1310 101l28 5l18 -14l-28 -5zM1346 94l29 5l17 -14l-28 -5z"/>
<path fill="#7b8772" d="M1332 105l29 5l18 -15l-29 -4zM1368 97l29 5l18 -14l-29 -4z"/>
<path fill="#8d907b" d="M1377 112l29 6l17 -15l-29 -5z"/>
<path fill="#93937e" d="M1399 117l20 5l18 -16l-19 -4zM2034 542l19 3l22 -22l-19 -4z"/>
<path fill="#999381" d="M1428 124l19 7l18 -16l-19 -7zM1442 130l19 7l18 -17l-19 -7z"/>
<path fill="#99937e" d="M1471 142l19 9l17 -19l-19 -8zM2096 533l19 4l21 -22l-19 -4z"/>
<path fill="#99907e" d="M1485 149l19 9l18 -19l-19 -9z"/>
<path fill="#938a78" d="M1514 162l19 10l17 -20l-19 -9zM1905 565l20 4l16 -15l-21 -4z"/>
<path fill="#908775" d="M1529 169l18 10l18 -20l-19 -9zM1513 141l19 9l17 -19l-19 -8z"/>
<path fill="#8a7b6f" d="M1558 185l19 12l16 -21l-18 -11z"/>
<path fill="#847569" d="M1572 194l19 14l17 -21l-19 -14z"/>
<path fill="#817263" d="M1587 205l19 17l16 -21l-18 -17z"/>
<path fill="#7b6c60" d="M1602 218l18 22l16 -23l-18 -20z"/>
<path fill="#726054" d="M1632 254l18 25l15 -24l-18 -24z"/>
<path fill="#6c5148" d="M1690 335l18 26l16 -24l-18 -26zM1705 356l18 27l15 -23l-18 -28zM1718 207l17 24l23 -36l-17 -23z"/>
<path fill="#6f5148" d="M1720 377l18 28l15 -22l-18 -28z"/>
<path fill="#755148" d="M1734 400l18 28l15 -20l-18 -30z"/>
<path fill="#96635a" d="M1792 499l18 23l15 -18l-18 -25z"/>
<path fill="#9c6960" d="M1806 518l19 19l15 -18l-19 -20z"/>
<path fill="#9f7263" d="M1821 532l19 18l15 -17l-19 -18z"/>
<path fill="#a27e6c" d="M1849 558l20 10l16 -15l-20 -12z"/>
<path fill="#a28472" d="M1864 566l20 7l16 -15l-21 -8z"/>
<path fill="#9c8775" d="M1879 571l20 5l16 -14l-21 -6z"/>
<path fill="#998d78" d="M1893 575l21 4l16 -14l-21 -4z"/>
<path fill="#93907b" d="M1908 578l21 4l16 -15l-21 -3z"/>
<path fill="#819981" d="M1969 589l21 4l15 -15l-21 -4zM1991 567l21 4l15 -16l-21 -3zM2136 562l33 7l20 -22l-33 -7z"/>
<path fill="#7b9375" d="M2286 656l35 9l12 -15l-35 -9z"/>
<path fill="#849378" d="M2314 663l36 9l12 -15l-36 -9zM2305 632l35 9l12 -15l-35 -9z"/>
<path fill="#8d9378" d="M2343 670l36 9l12 -15l-36 -9zM2333 639l36 9l11 -15l-35 -9z"/>
<path fill="#96967e" d="M2372 677l36 10l12 -15l-36 -10zM2111 536l19 4l21 -22l-19 -4zM2261 567l34 7l18 -22l-33 -7z"/>
<path fill="#a59981" d="M2402 685l36 13l11 -15l-36 -13z"/>
<path fill="#b79f87" d="M2431 696l36 13l11 -15l-36 -14z"/>
<path fill="#c9a28d" d="M2460 707l36 10l11 -15l-36 -11zM2457 659l35 13l17 -24l-34 -12z"/>
<path fill="#cca290" d="M2489 716l37 9l11 -16l-37 -9z"/>
<path fill="#c9a590" d="M2519 723l37 8l11 -15l-37 -9z"/>
<path fill="#c6a893" d="M2549 730l37 8l11 -16l-37 -8z"/>
<path fill="#ccab96" d="M2579 736l38 9l10 -16l-37 -8z"/>
<path fill="#4e755d" d="M1258 81l28 7l19 -11l-29 -6z"/>
<path fill="#577860" d="M1279 88l29 1l19 -13l-29 0z"/>
<path fill="#607b66" d="M1301 89l29 2l18 -13l-28 -2z"/>
<path fill="#697e69" d="M1323 91l29 4l18 -14l-28 -4z"/>
<path fill="#848a75" d="M1390 101l29 6l18 -15l-29 -5z"/>
<path fill="#8d8d78" d="M1427 109l19 5l19 -16l-20 -5zM1441 113l19 6l18 -16l-19 -6z"/>
<path fill="#908d7b" d="M1455 117l20 7l17 -17l-19 -6z"/>
<path fill="#8a8172" d="M1542 154l19 10l17 -20l-19 -9z"/>
<path fill="#847869" d="M1571 169l18 12l17 -21l-19 -11z"/>
<path fill="#817266" d="M1585 178l19 14l17 -21l-19 -13zM1583 154l19 11l17 -20l-19 -11z"/>
<path fill="#695148" d="M1688 295l18 25l15 -24l-18 -25zM1700 275l18 26l16 -23l-18 -27zM1698 237l17 24l24 -36l-17 -24z"/>
<path fill="#694e48" d="M1703 315l18 27l15 -23l-18 -28z"/>
<path fill="#694e45" d="M1717 337l18 27l15 -22l-18 -28zM1715 296l18 27l15 -23l-18 -27zM1713 257l17 25l23 -36l-17 -25z"/>
<path fill="#6c4e45" d="M1732 359l18 28l15 -21l-18 -29zM1732 227l17 25l23 -35l-16 -25z"/>
<path fill="#6f4e48" d="M1746 382l18 30l15 -21l-18 -31z"/>
<path fill="#785148" d="M1761 406l18 32l14 -20l-17 -33z"/>
<path fill="#7e574e" d="M1775 432l18 32l15 -19l-18 -33z"/>
<path fill="#875a51" d="M1790 458l18 31l14 -20l-18 -30z"/>
<path fill="#8d6057" d="M1804 483l18 25l15 -18l-18 -26z"/>
<path fill="#93665a" d="M1818 503l19 20l15 -17l-19 -21z"/>
<path fill="#9c7b6c" d="M1861 545l20 12l15 -16l-20 -12z"/>
<path fill="#9c816f" d="M1875 554l21 8l15 -15l-20 -8z"/>
<path fill="#998772" d="M1890 560l20 6l16 -14l-21 -7z"/>
<path fill="#90907b" d="M1920 568l20 3l16 -14l-21 -4z"/>
<path fill="#8a937b" d="M1935 570l20 4l16 -15l-21 -3zM1946 560l20 3l16 -15l-21 -3z"/>
<path fill="#7e9981" d="M1980 578l21 4l15 -15l-21 -4zM2006 570l21 4l15 -15l-21 -5zM2047 565l20 5l21 -23l-19 -4z"/>
<path fill="#789378" d="M2267 638l35 7l12 -14l-35 -8zM2248 620l36 8l12 -15l-36 -8z"/>
<path fill="#7e9378" d="M2295 644l36 9l12 -15l-36 -9zM2276 626l36 8l12 -15l-36 -8z"/>
<path fill="#879378" d="M2324 651l36 9l11 -15l-35 -9z"/>
<path fill="#90937b" d="M2353 658l36 9l11 -15l-36 -9zM1972 552l19 3l23 -22l-20 -2z"/>
<path fill="#ab9984" d="M2411 673l36 13l11 -16l-36 -12z"/>
<path fill="#cca28d" d="M2469 694l36 11l11 -15l-36 -11z"/>
<path fill="#cfa590" d="M2498 703l37 9l10 -15l-36 -9z"/>
<path fill="#cfa593" d="M2528 710l37 9l10 -16l-37 -8z"/>
<path fill="#cfa896" d="M2558 717l37 8l10 -15l-37 -8z"/>
<path fill="#d2ab96" d="M2588 724l37 8l10 -16l-37 -8z"/>
<path fill="#4b725a" d="M1272 74l29 5l18 -11l-29 -5z"/>
<path fill="#54755d" d="M1293 79l29 0l19 -12l-29 0z"/>
<path fill="#637b66" d="M1337 80l29 4l18 -13l-29 -4z"/>
<path fill="#6c7e69" d="M1359 83l29 5l18 -14l-29 -4z"/>
<path fill="#75816c" d="M1382 87l28 4l18 -13l-29 -5z"/>
<path fill="#7b846f" d="M1404 90l29 5l17 -13l-29 -5z"/>
<path fill="#818472" d="M1426 95l20 4l18 -15l-19 -4zM1440 98l20 5l18 -16l-19 -4z"/>
<path fill="#848472" d="M1454 101l20 6l18 -16l-19 -5z"/>
<path fill="#878475" d="M1469 105l19 7l18 -17l-19 -5z"/>
<path fill="#878472" d="M1483 110l19 7l18 -17l-19 -6zM1497 115l19 8l18 -17l-19 -8z"/>
<path fill="#847b6c" d="M1554 140l19 9l17 -19l-18 -9z"/>
<path fill="#817869" d="M1569 146l19 10l17 -19l-19 -10z"/>
<path fill="#7b695d" d="M1613 172l18 16l16 -20l-18 -16z"/>
<path fill="#69544b" d="M1686 255l18 25l15 -24l-18 -25z"/>
<path fill="#694b45" d="M1730 318l17 28l15 -22l-17 -29zM1744 341l18 29l15 -21l-18 -30zM1727 278l17 27l23 -35l-17 -28z"/>
<path fill="#6f4e45" d="M1759 364l17 31l15 -21l-18 -31z"/>
<path fill="#724e48" d="M1773 389l18 32l14 -19l-17 -33zM1752 197l17 26l23 -34l-17 -26z"/>
<path fill="#90635a" d="M1830 489l18 21l15 -18l-18 -22z"/>
<path fill="#96695d" d="M1844 505l19 19l14 -17l-18 -20z"/>
<path fill="#997263" d="M1858 520l19 16l15 -16l-19 -17z"/>
<path fill="#9c7869" d="M1872 533l20 12l15 -15l-19 -13z"/>
<path fill="#9c7e6c" d="M1887 543l20 8l15 -14l-20 -10z"/>
<path fill="#998472" d="M1901 549l21 7l15 -14l-20 -8z"/>
<path fill="#968a75" d="M1916 554l21 4l15 -14l-21 -4z"/>
<path fill="#909078" d="M1931 557l20 4l16 -15l-21 -3z"/>
<path fill="#72967b" d="M2192 608l35 7l13 -14l-35 -7z"/>
<path fill="#96967b" d="M2362 646l36 9l11 -15l-36 -9zM2343 628l34 9l18 -23l-34 -9z"/>
<path fill="#a2997e" d="M2391 653l36 10l11 -15l-36 -10z"/>
<path fill="#b19c84" d="M2420 661l35 12l11 -15l-35 -12z"/>
<path fill="#c39f8a" d="M2449 671l35 13l11 -15l-35 -13z"/>
<path fill="#cfa290" d="M2477 682l37 11l10 -16l-36 -10z"/>
<path fill="#d5a590" d="M2507 691l36 9l11 -16l-37 -9z"/>
<path fill="#d5a593" d="M2536 698l37 8l10 -15l-36 -8z"/>
<path fill="#d5a896" d="M2566 704l37 9l10 -16l-37 -8z"/>
<path fill="#d8ab99" d="M2596 711l37 8l10 -15l-37 -8z"/>
<path fill="#456c57" d="M1286 66l27 5l28 -18l-27 -2z"/>
<path fill="#4e6f5a" d="M1307 71l28 -1l28 -19l-27 2z"/>
<path fill="#57725d" d="M1329 70l27 2l28 -20l-27 -1z"/>
<path fill="#5d7560" d="M1351 71l27 4l28 -20l-27 -3z"/>
<path fill="#667863" d="M1373 74l27 4l28 -20l-28 -4z"/>
<path fill="#6c7b66" d="M1395 77l28 4l27 -20l-28 -4z"/>
<path fill="#727b69" d="M1417 80l28 5l27 -21l-28 -4z"/>
<path fill="#757e6c" d="M1440 85l18 3l27 -21l-18 -4z"/>
<path fill="#787e6c" d="M1454 87l18 4l27 -22l-18 -3z"/>
<path fill="#7b7e6c" d="M1468 91l18 4l27 -22l-18 -4z"/>
<path fill="#7e7e6c" d="M1482 94l18 6l27 -24l-18 -4zM1496 98l18 7l26 -25l-17 -5z"/>
<path fill="#817b6c" d="M1511 103l17 7l26 -25l-17 -6zM1525 109l17 7l26 -26l-17 -6z"/>
<path fill="#81786c" d="M1539 115l18 7l26 -27l-18 -6z"/>
<path fill="#7e7869" d="M1553 120l18 8l26 -28l-18 -6z"/>
<path fill="#7b7266" d="M1582 133l18 8l25 -28l-18 -8z"/>
<path fill="#7b6c63" d="M1596 140l18 10l25 -29l-17 -10z"/>
<path fill="#6f5d54" d="M1655 184l17 19l24 -33l-17 -18zM1660 144l18 16l24 -31l-18 -14zM1665 110l18 13l24 -27l-17 -12z"/>
<path fill="#694b42" d="M1742 300l17 28l23 -33l-17 -29zM1756 324l17 29l23 -33l-17 -30z"/>
<path fill="#6c4b42" d="M1770 348l17 30l23 -31l-17 -31zM1761 271l17 29l23 -33l-17 -30z"/>
<path fill="#724b45" d="M1785 373l17 32l22 -31l-17 -32z"/>
<path fill="#784e48" d="M1799 400l17 32l22 -30l-16 -33z"/>
<path fill="#81544b" d="M1813 427l17 31l23 -31l-17 -30z"/>
<path fill="#936057" d="M1841 475l18 21l22 -27l-17 -23z"/>
<path fill="#9f6f60" d="M1870 508l18 16l22 -24l-18 -18z"/>
<path fill="#a27566" d="M1884 522l18 12l23 -23l-18 -14z"/>
<path fill="#a27b6c" d="M1898 532l19 9l22 -22l-18 -11z"/>
<path fill="#9f8772" d="M1927 545l19 3l23 -21l-19 -3z"/>
<path fill="#998a78" d="M1942 548l19 3l23 -22l-19 -2z"/>
<path fill="#969078" d="M1957 550l19 3l23 -22l-19 -2z"/>
<path fill="#78967b" d="M2202 597l34 7l19 -22l-33 -7z"/>
<path fill="#87937b" d="M2286 615l34 7l19 -22l-34 -8z"/>
<path fill="#8d937b" d="M2314 621l35 9l18 -23l-34 -9z"/>
<path fill="#ae9981" d="M2400 642l35 9l17 -23l-35 -9zM2386 616l35 9l17 -23l-34 -8z"/>
<path fill="#ba9c87" d="M2429 649l34 12l17 -23l-34 -12zM2400 598l35 8l17 -23l-34 -8z"/>
<path fill="#d5a290" d="M2486 670l35 11l17 -24l-35 -11z"/>
<path fill="#d8a593" d="M2515 679l36 9l16 -24l-35 -9z"/>
<path fill="#dba893" d="M2545 686l35 8l16 -24l-35 -8z"/>
<path fill="#deab99" d="M2574 693l36 8l16 -24l-36 -8z"/>
<path fill="#e4ab99" d="M2604 699l36 8l16 -24l-36 -8z"/>
<path fill="#426651" d="M1308 54l27 3l28 -17l-27 -1z"/>
<path fill="#486954" d="M1329 57l28 -2l28 -18l-28 3z"/>
<path fill="#516c57" d="M1351 55l28 1l27 -19l-27 0z"/>
<path fill="#576f5a" d="M1373 55l27 4l27 -19l-27 -3z"/>
<path fill="#5d725d" d="M1395 58l27 4l27 -19l-27 -4z"/>
<path fill="#637260" d="M1417 61l27 4l27 -19l-27 -4z"/>
<path fill="#697563" d="M1439 64l27 4l27 -19l-28 -4z"/>
<path fill="#6f7566" d="M1461 68l18 3l27 -20l-17 -3zM1475 70l18 4l27 -21l-18 -3z"/>
<path fill="#727566" d="M1489 73l18 4l27 -21l-18 -3z"/>
<path fill="#787566" d="M1517 80l18 5l26 -22l-17 -5zM1531 84l18 6l26 -23l-17 -5zM1546 89l17 6l26 -24l-17 -5z"/>
<path fill="#787266" d="M1560 94l17 6l26 -25l-17 -5z"/>
<path fill="#786f63" d="M1574 99l18 7l25 -26l-17 -6zM1588 104l18 8l25 -27l-17 -6z"/>
<path fill="#786c60" d="M1602 110l18 8l25 -27l-17 -7z"/>
<path fill="#72635a" d="M1631 124l18 11l24 -28l-17 -10zM1637 95l18 9l24 -26l-17 -8zM1614 60l18 6l25 -22l-17 -5zM1628 65l18 6l25 -22l-18 -6z"/>
<path fill="#6c4b45" d="M1747 248l17 27l23 -34l-17 -28z"/>
<path fill="#6f4b42" d="M1775 295l17 30l23 -31l-17 -32z"/>
<path fill="#724b42" d="M1790 321l17 31l22 -31l-17 -32z"/>
<path fill="#784b45" d="M1804 347l17 32l22 -30l-17 -33zM1780 242l17 30l23 -32l-17 -31z"/>
<path fill="#814e48" d="M1818 374l17 32l22 -30l-17 -32z"/>
<path fill="#8a544b" d="M1832 402l17 30l22 -30l-17 -31z"/>
<path fill="#965751" d="M1846 428l17 27l22 -29l-17 -29z"/>
<path fill="#9f5d54" d="M1860 451l17 23l22 -27l-17 -25z"/>
<path fill="#a8665a" d="M1874 470l18 20l22 -25l-18 -23z"/>
<path fill="#b16c60" d="M1888 487l18 18l22 -25l-18 -19z"/>
<path fill="#b47266" d="M1902 502l18 13l22 -23l-17 -15z"/>
<path fill="#b47869" d="M1916 513l19 11l22 -22l-18 -13z"/>
<path fill="#b17b6c" d="M1931 522l18 8l23 -21l-19 -9z"/>
<path fill="#ae8172" d="M1945 528l19 4l23 -20l-19 -4z"/>
<path fill="#a58a78" d="M1974 534l20 2l22 -21l-19 -2z"/>
<path fill="#a28d78" d="M1989 535l20 3l22 -22l-19 -2z"/>
<path fill="#9c907b" d="M2004 537l19 3l23 -22l-20 -2z"/>
<path fill="#99937b" d="M2019 539l19 3l22 -22l-19 -3z"/>
<path fill="#90967e" d="M2049 545l19 4l22 -23l-19 -4zM2152 544l34 7l19 -22l-33 -6zM2206 555l34 7l19 -22l-33 -6z"/>
<path fill="#879981" d="M2094 554l20 4l21 -23l-19 -4z"/>
<path fill="#84967e" d="M2218 579l34 7l19 -22l-34 -7z"/>
<path fill="#a59681" d="M2358 609l34 9l18 -23l-35 -8zM2276 549l34 7l18 -22l-33 -7z"/>
<path fill="#ba9c84" d="M2414 623l35 9l17 -23l-34 -9z"/>
<path fill="#c69f8a" d="M2443 630l35 12l16 -23l-34 -12zM2429 604l34 9l17 -23l-34 -8z"/>
<path fill="#d2a28d" d="M2472 640l34 12l17 -23l-35 -13z"/>
<path fill="#dba590" d="M2500 650l35 11l16 -23l-34 -11z"/>
<path fill="#dea593" d="M2529 659l35 9l16 -23l-35 -9zM2514 631l34 11l16 -23l-34 -11z"/>
<path fill="#e4a896" d="M2558 667l36 7l15 -23l-35 -8z"/>
<path fill="#eaab99" d="M2587 673l36 8l16 -24l-36 -8z"/>
<path fill="#edae9c" d="M2617 679l36 8l15 -24l-36 -7z"/>
<path fill="#3f634e" d="M1330 43l27 0l28 -17l-27 3z"/>
<path fill="#456651" d="M1351 43l28 -2l27 -18l-27 4z"/>
<path fill="#4b6654" d="M1373 41l27 0l27 -18l-27 1z"/>
<path fill="#636f5d" d="M1460 49l28 4l26 -18l-28 -4z"/>
<path fill="#696f60" d="M1496 54l18 4l27 -19l-18 -3z"/>
<path fill="#6c6f60" d="M1510 57l18 4l27 -20l-18 -3z"/>
<path fill="#726f63" d="M1538 63l18 4l26 -20l-18 -4zM1552 66l18 5l26 -21l-18 -4z"/>
<path fill="#726c60" d="M1566 70l18 6l26 -23l-18 -4z"/>
<path fill="#756c60" d="M1580 75l18 5l25 -23l-17 -5z"/>
<path fill="#756960" d="M1594 79l18 6l25 -24l-17 -5z"/>
<path fill="#72665a" d="M1623 89l17 8l25 -25l-17 -7z"/>
<path fill="#754e45" d="M1766 218l17 29l23 -34l-17 -29z"/>
<path fill="#7b4b45" d="M1795 267l16 32l22 -32l-16 -32z"/>
<path fill="#814e45" d="M1809 293l16 33l22 -30l-16 -34z"/>
<path fill="#874e48" d="M1823 321l16 32l22 -30l-16 -33zM1813 240l17 32l22 -30l-17 -34z"/>
<path fill="#90514b" d="M1837 348l16 33l22 -31l-16 -32z"/>
<path fill="#99544e" d="M1851 376l16 31l22 -31l-16 -31z"/>
<path fill="#a25a51" d="M1865 402l16 29l22 -29l-17 -31z"/>
<path fill="#ab5d57" d="M1879 427l17 24l21 -27l-17 -27z"/>
<path fill="#b4635a" d="M1892 447l18 22l21 -25l-17 -24z"/>
<path fill="#bd6960" d="M1906 466l18 19l21 -24l-17 -21z"/>
<path fill="#c06f63" d="M1920 482l18 15l22 -23l-18 -17z"/>
<path fill="#c07569" d="M1934 494l18 13l22 -21l-18 -15z"/>
<path fill="#c0786c" d="M1948 505l19 9l22 -20l-19 -11z"/>
<path fill="#bd7e6f" d="M1962 512l19 4l23 -20l-19 -4z"/>
<path fill="#ba8172" d="M1977 516l19 2l22 -21l-19 -2z"/>
<path fill="#b48475" d="M1992 518l19 2l22 -21l-19 -2z"/>
<path fill="#b18775" d="M2006 519l20 2l22 -22l-20 -1z"/>
<path fill="#a88d7b" d="M2036 522l19 3l22 -22l-19 -3z"/>
<path fill="#9f907b" d="M2066 527l19 4l21 -22l-19 -4z"/>
<path fill="#9c937e" d="M2081 530l19 4l21 -22l-19 -4z"/>
<path fill="#a89981" d="M2344 584l34 8l18 -22l-34 -8z"/>
<path fill="#b19984" d="M2372 591l35 8l17 -22l-34 -8zM2331 560l34 8l18 -22l-34 -7z"/>
<path fill="#cf9f8d" d="M2457 611l34 12l17 -23l-34 -12z"/>
<path fill="#d8a290" d="M2485 620l35 13l16 -23l-34 -12z"/>
<path fill="#e1a593" d="M2542 640l35 9l16 -23l-35 -9zM2527 612l35 11l15 -23l-34 -11z"/>
<path fill="#eaa896" d="M2571 647l36 8l15 -23l-35 -8z"/>
<path fill="#f3ab9c" d="M2600 654l36 7l15 -23l-35 -8z"/>
<path fill="#f9ae9c" d="M2630 660l36 8l14 -24l-35 -7z"/>
<path fill="#3c5d4b" d="M1352 32l27 -2l28 -17l-28 6z"/>
<path fill="#42604b" d="M1373 30l27 -3l27 -16l-27 3z"/>
<path fill="#48604e" d="M1394 28l28 -1l27 -16l-28 0z"/>
<path fill="#4e6351" d="M1416 27l27 2l27 -16l-27 -3z"/>
<path fill="#546654" d="M1437 29l28 3l26 -17l-27 -3z"/>
<path fill="#5a6657" d="M1459 31l28 4l26 -17l-28 -3z"/>
<path fill="#63695a" d="M1503 38l18 2l27 -17l-18 -3z"/>
<path fill="#69695a" d="M1531 42l18 3l26 -17l-18 -3z"/>
<path fill="#69695d" d="M1544 45l18 3l27 -18l-18 -3z"/>
<path fill="#6c695d" d="M1558 47l18 4l26 -19l-17 -3z"/>
<path fill="#6f695d" d="M1572 50l18 4l26 -19l-18 -3z"/>
<path fill="#6f665d" d="M1586 53l18 5l26 -21l-18 -3z"/>
<path fill="#725d57" d="M1657 75l17 8l25 -23l-18 -8z"/>
<path fill="#725a51" d="M1685 89l18 12l24 -26l-18 -10z"/>
<path fill="#725751" d="M1699 98l18 13l24 -27l-18 -11z"/>
<path fill="#72574e" d="M1714 109l17 14l24 -30l-18 -12z"/>
<path fill="#75544e" d="M1728 120l17 16l24 -32l-18 -14z"/>
<path fill="#78514b" d="M1757 149l17 23l22 -33l-16 -23z"/>
<path fill="#7b4e48" d="M1771 168l17 26l22 -33l-16 -26z"/>
<path fill="#7e4e48" d="M1785 190l17 29l22 -33l-16 -29z"/>
<path fill="#844e48" d="M1799 214l17 31l22 -32l-16 -32z"/>
<path fill="#8d514b" d="M1827 267l17 33l22 -29l-17 -35z"/>
<path fill="#96514b" d="M1841 295l17 33l21 -30l-16 -33z"/>
<path fill="#9c544e" d="M1855 323l17 32l21 -31l-16 -31z"/>
<path fill="#a55751" d="M1869 350l17 31l21 -30l-16 -32z"/>
<path fill="#ab5a54" d="M1883 376l17 31l21 -29l-17 -32z"/>
<path fill="#b46057" d="M1897 402l16 27l22 -27l-17 -29z"/>
<path fill="#ba635d" d="M1910 425l17 24l22 -26l-17 -25z"/>
<path fill="#c06960" d="M1924 444l17 21l22 -24l-17 -22z"/>
<path fill="#c36c63" d="M1938 462l18 17l21 -23l-17 -19z"/>
<path fill="#c67266" d="M1952 475l18 16l21 -21l-18 -18z"/>
<path fill="#c67569" d="M1966 488l18 10l22 -19l-19 -12z"/>
<path fill="#c6786c" d="M1980 497l18 4l22 -20l-18 -4z"/>
<path fill="#c37e6f" d="M1994 500l19 2l22 -20l-19 -2z"/>
<path fill="#c08172" d="M2009 502l19 1l22 -20l-20 -1z"/>
<path fill="#bd8475" d="M2023 503l20 1l21 -21l-19 -1z"/>
<path fill="#ba8775" d="M2038 504l19 2l22 -22l-19 -1z"/>
<path fill="#b48a78" d="M2053 505l19 3l21 -22l-19 -2z"/>
<path fill="#b18a78" d="M2068 507l19 4l21 -22l-19 -4z"/>
<path fill="#ae8d7b" d="M2082 510l20 4l21 -22l-19 -4z"/>
<path fill="#ab907b" d="M2097 513l20 4l20 -22l-19 -4z"/>
<path fill="#a5907e" d="M2127 519l19 4l21 -22l-19 -4z"/>
<path fill="#a2937e" d="M2142 521l32 7l20 -21l-33 -7z"/>
<path fill="#9f967e" d="M2195 532l33 7l19 -21l-33 -7z"/>
<path fill="#9f9681" d="M2222 538l33 6l19 -21l-33 -7z"/>
<path fill="#ab9681" d="M2304 554l34 8l17 -22l-33 -7z"/>
<path fill="#b79984" d="M2359 566l34 8l17 -21l-33 -8z"/>
<path fill="#c09c87" d="M2387 573l34 8l17 -22l-34 -8z"/>
<path fill="#c99c87" d="M2415 579l34 8l17 -22l-34 -7z"/>
<path fill="#d29f8a" d="M2443 586l34 8l17 -22l-35 -8z"/>
<path fill="#d8a28d" d="M2471 592l34 12l16 -23l-34 -11z"/>
<path fill="#dea290" d="M2499 602l34 12l16 -23l-34 -12z"/>
<path fill="#e4a593" d="M2555 621l35 9l16 -23l-35 -9z"/>
<path fill="#f0a899" d="M2584 628l35 8l16 -23l-35 -8z"/>
<path fill="#f9ab9c" d="M2613 635l36 7l15 -23l-36 -7z"/>
<path fill="#fcae9f" d="M2642 641l36 7l15 -23l-36 -7z"/>
</g></g></g><polygon points="52.6,95.8 55.1,96.5 57.6,97.2 60.0,98.0 62.5,98.7 65.1,99.4 67.6,100.2 70.1,100.9 71.7,101.4 73.3,101.9 74.9,102.3 76.5,102.8 78.1,103.3 79.8,103.8 81.4,104.2 83.0,104.7 84.6,105.2 86.3,105.7 87.9,106.2 89.6,106.6 91.3,107.1 92.9,107.6 94.6,108.1 96.3,108.6 98.0,109.1 99.7,109.6 101.4,110.1 103.1,110.6 104.8,111.1 106.5,111.6 108.2,112.1 110.0,112.6 111.7,113.1 113.4,113.6 115.2,114.1 116.9,114.6 118.7,115.2 120.5,115.7 122.3,116.2 124.0,116.7 125.8,117.3 127.6,117.8 129.4,118.3 131.3,118.8 133.1,119.4 134.9,119.9 136.7,120.5 138.6,121.0 140.4,121.6 142.3,122.1 144.1,122.7 146.0,123.2 147.9,123.8 151.2,124.8 154.6,125.8 158.0,126.8 161.5,128.0 164.9,129.1 168.4,130.2 171.9,131.4 175.4,132.7 178.9,134.0 182.5,135.4 186.1,136.8 189.7,138.0 193.4,139.0 197.0,140.1 200.7,141.2 204.5,142.4 208.2,143.5 212.0,144.6 215.8,145.8 215.8,145.8 218.8,141.1 221.7,136.5 224.5,132.1 225.8,130.1 227.1,128.1 228.3,126.2 229.5,124.3 230.7,122.4 231.9,120.5 233.1,118.7 234.3,116.8 235.4,115.1 236.5,113.3 237.6,111.5 238.7,109.8 239.8,108.1 240.9,106.4 241.9,104.8 243.0,103.1 244.0,101.5 245.0,99.9 246.0,98.3 247.0,96.8 248.0,95.3 249.0,93.7 249.9,92.2 250.9,90.7 251.8,89.3 252.8,87.8 253.7,86.4 254.6,85.0 255.5,83.6 256.3,82.2 257.2,80.8 258.1,79.5 258.9,78.1 259.8,76.8 260.6,75.5 261.4,74.2 262.2,73.0 263.0,71.7 263.8,70.4 265.1,68.4 266.4,66.5 267.6,64.6 268.8,62.7 268.8,62.7 265.9,62.0 263.0,61.4 260.1,60.8 257.3,60.1 254.5,59.2 251.7,58.2 248.9,57.3 246.1,56.7 243.3,56.0 240.6,55.4 237.8,54.8 235.1,54.1 232.3,53.5 229.6,53.0 226.9,52.4 224.2,51.9 221.6,51.4 218.9,50.8 216.2,50.3 214.8,50.0 213.3,49.7 211.8,49.4 210.3,49.1 208.9,48.8 207.4,48.6 205.9,48.6 204.5,48.5 203.0,48.4 201.6,48.3 200.1,48.0 198.7,47.0 197.3,45.6 195.9,44.1 194.5,42.3 193.1,40.2 191.8,37.8 190.4,35.1 189.0,32.4 187.6,29.8 186.3,27.0 184.9,24.1 183.5,21.3 182.1,18.6 180.7,16.1 179.3,14.0 177.9,12.0 176.5,10.5 175.1,9.4 173.7,8.5 172.3,7.7 170.9,6.9 169.5,6.1 168.1,5.5 166.7,5.0 165.3,4.6 163.9,4.2 162.5,3.9 161.1,3.7 159.7,3.4 158.4,3.2 157.0,2.9 155.6,2.7 154.3,2.5 152.9,2.3 150.7,2.0 148.6,1.7 146.4,1.4 144.3,1.2 142.1,1.3 140.0,1.6 137.9,2.0 137.9,2.0 135.8,3.0 133.6,4.1 131.4,5.3 129.2,6.5 127.8,7.3 126.3,8.1 124.9,8.9 123.5,9.7 122.0,10.6 120.5,11.4 119.1,12.3 117.6,13.4 116.1,14.6 114.6,16.0 113.0,17.5 111.5,19.2 110.0,21.0 108.5,22.9 106.9,24.8 105.4,26.8 103.8,28.9 102.2,30.9 100.6,33.0 99.0,35.1 97.4,37.4 95.8,40.0 94.2,42.7 92.6,45.5 91.0,48.5 89.3,51.5 87.7,54.5 86.0,57.4 84.4,60.3 82.6,63.1 80.9,65.7 79.1,68.1 77.3,70.3 75.5,72.5 73.6,74.7 71.8,76.9 69.9,79.0 68.0,81.2 66.0,83.3 61.7,87.7 57.2,91.9 52.6,95.8" fill="none" stroke="#333" stroke-width="0.6"/><polyline points="83.3,71.1 84.4,71.5 85.5,71.9 86.6,72.4 87.7,72.9 88.8,73.4 89.9,73.9 91.0,74.4 92.1,75.0 93.2,75.5 94.4,76.0 95.5,76.6 96.6,77.2 97.8,77.8 98.9,78.5 100.0,79.1 101.2,79.7 102.3,80.4 103.5,81.0 104.6,81.6 105.8,82.1 106.9,82.6 108.0,83.1 109.2,83.6 110.3,84.2 111.5,84.7 112.6,85.2 113.8,85.7 115.0,86.2 116.1,86.7 117.3,87.1 118.4,87.4 119.6,87.8 120.8,88.1 121.9,88.4 123.1,88.7 124.2,89.0 125.4,89.3 126.6,89.6 127.8,89.9 129.0,90.3 130.1,90.6 131.3,90.9 132.5,91.2 133.7,91.5 134.9,91.8 136.1,92.2 137.3,92.5 138.5,92.8 139.7,93.1 140.9,93.4 142.1,93.7 143.4,94.1 144.6,94.4 145.8,94.7 147.0,95.0 148.2,95.4 149.5,95.7 150.7,96.0 152.0,96.3 153.2,96.7 154.4,97.0 155.7,97.3 156.9,97.6 158.2,98.0 159.5,98.3 160.7,98.6 162.0,99.0 163.3,99.3 164.5,99.6 165.8,100.0 167.1,100.3 168.4,100.6 169.6,101.0 170.9,101.3 172.2,101.7 173.5,102.0 174.8,102.4 176.1,102.7 177.4,103.1 178.7,103.4 180.0,103.8 181.4,104.1 182.7,104.5 184.0,104.8 185.3,105.2 186.7,105.5 188.0,105.9 189.3,106.3 190.7,106.7 192.0,107.1 193.4,107.6 194.7,108.0 196.1,108.5 197.4,109.0 198.8,109.5 200.1,110.0 201.5,110.5 202.9,111.1 204.2,111.6 205.6,112.1 207.0,112.6 208.4,113.0 209.8,113.4 211.1,113.8 212.5,114.2 213.9,114.5 215.3,114.9 216.8,115.3 218.2,115.7 219.6,116.1 221.0,116.4 222.4,116.8 223.9,117.2 225.3,117.6 226.7,118.0 228.2,118.4 229.6,118.8 231.1,119.2 232.5,119.6" fill="none" stroke="#111" stroke-width="2.1" stroke-dasharray="4.2,3.2"/><polyline points="100.8,34.4 101.9,34.8 103.0,35.1 104.0,35.4 105.1,35.6 106.2,35.9 107.3,36.2 108.4,36.5 109.5,36.8 110.6,37.2 111.7,37.7 112.8,38.2 113.9,38.9 115.1,39.6 116.2,40.3 117.3,41.0 118.5,41.7 119.6,42.5 120.8,43.2 121.9,44.0 123.0,44.8 124.2,45.6 125.3,46.5 126.5,47.4 127.7,48.4 128.8,49.4 130.0,50.5 131.1,51.6 132.3,52.8 133.5,54.0 134.7,55.3 135.8,56.6 137.0,58.0 138.2,59.7 139.4,61.5 140.6,63.3 141.8,64.9 142.9,66.3 144.1,67.7 145.3,68.7 146.5,69.7 147.6,70.5 148.8,71.2 149.9,71.7 151.1,72.2 152.3,72.7 153.4,73.2 154.6,73.7 155.8,74.1 156.9,74.5 158.1,74.8 159.3,75.1 160.5,75.4 161.7,75.6 162.8,75.9 164.0,76.1 165.2,76.3 166.4,76.5 167.6,76.8 168.8,77.0 170.0,77.3 171.2,77.6 172.4,77.9 173.7,78.2 174.9,78.5 176.1,78.8 177.3,79.1 178.5,79.4 179.8,79.7 181.0,80.0 182.2,80.3 183.5,80.6 184.7,80.9 185.9,81.2 187.2,81.5 188.4,81.8 189.7,82.1 191.0,82.4 192.2,82.7 193.5,83.0 194.7,83.3 196.0,83.6 197.3,83.9 198.6,84.2 199.8,84.5 201.1,84.8 202.4,85.1 203.7,85.4 205.0,85.7 206.3,86.0 207.6,86.4 208.9,86.7 210.2,87.1 211.5,87.5 212.8,87.8 214.1,88.2 215.4,88.6 216.7,89.0 218.0,89.5 219.4,89.9 220.7,90.4 222.0,90.8 223.3,91.2 224.7,91.7 226.0,92.1 227.3,92.5 228.7,92.9 230.0,93.3 231.4,93.7 232.8,94.1 234.1,94.4 235.5,94.8 236.9,95.1 238.2,95.5 239.6,95.8 241.0,96.2 242.4,96.5 243.8,96.9 245.1,97.2 246.5,97.6" fill="none" stroke="#111" stroke-width="2.1" stroke-dasharray="4.2,3.2"/><polyline points="121.4,12.7 122.4,12.9 123.4,13.2 124.5,13.4 125.5,13.6 126.6,13.9 127.6,14.1 128.6,14.3 129.7,14.5 130.7,14.7 131.8,14.9 132.8,15.1 133.9,15.4 135.0,15.6 136.0,15.9 137.1,16.2 138.2,16.6 139.2,17.1 140.3,17.6 141.4,18.2 142.5,18.8 143.6,19.4 144.7,20.1 145.8,20.7 146.8,21.4 147.9,22.0 149.0,22.6 150.1,23.3 151.2,24.0 152.3,24.8 153.4,25.7 154.5,26.6 155.6,27.8 156.8,29.2 157.9,30.7 159.0,32.3 160.1,34.0 161.2,35.6 162.3,37.2 163.4,38.6 164.5,40.1 165.7,41.5 166.8,43.0 167.9,44.4 169.0,45.9 170.1,47.4 171.2,49.0 172.3,50.7 173.4,52.5 174.5,54.2 175.6,55.6 176.7,56.7 177.8,57.6 179.0,58.4 180.1,59.2 181.2,59.9 182.3,60.4 183.4,60.7 184.6,60.9 185.7,61.2 186.8,61.4 188.0,61.7 189.1,61.9 190.2,62.1 191.4,62.3 192.5,62.6 193.7,62.8 194.8,63.1 196.0,63.3 197.2,63.6 198.3,63.8 199.5,64.1 200.6,64.3 201.8,64.6 203.0,64.8 204.2,65.1 205.3,65.4 206.5,65.6 207.7,65.9 208.9,66.1 210.1,66.4 211.3,66.6 212.5,66.9 213.7,67.2 214.9,67.4 216.1,67.7 217.3,68.0 218.5,68.2 219.7,68.5 220.9,68.7 222.1,69.0 223.3,69.3 224.5,69.5 225.8,69.8 227.0,70.1 228.2,70.5 229.5,70.8 230.7,71.1 231.9,71.4 233.2,71.7 234.4,72.1 235.6,72.4 236.9,72.8 238.1,73.2 239.4,73.7 240.6,74.2 241.9,74.6 243.1,75.1 244.4,75.5 245.6,75.8 246.9,76.1 248.2,76.5 249.5,76.8 250.7,77.1 252.0,77.3 253.3,77.6 254.6,77.9 255.9,78.2 257.2,78.5 258.5,78.8" fill="none" stroke="#111" stroke-width="2.1" stroke-dasharray="4.2,3.2"/>
<line x1="38" y1="31.3" x2="46.3" y2="98.8" stroke="#8a8a8a" stroke-width="0.9"/>
<path d="M38 31.3h2.2M38.41 34.67h1.3M38.83 38.05h1.3M39.24 41.42h1.3M39.66 44.8h1.3M40.08 48.17h2.2M40.49 51.55h1.3M40.91 54.92h1.3M41.32 58.3h1.3M41.73 61.67h1.3M42.15 65.05h2.2M42.56 68.42h1.3M42.98 71.8h1.3M43.4 75.17h1.3M43.81 78.55h1.3M44.23 81.92h2.2M44.64 85.3h1.3M45.05 88.67h1.3M45.47 92.05h1.3M45.88 95.42h1.3M46.3 98.8h2.2M46.3 98.8l0.5 -2.0M54.94 101.37l0.5 -1.2M63.58 103.94l0.5 -1.2M72.22 106.51l0.5 -1.2M80.86 109.08l0.5 -1.2M89.5 111.65l0.5 -2.0M98.14 114.22l0.5 -1.2M106.78 116.79l0.5 -1.2M115.42 119.36l0.5 -1.2M124.06 121.93l0.5 -1.2M132.7 124.5l0.5 -2.0M141.34 127.07l0.5 -1.2M149.98 129.64l0.5 -1.2M158.62 132.21l0.5 -1.2M167.26 134.78l0.5 -1.2M175.9 137.35l0.5 -2.0M184.54 139.92l0.5 -1.2M193.18 142.49l0.5 -1.2M201.82 145.06l0.5 -1.2M210.46 147.63l0.5 -1.2M219.1 150.2l0.5 -2.0M219.1 150.2l-2.0 -0.3M221.88 145.76l-1.2 -0.3M224.65 141.33l-1.2 -0.3M227.42 136.89l-1.2 -0.3M230.2 132.46l-1.2 -0.3M232.97 128.02l-2.0 -0.3M235.75 123.59l-1.2 -0.3M238.52 119.15l-1.2 -0.3M241.3 114.72l-1.2 -0.3M244.07 110.28l-1.2 -0.3M246.85 105.85l-2.0 -0.3M249.62 101.41l-1.2 -0.3M252.4 96.98l-1.2 -0.3M255.18 92.54l-1.2 -0.3M257.95 88.11l-1.2 -0.3M260.73 83.67l-2.0 -0.3M263.5 79.24l-1.2 -0.3M266.27 74.8l-1.2 -0.3M269.05 70.37l-1.2 -0.3M271.82 65.93l-1.2 -0.3M274.6 61.5l-2.0 -0.3" stroke="#8a8a8a" stroke-width="0.8" fill="none"/>
<line x1="46.3" y1="98.8" x2="219.1" y2="150.2" stroke="#8a8a8a" stroke-width="0.9"/>
<line x1="219.1" y1="150.2" x2="274.6" y2="61.5" stroke="#8a8a8a" stroke-width="0.9"/>
<text x="36.6" y="33.2" font-family="Liberation Sans, sans-serif" font-size="14" text-anchor="end" fill="#222" textLength="36" lengthAdjust="spacingAndGlyphs">0.004</text>
<text x="38.2" y="50.5" font-family="Liberation Sans, sans-serif" font-size="14" text-anchor="end" fill="#222" textLength="36" lengthAdjust="spacingAndGlyphs">0.003</text>
<text x="39.7" y="67.6" font-family="Liberation Sans, sans-serif" font-size="14" text-anchor="end" fill="#222" textLength="36" lengthAdjust="spacingAndGlyphs">0.002</text>
<text x="41.2" y="84.1" font-family="Liberation Sans, sans-serif" font-size="14" text-anchor="end" fill="#222" textLength="36" lengthAdjust="spacingAndGlyphs">0.001</text>
<text x="44.5" y="99.8" font-family="Liberation Sans, sans-serif" font-size="14" text-anchor="end" fill="#222" textLength="36" lengthAdjust="spacingAndGlyphs">0.000</text>
<text x="40.3" y="17.6" font-family="Liberation Sans, sans-serif" font-size="15" text-anchor="middle" fill="#222">dP/d<tspan font-style="italic">s</tspan></text>
<text x="58.4" y="37.6" font-family="Liberation Sans, sans-serif" font-size="20.5" text-anchor="middle" fill="#111" font-weight="bold" stroke="#111" stroke-width="0.6" textLength="23.6" lengthAdjust="spacingAndGlyphs">(a)</text>
<text x="51" y="116.6" font-family="Liberation Sans, sans-serif" font-size="14" text-anchor="middle" fill="#222">0.5</text>
<text x="86.5" y="129" font-family="Liberation Sans, sans-serif" font-size="14" text-anchor="middle" fill="#222">0.6</text>
<text x="124.8" y="140" font-family="Liberation Sans, sans-serif" font-size="14" text-anchor="middle" fill="#222">0.7</text>
<text x="168.6" y="152.8" font-family="Liberation Sans, sans-serif" font-size="14" text-anchor="middle" fill="#222">0.8</text>
<text x="214.3" y="165.6" font-family="Liberation Sans, sans-serif" font-size="14" text-anchor="middle" fill="#222">0.9</text>
<text x="125.5" y="158.5" font-family="Liberation Sans, sans-serif" font-style="italic" font-size="17" text-anchor="middle" fill="#222">s</text>
<text x="233.7" y="156" font-family="Liberation Sans, sans-serif" font-size="14" text-anchor="middle" fill="#222">1.9</text>
<text x="250.5" y="129" font-family="Liberation Sans, sans-serif" font-size="14" text-anchor="middle" fill="#222">2.0</text>
<text x="264" y="107" font-family="Liberation Sans, sans-serif" font-size="14" text-anchor="middle" fill="#222">2.1</text>
<text x="276" y="88" font-family="Liberation Sans, sans-serif" font-size="14" text-anchor="middle" fill="#222">2.2</text>
<text x="285.5" y="72.2" font-family="Liberation Sans, sans-serif" font-size="14" text-anchor="middle" fill="#222">2.3</text>
<text x="281.5" y="112.5" font-family="Liberation Serif, serif" font-style="italic" font-size="19" text-anchor="middle" fill="#222">&#951;</text>
<clipPath id="ob"><polygon points="52.4,299.9 53.6,300.6 54.8,301.4 56.0,302.0 57.2,302.2 58.3,302.3 59.5,302.7 60.6,303.2 61.8,303.6 63.0,304.0 64.2,304.6 65.4,305.1 66.6,305.5 67.7,305.6 68.9,305.9 70.1,306.4 71.3,307.0 72.5,307.5 73.7,307.8 74.9,308.1 76.1,308.4 77.3,308.4 78.5,308.5 79.7,308.9 81.0,309.4 82.2,309.9 83.4,310.3 84.7,310.9 85.9,311.1 87.1,311.1 88.3,311.2 89.6,311.7 90.8,312.4 92.1,313.0 93.3,313.2 94.6,313.1 95.8,313.2 97.1,313.6 98.3,314.1 99.6,314.6 100.9,315.0 102.2,315.6 103.5,316.2 104.8,316.6 106.1,317.0 107.4,317.4 108.7,317.8 110.0,318.2 111.3,318.5 112.6,318.7 113.9,319.1 115.2,319.6 116.5,320.1 117.8,320.2 119.1,320.3 120.4,320.6 121.8,321.0 123.1,321.5 124.5,321.5 125.8,321.5 127.1,321.9 131.2,323.5 135.3,324.8 139.5,325.9 143.7,327.2 147.9,328.7 152.1,330.1 156.4,331.3 160.8,332.3 165.1,333.3 169.5,334.6 174.0,336.3 178.5,338.0 183.0,339.8 187.6,341.8 192.1,343.7 196.8,345.5 201.5,346.8 206.2,347.8 211.0,348.7 215.9,349.9 215.9,349.9 223.7,337.8 230.8,327.2 237.5,316.7 243.7,307.2 249.4,298.5 254.7,290.0 259.7,282.2 264.4,274.8 268.8,267.8 268.9,267.6 268.9,267.6 268.8,267.8 268.8,267.8 268.8,267.8 268.8,267.8 268.8,268.1 268.8,268.1 268.8,268.0 268.9,267.6 268.9,267.1 268.9,267.3 268.9,267.7 268.9,267.6 268.8,267.8 268.8,268.0 268.8,268.1 268.8,268.2 268.8,268.0 268.8,268.1 268.8,268.1 268.8,268.1 268.8,267.8 268.9,267.4 268.9,267.1 268.9,267.1 265.2,266.4 261.6,265.9 257.9,265.4 254.3,264.8 250.7,264.2 247.1,263.3 243.7,262.1 240.2,261.2 236.7,260.5 233.2,259.8 229.8,258.8 226.4,257.8 223.0,256.9 219.6,256.4 216.2,255.9 212.9,255.1 209.6,254.1 206.3,253.2 203.1,252.6 199.8,252.2 198.7,252.3 197.6,252.0 196.6,251.7 195.5,251.5 194.4,251.3 193.4,251.0 192.3,250.6 191.2,250.3 190.2,249.3 189.2,244.4 188.5,229.6 187.7,214.1 186.7,211.2 185.6,210.5 184.5,209.7 183.4,209.2 182.3,209.9 181.2,209.8 180.2,208.9 179.1,209.3 178.0,208.4 176.9,209.5 175.8,208.6 174.8,207.8 173.7,209.1 172.6,208.1 171.6,208.9 170.5,209.7 169.5,207.6 168.4,208.5 167.4,208.0 166.3,207.9 165.3,207.4 164.2,208.7 163.2,207.3 162.1,208.0 161.1,207.4 160.1,206.8 159.0,206.9 158.0,207.7 157.0,208.1 155.9,206.6 154.9,206.1 153.9,207.1 152.9,205.9 151.8,205.7 150.8,206.4 149.8,205.9 148.8,205.2 147.8,206.3 146.8,206.4 145.8,206.1 144.8,205.1 143.8,205.8 142.8,205.9 141.8,205.3 140.8,203.9 139.8,204.6 138.8,204.5 137.8,204.7 137.8,204.7 134.1,206.2 130.4,209.9 126.4,211.3 122.4,214.4 118.2,216.8 114.0,219.6 109.5,220.7 105.0,224.2 100.4,227.8 99.7,229.4 98.8,229.1 97.9,229.5 97.3,232.9 96.7,237.0 96.1,240.2 95.6,245.4 95.2,251.0 94.8,257.4 94.3,262.3 93.7,266.4 93.1,269.1 92.3,270.7 91.5,272.0 90.7,273.5 90.0,275.0 86.3,278.1 82.4,280.6 78.4,282.7 74.3,285.0 70.2,288.3 66.0,291.7 61.6,294.5 57.1,297.3 52.4,299.9"/></clipPath><g clip-path="url(#ob)"><polygon points="52.4,299.9 53.6,300.6 54.8,301.4 56.0,302.0 57.2,302.2 58.3,302.3 59.5,302.7 60.6,303.2 61.8,303.6 63.0,304.0 64.2,304.6 65.4,305.1 66.6,305.5 67.7,305.6 68.9,305.9 70.1,306.4 71.3,307.0 72.5,307.5 73.7,307.8 74.9,308.1 76.1,308.4 77.3,308.4 78.5,308.5 79.7,308.9 81.0,309.4 82.2,309.9 83.4,310.3 84.7,310.9 85.9,311.1 87.1,311.1 88.3,311.2 89.6,311.7 90.8,312.4 92.1,313.0 93.3,313.2 94.6,313.1 95.8,313.2 97.1,313.6 98.3,314.1 99.6,314.6 100.9,315.0 102.2,315.6 103.5,316.2 104.8,316.6 106.1,317.0 107.4,317.4 108.7,317.8 110.0,318.2 111.3,318.5 112.6,318.7 113.9,319.1 115.2,319.6 116.5,320.1 117.8,320.2 119.1,320.3 120.4,320.6 121.8,321.0 123.1,321.5 124.5,321.5 125.8,321.5 127.1,321.9 131.2,323.5 135.3,324.8 139.5,325.9 143.7,327.2 147.9,328.7 152.1,330.1 156.4,331.3 160.8,332.3 165.1,333.3 169.5,334.6 174.0,336.3 178.5,338.0 183.0,339.8 187.6,341.8 192.1,343.7 196.8,345.5 201.5,346.8 206.2,347.8 211.0,348.7 215.9,349.9 215.9,349.9 223.7,337.8 230.8,327.2 237.5,316.7 243.7,307.2 249.4,298.5 254.7,290.0 259.7,282.2 264.4,274.8 268.8,267.8 268.9,267.6 268.9,267.6 268.8,267.8 268.8,267.8 268.8,267.8 268.8,267.8 268.8,268.1 268.8,268.1 268.8,268.0 268.9,267.6 268.9,267.1 268.9,267.3 268.9,267.7 268.9,267.6 268.8,267.8 268.8,268.0 268.8,268.1 268.8,268.2 268.8,268.0 268.8,268.1 268.8,268.1 268.8,268.1 268.8,267.8 268.9,267.4 268.9,267.1 268.9,267.1 265.2,266.4 261.6,265.9 257.9,265.4 254.3,264.8 250.7,264.2 247.1,263.3 243.7,262.1 240.2,261.2 236.7,260.5 233.2,259.8 229.8,258.8 226.4,257.8 223.0,256.9 219.6,256.4 216.2,255.9 212.9,255.1 209.6,254.1 206.3,253.2 203.1,252.6 199.8,252.2 198.7,252.3 197.6,252.0 196.6,251.7 195.5,251.5 194.4,251.3 193.4,251.0 192.3,250.6 191.2,250.3 190.2,249.3 189.2,244.4 188.5,229.6 187.7,214.1 186.7,211.2 185.6,210.5 184.5,209.7 183.4,209.2 182.3,209.9 181.2,209.8 180.2,208.9 179.1,209.3 178.0,208.4 176.9,209.5 175.8,208.6 174.8,207.8 173.7,209.1 172.6,208.1 171.6,208.9 170.5,209.7 169.5,207.6 168.4,208.5 167.4,208.0 166.3,207.9 165.3,207.4 164.2,208.7 163.2,207.3 162.1,208.0 161.1,207.4 160.1,206.8 159.0,206.9 158.0,207.7 157.0,208.1 155.9,206.6 154.9,206.1 153.9,207.1 152.9,205.9 151.8,205.7 150.8,206.4 149.8,205.9 148.8,205.2 147.8,206.3 146.8,206.4 145.8,206.1 144.8,205.1 143.8,205.8 142.8,205.9 141.8,205.3 140.8,203.9 139.8,204.6 138.8,204.5 137.8,204.7 137.8,204.7 134.1,206.2 130.4,209.9 126.4,211.3 122.4,214.4 118.2,216.8 114.0,219.6 109.5,220.7 105.0,224.2 100.4,227.8 99.7,229.4 98.8,229.1 97.9,229.5 97.3,232.9 96.7,237.0 96.1,240.2 95.6,245.4 95.2,251.0 94.8,257.4 94.3,262.3 93.7,266.4 93.1,269.1 92.3,270.7 91.5,272.0 90.7,273.5 90.0,275.0 86.3,278.1 82.4,280.6 78.4,282.7 74.3,285.0 70.2,288.3 66.0,291.7 61.6,294.5 57.1,297.3 52.4,299.9" fill="#b8ccb8"/><g filter="url(#sm)"><g transform="scale(0.1)">
<path fill="#8aedcc" d="M520 3000l14 8l53 -34l-13 -4z"/>
<path fill="#8df0cf" d="M532 3007l14 10l53 -37l-14 -7z"/>
<path fill="#93f6d2" d="M544 3016l14 7l52 -37l-13 -6z"/>
<path fill="#96f9d8" d="M556 3022l13 2l53 -37l-14 -2z"/>
<path fill="#99f9d8" d="M568 3024l13 1l53 -36l-13 -2zM696 2971l14 4l51 -41l-14 -2z"/>
<path fill="#99f6d5" d="M579 3025l13 4l54 -35l-13 -6zM740 2936l15 3l50 -34l-15 -2z"/>
<path fill="#99f3d2" d="M590 3029l14 5l54 -34l-14 -6zM638 2998l14 7l52 -38l-14 -6z"/>
<path fill="#9cf3d2" d="M602 3034l14 5l54 -35l-13 -4z"/>
<path fill="#9ff6d5" d="M614 3038l14 5l54 -37l-13 -3z"/>
<path fill="#a2f6d5" d="M626 3042l14 6l54 -38l-14 -4zM732 2981l14 5l51 -38l-14 -7z"/>
<path fill="#a8f9d8" d="M638 3048l14 6l53 -40l-13 -5zM697 3018l14 4l52 -37l-13 -4z"/>
<path fill="#abfcdb" d="M650 3053l13 4l54 -40l-13 -4z"/>
<path fill="#aefcdb" d="M662 3057l13 2l54 -40l-14 -2z"/>
<path fill="#b1f9db" d="M673 3058l14 3l54 -40l-14 -2zM685 3061l14 6l54 -42l-14 -4zM779 2993l15 1l52 -36l-15 -3zM825 2960l15 2l50 -42l-16 -2zM855 2922l15 1l49 -37l-16 -3z"/>
<path fill="#b7fcdb" d="M697 3066l14 7l54 -44l-13 -5z"/>
<path fill="#baffde" d="M710 3073l13 4l54 -45l-13 -3z"/>
<path fill="#c0ffe1" d="M722 3077l13 3l54 -46l-14 -2z"/>
<path fill="#c3ffe1" d="M734 3080l13 4l55 -46l-15 -4z"/>
<path fill="#c3fcde" d="M746 3083l13 3l55 -43l-14 -5z"/>
<path fill="#c3f9de" d="M757 3086l14 1l56 -40l-14 -4zM854 3010l15 4l53 -44l-16 -3z"/>
<path fill="#c3f9db" d="M769 3086l13 1l58 -38l-14 -3zM807 3048l14 3l55 -42l-16 -4z"/>
<path fill="#c6f9db" d="M781 3087l14 4l57 -40l-13 -3z"/>
<path fill="#c9f9db" d="M793 3091l14 5l56 -41l-12 -4z"/>
<path fill="#cffcde" d="M806 3096l13 5l56 -45l-14 -2zM893 3018l11 5l53 -41l-10 -7z"/>
<path fill="#d2fce1" d="M818 3101l14 5l58 -48l-16 -2z"/>
<path fill="#d5fce1" d="M830 3106l14 5l60 -48l-16 -5zM868 3061l15 2l57 -46l-18 2zM882 3063l15 5l58 -49l-17 -2z"/>
<path fill="#d8fce1" d="M843 3111l14 3l61 -46l-16 -5zM855 3114l13 0l64 -46l-16 -1zM932 3022l17 2l56 -47l-19 2z"/>
<path fill="#dbf9de" d="M867 3114l13 0l66 -46l-16 0z"/>
<path fill="#def9e1" d="M879 3114l14 5l65 -50l-14 -2zM962 3027l18 2l59 -51l-20 0z"/>
<path fill="#e1fce1" d="M892 3119l14 8l67 -56l-16 -3zM938 3072l14 2l63 -50l-15 0zM978 3029l18 0l59 -51l-18 0z"/>
<path fill="#e4fce4" d="M905 3126l14 6l69 -59l-17 -2zM951 3073l15 3l65 -54l-18 2z"/>
<path fill="#eaffe7" d="M917 3132l14 3l71 -61l-16 -2z"/>
<path fill="#eaffe4" d="M930 3135l13 -1l73 -60l-15 0zM965 3076l17 2l67 -58l-20 2z"/>
<path fill="#eafce4" d="M942 3134l13 1l74 -60l-15 -1zM1023 3027l20 -2l64 -54l-22 4z"/>
<path fill="#edfce4" d="M954 3134l14 5l75 -63l-15 -2zM995 3079l15 0l69 -56l-16 -3zM1008 3079l15 1l71 -55l-16 -2z"/>
<path fill="#f0ffe7" d="M967 3139l14 5l77 -67l-16 -1z"/>
<path fill="#f3ffe7" d="M980 3144l14 5l79 -71l-16 -2z"/>
<path fill="#f6ffe7" d="M993 3148l14 5l80 -73l-15 -2zM1051 3082l16 1l76 -67l-18 4zM1066 3083l15 2l78 -68l-17 -1z"/>
<path fill="#f6fce7" d="M1006 3152l13 7l83 -75l-16 -4z"/>
<path fill="#f6fce4" d="M1018 3158l14 7l86 -78l-17 -4zM1080 3085l17 4l79 -70l-19 -2zM1095 3089l17 4l82 -73l-20 -1z"/>
<path fill="#f9ffe7" d="M1032 3165l13 4l88 -80l-16 -2z"/>
<path fill="#fcffea" d="M1044 3169l14 3l91 -82l-17 -1z"/>
<path fill="#ffffe7" d="M1057 3172l14 5l94 -87l-17 0zM1070 3177l14 4l97 -89l-17 -2zM1083 3181l14 4l100 -92l-17 -1zM1096 3184l14 4l103 -95l-17 0zM1109 3187l14 3l107 -97l-18 0zM1142 3095l17 1l89 -81l-20 3z"/>
<path fill="#ffffe4" d="M1122 3190l14 4l109 -99l-16 -2zM1135 3193l14 6l113 -103l-17 -1zM1149 3199l14 4l113 -105l-15 -2zM1162 3203l14 2l113 -105l-14 -2zM1175 3205l14 1l113 -104l-14 -2zM1188 3206l14 3l112 -106l-13 -1z"/>
<path fill="#fffce1" d="M1201 3209l14 4l112 -107l-13 -3zM1215 3213l14 5l111 -106l-13 -6z"/>
<path fill="#fcf9e1" d="M1228 3218l14 0l111 -103l-13 -4zM1269 3103l14 3l105 -101l-13 -3z"/>
<path fill="#fcf9de" d="M1241 3218l14 -1l112 -101l-14 -1zM1254 3217l15 5l111 -103l-14 -3zM1282 3105l14 2l105 -101l-14 -1zM1295 3107l14 2l104 -101l-13 -2z"/>
<path fill="#fcf6db" d="M1267 3221l43 17l110 -106l-42 -14z"/>
<path fill="#fff6db" d="M1308 3237l44 14l108 -107l-42 -13z"/>
<path fill="#fff3d8" d="M1349 3250l44 12l107 -108l-42 -10z"/>
<path fill="#fff0d5" d="M1391 3261l44 14l106 -109l-43 -12z"/>
<path fill="#fcead2" d="M1433 3274l44 16l105 -112l-43 -13z"/>
<path fill="#fce7cf" d="M1475 3289l45 16l103 -116l-44 -11z"/>
<path fill="#f9e4cc" d="M1518 3304l45 13l102 -117l-44 -11z"/>
<path fill="#f3dec6" d="M1561 3316l45 10l101 -113l-45 -13z"/>
<path fill="#ead8c0" d="M1604 3326l46 10l99 -109l-45 -15z"/>
<path fill="#e4cfba" d="M1648 3336l46 14l98 -111l-45 -13z"/>
<path fill="#dbc9b1" d="M1692 3349l47 17l96 -115l-45 -12z"/>
<path fill="#d5c0ab" d="M1736 3365l48 18l94 -117l-45 -15z"/>
<path fill="#ccbaa5" d="M1781 3382l48 20l93 -119l-46 -18z"/>
<path fill="#c3b19c" d="M1826 3401l48 20l92 -119l-46 -20z"/>
<path fill="#c3a893" d="M1872 3420l48 21l91 -122l-47 -18zM2027 2528l40 9l0 -2l-40 -8zM2026 2530l41 8l0 -3l-40 -6zM2027 2525l40 9l0 -1l-40 -8z"/>
<path fill="#bda28d" d="M1918 3440l49 18l89 -126l-48 -14zM2288 2938l43 8l62 -88l-42 -6z"/>
<path fill="#b19f8a" d="M1964 3458l50 13l87 -128l-48 -12z"/>
<path fill="#ab9987" d="M2011 3471l50 10l86 -128l-48 -11zM2187 3369l49 12l76 -112l-48 -13zM2294 2584l42 8l0 2l-42 -9z"/>
<path fill="#a89984" d="M2059 3480l50 11l84 -127l-48 -12z"/>
<path fill="#ae9c87" d="M2107 3490l51 12l82 -127l-49 -12z"/>
<path fill="#8af3d2" d="M567 2974l14 4l52 -33l-14 -2z"/>
<path fill="#8df3d2" d="M579 2978l13 7l51 -36l-12 -5z"/>
<path fill="#90f6d5" d="M590 2984l14 6l51 -36l-13 -5z"/>
<path fill="#93f9d8" d="M602 2990l14 1l52 -36l-15 -1z"/>
<path fill="#96f9d5" d="M614 2991l14 2l52 -36l-14 -2z"/>
<path fill="#96f6d5" d="M626 2993l13 6l52 -37l-13 -5zM683 2966l15 6l50 -40l-14 -3zM727 2934l15 3l50 -34l-15 -2z"/>
<path fill="#9cf6d5" d="M650 3004l14 4l52 -38l-14 -4z"/>
<path fill="#9ff9d8" d="M662 3008l13 3l53 -38l-13 -3z"/>
<path fill="#a2f9d8" d="M674 3010l13 4l53 -37l-14 -4z"/>
<path fill="#a5f9d8" d="M686 3014l13 4l53 -37l-14 -5z"/>
<path fill="#abf9d8" d="M709 3021l13 3l53 -37l-13 -3z"/>
<path fill="#aef9d8" d="M721 3024l14 2l53 -38l-15 -1z"/>
<path fill="#b1f9d8" d="M733 3025l14 4l53 -40l-14 -1z"/>
<path fill="#b4f9db" d="M745 3029l14 5l53 -42l-13 -3zM792 2994l14 3l52 -37l-13 -3zM838 2962l14 3l50 -41l-14 -4zM868 2923l16 2l49 -38l-16 -2z"/>
<path fill="#bafcde" d="M758 3034l13 3l53 -43l-13 -2z"/>
<path fill="#bdfcde" d="M769 3037l14 2l53 -42l-14 -3z"/>
<path fill="#bdf9db" d="M781 3039l14 4l54 -42l-15 -4z"/>
<path fill="#c0f9db" d="M794 3043l14 5l54 -42l-15 -6z"/>
<path fill="#c6f9de" d="M819 3051l15 2l56 -42l-16 -2zM900 2972l16 3l52 -42l-17 1z"/>
<path fill="#c9f9de" d="M832 3053l14 3l55 -42l-13 -4zM868 3014l15 2l54 -44l-17 -2z"/>
<path fill="#ccf9de" d="M844 3056l12 3l54 -41l-10 -5zM882 3015l13 4l53 -43l-12 -4zM914 2975l17 2l52 -44l-17 0z"/>
<path fill="#d2fcde" d="M855 3059l14 2l55 -42l-15 -1z"/>
<path fill="#d8f9e1" d="M896 3068l15 5l59 -51l-17 -3zM963 2987l19 -3l53 -44l-21 4z"/>
<path fill="#dbfce1" d="M910 3072l16 1l60 -49l-18 -2z"/>
<path fill="#defce1" d="M924 3073l15 -1l63 -48l-17 0z"/>
<path fill="#edffe4" d="M980 3078l16 1l68 -58l-17 -1z"/>
<path fill="#f0fce4" d="M1022 3079l15 2l73 -57l-17 1zM1036 3081l16 1l75 -63l-19 5z"/>
<path fill="#fcffe7" d="M1111 3092l16 3l84 -75l-19 0zM1126 3094l17 1l86 -77l-19 2zM1158 3096l17 1l91 -84l-19 2z"/>
<path fill="#fcfce4" d="M1174 3097l17 1l94 -87l-20 2zM1190 3098l17 1l97 -90l-21 2zM1206 3099l18 0l100 -92l-21 2z"/>
<path fill="#fcfce1" d="M1223 3099l17 1l102 -96l-19 3zM1239 3100l17 2l105 -101l-20 3zM1255 3101l15 2l106 -101l-16 -1z"/>
<path fill="#f9f6db" d="M1308 3108l14 4l104 -99l-13 -5z"/>
<path fill="#f9f3d8" d="M1321 3111l14 6l104 -99l-14 -6zM1334 3117l14 4l103 -99l-13 -4zM1347 3121l14 1l103 -100l-13 -1zM1360 3122l14 2l103 -101l-14 -1z"/>
<path fill="#f9f0d5" d="M1372 3124l42 13l102 -102l-41 -13z"/>
<path fill="#f6edd2" d="M1412 3137l42 13l101 -102l-41 -14z"/>
<path fill="#f6eacf" d="M1452 3149l43 11l99 -101l-41 -12z"/>
<path fill="#f3e7cc" d="M1492 3159l43 12l99 -101l-42 -11z"/>
<path fill="#f3e4c9" d="M1533 3171l43 13l98 -104l-43 -11z"/>
<path fill="#eddec6" d="M1574 3183l44 12l96 -106l-43 -10z"/>
<path fill="#eadbc0" d="M1616 3194l44 12l94 -107l-43 -11z"/>
<path fill="#e4d5ba" d="M1657 3205l45 14l93 -106l-43 -14z"/>
<path fill="#dbcfb7" d="M1699 3218l45 15l92 -106l-43 -15z"/>
<path fill="#d5c9b1" d="M1742 3232l45 13l91 -106l-44 -13z"/>
<path fill="#cfc0ab" d="M1785 3244l45 13l90 -108l-45 -11z"/>
<path fill="#c9baa5" d="M1828 3256l46 16l88 -109l-45 -14z"/>
<path fill="#c0b49f" d="M1871 3271l47 18l86 -110l-45 -17z"/>
<path fill="#baab96" d="M1915 3288l47 20l85 -112l-45 -18zM2260 2576l42 11l0 -1l-42 -11zM2260 2572l42 10l0 1l-42 -9zM2260 2577l42 6l0 -1l-42 -6zM2260 2575l42 9l0 0l-42 -10zM2260 2574l42 10l0 -1l-42 -9z"/>
<path fill="#bda590" d="M1959 3307l47 18l84 -115l-46 -15z"/>
<path fill="#ba9f8d" d="M2004 3324l47 14l83 -117l-47 -12z"/>
<path fill="#ab9c87" d="M2049 3338l48 11l81 -117l-47 -12zM2260 3263l48 12l70 -111l-46 -11z"/>
<path fill="#a59684" d="M2094 3348l49 11l79 -114l-47 -13zM2140 3359l49 11l78 -113l-48 -13z"/>
<path fill="#8af6d5" d="M612 2947l14 2l51 -34l-15 0zM698 2886l15 3l48 -38l-16 -4zM711 2888l12 4l48 -35l-12 -6z"/>
<path fill="#8df6d5" d="M624 2949l13 5l50 -36l-12 -3zM690 2925l16 2l50 -33l-17 -3z"/>
<path fill="#90f9d5" d="M635 2953l13 6l50 -38l-13 -4zM647 2959l15 1l50 -37l-16 -2z"/>
<path fill="#93f6d5" d="M660 2960l13 2l51 -36l-14 -3zM672 2961l13 6l50 -37l-12 -5z"/>
<path fill="#9cf9d8" d="M708 2975l14 3l50 -41l-13 -3z"/>
<path fill="#9ff6d8" d="M720 2978l14 4l51 -40l-14 -5zM764 2941l14 6l51 -37l-14 -3zM797 2909l13 3l49 -35l-13 -1zM827 2880l14 1l48 -36l-15 2z"/>
<path fill="#a5f6d8" d="M744 2985l13 4l51 -36l-13 -5z"/>
<path fill="#abf9db" d="M755 2989l14 3l51 -38l-14 -2zM863 2882l13 1l48 -36l-13 -3z"/>
<path fill="#aef9db" d="M767 2992l14 1l52 -37l-15 -2zM875 2883l12 3l48 -35l-13 -5z"/>
<path fill="#b7f9db" d="M804 2996l13 3l53 -36l-13 -3zM850 2965l13 3l51 -39l-13 -5z"/>
<path fill="#baf6db" d="M816 2999l13 3l53 -37l-14 -2zM862 2968l13 2l51 -37l-14 -4zM925 2892l14 2l49 -37l-15 -1z"/>
<path fill="#bdf6db" d="M828 3001l15 5l52 -40l-15 -1zM873 2970l16 1l51 -37l-16 -1zM906 2934l14 4l48 -42l-13 -4zM938 2894l12 4l48 -38l-12 -3z"/>
<path fill="#c0f6db" d="M841 3005l15 6l52 -43l-15 -2zM918 2938l16 1l49 -40l-16 -3z"/>
<path fill="#d2f9e1" d="M903 3023l15 1l53 -42l-16 -1zM941 2980l10 7l50 -44l-8 -7z"/>
<path fill="#d5f9e1" d="M916 3024l18 -2l54 -43l-19 3zM949 2986l16 1l51 -43l-16 -1z"/>
<path fill="#dbf9e1" d="M947 3024l17 4l57 -50l-19 -1zM980 2984l18 -2l55 -46l-20 4z"/>
<path fill="#e4fce1" d="M994 3029l15 0l60 -51l-15 0z"/>
<path fill="#e7fce1" d="M1007 3029l18 -2l62 -52l-19 3z"/>
<path fill="#eafce1" d="M1041 3025l17 1l66 -56l-19 1z"/>
<path fill="#eaf9e1" d="M1057 3026l16 2l67 -56l-17 -2z"/>
<path fill="#edf9e1" d="M1072 3028l16 2l68 -55l-17 -3z"/>
<path fill="#f0f9e1" d="M1086 3030l17 -1l70 -55l-19 0zM1102 3029l19 -5l72 -57l-22 7zM1119 3025l18 -4l74 -59l-20 6z"/>
<path fill="#f3f9e1" d="M1136 3021l17 1l74 -61l-18 2zM1151 3022l19 2l76 -65l-20 2zM1168 3024l20 1l77 -70l-21 4z"/>
<path fill="#f6fce1" d="M1186 3025l19 0l80 -73l-21 3z"/>
<path fill="#f6f9e1" d="M1204 3025l19 -2l82 -75l-22 4z"/>
<path fill="#f3f9de" d="M1222 3023l20 -3l85 -75l-23 3z"/>
<path fill="#f3f6de" d="M1241 3020l19 -2l87 -77l-22 4z"/>
<path fill="#f3f6db" d="M1259 3018l20 -1l89 -81l-23 6z"/>
<path fill="#f0f3d8" d="M1278 3017l21 -3l91 -84l-24 7zM1297 3015l21 -3l94 -89l-24 7zM1317 3012l19 -2l96 -92l-22 6z"/>
<path fill="#f0f0d5" d="M1335 3010l20 -3l98 -94l-23 5z"/>
<path fill="#edf0d5" d="M1354 3007l16 1l99 -95l-17 0z"/>
<path fill="#edf0d2" d="M1369 3007l13 3l99 -94l-13 -3zM1382 3010l13 2l98 -95l-13 -1z"/>
<path fill="#ededcf" d="M1394 3012l14 2l97 -93l-13 -4z"/>
<path fill="#e7e7cc" d="M1407 3014l13 4l98 -90l-13 -7zM1419 3018l14 6l97 -90l-13 -6z"/>
<path fill="#eaeacc" d="M1432 3023l14 4l97 -92l-13 -2z"/>
<path fill="#eae7cc" d="M1445 3027l13 0l97 -93l-13 1zM1458 3027l13 1l96 -93l-13 -1z"/>
<path fill="#e7e7c9" d="M1470 3028l41 12l95 -93l-40 -12z"/>
<path fill="#e4e1c6" d="M1508 3040l42 14l94 -95l-41 -13z"/>
<path fill="#e1dec3" d="M1547 3053l42 12l93 -96l-41 -10z"/>
<path fill="#dedbbd" d="M1587 3064l42 11l91 -96l-41 -10z"/>
<path fill="#d8d5ba" d="M1626 3075l42 11l91 -96l-41 -12z"/>
<path fill="#d5cfb4" d="M1666 3085l43 9l89 -95l-41 -10z"/>
<path fill="#cfccb1" d="M1706 3094l43 11l89 -96l-42 -10z"/>
<path fill="#c6c6ab" d="M1747 3104l43 15l87 -98l-42 -12z"/>
<path fill="#c3c0a8" d="M1788 3118l43 15l86 -101l-42 -12z"/>
<path fill="#bdbda2" d="M1829 3132l44 12l84 -101l-42 -12z"/>
<path fill="#b7b79f" d="M1870 3144l45 11l83 -99l-43 -13z"/>
<path fill="#b4b199" d="M1912 3154l45 14l82 -99l-43 -14z"/>
<path fill="#aeab96" d="M1954 3168l46 17l80 -101l-44 -16z"/>
<path fill="#aea890" d="M1997 3184l45 18l79 -104l-44 -15z"/>
<path fill="#b7a28d" d="M2040 3201l46 15l77 -106l-44 -13z"/>
<path fill="#b79c8a" d="M2083 3215l46 12l77 -106l-45 -11zM2363 2601l43 8l0 2l-43 -9zM2363 2597l42 15l0 1l-42 -16zM2363 2600l43 11l-1 4l-42 -13z"/>
<path fill="#a59c87" d="M2127 3227l46 12l75 -106l-45 -12z"/>
<path fill="#9f9984" d="M2171 3238l47 13l73 -108l-45 -11z"/>
<path fill="#a29984" d="M2215 3250l47 13l73 -109l-46 -11zM2226 2571l42 6l0 2l-42 -8zM2226 2563l42 9l0 3l-42 -9zM2226 2568l42 8l0 1l-42 -8zM2226 2568l42 9l0 2l-42 -11z"/>
<path fill="#8af9d8" d="M656 2920l14 0l49 -36l-15 -3z"/>
<path fill="#8df9d8" d="M669 2920l12 2l49 -34l-12 -5z"/>
<path fill="#8df9d5" d="M679 2922l13 4l48 -34l-12 -5z"/>
<path fill="#90f3d2" d="M704 2927l14 3l50 -32l-14 -4z"/>
<path fill="#90f3d5" d="M716 2930l13 4l50 -33l-13 -4z"/>
<path fill="#9cf6d8" d="M753 2938l13 4l51 -35l-14 -2zM813 2879l16 1l48 -33l-16 1z"/>
<path fill="#a2f6d8" d="M777 2946l14 7l49 -40l-13 -3z"/>
<path fill="#a8f9db" d="M789 2952l13 6l49 -42l-12 -3zM851 2881l14 1l47 -38l-14 0z"/>
<path fill="#abfcde" d="M800 2957l14 2l49 -42l-14 -1zM833 2918l12 3l48 -40l-12 -3z"/>
<path fill="#aefcde" d="M812 2959l15 2l49 -43l-15 -1zM843 2921l14 1l48 -39l-14 -2z"/>
<path fill="#c3f6db" d="M887 2971l15 2l51 -39l-15 0z"/>
<path fill="#cff9de" d="M930 2977l12 4l52 -44l-12 -4z"/>
<path fill="#def9de" d="M996 2983l19 0l55 -48l-20 1z"/>
<path fill="#def6de" d="M1013 2983l20 0l57 -48l-22 0z"/>
<path fill="#e1f6de" d="M1031 2983l18 0l59 -47l-21 -1z"/>
<path fill="#e4f6de" d="M1048 2983l15 0l59 -46l-16 -1z"/>
<path fill="#e7f6de" d="M1061 2983l20 -3l60 -48l-21 5zM1079 2980l22 -4l63 -52l-25 8z"/>
<path fill="#eaf6de" d="M1099 2976l19 -1l64 -54l-21 4zM1117 2975l17 2l65 -58l-19 2zM1133 2977l17 3l65 -61l-18 0z"/>
<path fill="#edf6de" d="M1148 2980l19 -1l66 -61l-20 1z"/>
<path fill="#edf6db" d="M1165 2979l22 -6l68 -60l-24 6z"/>
<path fill="#edf3db" d="M1185 2973l20 -6l70 -59l-22 6zM1203 2968l18 -2l71 -62l-19 4zM1220 2966l20 -2l72 -66l-21 7z"/>
<path fill="#edf3d8" d="M1238 2964l22 -4l74 -68l-23 7z"/>
<path fill="#edf0d8" d="M1258 2961l21 -4l76 -71l-23 6z"/>
<path fill="#e7edd2" d="M1277 2957l23 -3l77 -73l-24 6zM1247 2919l22 -6l67 -61l-24 6z"/>
<path fill="#e4eacf" d="M1298 2954l23 -4l80 -72l-25 3zM1339 2947l23 -5l84 -74l-25 8zM1360 2942l24 -7l87 -78l-27 12zM1285 2910l22 -6l69 -62l-24 7zM1305 2904l23 -7l71 -62l-25 7z"/>
<path fill="#e4e7cf" d="M1319 2951l22 -4l82 -72l-24 3z"/>
<path fill="#e4eacc" d="M1383 2936l23 -7l89 -82l-26 11z"/>
<path fill="#e4e7cc" d="M1404 2929l22 -6l90 -82l-23 7z"/>
<path fill="#e1e7c9" d="M1425 2924l22 -6l93 -83l-25 7z"/>
<path fill="#e1e4c9" d="M1446 2918l17 1l93 -85l-18 1zM1462 2919l13 2l93 -86l-13 -1zM1474 2921l13 2l93 -86l-13 -2z"/>
<path fill="#dbdec3" d="M1486 2923l14 4l92 -84l-13 -6z"/>
<path fill="#d5dbbd" d="M1499 2926l13 7l92 -82l-13 -8zM1560 2940l40 12l89 -84l-39 -11z"/>
<path fill="#d8dec0" d="M1511 2933l13 6l92 -83l-13 -5zM1548 2940l14 0l90 -82l-13 -1zM1487 2853l23 -7l86 -75l-26 7z"/>
<path fill="#dbe1c3" d="M1524 2939l13 2l91 -84l-13 -2zM1463 2863l26 -10l83 -76l-28 13z"/>
<path fill="#dbdec0" d="M1536 2941l13 -1l91 -83l-13 0z"/>
<path fill="#cfd5b7" d="M1598 2951l40 14l88 -87l-39 -11z"/>
<path fill="#ccd2b4" d="M1636 2964l40 11l87 -89l-39 -9z"/>
<path fill="#c6ccae" d="M1674 2974l41 11l86 -90l-40 -9z"/>
<path fill="#bdc6a8" d="M1713 2984l41 11l85 -90l-41 -11z"/>
<path fill="#b7c3a5" d="M1751 2995l42 10l84 -91l-41 -10z"/>
<path fill="#b1bd9f" d="M1790 3004l42 11l83 -91l-41 -11z"/>
<path fill="#abb79c" d="M1830 3014l42 12l82 -92l-42 -11zM1610 2731l30 -15l75 -67l-32 16z"/>
<path fill="#a5b496" d="M1870 3026l42 12l80 -95l-41 -10z"/>
<path fill="#9fb193" d="M1910 3037l43 12l79 -95l-42 -12z"/>
<path fill="#9cae93" d="M1950 3048l43 14l78 -95l-42 -14z"/>
<path fill="#9cab90" d="M1991 3061l43 14l77 -96l-43 -13zM1689 2698l19 -5l77 -72l-19 6z"/>
<path fill="#9ca890" d="M2032 3074l43 15l76 -97l-43 -13z"/>
<path fill="#9fa58d" d="M2073 3089l44 15l74 -99l-43 -14z"/>
<path fill="#b79f8a" d="M2114 3103l45 13l73 -98l-44 -14zM2184 3010l43 14l68 -92l-42 -12z"/>
<path fill="#ba9c8a" d="M2156 3116l45 12l72 -100l-44 -11z"/>
<path fill="#a29f87" d="M2199 3127l45 12l70 -101l-44 -11z"/>
<path fill="#9c9c87" d="M2241 3138l46 12l69 -102l-45 -11z"/>
<path fill="#a29c87" d="M2284 3149l47 11l67 -102l-45 -11z"/>
<path fill="#ab9f8a" d="M2328 3159l46 12l66 -102l-45 -12z"/>
<path fill="#8df3d5" d="M722 2892l12 4l48 -33l-13 -6z"/>
<path fill="#8df0d2" d="M732 2896l17 2l49 -31l-18 -4zM753 2855l12 7l47 -31l-12 -5z"/>
<path fill="#90f0d2" d="M747 2898l15 4l49 -30l-15 -5zM763 2861l13 7l46 -34l-12 -4z"/>
<path fill="#93f3d2" d="M760 2901l12 4l49 -30l-12 -4z"/>
<path fill="#96f3d5" d="M770 2905l16 2l49 -31l-15 -1z"/>
<path fill="#99f6d8" d="M784 2907l15 2l49 -33l-15 0z"/>
<path fill="#a2f9db" d="M808 2912l14 3l49 -38l-14 0z"/>
<path fill="#a8f9de" d="M821 2914l13 4l49 -40l-14 -1z"/>
<path fill="#b7f6db" d="M882 2925l14 4l50 -40l-15 -2z"/>
<path fill="#baf9db" d="M895 2929l12 5l49 -41l-12 -4z"/>
<path fill="#c6f6db" d="M932 2939l15 0l50 -40l-16 0z"/>
<path fill="#c9f6db" d="M945 2939l17 -1l50 -40l-17 1z"/>
<path fill="#ccf6db" d="M959 2938l18 0l51 -42l-18 2z"/>
<path fill="#cff6de" d="M976 2938l12 4l51 -42l-12 -4z"/>
<path fill="#d5f9de" d="M987 2941l8 7l50 -42l-7 -7z"/>
<path fill="#d8f9de" d="M994 2948l16 1l50 -43l-17 0z"/>
<path fill="#dbf6de" d="M1008 2949l21 -4l52 -44l-23 5z"/>
<path fill="#dbf6db" d="M1027 2945l20 -4l52 -43l-21 3z"/>
<path fill="#dbf3db" d="M1044 2942l20 -2l54 -44l-21 2z"/>
<path fill="#dbf0d8" d="M1062 2940l22 0l55 -48l-24 4z"/>
<path fill="#def0d8" d="M1081 2940l21 1l56 -50l-22 2z"/>
<path fill="#e1f3d8" d="M1100 2941l16 1l57 -49l-17 -2z"/>
<path fill="#e4f3d8" d="M1114 2942l21 -5l58 -50l-22 6z"/>
<path fill="#e4f0d8" d="M1133 2937l25 -8l60 -51l-27 10z"/>
<path fill="#e7f0d8" d="M1155 2930l21 -4l61 -53l-22 5z"/>
<path fill="#e7f0d5" d="M1174 2927l19 -2l62 -55l-20 4zM1191 2925l18 0l63 -58l-19 3z"/>
<path fill="#e7edd5" d="M1207 2925l20 -1l64 -60l-21 3zM1225 2924l24 -5l66 -62l-26 7z"/>
<path fill="#e4ead2" d="M1267 2913l19 -4l68 -61l-20 5z"/>
<path fill="#e1e7cc" d="M1326 2898l23 -7l73 -62l-25 6z"/>
<path fill="#dee1c9" d="M1347 2892l25 -6l74 -63l-26 7z"/>
<path fill="#d8dec3" d="M1370 2886l25 -3l77 -65l-28 6zM1393 2884l24 -4l78 -67l-26 6zM1391 2840l25 -6l70 -54l-27 9zM1338 2827l28 -10l62 -48l-30 11z"/>
<path fill="#dbe1c6" d="M1415 2881l25 -8l80 -70l-27 11zM1438 2874l27 -11l82 -74l-29 15zM1346 2854l24 -7l67 -51l-25 7zM1368 2847l25 -7l69 -52l-27 8z"/>
<path fill="#d2d8bd" d="M1509 2847l25 -7l87 -77l-27 8zM1438 2829l28 -6l72 -66l-29 12zM1406 2808l25 -8l64 -53l-26 9zM1371 2790l24 -6l57 -49l-24 8z"/>
<path fill="#d2d8ba" d="M1532 2841l18 -2l87 -80l-18 5zM1549 2839l13 2l87 -82l-13 1z"/>
<path fill="#cfd5ba" d="M1561 2841l13 2l86 -81l-12 -3zM1487 2819l27 -11l76 -68l-29 10zM1429 2801l27 -8l65 -54l-28 9zM1392 2785l30 -11l58 -51l-31 13z"/>
<path fill="#c9cfb4" d="M1573 2843l13 6l86 -80l-13 -7zM1477 2786l29 -13l68 -59l-31 16z"/>
<path fill="#c3ccb1" d="M1585 2848l13 9l86 -81l-13 -7z"/>
<path fill="#c9d2b4" d="M1597 2856l13 5l85 -81l-12 -5zM1609 2861l13 2l85 -80l-12 -4z"/>
<path fill="#c6d2b4" d="M1621 2862l13 0l85 -77l-13 -2z"/>
<path fill="#c6cfb1" d="M1633 2862l13 1l85 -77l-13 -1zM1539 2795l27 -13l80 -72l-30 15z"/>
<path fill="#c0ccae" d="M1645 2863l39 10l83 -80l-38 -8z"/>
<path fill="#bac9ab" d="M1681 2872l40 11l82 -80l-38 -10z"/>
<path fill="#b4c3a5" d="M1718 2883l40 9l82 -80l-39 -10zM1613 2769l18 -4l82 -77l-18 5z"/>
<path fill="#aec09f" d="M1755 2891l41 10l80 -82l-39 -8z"/>
<path fill="#a5ba9c" d="M1793 2900l40 10l80 -84l-40 -8zM1724 2791l38 8l79 -77l-38 -7z"/>
<path fill="#9fb796" d="M1831 2909l41 10l78 -85l-40 -9z"/>
<path fill="#99b193" d="M1869 2919l41 10l77 -85l-40 -11z"/>
<path fill="#93ae90" d="M1907 2929l42 10l76 -86l-40 -10z"/>
<path fill="#90ab8d" d="M1946 2939l42 10l75 -87l-41 -9zM1787 2719l12 2l75 -76l-12 -1zM1798 2720l37 8l74 -76l-37 -7z"/>
<path fill="#8da88a" d="M1985 2948l42 12l74 -89l-41 -9zM2024 2959l42 13l73 -90l-41 -11zM2064 2972l42 13l72 -90l-42 -13z"/>
<path fill="#90a58a" d="M2103 2984l43 14l70 -90l-41 -14zM2233 2821l40 15l63 -85l-40 -13z"/>
<path fill="#96a58a" d="M2143 2997l43 14l70 -90l-42 -14zM2209 2913l42 14l65 -83l-41 -15zM1729 2697l13 6l76 -73l-12 -4z"/>
<path fill="#bd9f8a" d="M2224 3023l44 11l67 -94l-43 -8z"/>
<path fill="#a2a28a" d="M2265 3034l45 10l65 -96l-43 -8zM2349 3054l45 10l62 -94l-43 -12z"/>
<path fill="#9fa28a" d="M2307 3044l45 10l64 -96l-44 -11z"/>
<path fill="#aea58d" d="M2391 3064l45 11l61 -93l-44 -12z"/>
<path fill="#8aedcf" d="M738 2851l17 5l48 -29l-17 -2z"/>
<path fill="#90edd2" d="M774 2867l18 5l47 -35l-19 -3zM794 2830l11 5l47 -30l-11 -2z"/>
<path fill="#93edd2" d="M789 2871l15 5l48 -33l-15 -6z"/>
<path fill="#99f3d5" d="M802 2875l13 5l48 -32l-13 -6z"/>
<path fill="#a2f6db" d="M840 2881l13 1l47 -38l-13 1zM854 2852l16 0l46 -37l-16 0z"/>
<path fill="#b1f6db" d="M885 2886l14 2l48 -35l-14 -3z"/>
<path fill="#b4f6db" d="M897 2888l16 2l48 -35l-16 -2z"/>
<path fill="#b7f3d8" d="M911 2890l16 2l49 -36l-17 -1z"/>
<path fill="#c0f3d8" d="M948 2897l14 4l48 -38l-14 -4z"/>
<path fill="#c3f0d8" d="M961 2901l16 3l48 -38l-17 -4z"/>
<path fill="#c6f0d8" d="M975 2904l16 0l49 -37l-17 -2z"/>
<path fill="#c9f0d8" d="M989 2904l17 -2l49 -36l-17 1z"/>
<path fill="#ccf0d8" d="M1003 2903l19 -2l50 -39l-19 4z"/>
<path fill="#d2f0d8" d="M1020 2901l13 4l49 -40l-12 -3z"/>
<path fill="#d5f3d8" d="M1032 2904l7 7l48 -40l-6 -7z"/>
<path fill="#d8f3d8" d="M1037 2911l17 0l49 -42l-17 2z"/>
<path fill="#d8f0d8" d="M1052 2911l23 -5l50 -42l-25 6z"/>
<path fill="#dbedd5" d="M1072 2906l21 -3l52 -40l-23 2z"/>
<path fill="#dbedd2" d="M1091 2903l21 -2l53 -40l-23 2z"/>
<path fill="#dbead2" d="M1109 2901l24 -4l54 -42l-25 6z"/>
<path fill="#deead2" d="M1130 2898l22 -2l55 -44l-23 3zM1150 2896l17 2l55 -45l-17 -1z"/>
<path fill="#e1ead2" d="M1165 2898l22 -6l57 -45l-24 6z"/>
<path fill="#e1eacf" d="M1184 2893l28 -10l58 -48l-29 13z"/>
<path fill="#dee7cf" d="M1209 2883l22 -5l60 -47l-24 5z"/>
<path fill="#dee7cc" d="M1229 2879l20 -4l60 -45l-20 2zM1247 2875l19 -3l61 -45l-20 3z"/>
<path fill="#dee4cc" d="M1264 2872l21 -3l62 -48l-22 6zM1283 2869l26 -6l63 -51l-27 10z"/>
<path fill="#dee4c9" d="M1306 2863l24 -6l65 -51l-25 7zM1328 2858l20 -4l66 -52l-21 4z"/>
<path fill="#d5dbc0" d="M1413 2835l27 -7l72 -60l-29 13zM1364 2818l25 -7l62 -50l-26 9zM1386 2811l22 -4l63 -52l-22 7z"/>
<path fill="#d2d5ba" d="M1463 2824l27 -5l74 -69l-28 8z"/>
<path fill="#ccd2b7" d="M1512 2809l29 -15l77 -70l-31 17zM1453 2794l26 -9l67 -56l-28 10zM1419 2775l26 -9l60 -51l-28 9z"/>
<path fill="#c0c9ab" d="M1564 2783l26 -7l80 -73l-27 8z"/>
<path fill="#bac3a8" d="M1588 2777l27 -9l81 -76l-28 11zM1555 2756l29 -11l72 -66l-30 11z"/>
<path fill="#b4c0a5" d="M1630 2765l13 0l82 -76l-13 -1z"/>
<path fill="#b1bda2" d="M1642 2765l12 3l82 -76l-12 -4z"/>
<path fill="#abba9c" d="M1654 2768l12 7l81 -78l-12 -5z"/>
<path fill="#a8ba9c" d="M1665 2774l13 7l81 -79l-13 -5z"/>
<path fill="#abba9f" d="M1677 2781l13 4l80 -78l-12 -5z"/>
<path fill="#abbd9f" d="M1689 2785l13 3l80 -77l-13 -5zM1701 2788l12 2l80 -76l-12 -4z"/>
<path fill="#a8bd9f" d="M1712 2790l13 1l80 -76l-13 -1z"/>
<path fill="#9fb799" d="M1759 2798l39 10l78 -77l-38 -9z"/>
<path fill="#99b796" d="M1795 2808l39 9l77 -78l-38 -9z"/>
<path fill="#96b493" d="M1832 2817l39 7l76 -79l-39 -7z"/>
<path fill="#90b190" d="M1868 2824l40 7l74 -80l-38 -6z"/>
<path fill="#8dae8d" d="M1905 2831l40 8l74 -80l-39 -8z"/>
<path fill="#8aab8d" d="M1942 2839l40 10l73 -81l-39 -10z"/>
<path fill="#87ab8a" d="M1979 2849l41 10l71 -82l-39 -10zM1868 2735l38 9l72 -76l-37 -9z"/>
<path fill="#87a88a" d="M2017 2858l41 10l70 -83l-39 -9zM2093 2876l41 12l69 -84l-40 -11z"/>
<path fill="#84a88a" d="M2055 2867l41 10l69 -83l-39 -10z"/>
<path fill="#8aa88a" d="M2132 2887l41 13l67 -83l-40 -14z"/>
<path fill="#8da58a" d="M2170 2899l42 15l66 -84l-41 -14z"/>
<path fill="#b7a28a" d="M2248 2926l43 12l63 -86l-41 -9z"/>
<path fill="#a5a58d" d="M2328 2946l43 8l61 -89l-42 -8z"/>
<path fill="#a2a58d" d="M2368 2954l44 11l60 -90l-43 -11z"/>
<path fill="#a8a590" d="M2409 2964l43 13l59 -91l-42 -12z"/>
<path fill="#b1a893" d="M2449 2976l44 12l58 -91l-43 -11zM2192 2560l42 7l0 1l-42 -8zM2192 2564l42 9l0 0l-42 -10zM2192 2560l42 11l0 1l-42 -9zM2192 2558l42 7l0 2l-42 -7zM2192 2564l42 6l0 0l-42 -6zM2192 2563l42 7l0 0l-42 -8z"/>
<path fill="#8deacf" d="M779 2829l17 2l47 -27l-17 0z"/>
<path fill="#93f0d5" d="M804 2834l12 5l46 -32l-12 -2z"/>
<path fill="#96f0d2" d="M814 2838l19 4l46 -35l-20 0z"/>
<path fill="#99f0d2" d="M830 2841l16 7l46 -37l-16 -5z"/>
<path fill="#9ff3d8" d="M844 2847l12 6l46 -37l-12 -5z"/>
<path fill="#a5f3d8" d="M868 2852l15 -2l47 -36l-16 2z"/>
<path fill="#a8f3d8" d="M881 2850l13 -2l47 -34l-13 1z"/>
<path fill="#abf3d8" d="M892 2848l14 1l47 -34l-14 -1z"/>
<path fill="#aef3d8" d="M904 2849l14 3l47 -35l-14 -2z"/>
<path fill="#b1f3d8" d="M916 2851l12 4l47 -36l-12 -2z"/>
<path fill="#b4f3d8" d="M927 2855l13 3l47 -37l-14 -2z"/>
<path fill="#b7f0d8" d="M938 2857l17 3l46 -37l-16 -3z"/>
<path fill="#baf0d5" d="M953 2860l16 1l47 -37l-17 -2z"/>
<path fill="#bdf0d5" d="M967 2860l14 2l48 -36l-15 -2z"/>
<path fill="#c0edd2" d="M980 2861l12 3l47 -33l-12 -5z"/>
<path fill="#c0ead2" d="M990 2864l14 4l47 -33l-14 -5z"/>
<path fill="#c3eacf" d="M1002 2867l17 3l48 -33l-18 -3z"/>
<path fill="#c6ead2" d="M1017 2870l16 2l48 -34l-17 -2z"/>
<path fill="#c9ead2" d="M1031 2872l18 -2l48 -34l-18 2z"/>
<path fill="#ccead2" d="M1046 2871l20 -4l49 -36l-20 5z"/>
<path fill="#cfead2" d="M1064 2867l12 3l49 -36l-12 -3z"/>
<path fill="#d2ead2" d="M1075 2869l6 7l48 -35l-5 -8z"/>
<path fill="#d5ead2" d="M1079 2876l18 -2l48 -34l-18 1z"/>
<path fill="#d8eacf" d="M1094 2875l25 -6l50 -36l-27 7z"/>
<path fill="#d8e7cf" d="M1116 2870l23 -2l50 -40l-24 6zM1136 2868l22 -3l51 -40l-23 4z"/>
<path fill="#d8e7cc" d="M1155 2866l26 -6l52 -41l-27 6z"/>
<path fill="#dbe4cc" d="M1178 2860l23 -4l53 -42l-24 5zM1198 2857l18 1l54 -43l-18 0zM1213 2858l25 -6l55 -43l-26 7z"/>
<path fill="#dbe4c9" d="M1235 2853l29 -13l57 -43l-32 13z"/>
<path fill="#d8e1c9" d="M1261 2841l24 -5l57 -44l-24 6z"/>
<path fill="#d8e1c6" d="M1282 2837l21 -2l58 -47l-21 4z"/>
<path fill="#d8dec6" d="M1301 2835l20 -3l59 -47l-21 3zM1319 2832l22 -6l60 -47l-24 6z"/>
<path fill="#c6ccb1" d="M1503 2774l29 -12l70 -63l-31 16z"/>
<path fill="#c0c6ab" d="M1530 2763l28 -8l70 -66l-29 12z"/>
<path fill="#b4bda2" d="M1581 2746l31 -17l74 -66l-33 17z"/>
<path fill="#a5b196" d="M1637 2716l27 -8l76 -69l-28 11z"/>
<path fill="#9fae93" d="M1662 2709l29 -11l77 -72l-30 14z"/>
<path fill="#99a88d" d="M1706 2693l13 1l77 -71l-12 -1zM1718 2694l12 3l77 -71l-12 -3z"/>
<path fill="#93a58a" d="M1741 2702l12 6l76 -73l-12 -5zM1752 2708l13 4l76 -73l-13 -4z"/>
<path fill="#93a88d" d="M1764 2712l12 4l76 -74l-12 -3zM1775 2716l13 3l75 -75l-12 -2z"/>
<path fill="#8aab8a" d="M1832 2727l38 9l73 -76l-37 -9z"/>
<path fill="#84ab8a" d="M1903 2744l38 7l72 -75l-38 -8z"/>
<path fill="#81ab8a" d="M1938 2750l39 7l71 -74l-38 -7z"/>
<path fill="#7ea88a" d="M1974 2756l39 8l70 -75l-38 -7z"/>
<path fill="#7ea887" d="M2011 2764l39 9l68 -76l-38 -9zM2047 2773l40 9l67 -76l-39 -10z"/>
<path fill="#81a587" d="M2084 2782l39 9l67 -77l-39 -9zM2121 2790l40 9l65 -77l-39 -8z"/>
<path fill="#87a587" d="M2158 2799l40 11l64 -80l-39 -8z"/>
<path fill="#8aa58a" d="M2195 2809l41 13l63 -83l-40 -10z"/>
<path fill="#99a58a" d="M2271 2835l40 15l61 -86l-39 -14z"/>
<path fill="#baa28d" d="M2308 2849l42 9l60 -84l-40 -11z"/>
<path fill="#c39f8d" d="M2347 2858l42 6l59 -82l-41 -8z"/>
<path fill="#aba28d" d="M2386 2863l42 8l58 -80l-41 -9z"/>
<path fill="#a8a28d" d="M2425 2870l43 11l56 -80l-41 -11z"/>
<path fill="#aea290" d="M2464 2880l43 13l55 -82l-41 -11z"/>
<path fill="#b7a593" d="M2504 2892l43 11l54 -84l-42 -9z"/>
<path fill="#93eacf" d="M819 2808l17 0l46 -29l-17 0z"/>
<path fill="#96edd2" d="M834 2807l11 3l45 -29l-10 -2z"/>
<path fill="#99edd2" d="M843 2809l12 2l45 -32l-11 2z"/>
<path fill="#9ff0d5" d="M853 2811l19 0l45 -36l-19 4zM870 2811l16 5l44 -37l-15 -4z"/>
<path fill="#a2f0d5" d="M884 2816l12 5l45 -36l-13 -7z"/>
<path fill="#a8f0d5" d="M894 2820l16 0l46 -34l-17 -2z"/>
<path fill="#abf0d5" d="M908 2820l15 -1l46 -33l-16 0z"/>
<path fill="#abedd5" d="M921 2819l13 0l46 -33l-13 0z"/>
<path fill="#aeedd5" d="M932 2819l15 0l46 -33l-15 0z"/>
<path fill="#b1edd5" d="M945 2819l13 3l46 -35l-13 -1z"/>
<path fill="#b4f0d5" d="M957 2821l11 3l46 -34l-12 -3z"/>
<path fill="#b7edd2" d="M967 2824l13 2l46 -34l-14 -3z"/>
<path fill="#b7ead2" d="M978 2825l17 2l46 -33l-17 -2z"/>
<path fill="#bae7cf" d="M993 2827l17 2l46 -33l-17 -2zM1008 2828l14 3l47 -32l-15 -4z"/>
<path fill="#bde4cc" d="M1020 2830l13 5l46 -31l-12 -6z"/>
<path fill="#c0e4cc" d="M1031 2835l14 4l46 -32l-14 -4z"/>
<path fill="#c3e4cc" d="M1043 2839l17 2l47 -33l-18 -1z"/>
<path fill="#c9e7cf" d="M1058 2841l17 1l47 -34l-18 -1z"/>
<path fill="#cce7cf" d="M1073 2842l18 -2l47 -34l-19 2z"/>
<path fill="#cce4cc" d="M1088 2841l21 -5l48 -35l-22 6z"/>
<path fill="#cfe4cc" d="M1107 2836l11 2l48 -36l-11 -1z"/>
<path fill="#d2e7cf" d="M1117 2838l5 8l47 -36l-4 -9z"/>
<path fill="#d5e7cf" d="M1121 2846l18 -1l47 -37l-19 1z"/>
<path fill="#d5e4cc" d="M1136 2845l26 -7l48 -38l-28 9zM1159 2838l24 -5l49 -40l-25 8z"/>
<path fill="#d5e4c9" d="M1180 2834l23 -4l50 -42l-24 6z"/>
<path fill="#d5e1c9" d="M1200 2830l27 -6l51 -43l-28 8z"/>
<path fill="#d5e1c6" d="M1224 2824l24 -5l52 -44l-25 6z"/>
<path fill="#d5dec6" d="M1246 2820l18 0l51 -45l-18 0zM1261 2821l26 -7l53 -45l-27 7z"/>
<path fill="#d2dbc3" d="M1283 2815l32 -13l54 -44l-33 13z"/>
<path fill="#d2dbc0" d="M1312 2803l24 -6l56 -46l-26 8zM1334 2797l21 -4l57 -47l-23 6z"/>
<path fill="#d2d8c0" d="M1353 2794l21 -4l56 -48l-21 5z"/>
<path fill="#c9cfb7" d="M1443 2767l22 -7l61 -51l-24 7z"/>
<path fill="#c6ccb4" d="M1463 2761l26 -9l62 -55l-28 12z"/>
<path fill="#c3c9ae" d="M1487 2753l28 -9l63 -58l-30 12z"/>
<path fill="#bdc3a8" d="M1512 2745l28 -11l64 -58l-29 11z"/>
<path fill="#b7bda5" d="M1537 2736l31 -17l65 -56l-32 14z"/>
<path fill="#b1ba9f" d="M1565 2721l31 -16l66 -57l-32 17z"/>
<path fill="#abb499" d="M1593 2706l30 -11l67 -59l-31 14z"/>
<path fill="#a5ae93" d="M1620 2696l30 -12l69 -62l-32 15z"/>
<path fill="#9fa890" d="M1647 2685l33 -16l70 -63l-34 18z"/>
<path fill="#9ca28a" d="M1677 2670l32 -16l71 -64l-33 17zM1595 2683l32 -15l62 -58l-33 15z"/>
<path fill="#969c84" d="M1706 2655l28 -11l72 -65l-29 12zM1624 2670l32 -16l64 -60l-34 17z"/>
<path fill="#939681" d="M1732 2645l30 -13l73 -66l-31 14zM1654 2655l30 -14l64 -62l-31 16z"/>
<path fill="#93937e" d="M1760 2632l19 -5l74 -64l-20 4z"/>
<path fill="#90937b" d="M1778 2627l12 2l73 -65l-12 -1zM1789 2629l12 3l73 -66l-12 -2z"/>
<path fill="#8d937b" d="M1800 2631l12 5l73 -67l-12 -3z"/>
<path fill="#8a937b" d="M1811 2635l13 5l72 -69l-12 -2zM1823 2640l12 5l72 -71l-12 -3z"/>
<path fill="#8a967e" d="M1834 2645l12 3l72 -72l-12 -2z"/>
<path fill="#8a997e" d="M1845 2648l12 1l72 -73l-12 -1zM1856 2649l13 1l71 -73l-12 -1z"/>
<path fill="#87997e" d="M1867 2650l37 7l70 -72l-36 -8z"/>
<path fill="#849c81" d="M1901 2657l37 8l69 -71l-36 -9z"/>
<path fill="#7e9f81" d="M1935 2665l38 9l68 -72l-37 -9zM1970 2673l37 9l68 -72l-37 -9z"/>
<path fill="#7ba284" d="M2004 2681l38 7l67 -71l-37 -8zM2039 2688l39 6l65 -71l-37 -6zM2075 2694l38 8l65 -72l-38 -7z"/>
<path fill="#7e9f84" d="M2110 2702l39 10l64 -73l-38 -10z"/>
<path fill="#819f84" d="M2146 2711l39 9l63 -72l-38 -10z"/>
<path fill="#849f84" d="M2182 2719l39 9l62 -72l-38 -9z"/>
<path fill="#8a9f84" d="M2218 2727l40 9l60 -73l-38 -7z"/>
<path fill="#909f87" d="M2255 2735l40 10l59 -76l-39 -7z"/>
<path fill="#999f87" d="M2292 2744l39 13l59 -78l-39 -11z"/>
<path fill="#a29f8a" d="M2328 2756l40 14l58 -78l-39 -14z"/>
<path fill="#c09c8a" d="M2365 2769l41 11l56 -77l-39 -12z"/>
<path fill="#c69c8a" d="M2402 2780l41 8l56 -76l-40 -9z"/>
<path fill="#b49c8a" d="M2440 2788l41 9l55 -76l-41 -9zM2478 2796l42 11l53 -77l-41 -10z"/>
<path fill="#b79c8d" d="M2516 2806l42 11l52 -79l-41 -9z"/>
<path fill="#bda290" d="M2555 2816l42 10l51 -80l-41 -9z"/>
<path fill="#a2edd5" d="M858 2784l17 0l44 -37l-18 0zM874 2784l10 1l43 -37l-10 -1z"/>
<path fill="#a2edd2" d="M882 2785l12 -1l43 -39l-11 3z"/>
<path fill="#a5edd5" d="M892 2784l19 -4l44 -39l-20 5z"/>
<path fill="#a8e7cf" d="M909 2780l15 4l44 -38l-16 -5zM923 2783l12 7l43 -37l-12 -8z"/>
<path fill="#abe7cf" d="M933 2789l16 2l44 -38l-17 -1z"/>
<path fill="#abead2" d="M947 2791l16 0l44 -39l-16 1z"/>
<path fill="#aee7cf" d="M961 2790l13 1l44 -39l-13 0zM972 2791l14 0l44 -40l-14 1z"/>
<path fill="#b1e7cf" d="M985 2791l13 1l44 -40l-14 -1z"/>
<path fill="#b1e7cc" d="M996 2792l12 3l44 -38l-12 -5z"/>
<path fill="#b1e1c9" d="M1006 2794l14 3l44 -37l-14 -4z"/>
<path fill="#b1dec6" d="M1018 2797l17 2l44 -37l-17 -2z"/>
<path fill="#aedbc3" d="M1033 2799l17 1l45 -37l-18 -1z"/>
<path fill="#b1d8c0" d="M1048 2800l15 4l44 -37l-14 -4zM1109 2776l17 2l12 -18l-18 0z"/>
<path fill="#b4dbc3" d="M1061 2803l12 6l44 -38l-12 -5z"/>
<path fill="#badec6" d="M1071 2808l14 4l44 -39l-14 -2z"/>
<path fill="#c0e1c9" d="M1083 2812l17 1l45 -42l-18 1z"/>
<path fill="#c0e1c6" d="M1098 2813l18 0l44 -44l-18 2z"/>
<path fill="#c0dec3" d="M1113 2813l19 -2l45 -43l-19 1z"/>
<path fill="#bdd8c0" d="M1129 2812l22 -6l45 -43l-22 5z"/>
<path fill="#bdd5bd" d="M1149 2806l11 1l45 -43l-11 -1z"/>
<path fill="#c6dec6" d="M1159 2807l4 8l44 -42l-3 -9z"/>
<path fill="#cce1c6" d="M1161 2814l18 -1l46 -40l-19 0z"/>
<path fill="#c9dbc3" d="M1177 2814l27 -9l47 -40l-29 8z"/>
<path fill="#c6d5bd" d="M1201 2806l25 -8l47 -39l-26 7z"/>
<path fill="#c3d2ba" d="M1223 2799l24 -6l48 -41l-25 8z"/>
<path fill="#c0cfb7" d="M1244 2794l28 -8l49 -45l-29 12z"/>
<path fill="#bdccb4" d="M1269 2787l25 -7l50 -47l-27 9zM1291 2780l18 0l50 -47l-18 0z"/>
<path fill="#bdc9b1" d="M1307 2781l27 -6l51 -47l-28 6z"/>
<path fill="#b7c0ab" d="M1330 2776l33 -13l53 -49l-35 15z"/>
<path fill="#b7c0a8" d="M1360 2764l26 -8l53 -52l-26 11zM1443 2741l31 -13l57 -53l-32 15z"/>
<path fill="#bac3ab" d="M1383 2757l23 -6l53 -51l-22 5z"/>
<path fill="#bdc3ab" d="M1403 2752l21 -5l55 -50l-22 3z"/>
<path fill="#bdc6ab" d="M1422 2748l24 -8l56 -51l-26 9z"/>
<path fill="#b1b7a2" d="M1471 2729l28 -9l57 -55l-28 11z"/>
<path fill="#b1b79f" d="M1496 2721l24 -7l58 -54l-24 6z"/>
<path fill="#aeb49c" d="M1517 2715l28 -13l59 -54l-29 12z"/>
<path fill="#a8ae96" d="M1542 2704l30 -13l60 -56l-31 15z"/>
<path fill="#a2a890" d="M1569 2692l29 -10l61 -58l-30 13z"/>
<path fill="#90907b" d="M1681 2642l32 -14l65 -65l-32 17z"/>
<path fill="#8d8a75" d="M1710 2629l34 -18l67 -66l-36 20z"/>
<path fill="#8a816f" d="M1741 2613l33 -18l68 -66l-34 18zM1932 2582l36 9l67 -64l-36 -9z"/>
<path fill="#877b6c" d="M1772 2597l29 -12l68 -68l-30 14z"/>
<path fill="#8a7569" d="M1798 2586l31 -14l69 -68l-32 15z"/>
<path fill="#8d7569" d="M1827 2573l20 -5l69 -64l-20 1zM1994 2519l40 11l0 6l-40 -11z"/>
<path fill="#907869" d="M1845 2568l12 2l69 -64l-11 -2z"/>
<path fill="#907b6c" d="M1856 2570l12 2l69 -64l-12 -2zM1867 2572l12 2l69 -63l-12 -3zM1878 2574l12 3l68 -63l-11 -3z"/>
<path fill="#907e6c" d="M1889 2577l12 3l68 -65l-12 -2z"/>
<path fill="#8d7e6f" d="M1900 2579l12 2l68 -65l-12 -1z"/>
<path fill="#8d816f" d="M1911 2581l12 1l68 -66l-12 0zM1922 2581l12 2l67 -65l-11 -2zM2092 2544l41 8l0 1l-41 -6zM2092 2536l41 10l0 2l-41 -7zM2092 2540l41 7l0 3l-41 -7zM2092 2543l41 7l0 -1l-41 -8zM2092 2541l41 8l0 3l-41 -8zM2092 2543l41 8l0 4l-41 -10z"/>
<path fill="#878472" d="M1966 2590l36 9l65 -64l-35 -9z"/>
<path fill="#848a75" d="M1999 2598l37 9l64 -65l-36 -7z"/>
<path fill="#848d75" d="M2033 2607l37 8l63 -66l-36 -7z"/>
<path fill="#849078" d="M2067 2615l37 8l63 -68l-37 -7z"/>
<path fill="#84907b" d="M2101 2622l37 7l62 -68l-36 -7z"/>
<path fill="#87907b" d="M2135 2628l38 8l61 -69l-37 -7zM2170 2635l38 9l60 -70l-37 -8z"/>
<path fill="#8d907b" d="M2205 2644l38 10l59 -70l-37 -10z"/>
<path fill="#90907e" d="M2240 2653l38 9l58 -70l-37 -9z"/>
<path fill="#96937e" d="M2275 2661l39 7l57 -69l-38 -7z"/>
<path fill="#9c9381" d="M2310 2668l40 7l56 -70l-38 -7z"/>
<path fill="#a29081" d="M2346 2674l40 11l55 -70l-38 -10z"/>
<path fill="#ab9081" d="M2382 2684l39 14l55 -70l-38 -14z"/>
<path fill="#c39384" d="M2418 2697l40 12l53 -69l-39 -13z"/>
<path fill="#cc9387" d="M2454 2708l40 10l52 -70l-39 -9zM1908 2506l19 5l0 -2l-19 -2zM1908 2508l19 5l0 -2l-19 -4zM1909 2506l18 7l0 -2l-18 -8zM1909 2501l18 10l0 -3l-18 -8z"/>
<path fill="#bd9084" d="M2491 2718l40 9l51 -71l-39 -9z"/>
<path fill="#bd9087" d="M2528 2726l41 10l50 -73l-40 -8z"/>
<path fill="#c3938a" d="M2565 2735l41 9l49 -75l-40 -7z"/>
<path fill="#c69c8d" d="M2603 2743l41 9l48 -76l-40 -7z"/>
<path fill="#abead5" d="M895 2752l21 0l11 -18l-21 -2zM918 2753l15 -3l13 -11l-15 -1z"/>
<path fill="#aeedd8" d="M911 2752l13 1l12 -15l-14 -5z"/>
<path fill="#a8e4cf" d="M927 2751l25 -6l12 -9l-25 4z"/>
<path fill="#a8decc" d="M945 2745l20 5l13 -10l-20 -4z"/>
<path fill="#abe1cc" d="M959 2748l16 11l12 -12l-15 -9zM1009 2758l18 -2l13 -14l-19 3z"/>
<path fill="#aee4cf" d="M969 2757l22 1l12 -12l-22 0zM984 2758l20 -1l12 -12l-20 1zM1007 2750l16 -1l11 -17l-16 -1z"/>
<path fill="#aee4cc" d="M998 2757l17 0l12 -13l-17 1z"/>
<path fill="#abdec9" d="M1021 2756l18 1l12 -12l-17 -3z"/>
<path fill="#a8dbc3" d="M1033 2755l15 7l13 -11l-15 -8z"/>
<path fill="#a5d5bd" d="M1043 2760l18 5l12 -9l-18 -7z"/>
<path fill="#a2cfba" d="M1055 2764l22 2l12 -9l-22 -2z"/>
<path fill="#9fccb4" d="M1070 2765l22 2l12 -11l-23 1z"/>
<path fill="#a2ccb4" d="M1086 2766l18 6l12 -13l-18 -4z"/>
<path fill="#a8d2ba" d="M1099 2770l15 7l12 -16l-15 -4z"/>
<path fill="#b4d8c0" d="M1121 2778l21 -2l11 -18l-21 3z"/>
<path fill="#b1d2ba" d="M1136 2776l22 -2l10 -18l-21 3z"/>
<path fill="#abc9b4" d="M1152 2775l22 -2l11 -18l-23 2z"/>
<path fill="#a2c0ab" d="M1168 2774l26 -7l10 -16l-26 5z"/>
<path fill="#a5c0ab" d="M1188 2768l14 2l11 -15l-14 -5z"/>
<path fill="#b7cfb7" d="M1199 2767l4 13l12 -13l-4 -15z"/>
<path fill="#c0d5bd" d="M1199 2777l23 0l11 -13l-23 1z"/>
<path fill="#b4c6ae" d="M1216 2778l32 -10l10 -13l-32 11z"/>
<path fill="#abbda8" d="M1241 2770l30 -8l10 -13l-30 8z"/>
<path fill="#a8baa5" d="M1264 2764l29 -9l10 -12l-30 8z"/>
<path fill="#a5baa2" d="M1286 2758l33 -14l9 -11l-33 12zM1311 2747l31 -11l9 -11l-30 10z"/>
<path fill="#a8bda5" d="M1334 2738l23 0l11 -14l-23 2z"/>
<path fill="#9fae99" d="M1351 2739l32 -7l9 -17l-32 10z"/>
<path fill="#909c8a" d="M1376 2734l38 -17l8 -17l-38 18z"/>
<path fill="#909f8a" d="M1407 2720l30 -12l9 -15l-30 9zM1458 2695l26 -3l9 -16l-26 2z"/>
<path fill="#99a590" d="M1430 2710l28 -6l9 -14l-28 4z"/>
<path fill="#9fab96" d="M1451 2705l26 -4l9 -13l-26 3z"/>
<path fill="#a2ab96" d="M1470 2702l30 -9l9 -12l-30 9z"/>
<path fill="#9ca590" d="M1493 2695l36 -18l8 -10l-36 17z"/>
<path fill="#969c8a" d="M1522 2681l33 -12l8 -12l-33 13z"/>
<path fill="#939984" d="M1547 2671l29 -8l9 -12l-29 8z"/>
<path fill="#909681" d="M1569 2665l33 -14l8 -10l-33 13z"/>
<path fill="#8a907b" d="M1595 2654l35 -16l8 -9l-35 15z"/>
<path fill="#8a8d78" d="M1623 2641l34 -14l8 -11l-34 16z"/>
<path fill="#848775" d="M1650 2630l37 -17l8 -12l-37 18z"/>
<path fill="#81816f" d="M1680 2616l38 -19l7 -12l-37 19z"/>
<path fill="#847e6f" d="M1711 2600l36 -18l7 -11l-36 18z"/>
<path fill="#817b6c" d="M1740 2585l37 -19l7 -11l-37 19z"/>
<path fill="#7e7263" d="M1770 2570l39 -22l7 -11l-39 22z"/>
<path fill="#7b695d" d="M1802 2552l38 -20l7 -12l-38 21z"/>
<path fill="#7b635a" d="M1833 2536l35 -16l7 -10l-35 14z"/>
<path fill="#7e5d54" d="M1861 2523l36 -16l7 -9l-37 15z"/>
<path fill="#87635a" d="M1889 2509l27 -2l0 2l-19 -11zM1878 2488l27 8l0 -1l-20 -31z"/>
<path fill="#936c60" d="M1909 2505l18 4l0 3l-19 -5z"/>
<path fill="#966c63" d="M1919 2508l19 3l0 2l-19 -2zM1920 2501l17 8l0 2l-18 -7zM1899 2492l17 12l-1 7l-16 -15zM1919 2503l18 7l0 2l-18 -4zM1919 2507l18 4l0 4l-18 -6zM1899 2497l16 13l0 1l-16 -16zM1919 2508l18 4l0 3l-18 -4z"/>
<path fill="#936f63" d="M1930 2510l18 4l0 0l-18 -2z"/>
<path fill="#a57e72" d="M1940 2512l19 5l0 1l-19 -5zM1951 2516l19 4l0 1l-19 -4zM1940 2513l19 6l0 0l-19 -5zM1940 2512l19 2l0 0l-19 -3zM1940 2513l19 5l0 -3l-19 -3zM1940 2512l19 3l0 1l-19 -1z"/>
<path fill="#b78d7e" d="M1951 2515l19 3l0 2l-19 -4zM1951 2510l19 4l0 0l-19 -2zM1962 2513l19 3l0 -1l-19 -2zM1962 2519l18 1l0 2l-18 -2zM1962 2517l18 7l0 -1l-18 -6zM1951 2511l19 2l0 2l-19 -1zM1962 2512l19 4l-1 0l-18 -2zM1951 2516l19 4l0 -3l-19 -3zM1951 2515l19 0l0 -1l-19 1zM1962 2514l19 2l0 0l-19 -2z"/>
<path fill="#a58172" d="M1962 2517l18 1l0 3l-18 -2zM1972 2520l19 0l0 3l-19 -1zM1973 2519l18 4l0 0l-18 -4zM1962 2517l18 3l0 4l-18 -6zM1962 2515l18 3l0 3l-18 -2zM1973 2517l18 3l0 1l-19 -1z"/>
<path fill="#907266" d="M1973 2517l18 1l0 5l-18 -3zM1984 2516l18 4l0 8l-18 -7z"/>
<path fill="#8d7869" d="M2027 2528l40 10l0 6l-41 -10z"/>
<path fill="#8d7b6c" d="M2059 2536l41 9l0 4l-41 -7zM2027 2528l40 5l0 4l-41 -6zM2027 2529l40 9l0 2l-40 -9zM2027 2531l40 8l0 2l-41 -9z"/>
<path fill="#9f9381" d="M2125 2550l41 8l0 -1l-41 -5zM2125 2552l41 5l0 1l-41 -5zM2126 2544l40 12l0 0l-41 -10zM2125 2546l42 9l-1 2l-41 -8zM2125 2549l41 8l1 -3l-42 -7z"/>
<path fill="#b1a590" d="M2159 2557l41 7l0 -1l-41 -7zM2159 2555l41 9l0 -2l-41 -10zM2158 2562l42 7l0 -2l-42 -6zM2159 2555l41 4l0 2l-41 -5zM2158 2558l42 7l0 0l-42 -6zM2159 2557l41 7l0 0l-41 -7z"/>
<path fill="#b4a893" d="M2192 2563l42 7l0 0l-42 -9z"/>
<path fill="#b7ab93" d="M2226 2569l42 9l0 -1l-42 -9zM2226 2570l42 10l0 0l-42 -10zM2226 2570l42 10l0 -1l-42 -8z"/>
<path fill="#c0ab99" d="M2294 2585l42 11l0 0l-42 -12zM2294 2580l42 12l1 -2l-43 -9zM2294 2586l42 7l0 -1l-42 -6zM2294 2582l42 10l1 -2l-43 -9z"/>
<path fill="#c6ab99" d="M2328 2594l43 8l0 1l-43 -9zM2329 2588l42 11l0 1l-42 -8zM2329 2591l42 7l0 1l-42 -9zM2329 2591l42 10l0 1l-42 -11zM2329 2587l42 13l0 0l-42 -12zM2328 2593l43 10l0 -1l-42 -11zM2329 2589l42 14l0 1l-42 -14zM2329 2589l42 11l0 0l-42 -10zM2329 2590l42 8l0 -2l-42 -8z"/>
<path fill="#a88a7e" d="M2398 2607l43 12l0 2l-43 -12z"/>
<path fill="#b18a7e" d="M2433 2616l42 16l0 1l-42 -15zM2433 2618l42 15l0 4l-42 -16zM2433 2614l42 18l0 0l-42 -15zM2433 2616l42 16l0 3l-42 -15z"/>
<path fill="#d2a293" d="M2468 2629l43 14l0 1l-43 -13z"/>
<path fill="#e7b4a5" d="M2503 2641l43 11l1 -1l-44 -9zM2503 2639l44 9l0 0l-44 -7zM2503 2644l44 6l0 -1l-44 -6zM2503 2643l44 8l0 -1l-44 -7zM2503 2643l44 7l0 0l-44 -10zM2503 2643l43 11l0 -2l-43 -10zM2503 2640l44 8l0 1l-44 -9zM2503 2644l43 10l0 -1l-43 -10zM2503 2640l44 11l-1 1l-43 -10z"/>
<path fill="#e1aea2" d="M2539 2650l44 9l0 -1l-44 -9zM2538 2652l44 8l1 -2l-44 -8zM2539 2646l44 9l0 2l-44 -9zM2538 2652l44 8l1 -1l-44 -8zM2539 2646l44 9l0 2l-44 -11zM2539 2646l44 11l0 -2l-44 -10z"/>
<path fill="#e1aba2" d="M2575 2658l44 9l0 -3l-44 -8zM2575 2652l45 8l0 -1l-45 -6zM2575 2653l44 9l0 1l-44 -10zM2575 2656l44 11l0 0l-44 -10z"/>
<path fill="#e4b1a8" d="M2611 2665l44 8l1 -2l-45 -8z"/>
<path fill="#e4bdae" d="M2648 2672l44 7l1 -2l-45 -8zM2647 2673l45 10l0 -2l-44 -10z"/>
<path fill="#aee4d2" d="M903 2737l21 2l11 -19l-21 -3zM1015 2737l16 1l10 -22l-15 -1z"/>
<path fill="#b4edd8" d="M919 2738l13 6l11 -16l-13 -10z"/>
<path fill="#b1ead5" d="M927 2742l15 1l12 -11l-15 -6z"/>
<path fill="#aee1cf" d="M936 2743l25 -4l12 -9l-25 3z"/>
<path fill="#b1e1cf" d="M953 2739l21 4l12 -12l-20 -1z"/>
<path fill="#b4e4d2" d="M968 2742l15 9l12 -17l-15 -5z"/>
<path fill="#b1e7d2" d="M978 2750l21 0l11 -17l-21 0zM993 2750l19 -1l11 -18l-19 2z"/>
<path fill="#abe1c9" d="M1018 2749l17 -2l12 -16l-18 1z"/>
<path fill="#a5dbc6" d="M1030 2747l17 2l12 -14l-18 -4z"/>
<path fill="#a2d5c0" d="M1042 2748l15 7l11 -12l-14 -10z"/>
<path fill="#9fcfba" d="M1051 2753l18 7l12 -13l-18 -7z"/>
<path fill="#99c9b1" d="M1063 2758l22 2l11 -12l-21 -2z"/>
<path fill="#96c6ae" d="M1078 2760l22 0l12 -14l-23 2zM1094 2760l18 3l11 -18l-18 1z"/>
<path fill="#9cccb4" d="M1107 2762l15 4l11 -21l-15 -1z"/>
<path fill="#a5cfb7" d="M1117 2766l17 0l11 -21l-17 0z"/>
<path fill="#a5ccb4" d="M1129 2766l21 -3l10 -20l-21 3z"/>
<path fill="#9fc6ae" d="M1144 2764l21 -2l11 -19l-22 1z"/>
<path fill="#96baa2" d="M1159 2762l23 -2l10 -19l-22 2z"/>
<path fill="#8dae99" d="M1176 2761l25 -6l10 -17l-25 4z"/>
<path fill="#90b19c" d="M1196 2756l14 4l11 -16l-15 -7z"/>
<path fill="#a8c6ae" d="M1207 2757l4 15l11 -15l-4 -17z"/>
<path fill="#b4ccb4" d="M1207 2769l23 -1l10 -16l-22 3z"/>
<path fill="#a2b7a2" d="M1223 2769l33 -11l9 -16l-32 12z"/>
<path fill="#96ab96" d="M1249 2760l29 -7l10 -17l-30 8z"/>
<path fill="#93a893" d="M1271 2755l29 -9l10 -16l-29 8z"/>
<path fill="#90ab93" d="M1293 2748l33 -12l9 -15l-32 12z"/>
<path fill="#96b49c" d="M1319 2738l30 -10l9 -14l-30 9z"/>
<path fill="#9fbaa2" d="M1342 2730l23 -2l9 -17l-22 4z"/>
<path fill="#93a590" d="M1358 2729l32 -11l9 -17l-32 13z"/>
<path fill="#7b8a78" d="M1383 2721l38 -18l8 -16l-38 18z"/>
<path fill="#7e8d7b" d="M1414 2706l30 -10l9 -16l-31 9z"/>
<path fill="#8a9984" d="M1437 2698l28 -4l8 -16l-27 3z"/>
<path fill="#909987" d="M1477 2693l30 -9l8 -15l-29 8z"/>
<path fill="#8a9381" d="M1500 2687l36 -18l8 -12l-36 15z"/>
<path fill="#8a907e" d="M1528 2672l33 -13l8 -13l-32 14z"/>
<path fill="#848a78" d="M1554 2662l29 -7l8 -16l-28 9z"/>
<path fill="#7b816f" d="M1576 2657l33 -13l8 -16l-33 14z"/>
<path fill="#757869" d="M1602 2647l34 -16l8 -15l-34 15zM1629 2634l35 -16l7 -12l-34 13z"/>
<path fill="#787b69" d="M1657 2621l36 -18l8 -10l-37 17z"/>
<path fill="#7b7869" d="M1686 2607l38 -20l7 -10l-37 19z"/>
<path fill="#7b7866" d="M1717 2591l36 -18l7 -10l-36 18z"/>
<path fill="#7b7263" d="M1746 2576l36 -19l8 -9l-37 18z"/>
<path fill="#75695a" d="M1776 2561l39 -22l7 -11l-39 24z"/>
<path fill="#756057" d="M1808 2543l38 -21l7 -11l-38 21z"/>
<path fill="#755a51" d="M1839 2526l34 -14l7 -12l-34 14z"/>
<path fill="#72544e" d="M1866 2515l37 -15l3 -6l-33 9z"/>
<path fill="#936960" d="M1896 2499l19 11l0 0l-15 -17z"/>
<path fill="#ba877b" d="M1909 2506l18 5l0 3l-18 -7zM1899 2489l16 16l1 -5l-17 -12zM1909 2497l18 7l0 0l-18 -5zM1909 2505l18 6l0 -1l-18 -8zM1909 2504l18 6l0 1l-18 -6zM1909 2501l18 8l0 -2l-18 -5z"/>
<path fill="#a87b6f" d="M1919 2510l19 2l-1 3l-18 -3zM1919 2508l18 6l0 1l-18 -7zM1919 2507l18 6l0 1l-18 -3zM1919 2508l19 5l0 0l-19 -4z"/>
<path fill="#a87b72" d="M1930 2511l18 3l0 1l-18 -1zM1930 2506l18 8l0 2l-18 -9zM1930 2508l18 8l0 1l-18 -5zM1930 2511l18 1l0 3l-18 -4z"/>
<path fill="#cc998a" d="M1940 2513l19 5l0 -3l-19 -1zM1930 2514l18 1l0 -3l-18 -1zM1930 2508l18 1l0 3l-18 -3zM1940 2514l19 5l0 -1l-19 -3zM1930 2512l18 5l0 -2l-18 -2zM1940 2512l19 3l0 0l-19 -4zM1940 2514l19 1l0 -4l-19 1zM1930 2512l18 0l0 1l-18 0zM1940 2512l19 0l0 2l-19 -1zM1930 2513l18 0l0 -1l-18 0zM1930 2512l18 0l0 0l-18 -1zM1940 2514l19 1l0 0l-19 -2z"/>
<path fill="#dea899" d="M1951 2516l18 5l1 -4l-19 -3zM1951 2515l19 3l0 -3l-19 -2zM1951 2514l19 3l0 -4l-19 -3zM1951 2518l19 2l0 -2l-19 -2zM1951 2513l18 7l1 -1l-19 -6zM1951 2514l19 5l0 -4l-19 -2zM1951 2514l19 3l0 -4l-19 -2zM1951 2516l19 2l0 -4l-19 0z"/>
<path fill="#c99c8d" d="M1962 2519l18 2l0 -2l-18 -3zM1962 2519l18 2l0 -1l-18 -3zM1962 2519l18 2l0 -4l-18 -1zM1962 2517l18 1l1 -1l-19 -2zM1962 2515l18 2l0 3l-18 -4z"/>
<path fill="#b79081" d="M1973 2520l18 2l0 1l-18 -5zM1973 2514l18 5l0 -1l-18 -4zM1972 2522l19 1l0 -1l-19 -3zM1972 2521l19 5l0 -1l-18 -5zM1973 2514l18 6l0 -2l-18 -3zM1973 2517l18 4l0 -2l-18 -3zM1973 2515l18 4l0 3l-18 -4zM1973 2515l18 5l0 -2l-18 -4z"/>
<path fill="#a28475" d="M1984 2520l18 6l0 3l-19 -8zM1994 2524l40 12l0 1l-40 -11zM1983 2516l19 6l0 0l-19 -3zM1983 2522l19 3l0 0l-19 -4zM1983 2521l19 4l0 0l-19 -3zM1983 2518l19 8l0 -2l-19 -5zM1994 2518l41 8l0 0l-41 -4z"/>
<path fill="#b19987" d="M2026 2534l41 9l0 1l-41 -9zM2027 2530l40 5l0 -2l-40 -5zM2026 2531l41 6l0 1l-41 -7zM2027 2528l40 7l0 3l-40 -9zM2026 2532l41 9l0 0l-40 -10z"/>
<path fill="#b19c8a" d="M2059 2541l41 7l0 1l-41 -7zM2059 2534l41 7l0 2l-41 -8zM2059 2535l41 8l0 1l-41 -8zM2059 2534l41 7l0 -3l-41 -6zM2329 2589l42 12l0 2l-42 -13zM2059 2539l41 7l0 1l-41 -8z"/>
<path fill="#9f907e" d="M2092 2547l41 6l0 1l-41 -6zM2092 2539l41 7l0 4l-41 -8z"/>
<path fill="#c3b79f" d="M2159 2556l41 7l0 -1l-41 -6zM2159 2557l41 7l0 0l-41 -10zM2159 2557l41 9l0 -1l-41 -11zM2159 2554l41 11l0 0l-41 -11zM2159 2554l41 10l0 1l-41 -10zM2159 2555l41 10l0 -3l-41 -9z"/>
<path fill="#d5c9ae" d="M2192 2561l42 9l0 -3l-42 -7zM2192 2563l42 10l0 -1l-42 -9zM2192 2563l42 10l0 -3l-42 -10zM2192 2567l42 4l0 -1l-42 -6zM2192 2565l42 5l0 -2l-42 -5zM2192 2564l42 5l0 -4l-42 -7zM2192 2564l42 6l0 -1l-42 -7z"/>
<path fill="#dbccb1" d="M2226 2568l42 9l0 -3l-42 -8zM2226 2571l42 9l0 -1l-42 -10zM2226 2572l42 4l0 -2l-42 -5zM2226 2570l42 4l0 0l-42 -5zM2226 2569l42 5l0 -1l-42 -6z"/>
<path fill="#e1ccb4" d="M2260 2576l42 10l0 -4l-42 -10zM2260 2578l42 8l0 1l-42 -9zM2260 2579l42 8l0 -2l-42 -8zM2260 2578l42 7l0 -2l-42 -7zM2260 2577l42 9l0 -1l-42 -8zM2260 2577l42 8l0 -3l-42 -7zM2260 2575l42 8l0 -2l-42 -8zM2260 2573l42 9l0 -1l-42 -9z"/>
<path fill="#e7cfb7" d="M2294 2584l42 12l0 -4l-42 -12zM2294 2584l42 9l1 -2l-43 -10zM2294 2584l42 9l0 -2l-42 -10z"/>
<path fill="#edcfb7" d="M2328 2594l43 10l0 -3l-42 -11zM2329 2591l42 11l0 -1l-42 -12zM2329 2589l42 12l0 -1l-42 -13zM2329 2590l42 14l0 -2l-42 -14zM2329 2591l42 9l0 -2l-42 -8z"/>
<path fill="#e1bdab" d="M2363 2602l43 9l0 -2l-43 -10zM2363 2599l43 10l0 0l-43 -12zM2363 2597l43 12l0 1l-43 -12zM2363 2599l43 13l0 0l-43 -15zM2363 2601l43 11l0 0l-43 -12zM2363 2600l43 12l0 -1l-43 -12zM2363 2602l42 13l0 -3l-42 -13z"/>
<path fill="#c09c8d" d="M2398 2609l43 12l0 -1l-43 -13zM2398 2607l43 13l-1 1l-42 -14zM2398 2607l42 14l0 3l-42 -17z"/>
<path fill="#c39c90" d="M2433 2618l42 15l0 -1l-42 -15zM2433 2617l42 15l0 1l-42 -14zM2433 2619l42 16l0 0l-42 -14zM2433 2621l42 14l0 0l-42 -12z"/>
<path fill="#edc6b7" d="M2468 2631l43 13l0 -3l-43 -12z"/>
<path fill="#ffdbc9" d="M2503 2642l44 9l0 -3l-44 -9zM2503 2643l43 10l1 -6l-44 -8zM2503 2643l43 10l1 -4l-44 -8zM2503 2641l44 8l0 -2l-44 -8zM2503 2639l44 8l0 1l-44 -10zM2503 2642l43 10l1 -3l-44 -9z"/>
<path fill="#ffd2c3" d="M2539 2650l44 8l0 -4l-44 -8zM2539 2651l44 8l0 -4l-44 -9zM2539 2652l43 7l1 -5l-44 -7zM2539 2650l44 8l0 -3l-44 -8zM2539 2647l44 8l0 0l-44 -8z"/>
<path fill="#ffcfc3" d="M2575 2657l44 8l0 -4l-44 -8zM2575 2653l44 9l1 -3l-45 -7zM2575 2658l44 7l0 -3l-44 -9zM2575 2658l44 9l0 -4l-44 -7zM2575 2656l44 8l0 -4l-44 -7zM2575 2654l44 7l1 -2l-45 -5z"/>
<path fill="#ffd2c9" d="M2611 2663l45 8l0 -2l-45 -9zM2611 2660l45 9l0 0l-44 -11zM2611 2664l45 7l0 -5l-45 -4zM2611 2666l44 8l1 -4l-45 -8zM2611 2662l45 9l0 -4l-44 -8zM2611 2659l45 8l0 -3l-44 -6z"/>
<path fill="#f0ccc0" d="M2648 2670l45 7l0 0l-45 -10z"/>
<path fill="#b7e7d8" d="M911 2722l21 4l10 -20l-20 -2z"/>
<path fill="#bdf0e1" d="M927 2724l13 9l11 -19l-13 -10z"/>
<path fill="#baeadb" d="M936 2731l14 6l11 -18l-14 -7z"/>
<path fill="#b7e4d5" d="M945 2736l24 -3l11 -16l-24 2z"/>
<path fill="#bdeadb" d="M963 2734l19 1l11 -16l-19 -3z"/>
<path fill="#c0eddb" d="M976 2734l15 5l12 -18l-15 -3z"/>
<path fill="#baead8" d="M986 2738l21 0l10 -20l-20 3z"/>
<path fill="#b4e7d5" d="M1001 2739l19 -2l10 -23l-18 5z"/>
<path fill="#a8e1cc" d="M1026 2738l17 -1l11 -22l-17 1zM1034 2722l17 0l9 -27l-16 0z"/>
<path fill="#a2dbc6" d="M1039 2737l16 4l10 -24l-16 -2z"/>
<path fill="#9cd5c0" d="M1051 2739l14 9l10 -25l-14 -7z"/>
<path fill="#96ccb4" d="M1061 2745l16 7l10 -24l-16 -7z"/>
<path fill="#8dc0ab" d="M1073 2751l19 2l10 -24l-20 -2z"/>
<path fill="#8abda5" d="M1087 2753l21 -2l9 -24l-20 2z"/>
<path fill="#87bda5" d="M1103 2751l17 0l9 -26l-16 2z"/>
<path fill="#8dbda5" d="M1116 2751l13 0l10 -23l-14 -3z"/>
<path fill="#93c0a8" d="M1125 2751l17 0l10 -20l-17 -4z"/>
<path fill="#90bda5" d="M1136 2751l21 -2l11 -18l-21 0z"/>
<path fill="#8db7a2" d="M1151 2749l22 -1l10 -18l-21 1z"/>
<path fill="#84ab96" d="M1167 2748l22 -2l11 -19l-23 3z"/>
<path fill="#789f8a" d="M1183 2747l26 -4l10 -20l-26 5z"/>
<path fill="#7ba28d" d="M1203 2743l14 7l10 -21l-13 -7z"/>
<path fill="#99b7a2" d="M1215 2747l4 15l10 -21l-4 -16z"/>
<path fill="#a2baa5" d="M1215 2760l22 -3l10 -18l-22 0z"/>
<path fill="#8aa290" d="M1231 2758l32 -13l10 -15l-33 11z"/>
<path fill="#819987" d="M1256 2748l29 -8l10 -17l-29 9z"/>
<path fill="#7e9684" d="M1279 2742l28 -8l10 -17l-29 8z"/>
<path fill="#7b9684" d="M1301 2736l32 -12l9 -15l-32 11z"/>
<path fill="#81a590" d="M1326 2727l30 -9l9 -16l-30 9zM1222 2733l4 14l10 -29l-4 -15z"/>
<path fill="#90b49c" d="M1349 2720l23 -4l9 -19l-22 7z"/>
<path fill="#849c8a" d="M1365 2717l32 -12l8 -19l-31 14z"/>
<path fill="#6c7e6f" d="M1390 2708l38 -18l8 -19l-38 19z"/>
<path fill="#6c7e6c" d="M1420 2693l31 -9l9 -18l-31 7z"/>
<path fill="#788a78" d="M1444 2685l27 -3l9 -18l-27 3z"/>
<path fill="#81907e" d="M1465 2683l25 -3l9 -17l-25 1z"/>
<path fill="#7e8a78" d="M1484 2681l29 -8l9 -15l-30 6z"/>
<path fill="#757e6f" d="M1506 2675l36 -16l8 -14l-35 16zM1535 2663l33 -14l8 -15l-33 14z"/>
<path fill="#757b6c" d="M1561 2652l28 -9l8 -18l-28 11z"/>
<path fill="#6c7263" d="M1582 2646l33 -14l8 -19l-33 15z"/>
<path fill="#636657" d="M1608 2635l35 -15l7 -19l-34 15zM1663 2612l36 -17l8 -13l-37 14zM1453 2211l26 -4l37 -20l-24 17zM1611 2198l24 -24l24 -17l-23 7zM1351 2153l13 4l44 -22l-13 -13zM1361 2157l14 -18l45 6l-14 -11zM1337 2063l13 16l42 -37l-11 3z"/>
<path fill="#606357" d="M1636 2623l34 -13l7 -17l-34 10zM1508 2238l28 -8l27 -31l-26 5zM1531 2232l25 -13l27 -25l-24 6zM1552 2204l26 -6l27 -2l-23 -10zM1590 2205l27 -20l24 -15l-25 24zM1610 2188l34 -14l22 -6l-32 5zM1474 2208l25 -4l35 -12l-23 -4zM1629 2176l32 -6l21 -7l-29 -4zM1485 2207l24 -17l35 4l-22 -28zM1671 2169l26 -24l18 -10l-24 0zM1373 2140l15 17l43 -38l-13 26zM1387 2156l13 9l41 -39l-13 -7zM1685 2135l23 4l20 -26l-21 1zM1357 2117l13 12l42 -32l-12 -6zM1673 2124l19 1l26 -12l-17 7zM1373 2111l13 4l41 -44l-12 15z"/>
<path fill="#666657" d="M1692 2598l38 -19l7 -13l-37 19z"/>
<path fill="#666354" d="M1723 2583l36 -18l7 -15l-36 19z"/>
<path fill="#665d51" d="M1752 2569l36 -19l7 -17l-36 20z"/>
<path fill="#66574e" d="M1781 2554l39 -24l7 -17l-39 24z"/>
<path fill="#66544b" d="M1814 2534l37 -20l7 -18l-38 21z"/>
<path fill="#695148" d="M1844 2517l34 -13l7 -20l-34 15z"/>
<path fill="#7b5a51" d="M1871 2506l35 -9l0 -4l-27 -8z"/>
<path fill="#b48178" d="M1899 2494l16 17l0 -2l-16 -19z"/>
<path fill="#dea293" d="M1909 2507l18 7l0 -3l-18 -7zM1909 2505l18 8l0 -4l-18 -7zM1909 2503l18 7l0 -2l-18 -9zM1909 2501l18 8l0 -6l-18 -7zM1908 2508l19 2l0 1l-18 -7zM1908 2508l19 4l0 -2l-18 -6zM1909 2504l17 8l1 -2l-18 -10z"/>
<path fill="#cc968a" d="M1919 2512l18 3l1 -3l-19 -3zM1919 2508l18 7l0 -3l-18 -3zM1919 2510l19 3l0 -3l-19 -2zM1919 2510l19 2l0 1l-19 -5z"/>
<path fill="#dea896" d="M1940 2514l19 2l0 -2l-19 -2zM1940 2513l19 2l0 -4l-18 -3zM1940 2516l19 2l0 -2l-19 -2zM1940 2515l19 2l0 -2l-19 -4zM1940 2516l19 0l0 -2l-19 0z"/>
<path fill="#dbab99" d="M1962 2517l18 4l0 -4l-18 -3zM1973 2519l18 5l0 -3l-18 -6zM1962 2515l18 4l0 -4l-18 -3zM1973 2517l18 6l0 -5l-18 -5zM1962 2520l18 3l0 -3l-18 -2zM1962 2517l18 6l0 -1l-18 -6zM1972 2521l19 5l0 -2l-18 -4zM1962 2517l18 6l0 -5l-18 -5zM1973 2521l18 4l0 -4l-18 -5zM1962 2515l18 5l0 -5l-18 -4zM1973 2518l18 4l0 -3l-18 -6zM1962 2517l18 3l0 -5l-18 -2zM1973 2519l18 4l0 -5l-18 -4z"/>
<path fill="#c69f8d" d="M1984 2521l18 8l0 -3l-18 -7zM1984 2517l18 7l0 -2l-18 -6zM1983 2519l19 5l0 1l-19 -6zM1983 2519l19 6l0 -3l-19 -5zM1983 2517l19 5l0 2l-19 -3z"/>
<path fill="#c6a290" d="M1994 2526l40 11l0 -3l-40 -10zM1994 2524l40 5l0 2l-40 -9zM1994 2522l40 9l0 1l-40 -11zM1994 2521l40 8l1 -3l-41 -8z"/>
<path fill="#d5b7a2" d="M2026 2535l41 9l0 -3l-41 -9zM2026 2533l41 8l0 -3l-40 -9zM2027 2530l40 9l0 -3l-40 -8zM2026 2531l41 8l0 -4l-40 -7zM2027 2531l40 10l0 -2l-40 -9zM2027 2530l40 9l0 -3l-40 -8zM2027 2528l40 8l0 0l-40 -7zM2027 2529l40 7l0 -1l-40 -8zM2027 2528l40 8l0 -3l-40 -9z"/>
<path fill="#d2bda5" d="M2059 2542l41 7l0 -2l-41 -8zM2059 2540l41 8l0 -3l-41 -9zM2059 2537l41 9l0 -3l-41 -8zM2059 2535l41 8l0 -2l-41 -7zM2059 2536l41 9l0 -5l-41 -7zM2059 2539l41 8l0 -2l-41 -8zM2059 2537l41 9l0 -2l-41 -10zM2059 2535l41 9l0 -1l-41 -8zM2059 2535l41 9l0 -1l-41 -9zM2059 2534l41 9l0 -1l-41 -10zM2059 2532l41 11l0 -1l-41 -11z"/>
<path fill="#c0b199" d="M2092 2548l41 6l0 -1l-41 -7zM2092 2542l41 8l0 -4l-41 -7zM2092 2544l41 11l0 -3l-41 -8zM2092 2545l41 8l0 -1l-41 -6zM2092 2546l41 6l0 0l-41 -8zM2092 2542l41 11l0 -1l-41 -10zM2092 2541l41 10l0 0l-41 -10z"/>
<path fill="#9f937e" d="M2125 2553l41 4l0 0l-41 -5z"/>
<path fill="#9f9681" d="M2159 2556l41 6l0 0l-41 -6zM2159 2556l41 6l0 2l-41 -7zM2159 2554l41 10l0 2l-41 -9zM2159 2553l41 9l0 3l-41 -9z"/>
<path fill="#b7a893" d="M2226 2566l42 8l0 2l-42 -10zM2226 2571l42 8l0 1l-42 -9zM2226 2569l42 7l0 0l-42 -7z"/>
<path fill="#dbbda8" d="M2329 2590l42 11l0 -2l-42 -11zM2329 2591l42 9l0 -2l-42 -8zM2329 2591l42 11l0 -1l-42 -12zM2329 2588l42 14l0 -2l-42 -11zM2329 2590l42 10l0 0l-42 -9z"/>
<path fill="#e4b4a5" d="M2468 2630l43 11l0 1l-43 -11zM2467 2634l44 11l0 0l-44 -11zM2468 2632l43 12l0 1l-43 -12zM2468 2633l43 11l0 0l-44 -10zM2468 2633l43 12l0 -1l-43 -11zM2468 2632l43 9l0 1l-43 -11zM2468 2633l42 13l1 -1l-43 -13zM2468 2629l43 10l0 0l-43 -11z"/>
<path fill="#f0c0b4" d="M2539 2647l44 7l0 -1l-44 -6zM2539 2648l44 7l0 0l-44 -9zM2539 2649l44 10l0 -2l-44 -7z"/>
<path fill="#e4baae" d="M2648 2668l45 9l-1 2l-44 -12zM2648 2672l44 10l0 0l-44 -11zM2648 2666l45 6l0 1l-45 -6zM2647 2672l45 10l0 -1l-45 -8z"/>
<path fill="#c9f3e7" d="M919 2709l20 2l11 -20l-21 -3z"/>
<path fill="#ccf9ea" d="M935 2710l13 10l10 -24l-12 -7z"/>
<path fill="#c3edde" d="M944 2718l14 7l10 -26l-14 -5z"/>
<path fill="#bde4d8" d="M954 2724l23 -2l9 -25l-23 2z"/>
<path fill="#c6ede1" d="M972 2722l17 3l10 -28l-18 0zM1010 2675l17 -1l7 -47l-17 1z"/>
<path fill="#c9f0e4" d="M986 2724l13 3l9 -27l-13 -4zM953 2701l12 5l8 -37l-12 -7zM1016 2635l17 0l6 -58l-17 -2z"/>
<path fill="#bdeddb" d="M995 2727l19 -3l9 -27l-19 3z"/>
<path fill="#b7ead8" d="M1010 2725l17 -4l10 -27l-18 3z"/>
<path fill="#b1e7d5" d="M1023 2721l15 1l10 -27l-15 -1z"/>
<path fill="#9fdbc6" d="M1047 2721l15 3l10 -27l-16 -2z"/>
<path fill="#99d2bd" d="M1059 2723l13 6l9 -27l-13 -6z"/>
<path fill="#8dc6b1" d="M1068 2728l16 6l10 -28l-16 -6z"/>
<path fill="#7eb49f" d="M1080 2733l20 2l9 -30l-20 0z"/>
<path fill="#78b199" d="M1095 2735l20 -2l9 -29l-20 1z"/>
<path fill="#75b199" d="M1111 2734l16 -2l9 -30l-16 2z"/>
<path fill="#7bb49c" d="M1123 2732l13 2l10 -27l-14 -5z"/>
<path fill="#7eb199" d="M1133 2733l16 4l10 -23l-17 -8z"/>
<path fill="#7eae99" d="M1144 2737l21 -1l9 -24l-20 1z"/>
<path fill="#78ab93" d="M1160 2737l20 -2l9 -29l-20 7z"/>
<path fill="#6f9c87" d="M1175 2736l21 -4l10 -26l-22 1z"/>
<path fill="#63907e" d="M1191 2733l25 -5l9 -28l-25 7z"/>
<path fill="#66907b" d="M1212 2729l13 6l9 -29l-13 -6z"/>
<path fill="#87a28d" d="M1223 2745l21 -1l10 -24l-21 -4z"/>
<path fill="#6c8775" d="M1239 2745l31 -10l9 -25l-31 11z"/>
<path fill="#698472" d="M1264 2737l28 -9l9 -27l-28 11z"/>
<path fill="#63816f" d="M1287 2730l27 -8l9 -26l-28 7z"/>
<path fill="#5d7e6c" d="M1308 2724l32 -11l9 -25l-32 10z"/>
<path fill="#638d78" d="M1334 2716l29 -9l8 -26l-29 8z"/>
<path fill="#759f87" d="M1357 2709l21 -6l9 -28l-21 7z"/>
<path fill="#6f8d78" d="M1373 2705l30 -14l8 -27l-30 14z"/>
<path fill="#546c5d" d="M1397 2694l37 -19l8 -27l-37 19z"/>
<path fill="#51695a" d="M1428 2678l29 -7l8 -28l-29 7zM1479 2649l24 0l7 -39l-23 2z"/>
<path fill="#5d7563" d="M1452 2672l26 -3l8 -26l-26 1z"/>
<path fill="#697e6c" d="M1472 2669l25 -1l8 -25l-25 0z"/>
<path fill="#697566" d="M1491 2668l28 -5l9 -28l-29 9z"/>
<path fill="#5d665a" d="M1513 2664l36 -15l7 -25l-35 14zM1196 2295l15 3l11 -13l-15 -9z"/>
<path fill="#5d6657" d="M1542 2652l32 -14l8 -25l-32 14zM1580 2168l27 -17l29 4l-24 -11zM1522 2094l13 -12l39 -1l-12 -19zM1533 2081l13 25l38 -31l-12 5z"/>
<path fill="#60695a" d="M1568 2641l27 -11l8 -27l-27 12zM1619 2151l20 2l26 -16l-19 -6zM1647 2132l18 0l26 -35l-16 13zM1457 2105l13 4l41 -11l-13 -13zM1492 2089l12 13l39 -33l-12 -13zM1576 2103l12 -14l38 -10l-13 -7zM1596 2088l15 14l36 -14l-13 -18z"/>
<path fill="#5d6054" d="M1589 2632l32 -15l7 -27l-31 16zM1453 2254l29 -4l32 -41l-26 21zM1478 2251l35 -15l29 -33l-33 8zM1593 2224l34 -25l20 -28l-31 13zM1637 2177l31 -24l19 8l-28 10zM1676 2166l25 -10l18 -17l-24 4zM1686 2126l21 -10l24 2l-18 -4zM1683 2101l15 24l24 -34l-14 0zM1695 2124l16 -7l23 -17l-15 -10zM1690 2111l15 -18l26 -15l-14 10zM1714 2094l15 11l24 -31l-15 17zM1726 2104l15 8l21 -28l-13 -10z"/>
<path fill="#54574b" d="M1615 2620l34 -15l7 -26l-34 14zM1719 2121l20 -26l20 23l-17 -10z"/>
<path fill="#515148" d="M1642 2607l33 -10l8 -28l-33 13zM1682 2164l30 18l14 -35l-27 6z"/>
<path fill="#4e4e42" d="M1669 2599l36 -13l7 -30l-35 16z"/>
<path fill="#4b4b3f" d="M1699 2589l37 -20l7 -29l-37 19z"/>
<path fill="#4e4b3f" d="M1729 2573l35 -19l7 -29l-34 18z"/>
<path fill="#51483f" d="M1758 2557l36 -20l7 -24l-36 15zM1855 2112l24 41l0 -5l-17 -31z"/>
<path fill="#51453f" d="M1787 2540l39 -23l7 -23l-39 23z"/>
<path fill="#54453c" d="M1819 2521l38 -21l7 -20l-38 18z"/>
<path fill="#5a453f" d="M1850 2503l34 -15l7 -23l-34 18z"/>
<path fill="#c99084" d="M1899 2491l16 19l0 -3l-16 -17zM2468 2631l43 11l0 4l-44 -11zM1899 2490l16 18l0 -4l-16 -16zM1899 2498l16 13l0 -3l-16 -15zM2468 2631l43 11l-1 4l-42 -13zM1899 2496l16 16l0 -4l-16 -16zM2468 2628l43 11l0 2l-43 -12zM1899 2494l16 16l0 -3l-16 -15zM2468 2629l43 11l0 3l-43 -14zM1899 2494l16 14l0 -3l-16 -17z"/>
<path fill="#e1a596" d="M1919 2511l18 3l1 -6l-19 -1zM1919 2508l19 1l0 2l-19 -6zM1919 2507l18 5l0 -3l-17 -9zM1919 2511l19 2l0 -1l-19 -2zM1919 2509l18 6l0 -1l-18 -7zM1919 2508l18 7l0 -4l-18 -6zM1919 2506l18 6l0 -1l-18 -6z"/>
<path fill="#dea596" d="M1930 2513l18 1l0 -6l-18 0zM1930 2514l18 2l0 -4l-18 -1zM1930 2513l18 3l0 -1l-18 -3zM1930 2513l18 3l0 -2l-18 -5zM1930 2510l18 5l0 -1l-18 -5z"/>
<path fill="#dbae9c" d="M1984 2520l17 8l1 -6l-18 -7zM1983 2524l19 4l0 -4l-19 -1zM1983 2524l19 1l0 -2l-19 -4zM1983 2520l19 5l0 -2l-18 -7zM1983 2521l19 3l0 -2l-18 -5z"/>
<path fill="#d8b19c" d="M1994 2525l40 10l0 -4l-40 -10zM1994 2521l40 10l0 -1l-40 -10zM1994 2526l40 7l0 -4l-40 -6zM1994 2522l40 11l0 -1l-40 -10zM1994 2523l40 9l0 -3l-40 -8zM1994 2521l40 8l0 1l-40 -8zM1994 2522l40 8l0 -1l-40 -9z"/>
<path fill="#d2c0a8" d="M2092 2546l41 7l0 -1l-41 -8zM2092 2544l41 9l0 -4l-41 -8zM2092 2543l41 9l0 -5l-41 -9zM2092 2542l41 11l0 -2l-41 -10z"/>
<path fill="#c0b49c" d="M2125 2552l41 5l0 1l-41 -7zM2125 2546l41 10l0 0l-40 -12z"/>
<path fill="#908775" d="M2192 2560l42 8l0 3l-42 -9zM2226 2566l42 9l0 5l-42 -11zM2226 2569l42 11l0 0l-42 -10zM2192 2560l42 12l0 0l-42 -10zM2192 2562l42 10l0 1l-42 -9zM2192 2560l42 7l0 3l-42 -6zM2226 2565l42 9l0 2l-42 -7z"/>
<path fill="#968778" d="M2260 2573l42 9l0 6l-42 -10zM2260 2576l42 6l0 2l-42 -6zM2260 2571l42 10l0 2l-42 -10zM2260 2573l42 10l0 1l-42 -9zM2260 2574l42 9l0 2l-42 -9zM2260 2575l42 9l0 6l-42 -13z"/>
<path fill="#998a78" d="M2294 2581l43 9l-1 3l-42 -7zM2294 2582l43 7l-1 4l-42 -8zM2294 2579l42 12l0 1l-42 -11zM2294 2581l43 9l-1 3l-42 -10zM2294 2582l42 10l0 8l-42 -12z"/>
<path fill="#cf9084" d="M2503 2640l44 8l0 2l-44 -6zM2503 2640l44 10l-1 4l-43 -11zM2503 2640l44 9l-1 5l-43 -10zM2503 2637l44 11l0 1l-44 -10zM2503 2638l44 11l0 2l-44 -10z"/>
<path fill="#d29c93" d="M2539 2647l44 6l0 1l-44 -5zM2539 2649l44 5l0 0l-44 -6zM2539 2648l44 6l0 1l-44 -7zM2539 2649l44 7l0 0l-44 -7zM2539 2649l44 7l0 2l-44 -10zM2575 2656l44 9l0 0l-44 -6zM2575 2653l44 9l0 3l-44 -9zM2575 2655l44 10l0 0l-44 -6zM2575 2655l44 11l0 -2l-44 -11zM2539 2645l44 10l0 2l-44 -11zM2575 2653l44 11l0 2l-44 -11zM2539 2647l44 11l-1 1l-43 -10z"/>
<path fill="#e4b1a5" d="M2612 2658l44 11l0 -1l-44 -11zM2611 2662l45 5l0 1l-45 -7zM2611 2664l45 7l0 -1l-45 -7z"/>
<path fill="#d5a89c" d="M2648 2667l44 12l0 0l-44 -13zM2648 2666l44 13l0 1l-44 -12zM2648 2668l44 11l0 0l-44 -10zM2648 2670l45 7l0 0l-45 -8zM2648 2669l45 8l-1 2l-44 -10zM2648 2670l44 12l0 1l-45 -10zM2648 2671l44 10l0 1l-45 -9z"/>
<path fill="#d2f6ed" d="M928 2694l19 3l8 -37l-19 1z"/>
<path fill="#d8fcf3" d="M944 2696l11 6l8 -39l-11 -4z"/>
<path fill="#c3e4d8" d="M962 2706l21 -3l8 -39l-21 5z"/>
<path fill="#cfede4" d="M980 2704l16 -1l8 -37l-16 -2z"/>
<path fill="#cff3e7" d="M994 2703l12 4l8 -39l-13 -3z"/>
<path fill="#c0eade" d="M1003 2706l18 -2l8 -38l-18 2z"/>
<path fill="#b7eadb" d="M1018 2704l16 -3l8 -37l-16 3zM1025 2674l16 -2l7 -46l-16 1z"/>
<path fill="#b1ead8" d="M1031 2701l14 1l9 -35l-15 -3z"/>
<path fill="#a5e1cf" d="M1042 2702l16 0l8 -33l-15 -3z"/>
<path fill="#9cdbc6" d="M1055 2702l14 2l9 -34l-15 -2z"/>
<path fill="#93d2bd" d="M1066 2703l13 6l8 -36l-12 -3z"/>
<path fill="#84c3ae" d="M1076 2707l15 6l8 -37l-14 -4z"/>
<path fill="#75b19c" d="M1088 2712l18 0l8 -38l-18 2z"/>
<path fill="#69a590" d="M1103 2712l19 -1l8 -38l-19 1z"/>
<path fill="#66a58d" d="M1118 2711l16 -2l8 -32l-16 -4z"/>
<path fill="#69a890" d="M1131 2709l13 5l8 -36l-13 -2z"/>
<path fill="#69a58d" d="M1141 2713l15 7l8 -38l-15 -4z"/>
<path fill="#699f8a" d="M1153 2719l19 0l7 -39l-18 2z"/>
<path fill="#639c84" d="M1168 2720l19 -7l8 -38l-19 6z"/>
<path fill="#5a8d78" d="M1183 2714l20 -1l8 -38l-20 1z"/>
<path fill="#4e816c" d="M1199 2713l24 -6l8 -33l-24 1zM1206 2364l20 3l8 -43l-19 12z"/>
<path fill="#51816c" d="M1219 2707l12 6l9 -38l-13 -1z"/>
<path fill="#6c9681" d="M1230 2711l3 14l9 -36l-4 -16z"/>
<path fill="#6f907b" d="M1231 2723l20 3l8 -39l-20 1z"/>
<path fill="#546f60" d="M1247 2726l30 -10l7 -40l-29 13z"/>
<path fill="#516f60" d="M1272 2718l27 -11l8 -37l-27 8z"/>
<path fill="#4b6f5d" d="M1294 2709l27 -6l8 -38l-27 6z"/>
<path fill="#45695a" d="M1316 2704l30 -11l8 -37l-30 10z"/>
<path fill="#487563" d="M1342 2695l27 -8l8 -39l-28 9z"/>
<path fill="#578472" d="M1365 2689l19 -7l8 -36l-19 3zM1237 2682l3 14l7 -50l-3 -9z"/>
<path fill="#547866" d="M1380 2683l30 -13l7 -34l-29 11z"/>
<path fill="#3c574b" d="M1404 2672l37 -19l7 -29l-36 14zM1486 2619l23 -2l7 -46l-23 -2zM1298 2316l33 -3l10 -16l-33 14z"/>
<path fill="#395445" d="M1435 2656l29 -7l8 -32l-29 9z"/>
<path fill="#456051" d="M1459 2650l25 -1l7 -37l-24 6z"/>
<path fill="#546354" d="M1498 2650l27 -9l8 -37l-27 7z"/>
<path fill="#485448" d="M1520 2643l34 -13l8 -38l-34 14zM1506 2276l26 -6l9 -28l-27 21z"/>
<path fill="#454e42" d="M1549 2632l31 -14l7 -35l-30 11z"/>
<path fill="#4b5148" d="M1575 2621l26 -12l7 -34l-26 10zM1609 2220l33 -4l8 -21l-33 10zM1338 2273l30 4l9 -9l-29 20z"/>
<path fill="#484e45" d="M1596 2611l31 -15l7 -34l-31 15zM1489 2250l30 16l8 -37l-29 31zM1581 2229l35 -11l8 -15l-35 8z"/>
<path fill="#42483c" d="M1621 2598l33 -13l8 -34l-33 13z"/>
<path fill="#3f4239" d="M1649 2587l32 -12l7 -38l-32 16z"/>
<path fill="#3c3f36" d="M1676 2577l35 -15l7 -40l-35 18zM1703 2205l34 -17l7 -18l-33 11z"/>
<path fill="#393930" d="M1705 2565l36 -19l7 -38l-35 17z"/>
<path fill="#3c3930" d="M1736 2548l34 -18l7 -33l-34 13z"/>
<path fill="#3f3933" d="M1764 2533l35 -15l7 -33l-35 14z"/>
<path fill="#423630" d="M1793 2521l38 -22l7 -29l-38 18zM1825 2502l37 -18l7 -32l-37 21z"/>
<path fill="#483933" d="M1856 2488l33 -18l7 -32l-33 17z"/>
<path fill="#815d57" d="M1885 2468l18 29l0 -2l-11 -59z"/>
<path fill="#ba8a7e" d="M1941 2508l18 3l0 3l-19 -3zM1930 2509l18 3l0 2l-18 -8zM1930 2512l18 1l0 -1l-18 -3zM1930 2513l18 2l0 -3l-18 -1zM1940 2513l19 1l0 -1l-19 -2zM1930 2513l18 2l0 1l-18 -3zM1940 2514l19 1l0 1l-19 -1zM1940 2513l19 2l0 1l-19 -3z"/>
<path fill="#d2c3ab" d="M2125 2551l41 7l1 -2l-42 -8zM2125 2550l41 9l0 -3l-41 -11zM2125 2553l41 9l0 -3l-41 -8zM2125 2551l41 9l0 -1l-41 -8zM2125 2552l41 8l1 -4l-42 -5zM2125 2551l41 9l0 -1l-41 -10z"/>
<path fill="#9f9684" d="M2192 2562l42 9l0 1l-42 -10zM2192 2562l42 10l0 0l-42 -12z"/>
<path fill="#a89987" d="M2260 2578l42 9l0 0l-42 -8zM2260 2578l42 5l0 3l-42 -7zM2260 2572l42 9l0 0l-42 -10z"/>
<path fill="#f6cfba" d="M2363 2598l43 12l0 -2l-43 -12zM2363 2600l42 13l1 -1l-43 -13zM2363 2600l42 13l1 -4l-43 -11zM2363 2598l43 12l0 -1l-43 -11zM2363 2598l43 11l0 0l-43 -11zM2363 2598l43 11l0 -4l-43 -9z"/>
<path fill="#e7bdab" d="M2398 2607l42 17l0 -1l-42 -17z"/>
<path fill="#d8ae9f" d="M2433 2621l42 16l0 0l-42 -17zM2433 2621l42 14l0 1l-42 -13zM2433 2620l42 13l0 2l-42 -14z"/>
<path fill="#c38a81" d="M2575 2653l45 6l-1 2l-44 -8zM2575 2653l44 7l0 2l-44 -9zM2575 2653l44 9l0 2l-44 -9zM2575 2655l44 9l0 0l-44 -9zM2575 2655l44 9l0 1l-44 -9zM2575 2653l44 10l0 3l-44 -11zM2575 2655l44 11l0 2l-44 -12z"/>
<path fill="#c68d84" d="M2612 2657l44 11l0 2l-44 -11zM2612 2659l44 11l0 1l-45 -10zM2611 2660l45 11l-1 3l-44 -12zM2611 2660l45 7l0 4l-45 -7zM2611 2661l44 11l0 2l-44 -10zM2611 2664l44 10l0 -1l-44 -11zM2611 2662l44 11l0 1l-44 -10z"/>
<path fill="#dbf9f3" d="M936 2668l17 -1l7 -50l-18 2z"/>
<path fill="#e1fffc" d="M951 2667l10 4l7 -50l-11 -4z"/>
<path fill="#d2f3ea" d="M960 2670l12 6l6 -51l-12 -5z"/>
<path fill="#c9e4de" d="M969 2676l21 -5l6 -47l-20 1z"/>
<path fill="#d5f0ea" d="M987 2671l16 2l6 -47l-16 -2zM980 2578l20 2l5 -68l-20 3zM1020 2460l11 -2l6 -62l-12 -5z"/>
<path fill="#d8f9f0" d="M1000 2673l12 2l7 -47l-12 -3z"/>
<path fill="#aeead8" d="M1038 2672l14 2l7 -46l-14 -2zM1045 2634l13 1l5 -65l-13 2z"/>
<path fill="#a2e1cc" d="M1050 2674l14 2l7 -51l-14 3z"/>
<path fill="#96d8c6" d="M1062 2676l14 2l7 -45l-14 -8z"/>
<path fill="#8ad2bd" d="M1074 2677l12 3l7 -47l-12 -1z"/>
<path fill="#7bc0ab" d="M1083 2680l15 3l7 -48l-14 -2z"/>
<path fill="#69ab96" d="M1095 2683l18 -2l6 -49l-17 4z"/>
<path fill="#5d9f8a" d="M1110 2682l18 -1l7 -50l-18 2z"/>
<path fill="#549c84" d="M1126 2681l14 3l7 -52l-15 -1z"/>
<path fill="#579f87" d="M1138 2684l12 2l7 -51l-12 -3z"/>
<path fill="#5a9c84" d="M1148 2685l14 4l7 -49l-14 -5z"/>
<path fill="#579681" d="M1160 2689l18 -2l6 -55l-17 8z"/>
<path fill="#54907b" d="M1175 2688l18 -5l7 -48l-18 -3zM1136 2414l18 -7l8 -33l-20 -18z"/>
<path fill="#487e6c" d="M1190 2683l20 -1l7 -46l-20 -1z"/>
<path fill="#3c7260" d="M1206 2682l23 -1l7 -48l-23 3zM1226 2681l12 2l7 -45l-12 -5z"/>
<path fill="#5a816f" d="M1239 2695l18 -1l7 -50l-18 2z"/>
<path fill="#426354" d="M1254 2695l29 -12l7 -47l-29 9zM1239 2374l23 -7l8 -37l-23 7zM1406 2336l19 2l8 -46l-20 -3z"/>
<path fill="#3c6054" d="M1279 2684l26 -7l7 -43l-26 3z"/>
<path fill="#396051" d="M1301 2678l26 -7l7 -47l-25 11z"/>
<path fill="#335d4e" d="M1323 2673l30 -10l7 -49l-30 12zM1286 2376l31 -21l9 -22l-31 11z"/>
<path fill="#336654" d="M1349 2664l26 -9l7 -49l-26 9zM1248 2465l12 7l6 -68l-12 -3z"/>
<path fill="#3f7260" d="M1372 2656l19 -3l7 -48l-19 1zM1217 2421l19 -6l7 -48l-19 -8z"/>
<path fill="#3c6657" d="M1387 2654l29 -12l7 -46l-29 10z"/>
<path fill="#2a483c" d="M1411 2644l36 -14l6 -49l-35 17z"/>
<path fill="#274539" d="M1442 2632l28 -8l7 -48l-28 6z"/>
<path fill="#305142" d="M1466 2625l24 -6l7 -51l-24 9z"/>
<path fill="#3f5145" d="M1505 2618l26 -7l7 -47l-26 7z"/>
<path fill="#364239" d="M1527 2612l33 -14l7 -45l-33 12z"/>
<path fill="#303c33" d="M1556 2600l30 -10l7 -44l-30 8z"/>
<path fill="#363c36" d="M1581 2592l26 -11l7 -45l-25 12zM1644 2232l32 -23l8 -19l-32 18z"/>
<path fill="#363c33" d="M1603 2583l29 -15l8 -46l-30 17z"/>
<path fill="#30362d" d="M1628 2570l32 -13l7 -47l-32 14z"/>
<path fill="#30332d" d="M1656 2559l31 -15l7 -44l-31 12z"/>
<path fill="#2d302a" d="M1682 2546l35 -17l7 -47l-35 20z"/>
<path fill="#2a2a24" d="M1712 2531l35 -17l7 -44l-35 14zM1749 2229l35 -18l7 -43l-35 14z"/>
<path fill="#2d2a24" d="M1742 2516l33 -13l7 -44l-33 12z"/>
<path fill="#302a27" d="M1771 2505l34 -13l7 -46l-34 15z"/>
<path fill="#332a27" d="M1800 2494l37 -18l7 -45l-37 17zM1872 2170l13 136l0 5l-8 -175zM1877 2137l8 174l0 -1l-8 -166z"/>
<path fill="#362a27" d="M1832 2479l35 -21l7 -45l-35 20zM1884 2298l9 150l0 4l-9 -149z"/>
<path fill="#3c302a" d="M1862 2460l33 -17l0 4l-26 -34zM1885 2295l8 156l0 -2l-9 -147z"/>
<path fill="#6c5148" d="M1892 2438l11 57l0 0l-11 -53z"/>
<path fill="#936f66" d="M1941 2510l18 2l0 5l-19 -5zM1941 2511l18 5l0 3l-19 -6zM1941 2512l18 6l0 2l-18 -7zM1941 2511l18 2l0 5l-19 -4z"/>
<path fill="#937266" d="M1951 2511l19 2l-1 6l-18 -3zM1962 2512l18 2l0 6l-18 -2zM1973 2513l18 5l0 3l-18 -3zM1951 2514l19 3l-1 4l-18 -4zM1962 2516l18 2l0 3l-18 -1zM1973 2517l18 2l0 3l-19 -1zM1973 2518l18 4l0 5l-18 -5zM1951 2513l19 2l0 1l-19 -3zM1962 2514l19 2l-1 2l-18 -3zM1973 2514l18 4l0 2l-18 -4zM1951 2512l19 4l0 2l-19 -5zM1962 2514l18 3l0 2l-18 -3zM1973 2516l18 3l0 2l-18 -3zM1951 2512l19 4l-1 5l-18 -5zM1951 2514l19 0l0 4l-19 -3zM1962 2513l18 1l0 9l-18 -6zM1973 2513l18 4l0 9l-18 -5z"/>
<path fill="#b49384" d="M1994 2520l40 10l0 -1l-40 -9zM1994 2523l40 9l0 -1l-40 -7zM1994 2524l40 7l0 -2l-40 -5zM1994 2526l40 6l0 0l-40 -6zM1994 2522l40 10l0 -1l-40 -11zM1994 2523l40 11l0 -1l-40 -11z"/>
<path fill="#aea28d" d="M2125 2548l41 8l1 -3l-42 -8zM2125 2548l42 8l-1 3l-41 -9zM2125 2553l41 10l0 -1l-41 -9zM2125 2551l42 5l0 1l-42 -7zM2125 2551l41 9l0 0l-41 -9zM2125 2550l41 9l0 -1l-41 -8z"/>
<path fill="#a59984" d="M2226 2570l42 10l0 0l-42 -10z"/>
<path fill="#ccbda5" d="M2260 2579l42 8l0 -1l-42 -8zM2260 2578l42 8l0 0l-42 -9zM2260 2573l42 8l0 -1l-42 -8z"/>
<path fill="#d2bda8" d="M2294 2586l42 6l1 -1l-43 -6zM2294 2585l42 8l0 0l-42 -9zM2294 2582l42 9l1 -2l-43 -9zM2294 2585l42 9l0 -1l-42 -10zM2294 2581l42 10l0 1l-42 -12zM2294 2580l42 12l0 0l-41 -13zM2295 2579l41 13l0 -1l-41 -12zM2294 2582l42 10l0 0l-42 -10z"/>
<path fill="#ccab9c" d="M2363 2596l43 12l0 1l-43 -12zM2363 2599l43 13l-1 1l-42 -13zM2363 2597l43 8l0 -1l-43 -9z"/>
<path fill="#d2ab9c" d="M2398 2606l42 17l0 -1l-42 -15zM2398 2609l42 14l0 2l-42 -14zM2398 2609l42 14l0 1l-42 -15zM2398 2610l42 15l0 -2l-42 -13zM2398 2608l42 14l0 -1l-42 -12zM2398 2612l42 12l0 -2l-42 -12zM2398 2603l43 14l0 0l-43 -15z"/>
<path fill="#eac0ae" d="M2433 2620l42 17l0 -2l-42 -16zM2433 2623l42 12l0 -1l-42 -13zM2433 2619l42 16l0 -2l-42 -14zM2433 2622l42 11l1 -2l-43 -11z"/>
<path fill="#ffd8c6" d="M2467 2635l44 10l0 -1l-43 -12zM2468 2633l43 11l0 -3l-43 -9zM2468 2632l43 13l0 -2l-43 -12zM2468 2631l43 12l0 -3l-43 -9zM2468 2632l43 9l0 -2l-43 -9zM2468 2630l43 9l0 0l-43 -10z"/>
<path fill="#f0c9b7" d="M2503 2643l44 7l0 -1l-44 -7zM2503 2638l44 10l0 -1l-44 -10z"/>
<path fill="#def9f6" d="M941 2627l17 -3l6 -54l-17 0zM947 2578l17 0l4 -72l-17 1z"/>
<path fill="#eaffff" d="M957 2624l10 5l6 -54l-10 -5zM962 2578l10 5l4 -77l-10 0z"/>
<path fill="#def6f3" d="M966 2628l11 4l6 -62l-11 5z"/>
<path fill="#cfeae4" d="M975 2632l20 -1l6 -59l-21 -2zM989 2462l19 -13l6 -61l-20 17z"/>
<path fill="#d8f3ed" d="M993 2631l15 3l6 -60l-16 -2zM955 2458l17 -5l5 -60l-17 5z"/>
<path fill="#dbfcf3" d="M1007 2633l11 3l6 -61l-12 -2z"/>
<path fill="#b7edde" d="M1031 2635l16 -1l5 -63l-15 6z"/>
<path fill="#9fdecf" d="M1056 2636l14 -3l6 -61l-15 -2zM1065 2519l14 2l6 -67l-14 -3z"/>
<path fill="#93d8c6" d="M1068 2633l14 7l6 -58l-14 -10z"/>
<path fill="#87cfbd" d="M1080 2640l11 1l6 -64l-11 4z"/>
<path fill="#75bdab" d="M1090 2640l14 3l5 -59l-14 -7z"/>
<path fill="#63a893" d="M1101 2643l17 -3l7 -54l-18 -2z"/>
<path fill="#549c87" d="M1116 2640l18 -2l6 -56l-18 4z"/>
<path fill="#4b9981" d="M1132 2638l14 2l6 -59l-14 1zM1144 2639l12 4l6 -61l-12 -1z"/>
<path fill="#4e967e" d="M1154 2643l14 4l6 -60l-14 -5z"/>
<path fill="#4b907b" d="M1166 2648l17 -9l7 -52l-18 -1zM1164 2404l12 16l7 -56l-12 -1z"/>
<path fill="#488a75" d="M1181 2640l18 2l6 -59l-17 4z"/>
<path fill="#3c7b66" d="M1197 2642l18 1l6 -66l-18 7z"/>
<path fill="#336c5a" d="M1213 2643l22 -2l6 -59l-22 -5z"/>
<path fill="#306957" d="M1233 2641l11 5l6 -63l-11 -2zM1378 2614l19 -1l6 -68l-18 10zM1218 2585l22 4l6 -66l-22 3zM1259 2472l3 4l6 -72l-3 0z"/>
<path fill="#427863" d="M1243 2645l3 9l7 -61l-4 -11z"/>
<path fill="#487260" d="M1245 2653l18 -2l6 -67l-18 9z"/>
<path fill="#335a4b" d="M1260 2652l29 -9l6 -56l-29 -2zM1416 2371l28 4l7 -61l-28 18z"/>
<path fill="#2d5748" d="M1286 2644l25 -3l6 -68l-25 15z"/>
<path fill="#2a5748" d="M1308 2642l25 -11l6 -57l-25 0z"/>
<path fill="#275445" d="M1329 2632l29 -11l7 -59l-29 13zM1399 2553l28 2l7 -68l-28 8zM1324 2465l25 -11l6 -71l-24 17z"/>
<path fill="#2a5d4e" d="M1355 2622l26 -9l6 -59l-26 10z"/>
<path fill="#2d5a4b" d="M1394 2613l27 -10l7 -55l-28 -2z"/>
<path fill="#213f36" d="M1418 2604l34 -16l7 -51l-35 12z"/>
<path fill="#1e3c30" d="M1449 2590l26 -6l7 -64l-27 18z"/>
<path fill="#244539" d="M1472 2585l23 -9l7 -55l-23 0z"/>
<path fill="#2d4b3c" d="M1493 2576l22 2l6 -63l-22 7z"/>
<path fill="#2d4539" d="M1512 2578l25 -7l7 -63l-26 8z"/>
<path fill="#27362d" d="M1534 2572l32 -12l7 -64l-33 13z"/>
<path fill="#212d27" d="M1563 2561l28 -8l7 -66l-29 10z"/>
<path fill="#242d27" d="M1588 2555l24 -11l7 -65l-24 9zM1609 2545l29 -16l7 -62l-29 13zM1585 2319l30 -8l8 -43l-30 6z"/>
<path fill="#212721" d="M1635 2531l31 -14l7 -63l-31 15z"/>
<path fill="#21241e" d="M1662 2518l31 -11l7 -60l-31 8z"/>
<path fill="#1e211e" d="M1689 2508l33 -19l7 -54l-33 14zM1686 2293l31 -17l8 -59l-32 30zM1713 2278l34 -16l7 -40l-34 -3z"/>
<path fill="#1e1e1b" d="M1718 2491l35 -15l7 -54l-35 15z"/>
<path fill="#211e1b" d="M1749 2478l32 -12l7 -61l-32 18zM1796 2292l33 -9l7 -63l-33 11z"/>
<path fill="#24211b" d="M1777 2467l33 -15l7 -58l-33 13z"/>
<path fill="#2a211e" d="M1806 2454l36 -16l8 -61l-37 19zM1845 2386l34 -17l7 -67l-34 19zM1851 2327l35 -19l1 -8l-29 -43zM1825 2285l37 -20l7 -51l-37 7z"/>
<path fill="#2d2421" d="M1838 2440l35 -20l7 -58l-35 17z"/>
<path fill="#3f302d" d="M1870 2418l24 31l0 -1l-17 -88zM1877 2365l16 83l0 0l-9 -148zM1884 2302l9 147l0 -1l-9 -150zM1884 2303l9 149l0 0l-9 -150zM1884 2300l9 153l0 0l-9 -148zM1884 2296l9 154l0 2l-9 -152z"/>
<path fill="#664b45" d="M1892 2442l11 52l0 3l-11 -57zM1892 2440l11 57l0 2l-11 -59zM1892 2445l11 55l0 3l-11 -58z"/>
<path fill="#996c63" d="M1899 2488l17 12l0 3l-17 -12z"/>
<path fill="#ba8a7b" d="M1920 2501l17 8l0 1l-17 -9zM1919 2508l19 2l-1 4l-18 -5zM1919 2509l18 5l0 -1l-18 -6zM1919 2510l19 3l0 0l-19 -2zM1919 2511l18 4l0 0l-18 -7z"/>
<path fill="#907566" d="M1983 2518l19 4l0 1l-19 -2zM1983 2520l19 2l0 4l-19 -4zM1983 2521l19 3l0 4l-19 -3zM1984 2516l18 6l0 3l-18 -7zM1984 2517l18 7l0 2l-18 -7zM1984 2515l18 3l0 6l-19 1z"/>
<path fill="#907569" d="M1994 2520l40 9l0 1l-40 -8zM1994 2521l40 9l0 2l-40 -8zM1994 2523l40 6l0 3l-40 -6zM1994 2520l40 11l0 2l-40 -11zM1994 2522l40 11l0 1l-40 -11z"/>
<path fill="#9f8a78" d="M2027 2527l40 8l0 1l-40 -8zM2027 2528l40 8l0 2l-40 -8zM2027 2529l40 9l0 1l-40 -9zM2027 2530l40 9l0 -1l-40 -9z"/>
<path fill="#8d8472" d="M2125 2545l42 8l-1 4l-41 -9zM2159 2552l41 10l0 2l-41 -9zM2125 2547l42 7l-1 4l-41 -8zM2125 2549l41 8l0 7l-41 -10zM2159 2555l41 9l0 6l-42 -8zM2125 2550l41 7l0 3l-41 -9zM2159 2555l41 6l0 4l-42 -6zM2125 2549l41 9l0 2l-41 -9zM2159 2557l41 7l0 1l-42 -6z"/>
<path fill="#c0ab96" d="M2294 2585l42 6l0 2l-42 -8z"/>
<path fill="#9f8a7b" d="M2329 2590l42 9l0 3l-42 -10zM2329 2588l42 12l0 2l-42 -11zM2329 2591l42 10l0 2l-43 -10zM2329 2588l42 8l0 4l-42 -9zM2329 2590l42 9l-1 8l-42 -9z"/>
<path fill="#a58a7b" d="M2363 2597l43 12l-1 3l-42 -12zM2364 2594l42 10l0 4l-43 -10zM2363 2597l43 10l-1 6l-42 -8z"/>
<path fill="#ab8a7e" d="M2398 2607l42 15l0 1l-42 -13zM2398 2609l42 14l0 2l-42 -15zM2398 2609l43 12l-1 3l-42 -12zM2398 2602l43 15l0 2l-43 -13zM2398 2605l43 14l-1 4l-42 -12z"/>
<path fill="#d8a596" d="M2503 2642l44 7l0 2l-44 -8zM2503 2637l44 10l0 1l-44 -10z"/>
<path fill="#c38a84" d="M2539 2648l44 7l0 1l-44 -7zM2539 2648l44 9l-1 3l-44 -8zM2539 2647l44 10l-1 3l-44 -7zM2539 2646l44 10l0 2l-44 -11z"/>
<path fill="#c6968a" d="M2648 2669l44 9l0 5l-44 -11zM2648 2666l45 7l0 5l-45 -8zM2648 2669l44 10l0 2l-44 -11zM2648 2669l44 12l0 1l-44 -11z"/>
<path fill="#e1f9f9" d="M971 2583l11 -5l5 -63l-12 -10z"/>
<path fill="#dbf3f0" d="M998 2580l15 1l5 -73l-15 4z"/>
<path fill="#defcf6" d="M1012 2581l11 2l5 -69l-12 -6z"/>
<path fill="#c9f0e7" d="M1021 2583l17 1l4 -74l-16 4z"/>
<path fill="#b7eade" d="M1036 2584l15 -5l6 -60l-16 -9z"/>
<path fill="#aeeadb" d="M1050 2579l12 -1l6 -67l-13 7z"/>
<path fill="#9fe1cf" d="M1061 2578l14 2l5 -67l-14 -2z"/>
<path fill="#90d8c6" d="M1073 2580l14 10l5 -72l-13 -6z"/>
<path fill="#84d2bd" d="M1086 2589l10 -4l6 -65l-11 -3zM1090 2525l11 3l5 -75l-11 7z"/>
<path fill="#72bdab" d="M1095 2585l14 7l4 -77l-13 5z"/>
<path fill="#5da590" d="M1107 2591l17 2l5 -69l-17 -9z"/>
<path fill="#4e9981" d="M1122 2593l17 -4l5 -68l-17 3z"/>
<path fill="#45967e" d="M1137 2590l14 -1l6 -66l-14 -2zM1150 2589l11 1l6 -67l-12 0zM1155 2530l11 1l5 -76l-11 9z"/>
<path fill="#45937b" d="M1160 2589l13 5l6 -66l-14 -5zM1142 2529l14 2l6 -66l-15 -15zM1169 2463l14 2l7 -47l-15 -7z"/>
<path fill="#428d75" d="M1172 2594l17 1l5 -72l-17 5zM1177 2536l17 -5l5 -67l-17 -8z"/>
<path fill="#428772" d="M1187 2595l17 -4l6 -66l-18 -2zM1196 2472l18 -10l7 -49l-18 -4z"/>
<path fill="#397863" d="M1202 2592l19 -7l6 -59l-19 -1z"/>
<path fill="#2d6654" d="M1238 2589l11 2l6 -74l-11 6zM1243 2531l11 -6l6 -61l-11 -7zM1265 2411l20 13l7 -56l-19 5z"/>
<path fill="#366f5d" d="M1249 2590l3 11l6 -70l-4 -15zM1264 2412l3 0l8 -38l-4 -21z"/>
<path fill="#366957" d="M1251 2601l17 -9l6 -63l-18 1zM1228 2459l22 6l7 -64l-22 8zM1271 2381l20 -6l8 -33l-20 -3z"/>
<path fill="#2a5145" d="M1266 2592l28 3l6 -76l-28 11zM1346 2454l29 -6l5 -80l-28 17zM1307 2408l26 -1l7 -54l-27 -2z"/>
<path fill="#245142" d="M1292 2595l24 -14l6 -68l-25 7zM1314 2581l24 0l6 -77l-24 10zM1340 2512l29 -9l6 -62l-28 6zM1275 2460l30 3l6 -63l-28 17z"/>
<path fill="#215142" d="M1336 2582l28 -12l6 -74l-29 9zM1319 2522l24 -11l7 -65l-25 11z"/>
<path fill="#275a4b" d="M1361 2571l25 -10l7 -67l-26 3z"/>
<path fill="#2a6351" d="M1384 2563l18 -10l7 -59l-19 0z"/>
<path fill="#1e3c33" d="M1424 2556l34 -12l6 -70l-34 14z"/>
<path fill="#1e3930" d="M1455 2545l26 -17l6 -71l-26 19zM1529 2399l26 -15l7 -55l-26 11z"/>
<path fill="#214236" d="M1478 2529l23 0l7 -69l-23 -2zM1505 2468l21 -2l6 -76l-21 4z"/>
<path fill="#244236" d="M1499 2529l21 -6l7 -64l-22 1zM1484 2466l23 2l6 -74l-23 -1z"/>
<path fill="#213930" d="M1518 2523l25 -8l6 -68l-25 13z"/>
<path fill="#1b2d24" d="M1540 2516l32 -13l6 -68l-32 14z"/>
<path fill="#18241e" d="M1569 2505l28 -10l7 -74l-29 15zM1594 2496l24 -10l7 -67l-24 3zM1606 2375l24 -6l7 -69l-24 5z"/>
<path fill="#18211e" d="M1615 2487l29 -13l7 -70l-29 16z"/>
<path fill="#181e18" d="M1641 2476l31 -15l7 -67l-31 11z"/>
<path fill="#151b18" d="M1669 2463l30 -8l6 -74l-30 14zM1647 2413l31 -12l7 -69l-31 16zM1653 2355l31 -16l7 -55l-31 12z"/>
<path fill="#181815" d="M1695 2456l33 -14l7 -77l-33 17zM1725 2444l33 -15l7 -79l-33 17zM1755 2430l32 -17l7 -70l-32 8zM1761 2358l32 -8l8 -67l-33 12z"/>
<path fill="#1e1b18" d="M1784 2414l32 -13l7 -64l-32 6zM1790 2351l33 -6l7 -69l-33 8z"/>
<path fill="#241e1b" d="M1813 2403l36 -19l7 -65l-36 20zM1819 2346l36 -20l7 -68l-36 20z"/>
<path fill="#846057" d="M1899 2490l17 11l0 5l-17 -13zM1892 2444l11 58l0 -4l-11 -57zM1899 2489l16 17l0 4l-16 -14zM1892 2444l11 60l0 -4l-11 -56zM1899 2493l17 12l-1 6l-16 -13zM1892 2442l11 59l0 -2l-11 -55zM1899 2488l16 17l0 1l-16 -16z"/>
<path fill="#936c63" d="M1909 2498l18 5l0 4l-18 -4zM1909 2501l18 3l0 6l-18 -2zM1909 2501l18 8l0 4l-18 -5z"/>
<path fill="#966f63" d="M1930 2506l18 9l0 1l-18 -9zM1930 2507l18 8l0 2l-18 -8zM1930 2509l18 3l0 3l-18 -2zM1930 2511l18 4l0 -1l-18 -3zM1930 2511l18 2l0 3l-18 -2z"/>
<path fill="#ae9f8a" d="M2092 2541l41 8l0 3l-41 -9zM2092 2539l41 9l0 -2l-41 -10zM2092 2545l41 10l0 0l-41 -11zM2092 2544l41 8l0 1l-41 -11zM2092 2541l41 10l0 2l-41 -13z"/>
<path fill="#d59f96" d="M2611 2662l44 11l0 0l-44 -11zM2611 2660l45 11l-1 2l-44 -12zM2611 2664l44 10l0 1l-44 -9z"/>
<path fill="#def9f3" d="M950 2514l17 -1l5 -67l-16 4zM1016 2516l11 6l5 -72l-11 2z"/>
<path fill="#e7ffff" d="M966 2514l10 0l4 -72l-9 4z"/>
<path fill="#e4fcf9" d="M975 2513l11 10l5 -69l-12 -13z"/>
<path fill="#d5edea" d="M985 2523l19 -3l4 -78l-19 12z"/>
<path fill="#d8f0ed" d="M1002 2520l15 -4l5 -63l-16 -11z"/>
<path fill="#c6ede4" d="M1026 2522l16 -4l5 -66l-17 -2z"/>
<path fill="#b4e4d8" d="M1040 2518l16 8l5 -75l-16 1z"/>
<path fill="#abe7d5" d="M1055 2526l12 -8l5 -67l-13 0z"/>
<path fill="#90d8c3" d="M1078 2520l13 6l6 -66l-14 -7z"/>
<path fill="#72c0ab" d="M1100 2528l13 -5l5 -68l-13 -2z"/>
<path fill="#5da893" d="M1111 2523l17 9l5 -81l-16 4z"/>
<path fill="#4b967e" d="M1127 2532l17 -3l4 -79l-17 2z"/>
<path fill="#42937b" d="M1165 2531l13 5l5 -79l-13 -2z"/>
<path fill="#3f8772" d="M1192 2531l17 1l5 -77l-17 9z"/>
<path fill="#367863" d="M1207 2532l19 2l5 -82l-18 4z"/>
<path fill="#306654" d="M1224 2534l21 -3l6 -73l-22 -7z"/>
<path fill="#306c57" d="M1253 2524l4 15l6 -71l-3 -4z"/>
<path fill="#2d6051" d="M1256 2538l18 -1l5 -85l-17 17z"/>
<path fill="#244e42" d="M1272 2537l27 -10l6 -71l-28 -4zM1301 2463l26 1l6 -65l-25 2z"/>
<path fill="#214e42" d="M1296 2528l26 -7l6 -64l-26 -1z"/>
<path fill="#2a5a4b" d="M1366 2504l26 -3l6 -70l-26 11z"/>
<path fill="#2d6351" d="M1390 2502l18 0l6 -75l-18 5z"/>
<path fill="#245445" d="M1405 2502l28 -8l6 -63l-28 -4z"/>
<path fill="#1e3f33" d="M1430 2495l34 -13l6 -78l-34 28z"/>
<path fill="#213c33" d="M1461 2483l26 -18l6 -73l-26 14z"/>
<path fill="#1e362d" d="M1524 2467l25 -12l6 -78l-25 14z"/>
<path fill="#182a21" d="M1546 2456l32 -14l6 -66l-32 2z"/>
<path fill="#15241e" d="M1574 2444l29 -15l7 -62l-29 10z"/>
<path fill="#15211b" d="M1600 2430l24 -3l7 -66l-24 7z"/>
<path fill="#151e18" d="M1621 2428l29 -17l7 -65l-29 17z"/>
<path fill="#151815" d="M1675 2402l30 -14l7 -64l-31 10zM1701 2390l34 -17l7 -65l-34 17zM1731 2374l34 -17l7 -63l-34 16z"/>
<path fill="#362a24" d="M1884 2303l9 145l0 3l-8 -156z"/>
<path fill="#6c4e48" d="M1892 2440l11 59l0 3l-11 -58zM1892 2443l11 58l0 -1l-11 -55zM1892 2440l11 60l0 1l-11 -59z"/>
<path fill="#c99c8a" d="M1951 2517l19 4l0 -2l-19 -2zM1951 2517l19 1l0 1l-19 -4zM1951 2515l18 5l1 -1l-19 -6zM1951 2514l19 3l0 -1l-19 -1zM1951 2515l19 1l0 1l-19 -1z"/>
<path fill="#c9baa2" d="M2226 2571l42 8l0 -1l-42 -7zM2226 2572l42 6l0 -1l-42 -6zM2226 2569l42 10l0 -1l-42 -8zM2226 2570l42 8l0 -2l-42 -4zM2226 2568l42 6l0 -2l-42 -9zM2226 2569l42 7l0 0l-42 -8z"/>
<path fill="#fccfbd" d="M2398 2611l42 14l0 -3l-42 -13zM2398 2610l42 13l0 0l-42 -13zM2398 2610l42 13l0 0l-42 -13zM2398 2610l42 13l0 -2l-42 -13zM2398 2610l42 13l1 -3l-43 -13zM2398 2608l43 13l0 -1l-43 -13zM2398 2607l43 13l0 0l-43 -14zM2398 2607l43 13l0 -3l-43 -14z"/>
<path fill="#ffcfc0" d="M2433 2623l42 14l0 -4l-42 -13zM2433 2621l43 11l0 -1l-43 -13z"/>
<path fill="#f6c6b4" d="M2467 2634l44 11l0 -3l-43 -11z"/>
<path fill="#e1b1a8" d="M2611 2662l44 11l0 0l-44 -9z"/>
<path fill="#ffe1cf" d="M2648 2671l44 11l0 -2l-44 -9zM2648 2672l44 9l1 -4l-45 -8zM2648 2670l45 7l0 -6l-45 -6zM2647 2673l45 8l0 0l-45 -9zM2647 2673l45 9l0 -3l-44 -10zM2648 2669l44 10l1 -5l-45 -9zM2648 2666l45 9l0 -4l-44 -8z"/>
<path fill="#e1fcf6" d="M970 2454l10 -4l6 -58l-11 1z"/>
<path fill="#e1f9f6" d="M978 2449l13 13l6 -57l-13 -14z"/>
<path fill="#cfe7e1" d="M1006 2449l16 11l5 -68l-16 -3z"/>
<path fill="#c0e4db" d="M1030 2458l17 2l6 -58l-18 -7z"/>
<path fill="#aedbcf" d="M1045 2460l15 -1l6 -66l-15 9z"/>
<path fill="#a5dbcc" d="M1059 2459l13 0l5 -64l-13 -2z"/>
<path fill="#9cd8c6" d="M1070 2459l14 2l6 -54l-15 -13z"/>
<path fill="#90d2c0" d="M1083 2461l13 7l5 -79l-12 18z"/>
<path fill="#84ccba" d="M1095 2468l10 -7l7 -55l-13 -17z"/>
<path fill="#75c0ab" d="M1104 2461l14 2l6 -61l-14 3z"/>
<path fill="#60a893" d="M1116 2463l17 -4l6 -53l-17 -4z"/>
<path fill="#519681" d="M1130 2459l18 -1l6 -58l-17 6z"/>
<path fill="#48937b" d="M1146 2457l15 16l5 -75l-14 3zM1160 2472l10 -9l7 -51l-12 -15z"/>
<path fill="#458d75" d="M1181 2464l18 8l6 -63l-17 9z"/>
<path fill="#3c7866" d="M1211 2463l20 -4l7 -51l-20 5z"/>
<path fill="#2a6051" d="M1261 2476l17 -17l8 -43l-20 -12z"/>
<path fill="#305a4b" d="M1372 2449l25 -11l7 -65l-26 -4z"/>
<path fill="#336351" d="M1395 2439l18 -4l6 -72l-18 11z"/>
<path fill="#2a5445" d="M1411 2435l27 3l7 -71l-28 -4z"/>
<path fill="#243f36" d="M1435 2440l34 -29l7 -51l-35 8z"/>
<path fill="#273f36" d="M1465 2414l28 -14l7 -50l-28 11z"/>
<path fill="#2d483c" d="M1489 2400l24 2l7 -55l-24 4z"/>
<path fill="#274839" d="M1510 2402l22 -4l7 -59l-22 8z"/>
<path fill="#1b2a24" d="M1551 2385l33 -2l6 -73l-32 21z"/>
<path fill="#1b2721" d="M1580 2384l29 -10l7 -69l-29 7z"/>
<path fill="#151e1b" d="M1627 2370l29 -17l7 -59l-29 6z"/>
<path fill="#181b18" d="M1680 2341l31 -10l7 -62l-31 17zM1707 2333l34 -18l7 -59l-34 15z"/>
<path fill="#1b1b18" d="M1737 2317l34 -17l7 -58l-34 15z"/>
<path fill="#1e1e18" d="M1767 2302l33 -12l7 -60l-32 13z"/>
<path fill="#2a241e" d="M1858 2262l28 41l0 7l-21 -98z"/>
<path fill="#b78478" d="M1899 2496l16 14l0 -2l-16 -17zM1899 2496l16 15l0 0l-16 -16z"/>
<path fill="#a5786f" d="M1908 2507l19 2l0 2l-18 -7zM1909 2504l18 7l0 0l-18 -9zM1909 2504l18 7l0 2l-18 -7z"/>
<path fill="#d2c6ae" d="M2159 2554l41 11l0 0l-41 -11zM2158 2561l42 7l0 -2l-41 -8zM2158 2558l42 8l0 -2l-42 -6zM2158 2559l42 6l0 -6l-41 -5zM2158 2559l42 7l0 -2l-41 -7z"/>
<path fill="#dba293" d="M2468 2631l43 11l0 3l-43 -12z"/>
<path fill="#f0c3b7" d="M2611 2664l44 9l1 -2l-45 -7zM2611 2666l44 9l0 -1l-44 -9z"/>
<path fill="#c9ded8" d="M959 2406l18 -6l8 -39l-19 6z"/>
<path fill="#d2e7e1" d="M974 2401l11 -1l8 -41l-11 3z"/>
<path fill="#d5ede7" d="M983 2399l13 13l5 -65l-10 13z"/>
<path fill="#c6dbd5" d="M994 2412l19 -16l6 -56l-20 8z"/>
<path fill="#c0d5cf" d="M1010 2397l16 2l8 -39l-18 -21z"/>
<path fill="#c9e1d8" d="M1024 2399l12 5l7 -52l-11 7z"/>
<path fill="#bad8cf" d="M1034 2403l18 6l6 -60l-17 4z"/>
<path fill="#a5ccc0" d="M1050 2410l15 -10l7 -51l-16 0z"/>
<path fill="#9cc9ba" d="M1063 2401l13 1l8 -42l-14 -12z"/>
<path fill="#96c9b7" d="M1074 2401l16 14l7 -48l-16 -9z"/>
<path fill="#8dc9b7" d="M1087 2415l13 -19l9 -34l-14 5z"/>
<path fill="#84c6b4" d="M1098 2396l13 18l8 -40l-13 -13z"/>
<path fill="#78bda8" d="M1109 2413l14 -4l7 -49l-13 14z"/>
<path fill="#63a590" d="M1121 2409l17 5l7 -57l-17 5z"/>
<path fill="#4e9078" d="M1151 2408l15 -3l8 -43l-15 12z"/>
<path fill="#4b937b" d="M1175 2419l14 6l6 -66l-14 5z"/>
<path fill="#488d75" d="M1187 2425l17 -8l6 -60l-17 2z"/>
<path fill="#45816c" d="M1202 2417l18 3l6 -61l-18 -2z"/>
<path fill="#3c6957" d="M1233 2416l23 -8l7 -47l-22 6zM1253 2409l12 3l7 -58l-12 7z"/>
<path fill="#275748" d="M1282 2424l28 -17l7 -57l-28 19z"/>
<path fill="#2d5445" d="M1329 2408l26 -19l8 -32l-27 -4z"/>
<path fill="#305448" d="M1350 2392l31 -18l8 -34l-31 18z"/>
<path fill="#365a4e" d="M1376 2376l28 5l7 -53l-27 15z"/>
<path fill="#396654" d="M1400 2381l19 -11l8 -39l-20 -3z"/>
<path fill="#2a4239" d="M1441 2375l34 -8l7 -65l-35 14z"/>
<path fill="#304236" d="M1472 2368l27 -10l6 -51l-27 -5z"/>
<path fill="#334b3f" d="M1495 2359l24 -5l7 -54l-24 7z"/>
<path fill="#304b3f" d="M1516 2355l22 -9l7 -53l-22 8z"/>
<path fill="#273f33" d="M1535 2347l26 -11l7 -42l-26 0z"/>
<path fill="#21332a" d="M1557 2338l33 -21l7 -45l-33 24z"/>
<path fill="#212a24" d="M1611 2313l26 -6l7 -52l-25 14z"/>
<path fill="#1e2421" d="M1633 2308l30 -7l7 -46l-30 2z"/>
<path fill="#1e241e" d="M1658 2303l33 -12l7 -47l-32 12z"/>
<path fill="#21211e" d="M1742 2264l36 -16l7 -43l-35 18z"/>
<path fill="#24241e" d="M1773 2250l34 -14l7 -41l-34 12z"/>
<path fill="#2a2421" d="M1802 2238l34 -11l7 -47l-34 17z"/>
<path fill="#302724" d="M1831 2228l37 -7l7 -52l-37 13zM1865 2216l20 94l0 -4l-13 -139z"/>
<path fill="#75544e" d="M1892 2441l11 58l0 -2l-11 -57zM1892 2444l11 57l0 3l-11 -60zM1892 2441l11 59l0 0l-11 -60zM1892 2440l11 56l0 -1l-11 -58z"/>
<path fill="#a8786f" d="M1899 2492l16 17l0 -3l-16 -16zM1909 2502l18 9l0 1l-18 -6zM1899 2494l16 15l0 2l-16 -13zM1899 2494l16 15l1 -3l-17 -13zM1908 2506l19 6l0 1l-19 -5zM1899 2493l16 15l0 1l-16 -16zM1899 2493l16 16l0 1l-16 -16zM1899 2489l16 17l0 -1l-16 -17z"/>
<path fill="#8d7e6c" d="M2059 2532l41 6l0 4l-41 -6zM2059 2536l41 9l0 2l-41 -10zM2059 2538l41 7l0 1l-41 -7z"/>
<path fill="#c3ba9f" d="M2192 2563l42 9l0 1l-42 -10zM2192 2563l42 10l0 0l-42 -10z"/>
<path fill="#ae9987" d="M2294 2580l43 9l0 1l-43 -7zM2295 2579l41 12l0 0l-42 -12zM2294 2581l42 11l0 0l-42 -10z"/>
<path fill="#f0bdb4" d="M2575 2659l44 6l0 -2l-44 -6zM2575 2657l44 6l0 -1l-44 -9zM2575 2659l44 6l0 -1l-44 -6z"/>
<path fill="#b4c0ba" d="M966 2374l17 -6l6 -54l-17 12z"/>
<path fill="#bdccc3" d="M981 2369l10 -3l8 -37l-12 -15z"/>
<path fill="#c9dbd5" d="M989 2368l11 -14l9 -35l-12 9z"/>
<path fill="#c0d2c9" d="M997 2355l22 -9l10 -17l-24 -9z"/>
<path fill="#b7c6bd" d="M1015 2345l18 23l7 -51l-16 12z"/>
<path fill="#bdccc6" d="M1030 2367l12 -8l8 -34l-13 -8z"/>
<path fill="#b1c9bd" d="M1039 2360l18 -5l9 -25l-19 -5z"/>
<path fill="#9fbdb1" d="M1053 2356l18 0l9 -30l-18 4z"/>
<path fill="#96baab" d="M1068 2355l15 12l8 -34l-15 -7z"/>
<path fill="#8db4a5" d="M1080 2365l16 10l8 -38l-16 -5z"/>
<path fill="#87b7a5" d="M1093 2374l14 -5l9 -32l-15 0z"/>
<path fill="#81b7a5" d="M1105 2369l13 12l7 -49l-12 6z"/>
<path fill="#78b49f" d="M1115 2381l14 -14l9 -26l-16 -9z"/>
<path fill="#669f8d" d="M1125 2369l19 -5l9 -35l-19 13z"/>
<path fill="#548472" d="M1141 2363l20 18l6 -53l-18 2z"/>
<path fill="#51846f" d="M1158 2381l14 -11l8 -40l-15 -2z"/>
<path fill="#518a75" d="M1169 2370l13 1l9 -32l-14 -10z"/>
<path fill="#518d78" d="M1179 2372l15 -6l9 -31l-15 4z"/>
<path fill="#518d75" d="M1190 2366l20 -2l9 -29l-20 1z"/>
<path fill="#426c5d" d="M1222 2366l21 8l8 -36l-21 -14z"/>
<path fill="#48695a" d="M1259 2369l12 -8l9 -29l-13 -2z"/>
<path fill="#427260" d="M1269 2360l4 23l9 -43l-4 -9z"/>
<path fill="#36574b" d="M1311 2357l28 3l8 -45l-27 20z"/>
<path fill="#365448" d="M1335 2360l26 3l8 -41l-27 -6z"/>
<path fill="#395748" d="M1357 2364l30 -17l7 -46l-29 22z"/>
<path fill="#425d51" d="M1383 2349l26 -15l8 -46l-27 16z"/>
<path fill="#395a4b" d="M1421 2339l30 -19l8 -15l-30 -14z"/>
<path fill="#33453c" d="M1445 2322l37 -15l8 -33l-37 34z"/>
<path fill="#364539" d="M1476 2309l29 5l8 -44l-29 6z"/>
<path fill="#3c4e42" d="M1501 2314l24 -7l8 -43l-25 6z"/>
<path fill="#395142" d="M1521 2308l24 -8l8 -25l-24 -11z"/>
<path fill="#30453c" d="M1540 2301l27 -1l8 -50l-27 26z"/>
<path fill="#2d3930" d="M1562 2302l35 -24l7 -25l-34 0z"/>
<path fill="#2d3630" d="M1591 2281l31 -7l7 -47l-30 28z"/>
<path fill="#2d362d" d="M1617 2276l26 -14l7 -38l-25 5z"/>
<path fill="#272d27" d="M1639 2263l30 -2l7 -57l-30 22z"/>
<path fill="#272a24" d="M1665 2262l32 -11l7 -38l-32 -8z"/>
<path fill="#2a2d27" d="M1691 2254l33 -32l8 -12l-33 4zM1719 2225l35 2l7 -48l-35 34z"/>
<path fill="#2d2a27" d="M1779 2214l34 -13l7 -37l-34 5z"/>
<path fill="#302d27" d="M1808 2203l34 -17l8 -46l-35 27z"/>
<path fill="#362d2a" d="M1837 2188l38 -13l5 -37l-36 4z"/>
<path fill="#5d453f" d="M1892 2440l11 57l0 5l-11 -58zM1892 2437l11 58l0 2l-11 -57z"/>
<path fill="#b49081" d="M1983 2525l19 2l0 0l-19 -3zM1984 2517l18 7l0 -2l-18 -6zM1983 2518l19 5l0 -4l-19 -3z"/>
<path fill="#9f8d7b" d="M2059 2535l41 7l0 3l-41 -8zM2059 2534l41 9l0 3l-41 -9zM2059 2537l41 10l0 -1l-41 -10zM2059 2536l41 10l0 0l-41 -8z"/>
<path fill="#ba9c8d" d="M2363 2597l42 16l0 -1l-42 -13zM2363 2599l43 12l0 1l-43 -11z"/>
<path fill="#9ca299" d="M970 2334l19 -13l9 -20l-20 -11z"/>
<path fill="#abb4ab" d="M985 2320l13 16l9 -28l-12 -9z"/>
<path fill="#b7c0ba" d="M994 2336l13 -10l11 -18l-14 -1z"/>
<path fill="#b1bdb4" d="M1003 2325l24 10l10 -21l-24 -6z"/>
<path fill="#aeb7ae" d="M1021 2336l18 -14l11 -18l-19 10zM1034 2322l15 10l11 -13l-15 -15z"/>
<path fill="#a5b4ab" d="M1044 2331l21 5l9 -29l-19 11z"/>
<path fill="#96ab9f" d="M1060 2336l18 -4l10 -21l-19 -4z"/>
<path fill="#90a899" d="M1074 2332l16 8l10 -25l-16 -5z"/>
<path fill="#84a293" d="M1086 2339l17 5l8 -40l-16 11z"/>
<path fill="#7e9f90" d="M1099 2343l15 1l9 -22l-16 -18z"/>
<path fill="#7ba290" d="M1110 2345l14 -6l9 -28l-13 10z"/>
<path fill="#759f90" d="M1120 2339l16 9l10 -24l-17 -12z"/>
<path fill="#699684" d="M1132 2349l19 -13l8 -38l-17 27z"/>
<path fill="#5d8172" d="M1147 2337l19 -2l9 -37l-20 3z"/>
<path fill="#577b69" d="M1163 2335l16 2l8 -29l-16 -11z"/>
<path fill="#577e6c" d="M1176 2336l13 11l8 -46l-12 6z"/>
<path fill="#54846f" d="M1186 2346l15 -4l9 -30l-16 -11zM1198 2343l19 -1l9 -31l-20 1z"/>
<path fill="#547b69" d="M1212 2343l20 -13l11 -13l-22 -7z"/>
<path fill="#4b6c5d" d="M1227 2329l23 15l9 -26l-22 -1z"/>
<path fill="#4b6354" d="M1245 2344l24 -8l9 -30l-24 13z"/>
<path fill="#4e695a" d="M1265 2337l13 3l9 -25l-13 -10zM1409 2293l24 4l10 -8l-24 -5z"/>
<path fill="#486f5d" d="M1275 2338l5 10l9 -27l-4 -9z"/>
<path fill="#3f695a" d="M1277 2346l21 3l8 -39l-20 11z"/>
<path fill="#395d4e" d="M1293 2349l31 -10l8 -30l-31 2z"/>
<path fill="#3f5a4e" d="M1318 2341l28 -21l10 -6l-30 -5z"/>
<path fill="#3f5a4b" d="M1340 2321l28 6l9 -31l-28 19z"/>
<path fill="#3f5448" d="M1362 2329l32 -23l9 -13l-32 6z"/>
<path fill="#4b6051" d="M1387 2310l30 -18l9 -8l-30 12z"/>
<path fill="#455d51" d="M1427 2297l31 14l7 -49l-29 28z"/>
<path fill="#3c4b3f" d="M1453 2312l35 -33l8 -33l-36 20z"/>
<path fill="#3f483f" d="M1482 2282l30 -7l8 -13l-30 -15zM1597 2261l31 -29l8 -26l-31 21zM1622 2236l28 -6l8 -25l-28 3z"/>
<path fill="#45574b" d="M1527 2270l24 11l8 -42l-24 5z"/>
<path fill="#3c4b42" d="M1546 2282l28 -26l8 -12l-28 -5z"/>
<path fill="#39453c" d="M1568 2258l35 0l8 -34l-35 23z"/>
<path fill="#333630" d="M1669 2210l35 9l7 -19l-34 -9z"/>
<path fill="#363630" d="M1697 2219l34 -5l7 -30l-33 16z"/>
<path fill="#393933" d="M1725 2217l35 -34l7 -18l-35 23z"/>
<path fill="#393630" d="M1754 2187l37 -15l7 -20l-37 16z"/>
<path fill="#36332d" d="M1784 2175l35 -6l8 -27l-35 12z"/>
<path fill="#39332d" d="M1813 2172l36 -28l7 -11l-36 12z"/>
<path fill="#3c3330" d="M1842 2146l39 -5l0 8l-32 -15z"/>
<path fill="#b19c87" d="M2059 2537l41 8l0 -2l-41 -9z"/>
<path fill="#cfab9c" d="M2363 2599l43 13l-1 0l-42 -11z"/>
<path fill="#edc0ae" d="M2433 2621l42 13l0 -1l-42 -13zM2433 2621l42 15l0 -2l-42 -15zM2433 2618l43 13l0 0l-43 -14z"/>
<path fill="#8a8a81" d="M974 2294l23 12l11 -8l-22 -9z"/>
<path fill="#999990" d="M991 2304l14 10l12 -19l-14 0z"/>
<path fill="#9fa299" d="M1002 2314l13 1l8 -43l-11 25zM1043 2310l14 14l9 -30l-14 -7z"/>
<path fill="#969c93" d="M1012 2313l22 6l9 -23l-23 -23z"/>
<path fill="#969990" d="M1029 2320l17 -10l10 -23l-17 8z"/>
<path fill="#939c93" d="M1053 2323l19 -10l10 -20l-20 0z"/>
<path fill="#8a968a" d="M1066 2313l20 3l10 -14l-19 -10z"/>
<path fill="#87968a" d="M1081 2316l16 6l10 -32l-15 11z"/>
<path fill="#819387" d="M1093 2322l16 -12l11 -13l-18 -6z"/>
<path fill="#7b9081" d="M1105 2310l17 19l8 -39l-15 7z"/>
<path fill="#728d7e" d="M1119 2328l12 -9l8 -35l-12 7z"/>
<path fill="#6c8a7b" d="M1128 2318l15 12l9 -30l-16 -17z"/>
<path fill="#637e72" d="M1139 2332l19 -29l10 -10l-20 7z"/>
<path fill="#5d7566" d="M1151 2305l23 -3l12 8l-23 -16z"/>
<path fill="#5a7263" d="M1166 2300l20 13l12 -15l-19 11z"/>
<path fill="#577263" d="M1180 2314l15 -7l12 -19l-15 12zM1218 2315l22 8l10 -26l-21 10z"/>
<path fill="#547263" d="M1191 2306l17 13l11 -14l-18 -16zM1202 2317l23 -1l11 -9l-23 -4z"/>
<path fill="#51695d" d="M1235 2322l22 1l9 -24l-22 -1z"/>
<path fill="#546357" d="M1251 2325l25 -14l10 -16l-25 5zM1271 2311l14 10l10 -21l-14 -5z"/>
<path fill="#4b6657" d="M1283 2320l4 8l9 -41l-4 12z"/>
<path fill="#456357" d="M1284 2327l21 -12l9 -5l-21 -22z"/>
<path fill="#425448" d="M1324 2314l30 4l8 -26l-28 6z"/>
<path fill="#4b5d51" d="M1348 2320l27 -18l8 -30l-27 22z"/>
<path fill="#48574b" d="M1369 2304l32 -6l8 -22l-32 -2z"/>
<path fill="#4e5a51" d="M1395 2300l28 -12l9 -31l-29 21z"/>
<path fill="#54665a" d="M1418 2289l21 4l9 -28l-21 -7z"/>
<path fill="#4e6054" d="M1434 2294l30 -28l9 -8l-31 8z"/>
<path fill="#485148" d="M1457 2269l38 -21l9 10l-38 3zM1295 2276l5 11l13 14l-5 -7z"/>
<path fill="#4e574b" d="M1513 2268l25 -21l9 -17l-26 1z"/>
<path fill="#515d51" d="M1532 2249l26 -5l9 -17l-26 4zM1440 2269l32 -8l9 -8l-32 4z"/>
<path fill="#455448" d="M1552 2244l29 6l8 -26l-29 4z"/>
<path fill="#3f4b3f" d="M1574 2251l36 -23l8 -13l-36 11z"/>
<path fill="#4e544b" d="M1603 2231l32 -22l8 4l-32 4zM1518 2235l28 0l9 -18l-28 8zM1361 2278l29 10l9 -20l-29 0z"/>
<path fill="#545a4e" d="M1628 2212l28 -3l9 -19l-28 26zM1635 2219l28 -27l8 -10l-28 16zM1545 2220l26 13l9 -22l-26 5zM1565 2233l29 -23l8 10l-29 -8z"/>
<path fill="#4b4e45" d="M1650 2212l32 -19l8 -6l-32 6zM1667 2176l33 -9l15 13l-30 -19z"/>
<path fill="#42453c" d="M1675 2195l35 8l8 -23l-35 8z"/>
<path fill="#48483f" d="M1730 2191l37 -23l7 -15l-36 21zM1681 2191l35 -9l8 -11l-35 10zM1748 2163l36 -18l8 -15l-34 11z"/>
<path fill="#514e45" d="M1760 2172l37 -17l7 -13l-37 14zM1756 2144l35 -11l7 -6l-32 10zM1787 2121l26 -12l8 -4l-23 17z"/>
<path fill="#4b453c" d="M1790 2158l35 -11l8 -29l-35 27z"/>
<path fill="#423c36" d="M1819 2149l36 -12l7 -25l-36 9zM1815 2125l32 -13l2 -8l-29 19zM1819 2124l29 -19l3 9l-27 -15zM1823 2099l27 16l3 -5l-26 7z"/>
<path fill="#483f39" d="M1849 2136l30 14l0 2l-23 -41z"/>
<path fill="#423633" d="M1877 2143l8 167l0 1l-8 -166zM1877 2146l8 163l0 6l-8 -165zM1877 2133l8 172l0 -1l-8 -170z"/>
<path fill="#453330" d="M1884 2302l9 150l0 -1l-9 -148zM1884 2299l9 148l0 -2l-9 -145z"/>
<path fill="#ba8d7e" d="M1940 2511l19 4l0 -1l-19 0z"/>
<path fill="#dbae9f" d="M2433 2620l42 13l0 3l-42 -15zM2433 2617l43 14l0 0l-43 -14zM2433 2617l43 14l0 0l-43 -17z"/>
<path fill="#847e75" d="M983 2291l22 9l11 -20l-21 15zM1057 2294l14 -9l11 -26l-13 23z"/>
<path fill="#8d877e" d="M1000 2301l13 -1l11 -18l-13 -2z"/>
<path fill="#8d8d84" d="M1008 2304l13 -29l13 0l-14 10z"/>
<path fill="#87847e" d="M1017 2277l25 24l9 -21l-23 -3z"/>
<path fill="#848178" d="M1035 2300l19 -8l12 -2l-20 -13z"/>
<path fill="#908d84" d="M1047 2292l17 7l12 -19l-15 10z"/>
<path fill="#87877e" d="M1059 2299l20 -1l11 -22l-20 6z"/>
<path fill="#7e8175" d="M1074 2297l19 10l10 -24l-19 -8z"/>
<path fill="#7e8478" d="M1088 2308l16 -13l12 -6l-17 -8z"/>
<path fill="#7b8478" d="M1098 2296l19 6l11 -22l-18 9z"/>
<path fill="#727e72" d="M1111 2302l17 -7l12 -4l-18 -11z"/>
<path fill="#69756c" d="M1123 2294l14 -9l14 24l-16 -19z"/>
<path fill="#66786c" d="M1133 2286l17 18l10 -25l-14 29z"/>
<path fill="#607266" d="M1145 2304l21 -7l11 5l-22 -23z"/>
<path fill="#5d6c5d" d="M1159 2296l23 15l11 -21l-22 11z"/>
<path fill="#5d6c60" d="M1176 2312l18 -10l11 -11l-18 -1z"/>
<path fill="#5a695d" d="M1187 2304l16 -12l13 3l-16 -4z"/>
<path fill="#57695a" d="M1197 2291l19 18l12 -14l-18 -1z"/>
<path fill="#576c5d" d="M1210 2306l22 4l11 -7l-22 -10z"/>
<path fill="#5a6c60" d="M1226 2311l21 -10l11 -18l-21 21z"/>
<path fill="#57665a" d="M1241 2303l23 1l10 -17l-23 -2z"/>
<path fill="#5a6357" d="M1258 2304l26 -4l10 -17l-26 5zM1247 2288l25 2l11 -7l-24 7z"/>
<path fill="#576054" d="M1278 2301l14 5l10 -29l-14 6z"/>
<path fill="#4b574e" d="M1289 2307l4 -13l11 -8l-4 -10zM1297 2288l22 -5l11 0l-22 17z"/>
<path fill="#455a4e" d="M1290 2292l22 24l9 -34l-21 4z"/>
<path fill="#48574e" d="M1307 2314l31 -13l8 -32l-30 14z"/>
<path fill="#455145" d="M1332 2303l28 -6l9 -22l-28 -5z"/>
<path fill="#4e574e" d="M1354 2298l28 -23l10 10l-29 -10z"/>
<path fill="#545d51" d="M1375 2277l33 2l9 -17l-32 25zM1539 2235l26 -5l9 0l-26 -13z"/>
<path fill="#515a4e" d="M1401 2282l29 -22l10 -2l-30 6zM1558 2231l29 -4l9 -19l-29 23z"/>
<path fill="#515a51" d="M1423 2262l24 8l10 -14l-24 3zM1313 2285l32 -14l10 15l-32 -1z"/>
<path fill="#51574e" d="M1464 2262l38 -3l9 -17l-38 12z"/>
<path fill="#4e5448" d="M1496 2263l29 -31l8 -10l-29 23z"/>
<path fill="#515448" d="M1656 2196l33 -7l8 -10l-33 6zM1647 2189l27 -12l17 -16l-25 -8z"/>
<path fill="#45453f" d="M1709 2185l34 -11l8 -18l-34 18z"/>
<path fill="#545148" d="M1736 2176l37 -21l7 5l-37 -2zM1764 2139l32 -10l8 -13l-30 16zM1760 2137l26 -22l11 3l-24 10zM1779 2119l29 -10l8 0l-26 12z"/>
<path fill="#57544b" d="M1766 2158l37 -15l7 -8l-37 27zM1772 2135l30 -16l8 -11l-28 9zM1769 2130l25 -11l11 0l-23 1zM1829 2110l25 6l2 -15l-21 13z"/>
<path fill="#514b45" d="M1796 2147l35 -27l7 4l-35 15zM1843 2115l27 -6l1 -4l-26 5z"/>
<path fill="#4b453f" d="M1824 2123l37 -9l7 5l-37 8zM1836 2123l34 -26l0 12l-32 7zM1826 2116l26 -7l3 6l-24 -6z"/>
<path fill="#4b3c36" d="M1877 2145l8 166l0 -3l-8 -167zM1884 2305l9 148l0 -2l-9 -150zM1884 2301l9 150l0 0l-9 -150zM1884 2301l9 150l0 -2l-9 -142zM1877 2144l8 163l0 1l-8 -172z"/>
<path fill="#3c2d2a" d="M1884 2303l9 148l0 2l-9 -153zM1884 2297l9 151l0 2l-9 -154z"/>
<path fill="#a29684" d="M2192 2562l42 9l0 2l-42 -5zM2192 2562l42 8l0 0l-42 -7z"/>
<path fill="#f0c0b7" d="M2611 2663l45 7l0 1l-45 -8z"/>
<path fill="#7e756c" d="M992 2298l20 -15l13 -1l-22 -6z"/>
<path fill="#81786f" d="M1008 2286l12 1l10 -33l-10 31z"/>
<path fill="#817b72" d="M1017 2289l13 -9l11 -12l-15 -12z"/>
<path fill="#7b756c" d="M1025 2280l24 3l11 -15l-24 0z"/>
<path fill="#7e786c" d="M1043 2281l19 12l11 -11l-19 -16z"/>
<path fill="#78756c" d="M1067 2285l19 -6l13 15l-22 -33z"/>
<path fill="#726f66" d="M1080 2276l21 8l12 4l-20 5z"/>
<path fill="#78786c" d="M1093 2283l19 9l13 -8l-18 3zM1105 2292l20 -10l13 5l-20 -3z"/>
<path fill="#727269" d="M1118 2283l19 12l11 -17l-17 10z"/>
<path fill="#696f66" d="M1132 2292l15 17l9 -29l-13 -3z"/>
<path fill="#697266" d="M1143 2311l15 -28l10 -17l-16 15z"/>
<path fill="#666f63" d="M1153 2283l21 22l9 -30l-20 -7z"/>
<path fill="#666c60" d="M1169 2305l20 -10l9 -25l-20 4zM1184 2295l17 1l10 -18l-17 -8z"/>
<path fill="#5a665a" d="M1206 2297l18 1l12 -8l-19 -7z"/>
<path fill="#60695d" d="M1218 2296l22 9l11 -10l-22 -7zM1233 2306l22 -20l11 2l-22 8z"/>
<path fill="#5d6057" d="M1265 2292l26 -5l10 -18l-26 16z"/>
<path fill="#5a5a51" d="M1285 2287l14 -7l12 16l-16 -28zM1367 2272l26 -1l39 -31l-24 17zM1747 2124l18 -13l18 -7l-16 -6z"/>
<path fill="#575d51" d="M1383 2289l32 -26l9 -1l-32 7zM1447 2259l32 -4l9 -9l-32 4z"/>
<path fill="#5a5d51" d="M1407 2266l31 -7l10 2l-31 3zM1551 2220l25 -5l25 -15l-23 -5zM1571 2215l27 8l23 -42l-25 19zM1622 2202l31 -15l18 -36l-29 23zM1689 2146l25 -4l19 3l-23 -10zM1706 2117l18 3l23 -13l-16 -8zM1677 2094l16 15l28 -22l-14 11z"/>
<path fill="#5a6054" d="M1430 2261l24 -4l10 -9l-23 15z"/>
<path fill="#54574e" d="M1471 2257l38 -13l9 -12l-38 16z"/>
<path fill="#57574e" d="M1502 2248l30 -24l9 2l-30 9zM1303 2294l4 6l45 -39l-5 8zM1321 2286l29 2l41 -27l-27 -14zM1345 2289l26 -19l42 -14l-25 5zM1660 2155l28 10l18 -12l-26 10zM1719 2116l20 11l18 -6l-18 -27zM1732 2128l21 -12l19 -9l-19 14z"/>
<path fill="#575a4e" d="M1525 2227l27 -8l9 -4l-27 15zM1306 2300l18 -14l43 -39l-17 15zM1702 2118l21 -1l21 -23l-19 26z"/>
<path fill="#51574b" d="M1587 2213l36 -8l8 -10l-36 27z"/>
<path fill="#4e5148" d="M1615 2208l33 -9l8 -17l-32 16z"/>
<path fill="#51544b" d="M1641 2202l28 -17l8 -13l-28 13z"/>
<path fill="#4e5145" d="M1662 2187l33 -5l8 -17l-33 10z"/>
<path fill="#484b42" d="M1688 2183l34 -9l8 -16l-34 9z"/>
<path fill="#4b4b42" d="M1715 2176l34 -18l8 1l-34 1z"/>
<path fill="#4e4b42" d="M1742 2160l37 1l7 -19l-37 19z"/>
<path fill="#4b483f" d="M1772 2164l36 -27l7 -20l-36 29zM1806 2111l27 5l6 -6l-25 -3z"/>
<path fill="#4e483f" d="M1802 2141l35 -15l7 -7l-35 1zM1830 2128l36 -7l5 -25l-34 25z"/>
<path fill="#4b423c" d="M1862 2118l16 31l0 -8l-12 -47z"/>
<path fill="#3c332d" d="M1877 2141l8 167l0 5l-8 -179zM1877 2140l8 168l0 -1l-8 -163z"/>
<path fill="#c3baa2" d="M2192 2568l42 5l0 -3l-42 -4z"/>
<path fill="#e4aea5" d="M2611 2663l45 8l0 0l-45 -11z"/>
<path fill="#75665d" d="M1000 2280l17 6l52 -36l-17 -11z"/>
<path fill="#75695d" d="M1015 2286l9 -25l54 -12l-10 1zM1124 2225l18 -2l49 -35l-17 3zM1149 2198l10 -15l49 -24l-11 -1z"/>
<path fill="#756960" d="M1022 2261l13 10l54 -12l-12 -10zM1032 2271l21 0l52 -28l-18 15z"/>
<path fill="#786c63" d="M1051 2271l16 14l50 -42l-14 0z"/>
<path fill="#786f63" d="M1065 2285l11 -18l51 -24l-11 0z"/>
<path fill="#6f665a" d="M1074 2266l19 28l49 -41l-17 -11zM1190 2238l12 -14l47 -17l-13 -26zM1168 2196l16 -3l48 -25l-16 -13zM1182 2192l14 6l48 -29l-14 -2zM1200 2163l11 -4l49 -17l-12 -8zM1209 2159l17 13l46 -38l-14 8z"/>
<path fill="#6c635a" d="M1090 2293l16 -4l49 -36l-15 -1z"/>
<path fill="#726c60" d="M1104 2290l13 -2l48 -53l-12 19z"/>
<path fill="#756f63" d="M1116 2288l14 2l48 -44l-15 -11z"/>
<path fill="#726f63" d="M1128 2290l13 -7l48 -48l-13 11z"/>
<path fill="#6c695d" d="M1139 2283l12 2l48 -37l-12 -13zM1274 2203l13 12l45 -40l-12 5zM1311 2195l14 14l44 -32l-13 3zM1323 2209l12 -10l45 -19l-13 -3zM1333 2199l13 3l45 -27l-13 6zM1270 2171l12 -6l46 -17l-13 -11zM1313 2185l13 -6l44 -26l-12 -4zM1275 2147l12 -3l46 -25l-12 13z"/>
<path fill="#66635a" d="M1149 2285l13 -13l51 -9l-15 -16z"/>
<path fill="#69665a" d="M1160 2273l17 6l49 -35l-16 19zM1175 2279l18 -3l47 -35l-16 4zM1330 2247l13 28l40 -58l-11 -4zM1295 2237l13 -14l45 -25l-14 -3zM1305 2224l17 -5l45 -21l-16 0zM1376 2219l7 22l43 -25l-8 -21zM1381 2241l17 -18l42 -31l-16 24zM1298 2213l15 -18l45 -15l-15 -1zM1285 2145l13 -11l46 -10l-13 -4zM1259 2114l14 9l45 -33l-12 7z"/>
<path fill="#636057" d="M1191 2276l15 7l47 -28l-15 -15zM1272 2287l22 -13l44 -32l-20 29zM1341 2274l5 -8l42 -30l-6 -21z"/>
<path fill="#606054" d="M1203 2281l13 7l48 -21l-13 -14zM1257 2292l19 -6l45 -16l-19 -22zM1416 2267l26 -3l33 -50l-24 5zM1444 2225l26 -7l36 -17l-25 4zM1466 2217l20 17l33 -25l-18 -9zM1654 2172l28 -9l19 -23l-26 25zM1686 2139l25 0l19 -21l-23 19zM1722 2147l24 -1l15 -29l-22 9zM1335 2127l12 -19l46 4l-13 -4zM1750 2121l16 -19l18 -23l-14 14z"/>
<path fill="#636357" d="M1214 2288l14 5l47 -46l-13 20zM1422 2248l27 -25l36 -20l-25 4zM1365 2217l12 4l43 -25l-12 7zM1394 2224l26 -1l40 -17l-23 -13zM1401 2207l12 -7l42 -25l-12 18zM1324 2123l13 4l44 -19l-13 -12zM1762 2103l16 6l17 -18l-15 -11z"/>
<path fill="#66665d" d="M1227 2293l17 5l45 -45l-17 -5z"/>
<path fill="#63635a" d="M1242 2298l17 -6l45 -43l-17 4z"/>
<path fill="#605d54" d="M1292 2273l13 22l43 -25l-12 -28zM1358 2252l28 14l39 -48l-24 2zM1773 2110l18 -8l15 -16l-15 5z"/>
<path fill="#5d5d51" d="M1390 2273l29 -7l36 -48l-27 24zM1707 2142l28 0l17 1l-27 2zM1706 2139l21 9l17 -22l-20 -7zM1702 2140l23 -18l19 2l-21 -11zM1718 2122l22 8l19 -16l-21 11zM1738 2110l16 10l19 -27l-14 -11z"/>
<path fill="#606057" d="M1439 2265l18 -12l34 -24l-19 -16z"/>
<path fill="#4e4e45" d="M1693 2168l35 -9l12 0l-32 22zM1721 2162l34 -1l10 -23l-32 24z"/>
<path fill="#423f39" d="M1777 2148l38 -30l4 17l-34 -2zM1811 2138l34 -25l2 -3l-31 13z"/>
<path fill="#48423c" d="M1808 2120l35 0l2 -7l-33 25zM1850 2097l20 7l0 12l-17 -11z"/>
<path fill="#453f39" d="M1866 2095l12 47l0 9l-12 -45z"/>
<path fill="#3c302d" d="M1877 2134l8 179l0 -4l-8 -167zM1877 2142l8 167l0 0l-8 -163z"/>
<path fill="#7b5a54" d="M1892 2445l11 58l0 -1l-11 -59z"/>
<path fill="#d5ae9f" d="M2433 2619l42 14l0 0l-42 -11z"/>
<path fill="#6f6054" d="M1046 2244l17 11l50 -44l-16 -7z"/>
<path fill="#75665a" d="M1061 2254l11 -1l51 -33l-11 -10zM1070 2252l12 10l51 -41l-12 -1z"/>
<path fill="#72665a" d="M1080 2262l18 -16l51 -27l-18 2zM1105 2214l11 11l49 -46l-9 15zM1164 2244l14 -24l48 -21l-15 -3zM1136 2198l15 0l48 -41l-14 9z"/>
<path fill="#6f6357" d="M1096 2247l15 0l49 -38l-13 11zM1119 2246l17 11l49 -41l-15 24zM1090 2208l17 7l51 -21l-15 0zM1140 2224l14 -11l49 -19l-14 -5zM1152 2212l14 32l47 -47l-12 -3z"/>
<path fill="#6c6057" d="M1109 2247l12 -1l51 -5l-13 -33zM1147 2258l12 -19l50 -19l-13 14z"/>
<path fill="#6f635a" d="M1134 2256l15 2l49 -24l-16 -18z"/>
<path fill="#6c6357" d="M1157 2240l15 11l48 -40l-13 10zM1178 2171l14 -9l47 -35l-13 16z"/>
<path fill="#696057" d="M1170 2251l13 -11l49 -10l-14 -19zM1217 2250l17 -5l47 -24l-17 -7zM1199 2225l14 -10l48 -22l-13 15zM1846 2117l24 -10l0 -5l-21 1z"/>
<path fill="#60574e" d="M1180 2238l13 13l50 -9l-13 -13z"/>
<path fill="#635a51" d="M1192 2251l14 16l46 -53l-12 27z"/>
<path fill="#665d54" d="M1204 2267l16 -18l46 -35l-16 2z"/>
<path fill="#666054" d="M1232 2245l15 14l45 -43l-13 5zM1224 2232l12 13l46 -45l-12 -4zM1234 2245l12 -27l48 -7l-14 -12z"/>
<path fill="#666057" d="M1245 2257l12 14l46 -38l-13 -18z"/>
<path fill="#696357" d="M1256 2272l12 -20l46 -34l-13 14zM1257 2217l17 8l46 -34l-15 18z"/>
<path fill="#69635a" d="M1267 2253l17 6l44 -44l-16 4z"/>
<path fill="#666357" d="M1281 2259l17 -5l44 -32l-16 -8zM1296 2253l19 22l42 -52l-17 -2zM1403 2262l23 -17l37 -40l-22 14zM1319 2219l17 8l44 -30l-16 1zM1334 2226l17 1l44 -17l-17 -14zM1348 2228l20 -11l43 -15l-19 8zM1220 2147l13 -16l47 -12l-14 -9zM1296 2135l14 7l45 -36l-13 18z"/>
<path fill="#6c665a" d="M1312 2275l20 -28l42 -34l-19 10zM1272 2225l14 -5l46 -14l-14 -15zM1284 2219l13 18l44 -42l-11 10zM1231 2131l11 7l48 -20l-12 1z"/>
<path fill="#636054" d="M1343 2267l18 -15l43 -34l-17 18zM1382 2266l24 -6l38 -42l-22 0z"/>
<path fill="#66665a" d="M1481 2235l28 -21l32 -22l-25 18zM1415 2223l24 0l39 -25l-21 8zM1357 2202l16 -2l44 -10l-16 -18zM1386 2214l18 -8l41 -13l-18 -24zM1309 2141l12 11l44 -39l-13 -7z"/>
<path fill="#63665a" d="M1503 2216l34 -9l30 -8l-32 -5zM1530 2208l29 -5l29 -18l-27 16zM1495 2204l18 9l34 -26l-17 5zM1509 2214l26 -18l32 -6l-24 -2zM1530 2197l31 6l29 -39l-28 28zM1629 2168l25 -6l24 -7l-22 -5zM1395 2176l16 18l40 -47l-14 2zM1398 2165l11 -10l43 -11l-13 -20zM1407 2156l13 -16l43 -14l-13 19zM1669 2144l20 -10l23 -21l-18 9zM1367 2128l13 -7l43 -9l-12 -16zM1351 2099l12 2l44 -14l-12 -16z"/>
<path fill="#606354" d="M1571 2198l25 5l27 -11l-23 3zM1345 2109l13 8l44 -27l-12 23z"/>
<path fill="#515145" d="M1706 2182l31 -21l13 -13l-29 -1z"/>
<path fill="#545448" d="M1731 2164l32 -24l10 -6l-29 17z"/>
<path fill="#454239" d="M1783 2134l36 2l4 -16l-32 8z"/>
<path fill="#544e45" d="M1838 2116l33 -8l0 0l-31 5z"/>
<path fill="#514842" d="M1866 2105l12 45l0 4l-12 -49z"/>
<path fill="#8a665d" d="M1892 2443l11 59l0 0l-11 -59zM1892 2443l11 59l0 -2l-11 -59zM1892 2444l11 56l0 -4l-11 -57z"/>
<path fill="#aea28a" d="M2092 2544l41 8l0 1l-41 -8z"/>
<path fill="#78695d" d="M1115 2224l12 2l49 -34l-12 -13z"/>
<path fill="#72695d" d="M1176 2221l16 17l45 -56l-13 18zM1157 2183l13 13l48 -41l-11 5zM1218 2205l13 -19l47 -19l-14 1z"/>
<path fill="#696054" d="M1211 2215l14 19l47 -37l-13 -4z"/>
<path fill="#635d54" d="M1243 2219l16 -2l49 -8l-16 2z"/>
<path fill="#69695d" d="M1434 2224l23 -15l39 -7l-22 -4zM1417 2220l16 -24l42 -9l-16 -11zM1319 2152l13 -7l44 -21l-13 -12zM1310 2094l11 5l45 -24l-11 -1z"/>
<path fill="#63695a" d="M1556 2204l25 -14l27 -7l-23 -18zM1576 2190l23 9l26 -37l-21 21zM1537 2191l24 2l31 -33l-22 22zM1580 2170l23 17l25 -41l-20 3zM1648 2163l29 3l20 -33l-25 23zM1421 2173l18 24l39 -41l-16 13zM1437 2197l11 -17l40 -35l-12 12zM1635 2153l19 1l26 -16l-19 -2zM1650 2154l22 5l23 -30l-20 10zM1418 2141l15 14l41 -30l-13 2zM1430 2154l15 -3l41 -14l-14 -13zM1625 2160l20 -27l26 -6l-18 0zM1655 2141l19 2l24 -22l-17 0zM1389 2127l12 12l42 -30l-13 -20zM1400 2138l13 10l41 -48l-13 8zM1411 2149l13 -26l41 -21l-13 -1zM1453 2130l14 -1l42 -20l-13 10zM1630 2128l21 3l28 -22l-19 9zM1388 2075l12 16l42 -35l-11 1zM1409 2091l12 -15l41 -16l-12 -12zM1481 2082l12 9l40 -34l-12 -2zM1655 2101l14 2l30 -30l-13 10z"/>
<path fill="#66695a" d="M1595 2199l21 -3l24 -33l-20 1zM1371 2200l17 14l42 -45l-16 20zM1412 2199l7 21l42 -43l-8 -1zM1430 2197l24 12l39 -29l-21 7zM1468 2202l21 4l36 -40l-19 16zM1361 2181l12 3l43 -33l-12 10zM1371 2185l13 -5l42 -43l-12 15zM1408 2193l15 -20l42 -3l-16 -24zM1666 2160l26 -23l21 -3l-23 -3zM1341 2143l12 12l44 -31l-12 -7zM1378 2121l12 7l43 -39l-12 24zM1367 2069l13 6l42 -23l-12 -16z"/>
<path fill="#5a5a4e" d="M1694 2157l30 -7l15 -10l-27 0zM1740 2154l31 -18l10 -6l-28 4zM1728 2143l29 -10l13 -1l-26 13zM1740 2147l26 -13l13 -8l-23 -9zM1747 2118l22 1l16 -19l-20 10zM1763 2118l22 5l13 -9l-19 -14zM1735 2096l17 27l19 -24l-17 19zM1759 2113l21 -10l17 -5l-19 8z"/>
<path fill="#57574b" d="M1717 2151l30 1l13 -20l-28 9z"/>
<path fill="#48453c" d="M1789 2130l33 -8l5 -1l-30 -3z"/>
<path fill="#5d544b" d="M1839 2114l31 -5l1 -6l-29 3z"/>
<path fill="#63574e" d="M1866 2106l12 47l0 5l-12 -58zM1866 2104l12 44l0 4l-12 -53z"/>
<path fill="#726c5d" d="M1195 2198l12 3l47 -36l-12 4zM1205 2201l15 3l46 -37l-14 -2z"/>
<path fill="#6f695d" d="M1230 2186l13 26l45 -51l-12 6zM1252 2197l13 4l46 -31l-12 4zM1264 2200l11 4l47 -23l-13 -11zM1224 2172l14 1l46 -29l-14 -10zM1236 2173l11 -4l47 -28l-12 2zM1258 2172l14 -1l44 -34l-13 -6z"/>
<path fill="#6c695a" d="M1242 2211l12 -14l46 -23l-13 -14zM1285 2214l15 -2l45 -33l-15 -4zM1240 2137l13 8l47 -17l-12 -11z"/>
<path fill="#69695a" d="M1344 2202l16 0l43 -30l-14 4zM1337 2184l15 0l42 -31l-14 -17zM1349 2184l14 -3l43 -20l-13 -9z"/>
<path fill="#66695d" d="M1450 2210l21 -8l39 -21l-20 -1zM1614 2169l21 -1l25 -18l-19 -2z"/>
<path fill="#606657" d="M1504 2190l23 5l34 -22l-21 22zM1556 2196l28 -28l29 -20l-26 16zM1517 2171l21 27l33 -44l-20 -14zM1601 2153l23 -3l27 -21l-20 28zM1640 2134l19 7l26 -21l-18 8zM1662 2132l17 -8l25 -3l-16 -25zM1361 2100l13 11l44 -26l-13 1zM1404 2099l13 17l41 -31l-12 -3zM1654 2122l18 -9l28 -7l-16 -15zM1378 2074l12 2l43 -18l-12 -7z"/>
<path fill="#666c5d" d="M1523 2196l17 -6l34 -9l-17 -7zM1599 2188l20 -20l25 -20l-19 -2zM1446 2180l8 2l42 -20l-10 -17zM1500 2187l19 -16l36 -31l-18 12zM1415 2117l11 -25l42 -13l-12 6zM1424 2093l13 21l41 -36l-12 1zM1399 2090l12 0l41 -42l-12 8z"/>
<path fill="#5a574b" d="M1750 2136l29 -4l10 -18l-26 21z"/>
<path fill="#4e4842" d="M1795 2121l31 2l5 -24l-28 11zM1801 2111l29 -12l4 18l-26 -6zM1837 2101l20 -1l3 8l-18 -13z"/>
<path fill="#514b42" d="M1841 2106l29 -3l0 6l-27 6z"/>
<path fill="#60544e" d="M1866 2100l12 59l0 -19l-12 -34zM1866 2100l12 53l0 -10l-12 -42z"/>
<path fill="#51423c" d="M1877 2150l8 166l0 -11l-8 -172z"/>
<path fill="#4b3933" d="M1884 2308l9 141l0 -1l-9 -151z"/>
<path fill="#c99f8d" d="M1972 2520l19 1l0 -1l-18 -4z"/>
<path fill="#6f695a" d="M1190 2163l11 1l48 -30l-11 -6z"/>
<path fill="#6f6c5d" d="M1246 2170l14 2l45 -41l-13 10zM1280 2164l14 15l45 -38l-13 7zM1250 2145l15 -7l47 -19l-14 8zM1263 2137l14 10l46 -15l-13 -13z"/>
<path fill="#6c6c5d" d="M1292 2178l13 -3l44 -36l-12 2zM1303 2174l12 11l44 -35l-12 -12zM1324 2180l15 4l43 -48l-14 17zM1271 2123l12 -2l45 -26l-11 -5z"/>
<path fill="#696c5d" d="M1382 2180l15 -3l42 -27l-15 -13zM1330 2146l12 -3l45 -26l-13 7zM1315 2136l11 -13l44 -26l-12 -2zM1341 2096l12 4l44 -28l-13 -2zM1348 2079l12 0l42 -35l-12 -2z"/>
<path fill="#696f60" d="M1453 2181l16 10l39 -43l-14 13zM1466 2191l21 -7l38 -32l-19 -4zM1484 2185l19 1l37 -35l-18 1zM1358 2080l11 -11l43 -33l-12 9z"/>
<path fill="#636c5d" d="M1535 2198l19 -21l32 -27l-18 3zM1564 2187l22 -21l30 -23l-20 4zM1443 2150l16 24l39 -48l-14 11zM1456 2174l16 -14l39 -16l-15 -19zM1469 2161l12 -12l41 -15l-12 10zM1433 2129l13 19l40 -45l-12 2zM1444 2148l12 -19l41 -11l-13 -16zM1446 2105l13 1l41 -19l-13 -9zM1468 2109l12 -2l40 -33l-11 25zM1629 2114l15 0l32 -15l-15 -2zM1440 2087l12 2l40 -41l-12 14zM1459 2083l13 -1l41 -20l-12 -5zM1502 2103l12 -25l39 -20l-12 12zM1544 2107l13 -17l37 -24l-12 9zM1608 2102l14 -9l35 -23l-13 17zM1620 2093l14 14l33 -30l-13 -6zM1632 2107l14 -4l32 -26l-13 0zM1643 2104l15 -3l31 -18l-14 -6z"/>
<path fill="#697263" d="M1552 2178l16 7l31 -39l-15 5zM1487 2166l15 -14l40 -21l-14 5zM1490 2130l15 19l38 -37l-14 -3zM1521 2140l14 -5l39 -27l-14 12z"/>
<path fill="#574e48" d="M1865 2106l13 35l0 1l-13 -40z"/>
<path fill="#666f60" d="M1480 2149l9 17l41 -30l-10 -1zM1590 2152l20 -4l30 -25l-18 11zM1465 2128l15 13l40 -29l-14 -3zM1503 2148l12 -10l38 -22l-12 -4zM1513 2138l10 2l40 -21l-11 -3zM1604 2124l15 15l31 -29l-14 0zM1435 2113l13 -8l41 -27l-13 0zM1478 2107l13 16l39 -33l-12 -15zM1489 2123l13 -10l39 -35l-12 12zM1511 2115l14 -2l39 -28l-13 18zM1534 2116l13 5l38 -23l-13 -6zM1578 2125l16 -10l35 -26l-14 9z"/>
<path fill="#697260" d="M1499 2153l20 4l38 -24l-18 -2zM1515 2157l19 -1l37 -23l-17 -1z"/>
<path fill="#667260" d="M1530 2157l19 -13l36 -15l-17 4zM1562 2158l19 -2l32 -37l-17 18zM1477 2141l15 -11l39 -20l-13 2zM1547 2136l17 1l36 -26l-15 10zM1561 2137l17 -4l35 -21l-16 0zM1575 2133l18 8l33 -27l-16 -3zM1589 2142l18 -19l32 -13l-16 4zM1522 2114l15 3l37 -24l-13 -7z"/>
<path fill="#636f5d" d="M1545 2144l21 14l33 -21l-18 -8zM1500 2113l13 3l39 -13l-13 -25zM1545 2120l11 4l38 -39l-11 14zM1554 2124l14 -11l37 -28l-13 1zM1591 2116l15 0l35 -13l-15 -14zM1603 2115l17 3l33 -19l-15 3zM1616 2118l16 -4l32 -17l-14 3zM1555 2091l13 7l37 -32l-13 0zM1566 2097l13 6l36 -31l-13 -7z"/>
<path fill="#697563" d="M1578 2156l16 -5l31 -17l-15 -15z"/>
<path fill="#636c5a" d="M1607 2148l22 10l27 -31l-20 -3zM1641 2114l17 8l29 -30l-15 7zM1512 2079l13 16l39 -31l-13 -6z"/>
<path fill="#605d51" d="M1734 2131l24 -10l16 -6l-22 0zM1786 2101l17 11l13 -14l-15 -12zM1823 2103l21 -1l5 -5l-17 -8z"/>
<path fill="#5d5a4e" d="M1751 2120l25 10l13 -10l-22 -5zM1779 2122l23 0l11 -17l-21 8zM1803 2109l21 3l9 -12l-19 -1zM1810 2103l20 0l9 -15l-17 12z"/>
<path fill="#635d51" d="M1845 2110l25 -5l0 1l-23 10z"/>
<path fill="#5a5148" d="M1865 2102l13 39l0 8l-13 -46z"/>
<path fill="#362d27" d="M1877 2134l8 170l0 4l-8 -168z"/>
<path fill="#6f6c60" d="M1281 2121l12 10l45 -39l-12 2z"/>
<path fill="#6f6f60" d="M1291 2131l14 -8l44 -31l-13 0z"/>
<path fill="#6c6f60" d="M1303 2122l13 14l44 -41l-13 -4zM1320 2099l11 -3l45 -32l-12 11zM1330 2097l13 -1l43 -25l-12 -6z"/>
<path fill="#60665a" d="M1422 2123l13 7l42 -24l-13 -4z"/>
<path fill="#667263" d="M1532 2135l18 1l38 -15l-17 -13z"/>
<path fill="#666f5d" d="M1616 2138l18 -11l30 -10l-17 -8zM1450 2089l12 -6l40 -26l-12 -8zM1470 2082l12 1l41 -28l-12 7z"/>
<path fill="#5a544b" d="M1795 2123l24 -17l8 3l-21 -3zM1833 2116l22 -12l3 -6l-19 1zM1848 2104l23 0l0 2l-20 -7z"/>
<path fill="#575148" d="M1812 2107l25 3l5 4l-22 -4z"/>
<path fill="#483630" d="M1884 2300l9 152l0 -5l-9 -148z"/>
<path fill="#c69c90" d="M2433 2614l42 17l0 2l-42 -19z"/>
<path fill="#d2a296" d="M2468 2629l43 13l0 2l-43 -14zM2468 2629l43 13l0 1l-43 -10z"/>
<path fill="#636354" d="M1299 2101l13 -7l44 -19l-13 -17z"/>
<path fill="#5d6354" d="M1384 2116l11 -22l42 -27l-12 5zM1393 2094l13 7l42 -17l-13 -17zM1668 2114l17 -14l27 -10l-16 18zM1666 2103l15 -8l29 4l-14 -27z"/>
<path fill="#636f60" d="M1565 2112l16 13l36 -26l-14 -15z"/>
<path fill="#5d5a51" d="M1774 2102l20 15l14 -8l-18 -11zM1788 2117l21 -9l12 -10l-19 10z"/>
<path fill="#605a51" d="M1818 2112l22 3l5 -17l-19 1z"/>
<path fill="#dbb7a5" d="M2468 2630l43 14l0 -2l-43 -13z"/>
<path fill="#5d6357" d="M1418 2076l12 -5l43 -8l-12 -3zM1428 2070l13 17l42 -25l-12 0z"/>
<path fill="#5d6957" d="M1585 2090l14 -1l38 -18l-13 8z"/>
<path fill="#5a6051" d="M1701 2094l16 1l25 -4l-14 -12z"/>
<path fill="#5a574e" d="M1797 2112l20 -11l12 -3l-17 -2z"/>
<path fill="#4e453f" d="M1865 2100l13 43l0 2l-13 -36z"/>
<path fill="#483c36" d="M1877 2136l8 172l0 -8l-8 -163z"/>
<path fill="#42332d" d="M1884 2300l9 145l0 3l-8 -156z"/>
<path fill="#f6c6b7" d="M2503 2640l44 9l0 0l-44 -8z"/>
</g></g></g><clipPath id="obt"><polygon points="97.2,232.4 98.3,232.4 99.4,232.5 100.5,232.5 101.5,232.5 102.6,232.5 103.6,232.6 104.7,232.6 105.7,232.6 106.7,232.7 107.8,232.7 108.8,232.8 109.8,232.8 110.9,232.9 111.9,232.9 113.0,233.0 114.0,233.0 115.1,233.0 116.1,233.1 117.2,233.1 118.3,233.1 119.4,233.1 120.5,233.1 121.6,233.1 122.8,233.1 123.9,233.1 125.1,233.0 126.3,233.0 127.5,232.9 128.7,232.8 130.0,232.7 131.4,232.5 132.9,232.3 134.4,232.0 136.1,231.6 137.7,231.2 139.5,230.8 141.3,230.3 143.2,229.8 145.0,229.2 147.0,228.6 148.9,228.0 150.9,227.4 152.9,226.7 154.9,226.0 157.0,225.4 159.0,224.7 161.0,224.0 163.0,223.3 165.1,222.6 167.1,221.9 169.2,221.1 171.4,220.3 173.6,219.4 175.9,218.5 178.2,217.5 180.6,216.5 183.0,215.5 185.4,214.5 186.9,211.0 185.1,209.9 183.3,209.7 181.6,209.5 179.8,209.3 178.0,209.1 176.3,208.9 174.6,208.7 172.8,208.5 171.1,208.4 169.4,208.2 167.7,208.0 166.0,207.8 164.3,207.6 162.6,207.4 160.9,207.2 159.2,207.1 157.5,206.9 155.8,206.7 154.2,206.5 152.5,206.3 150.9,206.2 149.2,206.0 147.6,205.8 145.9,205.6 144.3,205.4 142.7,205.3 141.1,205.1 139.5,204.9 137.8,204.7 137.8,204.7 133.8,207.2 129.7,209.6 125.5,212.2 121.1,214.8 116.6,217.6 111.9,220.4 107.1,223.3 102.1,226.3 97.2,232.4"/></clipPath><g clip-path="url(#obt)"><path fill="#5aa08a" opacity="0.60" d="M139.0 219.2h1.8v1.4h-1.8zM136.7 228.6h2.7v1.4h-2.7zM168.7 209.8h2.3v1.1h-2.3zM162.8 208.5h1.6v1.3h-1.6zM116.3 212.1h2.1v1.2h-2.1zM103.8 207.3h1.9v1.5h-1.9zM123.5 209.7h1.5v1.1h-1.5zM147.4 228.9h2.0v1.8h-2.0zM113.0 215.2h1.7v1.3h-1.7zM177.1 232.6h2.8v1.5h-2.8zM183.5 205.4h2.4v1.6h-2.4zM177.9 225.7h3.0v1.8h-3.0zM153.2 215.6h2.6v1.0h-2.6zM162.5 215.8h2.6v1.3h-2.6zM172.4 207.1h1.5v1.5h-1.5zM140.3 211.3h2.4v1.5h-2.4zM100.9 224.8h2.0v1.7h-2.0zM143.9 222.2h2.2v1.7h-2.2zM161.9 228.0h2.8v1.1h-2.8zM144.1 228.7h2.0v1.3h-2.0zM159.2 206.6h2.2v1.9h-2.2zM114.6 211.2h2.0v1.3h-2.0zM152.8 207.7h1.6v1.4h-1.6zM119.7 210.4h2.3v1.3h-2.3zM98.8 210.4h3.2v1.9h-3.2zM107.6 219.1h2.4v1.6h-2.4zM113.5 217.6h2.2v1.1h-2.2zM160.4 229.2h2.2v1.5h-2.2zM176.1 224.5h2.9v1.3h-2.9zM129.1 222.9h1.9v1.8h-1.9zM156.9 214.3h2.5v1.4h-2.5zM132.1 233.1h2.8v1.7h-2.8zM185.1 205.4h2.9v1.2h-2.9zM119.7 230.4h2.4v1.9h-2.4zM148.1 233.0h3.0v1.0h-3.0zM182.0 216.7h2.6v1.3h-2.6zM122.8 223.3h2.0v1.6h-2.0zM115.5 206.2h1.6v1.3h-1.6zM147.9 221.5h2.9v1.1h-2.9zM153.1 207.7h1.5v1.0h-1.5zM157.8 220.4h2.1v1.4h-2.1zM116.1 214.5h3.1v1.0h-3.1zM107.9 227.7h2.9v1.1h-2.9zM185.9 214.0h2.9v1.8h-2.9zM124.4 225.3h2.0v1.0h-2.0zM132.0 210.3h3.0v1.4h-3.0zM122.4 205.4h2.5v1.5h-2.5zM119.2 211.0h2.4v1.7h-2.4zM157.5 218.8h2.8v1.6h-2.8zM183.1 222.9h2.8v1.7h-2.8zM118.3 225.1h1.8v1.1h-1.8zM122.4 209.6h2.0v1.4h-2.0zM131.7 219.7h1.9v1.9h-1.9zM168.6 225.0h1.7v1.1h-1.7zM161.3 215.0h1.6v1.3h-1.6zM123.2 215.4h2.0v1.2h-2.0zM126.7 231.6h2.8v1.2h-2.8zM98.6 216.1h3.4v1.7h-3.4zM146.4 214.7h1.7v1.6h-1.7zM185.7 219.4h3.1v1.1h-3.1zM109.4 230.4h2.5v1.5h-2.5zM177.6 211.6h3.1v1.1h-3.1zM143.8 212.2h2.1v1.5h-2.1zM139.3 216.4h2.8v1.7h-2.8zM178.4 219.7h2.3v1.8h-2.3zM126.0 206.3h3.2v1.6h-3.2zM108.4 217.4h2.2v1.0h-2.2zM177.9 229.4h1.7v1.6h-1.7zM168.1 215.3h3.2v1.5h-3.2zM157.0 212.6h1.6v1.9h-1.6zM136.7 219.7h1.5v1.5h-1.5zM155.0 214.9h3.0v1.4h-3.0zM142.5 228.7h2.4v1.9h-2.4zM141.1 211.0h2.4v0.9h-2.4zM150.7 225.0h3.1v1.1h-3.1zM101.0 213.7h2.5v1.2h-2.5zM110.2 217.7h1.5v1.1h-1.5zM129.5 226.5h3.2v0.9h-3.2zM100.9 209.0h1.5v1.2h-1.5zM135.1 209.0h2.8v1.5h-2.8zM147.9 212.2h1.8v1.4h-1.8zM166.4 222.5h2.2v1.3h-2.2zM155.5 220.3h2.5v1.7h-2.5zM161.4 224.5h3.3v1.7h-3.3zM122.8 226.0h1.9v1.1h-1.9zM126.3 209.8h1.7v1.0h-1.7zM103.4 207.6h1.6v1.4h-1.6zM102.0 212.0h3.0v1.3h-3.0zM161.4 211.9h2.1v1.2h-2.1zM113.8 205.1h3.3v1.9h-3.3zM101.0 212.9h3.4v1.0h-3.4zM126.8 205.5h2.4v1.3h-2.4zM122.6 215.9h2.9v1.9h-2.9zM132.1 224.4h3.0v1.0h-3.0zM147.9 208.8h1.9v1.1h-1.9zM146.6 223.4h2.0v1.8h-2.0zM163.7 210.7h2.5v1.6h-2.5zM154.1 215.5h1.8v1.5h-1.8zM176.8 229.0h2.4v1.5h-2.4zM107.4 228.5h2.3v1.6h-2.3zM143.4 205.7h2.3v1.5h-2.3zM163.4 213.6h3.4v1.3h-3.4zM173.9 226.6h3.2v1.7h-3.2zM162.4 210.3h2.3v0.9h-2.3zM127.7 213.7h2.0v1.5h-2.0zM122.9 229.0h2.3v1.8h-2.3zM132.0 225.8h2.3v1.0h-2.3zM173.4 221.5h1.6v1.8h-1.6zM125.5 223.8h3.3v1.9h-3.3zM116.7 217.6h2.3v1.8h-2.3zM126.7 218.6h3.2v1.8h-3.2zM132.6 213.2h1.9v1.3h-1.9zM140.6 211.3h2.4v0.9h-2.4zM149.2 204.9h2.2v1.6h-2.2zM116.1 216.5h3.1v1.0h-3.1zM167.0 207.7h1.7v1.5h-1.7zM143.8 215.8h3.1v1.3h-3.1zM161.4 217.0h2.5v1.9h-2.5zM100.4 224.6h2.5v1.2h-2.5zM110.8 231.7h3.0v1.0h-3.0zM108.0 226.4h3.2v1.8h-3.2zM151.8 220.2h2.5v1.6h-2.5zM162.6 231.5h2.5v1.2h-2.5zM143.8 221.2h3.0v0.9h-3.0zM166.3 212.2h2.5v1.2h-2.5zM113.6 208.2h2.5v1.5h-2.5zM184.9 205.4h2.2v1.0h-2.2zM111.8 209.7h1.8v0.9h-1.8zM129.2 229.8h2.2v1.4h-2.2zM176.3 209.4h3.4v1.2h-3.4zM185.0 230.8h3.0v1.6h-3.0z"/><path fill="#d89282" opacity="0.70" d="M153.7 227.2h2.0v1.0h-2.0zM169.8 224.4h3.4v1.9h-3.4zM155.8 222.2h1.4v1.4h-1.4zM102.5 210.1h1.5v1.4h-1.5zM156.6 217.7h3.4v1.9h-3.4zM172.5 224.8h1.9v1.2h-1.9zM183.1 228.8h1.8v1.8h-1.8zM167.0 212.4h2.1v1.9h-2.1zM165.2 208.1h1.6v1.0h-1.6zM170.5 211.8h2.9v1.8h-2.9zM151.3 216.7h1.5v1.9h-1.5zM118.6 224.7h3.0v1.5h-3.0zM115.5 205.2h2.3v1.0h-2.3zM109.8 205.7h3.2v1.6h-3.2zM125.8 233.1h2.5v1.6h-2.5zM179.7 212.0h2.0v1.6h-2.0zM126.5 223.6h2.3v1.7h-2.3zM185.3 217.6h1.5v1.8h-1.5zM118.5 208.7h2.7v1.3h-2.7zM115.1 218.2h1.4v1.4h-1.4zM161.2 209.8h2.1v1.6h-2.1zM145.3 227.2h3.2v1.8h-3.2zM117.1 219.7h2.9v1.5h-2.9zM173.0 230.3h3.1v1.9h-3.1zM144.2 221.0h2.5v1.4h-2.5zM152.6 231.0h3.0v0.9h-3.0zM134.3 219.8h1.8v1.5h-1.8zM152.0 229.0h2.9v1.7h-2.9zM178.1 213.7h3.2v1.1h-3.2zM186.7 229.9h1.9v1.6h-1.9zM135.0 227.2h2.2v1.6h-2.2zM114.2 206.8h1.5v1.5h-1.5zM143.4 220.9h1.8v1.1h-1.8zM138.6 226.4h2.3v1.4h-2.3zM135.8 221.8h2.8v1.7h-2.8zM112.0 219.3h3.2v1.7h-3.2zM162.0 206.8h2.3v0.9h-2.3zM133.2 206.2h2.2v1.0h-2.2zM150.8 226.3h3.3v1.1h-3.3zM123.7 205.1h1.5v1.1h-1.5zM170.4 221.9h2.6v1.4h-2.6zM157.1 217.7h2.6v1.3h-2.6zM182.6 225.6h1.6v1.8h-1.6zM167.5 222.5h1.9v1.6h-1.9zM176.0 205.9h1.9v1.3h-1.9zM135.5 215.2h3.2v1.0h-3.2zM166.7 206.9h2.7v1.0h-2.7zM129.3 225.3h1.6v1.6h-1.6zM119.5 215.0h2.1v1.3h-2.1zM172.2 220.7h2.9v1.8h-2.9zM167.9 207.1h2.9v1.8h-2.9zM104.8 222.7h2.9v1.5h-2.9zM135.0 216.7h2.9v1.9h-2.9zM130.9 209.5h2.2v1.2h-2.2zM184.2 206.4h1.6v1.5h-1.6zM166.8 209.8h2.3v1.5h-2.3zM178.7 205.8h1.8v1.1h-1.8zM170.5 218.3h3.2v1.8h-3.2zM140.5 211.0h3.3v1.7h-3.3zM156.2 211.5h2.3v1.3h-2.3zM121.1 219.9h2.9v0.9h-2.9zM149.8 229.1h3.0v1.3h-3.0zM125.1 213.6h2.0v1.4h-2.0zM131.0 224.9h2.5v1.4h-2.5zM132.4 223.7h1.8v1.6h-1.8zM171.3 207.4h1.6v1.6h-1.6zM105.3 211.2h1.6v1.3h-1.6zM156.4 222.0h2.1v1.2h-2.1zM155.5 207.8h2.4v1.7h-2.4zM171.2 222.1h2.9v1.8h-2.9zM181.9 222.5h1.6v1.1h-1.6zM148.9 224.5h3.3v1.3h-3.3zM170.5 221.8h3.0v1.2h-3.0zM146.3 206.9h1.8v1.9h-1.8zM181.4 223.4h2.7v1.6h-2.7zM100.6 223.8h3.3v1.5h-3.3zM150.8 226.1h2.6v1.0h-2.6zM159.5 219.7h2.0v1.3h-2.0zM135.0 227.6h2.9v1.5h-2.9zM182.5 204.8h2.0v1.2h-2.0zM149.7 206.1h3.2v1.2h-3.2zM139.6 210.6h3.2v1.8h-3.2zM114.7 228.5h2.3v1.1h-2.3zM176.1 233.0h2.7v1.1h-2.7zM176.1 206.2h2.9v1.2h-2.9zM181.3 217.4h1.8v1.2h-1.8zM160.9 210.3h1.9v1.6h-1.9zM165.0 211.7h2.5v1.1h-2.5zM177.6 232.8h2.3v1.7h-2.3zM112.8 226.9h2.6v1.1h-2.6zM120.8 227.4h3.2v1.5h-3.2zM145.9 227.2h1.7v1.2h-1.7zM165.6 225.6h1.9v1.5h-1.9zM131.4 226.9h2.1v1.1h-2.1zM146.5 209.4h1.8v1.4h-1.8zM158.1 229.2h2.2v1.0h-2.2zM159.2 215.0h1.4v1.1h-1.4zM161.3 212.4h1.7v1.8h-1.7zM126.1 215.7h3.2v1.2h-3.2zM166.3 219.5h2.2v1.1h-2.2zM135.2 220.2h2.8v1.2h-2.8zM162.3 223.6h1.8v1.2h-1.8zM123.4 214.5h1.5v0.9h-1.5zM157.3 230.8h2.8v1.6h-2.8zM182.8 229.4h2.7v1.0h-2.7zM135.6 215.9h2.2v1.2h-2.2zM141.8 212.7h2.2v1.4h-2.2zM112.2 223.6h1.6v1.2h-1.6zM126.4 211.9h2.1v1.8h-2.1zM152.4 231.8h2.6v1.8h-2.6zM131.4 230.5h1.7v1.4h-1.7zM110.6 210.2h2.8v1.1h-2.8zM184.1 214.2h3.2v1.2h-3.2zM166.4 218.4h3.1v1.8h-3.1zM169.0 208.3h2.7v1.1h-2.7zM180.9 232.8h2.8v1.0h-2.8zM119.7 218.6h2.0v0.9h-2.0zM140.4 215.1h1.5v1.0h-1.5zM177.2 213.5h1.8v1.4h-1.8zM113.0 205.5h1.6v1.0h-1.6zM129.4 226.1h2.4v0.9h-2.4zM116.0 232.0h2.5v1.7h-2.5zM166.0 232.7h3.3v1.3h-3.3zM99.3 221.1h2.2v1.3h-2.2zM156.1 227.7h2.7v1.3h-2.7zM122.2 230.4h1.6v1.2h-1.6zM113.1 207.8h2.1v1.3h-2.1zM126.0 226.1h3.4v1.3h-3.4zM126.1 210.0h3.4v1.0h-3.4zM134.8 215.7h2.6v1.5h-2.6zM150.5 231.2h2.3v1.9h-2.3zM174.8 210.3h2.7v1.0h-2.7zM110.8 215.1h1.5v1.2h-1.5zM174.7 228.4h1.8v1.3h-1.8zM103.7 232.8h2.7v1.8h-2.7zM159.5 209.9h2.8v1.4h-2.8zM151.9 214.9h3.4v1.6h-3.4zM163.2 215.0h2.2v1.0h-2.2zM142.6 231.5h2.8v1.1h-2.8zM159.5 223.8h2.2v1.0h-2.2zM105.1 215.1h2.8v1.6h-2.8zM116.8 232.8h2.1v1.0h-2.1zM132.6 225.8h1.7v1.5h-1.7zM153.1 225.8h3.0v1.6h-3.0zM181.9 230.2h2.1v1.4h-2.1zM108.4 220.9h1.6v1.4h-1.6zM123.6 226.8h2.2v1.0h-2.2zM106.6 228.9h3.3v1.4h-3.3zM183.6 216.5h1.7v1.7h-1.7zM163.1 225.0h2.5v0.9h-2.5zM154.9 228.8h2.2v1.0h-2.2zM135.7 218.3h2.3v1.4h-2.3zM101.7 228.5h2.5v1.4h-2.5zM133.0 211.1h2.1v1.2h-2.1zM133.7 232.2h2.6v1.9h-2.6zM130.0 221.7h2.0v1.5h-2.0zM102.0 207.4h1.9v1.7h-1.9zM102.3 226.4h2.6v1.5h-2.6zM180.3 222.9h3.3v1.7h-3.3zM185.4 230.8h3.0v1.3h-3.0zM125.9 225.6h1.6v1.7h-1.6zM156.9 220.3h1.6v1.2h-1.6zM175.5 218.1h2.3v1.3h-2.3zM115.3 214.6h2.1v1.5h-2.1zM126.6 224.5h1.9v1.6h-1.9zM148.8 212.0h3.0v1.3h-3.0zM167.5 210.9h2.5v1.5h-2.5zM162.4 212.3h1.4v1.4h-1.4zM119.9 213.1h1.7v1.4h-1.7zM121.6 212.8h2.4v1.8h-2.4zM179.6 226.7h1.5v1.8h-1.5zM129.7 227.1h2.3v1.3h-2.3zM118.0 231.7h3.3v1.6h-3.3zM103.6 230.3h2.5v1.0h-2.5zM102.7 223.6h1.5v1.5h-1.5zM167.6 219.5h2.5v1.1h-2.5zM134.6 218.5h2.4v1.5h-2.4zM184.4 220.7h2.0v1.2h-2.0zM183.0 205.4h3.1v1.6h-3.1zM171.9 216.3h2.1v0.9h-2.1zM157.7 217.7h3.2v1.1h-3.2zM118.6 223.3h2.4v1.2h-2.4zM175.8 210.0h2.0v1.2h-2.0zM165.7 211.7h2.2v1.9h-2.2zM186.0 215.7h3.0v1.7h-3.0zM127.5 227.2h2.0v1.5h-2.0zM183.3 231.2h3.3v1.0h-3.3zM161.3 231.6h1.7v1.6h-1.7zM137.9 215.3h1.9v1.8h-1.9zM103.6 210.0h1.5v1.2h-1.5zM104.5 211.1h2.0v1.7h-2.0zM180.1 219.0h2.1v1.5h-2.1zM113.6 205.2h1.5v1.2h-1.5zM112.5 225.3h2.6v1.1h-2.6zM182.2 212.8h2.8v1.2h-2.8zM143.3 215.5h2.4v1.2h-2.4zM122.3 217.3h3.0v1.1h-3.0zM171.5 227.4h3.2v1.4h-3.2zM141.1 218.4h3.1v1.4h-3.1zM127.9 210.3h3.1v1.7h-3.1zM169.8 227.5h3.0v1.2h-3.0z"/><path fill="#2a2420" opacity="0.45" d="M103.5 226.5h3.1v1.3h-3.1zM139.3 232.6h1.5v1.5h-1.5zM179.2 229.7h2.6v1.2h-2.6zM122.0 209.5h2.0v1.1h-2.0zM134.3 222.5h2.0v1.7h-2.0zM98.9 208.6h1.4v1.7h-1.4zM162.0 208.4h2.7v1.8h-2.7zM168.6 231.5h2.7v1.1h-2.7zM128.5 207.1h2.5v1.7h-2.5zM159.0 231.6h3.3v1.0h-3.3zM180.0 212.4h1.7v1.3h-1.7zM170.3 230.3h2.0v1.1h-2.0zM139.5 209.5h2.6v1.0h-2.6zM104.6 220.8h2.8v1.2h-2.8zM161.4 207.5h2.3v1.9h-2.3zM160.7 209.9h3.1v1.5h-3.1zM103.7 230.9h2.4v1.5h-2.4zM166.0 228.0h2.1v1.3h-2.1zM139.2 208.8h2.5v1.1h-2.5zM172.4 229.0h2.3v1.5h-2.3zM131.7 231.1h1.8v1.5h-1.8zM110.8 205.3h2.3v1.3h-2.3zM167.7 206.5h2.1v1.1h-2.1zM184.2 205.9h2.9v1.9h-2.9zM177.0 208.8h2.0v1.3h-2.0zM152.0 205.9h2.7v1.0h-2.7zM150.2 229.9h2.2v1.7h-2.2zM161.1 216.2h3.1v1.1h-3.1zM160.0 205.4h2.1v1.0h-2.1zM133.5 206.3h2.6v1.4h-2.6zM97.3 220.2h1.9v1.4h-1.9zM111.5 222.4h2.5v1.3h-2.5zM109.2 224.3h2.7v1.3h-2.7zM174.7 232.9h3.1v1.6h-3.1zM168.2 225.6h3.0v1.7h-3.0zM98.1 219.0h2.0v1.4h-2.0zM183.5 211.0h2.8v1.1h-2.8zM147.0 227.1h1.9v1.7h-1.9zM134.8 212.7h3.3v1.2h-3.3zM177.5 211.9h2.1v1.7h-2.1zM99.3 222.7h2.1v1.4h-2.1zM186.6 206.6h2.2v1.6h-2.2zM166.8 208.1h1.4v1.8h-1.4zM150.1 213.7h2.4v1.7h-2.4zM135.4 229.1h2.0v1.6h-2.0zM164.6 215.5h2.3v1.0h-2.3zM157.7 231.1h2.8v1.3h-2.8zM178.8 217.7h1.9v1.7h-1.9zM144.4 214.8h1.8v1.6h-1.8zM181.0 205.3h2.6v1.6h-2.6zM110.7 211.9h3.0v1.2h-3.0zM116.9 227.4h2.7v1.4h-2.7zM152.7 215.2h2.6v1.2h-2.6zM148.7 222.7h1.6v1.4h-1.6z"/><path fill="#f0d8c8" opacity="0.60" d="M175.3 216.6h3.1v1.5h-3.1zM153.7 223.3h3.3v1.6h-3.3zM140.9 205.6h1.5v1.7h-1.5zM112.7 214.3h1.7v1.0h-1.7zM143.5 216.1h2.5v1.4h-2.5zM142.4 232.6h1.9v1.8h-1.9zM163.9 226.8h2.2v1.8h-2.2zM135.3 212.1h2.1v1.6h-2.1zM179.1 217.2h2.0v1.2h-2.0zM183.9 223.2h1.5v1.4h-1.5zM179.2 216.4h2.7v1.8h-2.7zM170.9 228.7h1.6v1.2h-1.6zM179.4 207.3h1.8v1.4h-1.8zM138.6 232.2h2.7v0.9h-2.7zM98.1 232.9h1.8v1.5h-1.8zM131.4 221.5h1.4v1.1h-1.4zM178.2 207.5h1.6v1.4h-1.6zM102.8 230.1h2.2v1.3h-2.2zM122.7 211.9h1.6v1.2h-1.6zM136.7 226.7h3.0v1.1h-3.0zM150.0 207.3h1.7v1.2h-1.7zM153.7 220.8h3.4v1.2h-3.4zM165.3 228.7h2.5v1.3h-2.5zM140.6 216.5h2.2v1.0h-2.2zM155.4 231.3h3.0v1.4h-3.0zM161.0 211.9h2.3v1.4h-2.3zM153.8 216.8h2.2v1.4h-2.2zM186.2 216.0h2.7v1.6h-2.7zM145.1 207.9h2.0v1.4h-2.0zM126.6 213.8h3.0v1.5h-3.0zM162.3 223.9h2.5v1.0h-2.5zM163.7 218.2h1.4v1.4h-1.4z"/></g><g clip-path="url(#ob)"><path d="M99.1 235.3l1.2 5.2l1.2 -5.2z" fill="#f8fffc" opacity="0.71"/><path d="M100.6 235.4l1.1 10.4l1.1 -10.4z" fill="#e8fff8" opacity="0.89"/><path d="M105.9 235.6l1.3 7.0l1.3 -7.0z" fill="#f8fffc" opacity="0.89"/><path d="M107.2 235.7l1.4 6.0l1.4 -6.0z" fill="#e8fff8" opacity="0.70"/><path d="M108.6 235.8l1.4 8.2l1.4 -8.2z" fill="#e8fff8" opacity="0.75"/><path d="M110.2 235.8l1.2 10.1l1.2 -10.1z" fill="#b0e0d4" opacity="0.80"/><path d="M112.6 235.9l1.6 9.0l1.6 -9.0z" fill="#c8f0e4" opacity="0.78"/><path d="M114.4 236.0l1.2 10.6l1.2 -10.6z" fill="#f8fffc" opacity="0.71"/><path d="M116.0 236.0l1.0 5.2l1.0 -5.2z" fill="#e8fff8" opacity="0.67"/><path d="M117.4 236.0l1.0 12.3l1.0 -12.3z" fill="#f8fffc" opacity="0.89"/><path d="M118.9 236.1l1.0 7.7l1.0 -7.7z" fill="#b0e0d4" opacity="0.57"/><path d="M121.5 236.0l1.4 5.4l1.4 -5.4z" fill="#c8f0e4" opacity="0.65"/><path d="M123.3 236.0l1.1 7.9l1.1 -7.9z" fill="#b0e0d4" opacity="0.57"/><path d="M126.1 235.8l1.6 9.2l1.6 -9.2z" fill="#b0e0d4" opacity="0.63"/><path d="M127.9 235.7l1.5 11.3l1.5 -11.3z" fill="#e8fff8" opacity="0.59"/><path d="M129.9 235.4l1.4 10.5l1.4 -10.5z" fill="#f8fffc" opacity="0.76"/><path d="M132.4 235.0l0.9 5.1l0.9 -5.1z" fill="#c8f0e4" opacity="0.82"/><path d="M138.7 233.4l1.4 7.2l1.4 -7.2z" fill="#f8fffc" opacity="0.64"/><path d="M141.7 232.7l0.8 5.3l0.8 -5.3z" fill="#e8fff8" opacity="0.70"/><path d="M146.2 231.1l1.5 12.6l1.5 -12.6z" fill="#e8fff8" opacity="0.74"/><path d="M151.5 229.4l1.5 9.9l1.5 -9.9z" fill="#b0e0d4" opacity="0.72"/><path d="M154.2 228.5l1.5 7.0l1.5 -7.0z" fill="#c8f0e4" opacity="0.79"/><path d="M157.0 227.6l1.4 5.4l1.4 -5.4z" fill="#c8f0e4" opacity="0.64"/><path d="M159.9 226.7l1.1 8.2l1.1 -8.2z" fill="#b0e0d4" opacity="0.81"/><path d="M162.7 225.7l1.0 6.7l1.0 -6.7z" fill="#b0e0d4" opacity="0.90"/><path d="M165.1 224.8l1.3 12.4l1.3 -12.4z" fill="#f8fffc" opacity="0.66"/><path d="M171.0 222.6l1.1 9.1l1.1 -9.1z" fill="#b0e0d4" opacity="0.85"/></g><polygon points="52.4,299.9 53.6,300.6 54.8,301.4 56.0,302.0 57.2,302.2 58.3,302.3 59.5,302.7 60.6,303.2 61.8,303.6 63.0,304.0 64.2,304.6 65.4,305.1 66.6,305.5 67.7,305.6 68.9,305.9 70.1,306.4 71.3,307.0 72.5,307.5 73.7,307.8 74.9,308.1 76.1,308.4 77.3,308.4 78.5,308.5 79.7,308.9 81.0,309.4 82.2,309.9 83.4,310.3 84.7,310.9 85.9,311.1 87.1,311.1 88.3,311.2 89.6,311.7 90.8,312.4 92.1,313.0 93.3,313.2 94.6,313.1 95.8,313.2 97.1,313.6 98.3,314.1 99.6,314.6 100.9,315.0 102.2,315.6 103.5,316.2 104.8,316.6 106.1,317.0 107.4,317.4 108.7,317.8 110.0,318.2 111.3,318.5 112.6,318.7 113.9,319.1 115.2,319.6 116.5,320.1 117.8,320.2 119.1,320.3 120.4,320.6 121.8,321.0 123.1,321.5 124.5,321.5 125.8,321.5 127.1,321.9 131.2,323.5 135.3,324.8 139.5,325.9 143.7,327.2 147.9,328.7 152.1,330.1 156.4,331.3 160.8,332.3 165.1,333.3 169.5,334.6 174.0,336.3 178.5,338.0 183.0,339.8 187.6,341.8 192.1,343.7 196.8,345.5 201.5,346.8 206.2,347.8 211.0,348.7 215.9,349.9 215.9,349.9 223.7,337.8 230.8,327.2 237.5,316.7 243.7,307.2 249.4,298.5 254.7,290.0 259.7,282.2 264.4,274.8 268.8,267.8 268.9,267.6 268.9,267.6 268.8,267.8 268.8,267.8 268.8,267.8 268.8,267.8 268.8,268.1 268.8,268.1 268.8,268.0 268.9,267.6 268.9,267.1 268.9,267.3 268.9,267.7 268.9,267.6 268.8,267.8 268.8,268.0 268.8,268.1 268.8,268.2 268.8,268.0 268.8,268.1 268.8,268.1 268.8,268.1 268.8,267.8 268.9,267.4 268.9,267.1 268.9,267.1 265.2,266.4 261.6,265.9 257.9,265.4 254.3,264.8 250.7,264.2 247.1,263.3 243.7,262.1 240.2,261.2 236.7,260.5 233.2,259.8 229.8,258.8 226.4,257.8 223.0,256.9 219.6,256.4 216.2,255.9 212.9,255.1 209.6,254.1 206.3,253.2 203.1,252.6 199.8,252.2 198.7,252.3 197.6,252.0 196.6,251.7 195.5,251.5 194.4,251.3 193.4,251.0 192.3,250.6 191.2,250.3 190.2,249.3 189.2,244.4 188.5,229.6 187.7,214.1 186.7,211.2 185.6,210.5 184.5,209.7 183.4,209.2 182.3,209.9 181.2,209.8 180.2,208.9 179.1,209.3 178.0,208.4 176.9,209.5 175.8,208.6 174.8,207.8 173.7,209.1 172.6,208.1 171.6,208.9 170.5,209.7 169.5,207.6 168.4,208.5 167.4,208.0 166.3,207.9 165.3,207.4 164.2,208.7 163.2,207.3 162.1,208.0 161.1,207.4 160.1,206.8 159.0,206.9 158.0,207.7 157.0,208.1 155.9,206.6 154.9,206.1 153.9,207.1 152.9,205.9 151.8,205.7 150.8,206.4 149.8,205.9 148.8,205.2 147.8,206.3 146.8,206.4 145.8,206.1 144.8,205.1 143.8,205.8 142.8,205.9 141.8,205.3 140.8,203.9 139.8,204.6 138.8,204.5 137.8,204.7 137.8,204.7 134.1,206.2 130.4,209.9 126.4,211.3 122.4,214.4 118.2,216.8 114.0,219.6 109.5,220.7 105.0,224.2 100.4,227.8 99.7,229.4 98.8,229.1 97.9,229.5 97.3,232.9 96.7,237.0 96.1,240.2 95.6,245.4 95.2,251.0 94.8,257.4 94.3,262.3 93.7,266.4 93.1,269.1 92.3,270.7 91.5,272.0 90.7,273.5 90.0,275.0 86.3,278.1 82.4,280.6 78.4,282.7 74.3,285.0 70.2,288.3 66.0,291.7 61.6,294.5 57.1,297.3 52.4,299.9" fill="none" stroke="#333" stroke-width="0.6"/><polyline points="83.0,283.6 83.9,283.8 84.8,284.1 85.7,284.3 86.7,284.6 87.6,284.8 88.5,285.1 89.5,285.3 90.4,285.5 91.3,285.8 92.3,286.0 93.2,286.3 94.2,286.5 95.1,286.8 96.1,287.0 97.0,287.3 98.0,287.5 98.9,287.8 99.9,288.0 100.8,288.2 101.8,288.5 102.7,288.7 103.7,289.0 104.7,289.2 105.6,289.5 106.6,289.7 107.6,290.0 108.6,290.2 109.5,290.5 110.5,290.8 111.5,291.0 112.5,291.3 113.5,291.5 114.4,291.8 115.4,292.0 116.4,292.3 117.4,292.5 118.4,292.8 119.4,293.1 120.4,293.3 121.4,293.6 122.4,293.8 123.4,294.1 124.4,294.4 125.4,294.6 126.5,294.9 127.5,295.1 128.5,295.4 129.5,295.7 130.5,295.9 131.6,296.2 132.6,296.5 133.6,296.7 134.6,297.0 135.7,297.3 136.7,297.5 137.8,297.8 138.8,298.1 139.8,298.3 140.9,298.6 141.9,298.9 143.0,299.2 144.0,299.4 145.1,299.7 146.1,300.0 147.2,300.2 148.3,300.5 149.3,300.8 150.4,301.1 151.5,301.3 152.5,301.6 153.6,301.9 154.7,302.2 155.8,302.5 156.8,302.7 157.9,303.0 159.0,303.3 160.1,303.6 161.2,303.9 162.3,304.2 163.4,304.5 164.5,304.8 165.6,305.1 166.7,305.4 167.8,305.6 168.9,305.9 170.0,306.2 171.1,306.5 172.2,306.8 173.3,307.1 174.5,307.4 175.6,307.7 176.7,308.0 177.8,308.3 179.0,308.6 180.1,308.9 181.2,309.2 182.4,309.5 183.5,309.8 184.7,310.1 185.8,310.4 187.0,310.7 188.1,311.0 189.3,311.3 190.4,311.7 191.6,312.0 192.7,312.3 193.9,312.7 195.1,313.1 196.2,313.5 197.4,313.9 198.6,314.3 199.8,314.7 200.9,315.2 202.1,315.6 203.3,316.1 204.5,316.6 205.7,317.0 206.8,317.5 208.0,317.9 209.2,318.2 210.4,318.6 211.6,318.9 212.8,319.3 214.0,319.6 215.3,319.9 216.5,320.3 217.7,320.6 218.9,320.9 220.1,321.3 221.4,321.6 222.6,321.9 223.8,322.3 225.1,322.6 226.3,322.9 227.5,323.3 228.8,323.6 230.0,323.9 231.3,324.3 232.5,324.6" fill="none" stroke="#111" stroke-width="2.1" stroke-dasharray="4.2,3.2"/><polyline points="99.0,229.0 100.0,229.2 100.9,229.5 101.9,229.8 102.8,230.1 103.8,230.5 104.7,230.8 105.7,231.1 106.6,231.5 107.6,231.9 108.6,232.3 109.5,232.7 110.5,233.2 111.5,233.7 112.5,234.2 113.4,234.8 114.4,235.5 115.4,236.2 116.4,237.0 117.4,238.0 118.4,239.0 119.4,240.3 120.5,241.7 121.5,243.3 122.6,245.2 123.6,247.3 124.7,249.6 125.8,252.2 126.9,255.3 128.0,258.9 129.1,262.8 130.2,266.4 131.3,269.3 132.3,271.4 133.4,272.8 134.3,273.6 135.3,274.1 136.3,274.5 137.3,274.8 138.2,275.1 139.2,275.3 140.2,275.5 141.2,275.8 142.1,276.0 143.1,276.2 144.1,276.5 145.1,276.7 146.1,276.9 147.1,277.2 148.1,277.4 149.1,277.6 150.1,277.9 151.1,278.1 152.1,278.3 153.1,278.6 154.1,278.8 155.1,279.0 156.1,279.3 157.1,279.5 158.1,279.7 159.1,280.0 160.1,280.2 161.2,280.5 162.2,280.7 163.2,280.9 164.2,281.2 165.3,281.4 166.3,281.7 167.3,281.9 168.4,282.1 169.4,282.4 170.4,282.6 171.5,282.9 172.5,283.1 173.6,283.4 174.6,283.6 175.7,283.9 176.7,284.1 177.8,284.4 178.8,284.6 179.9,284.9 181.0,285.1 182.0,285.4 183.1,285.7 184.2,285.9 185.2,286.2 186.3,286.4 187.4,286.7 188.5,286.9 189.5,287.2 190.6,287.5 191.7,287.7 192.8,288.0 193.9,288.3 195.0,288.5 196.1,288.8 197.2,289.0 198.3,289.3 199.4,289.6 200.5,289.8 201.6,290.1 202.7,290.4 203.8,290.7 204.9,290.9 206.0,291.2 207.2,291.5 208.3,291.7 209.4,292.1 210.5,292.4 211.6,292.8 212.8,293.1 213.9,293.5 215.0,293.8 216.2,294.2 217.3,294.6 218.4,295.1 219.6,295.5 220.7,295.9 221.9,296.3 223.0,296.7 224.2,297.0 225.3,297.4 226.5,297.7 227.6,298.0 228.8,298.3 230.0,298.6 231.1,298.8 232.3,299.1 233.5,299.4 234.7,299.7 235.8,300.0 237.0,300.3 238.2,300.6 239.4,300.9 240.6,301.2 241.8,301.5 243.0,301.8 244.2,302.1 245.4,302.4 246.6,302.7" fill="none" stroke="#111" stroke-width="2.1" stroke-dasharray="4.2,3.2"/><polyline points="122.2,216.0 123.1,216.1 123.9,216.2 124.8,216.3 125.7,216.4 126.6,216.5 127.5,216.6 128.4,216.7 129.3,216.8 130.1,216.9 131.0,217.1 131.9,217.2 132.8,217.3 133.7,217.4 134.6,217.5 135.5,217.6 136.4,217.7 137.3,217.8 138.2,217.9 139.2,218.1 140.1,218.2 141.0,218.3 141.9,218.4 142.8,218.5 143.7,218.6 144.6,218.7 145.6,218.8 146.5,219.0 147.4,219.1 148.3,219.2 149.3,219.3 150.2,219.4 151.1,219.5 152.1,219.6 153.0,219.8 154.0,219.9 154.9,220.0 155.8,220.1 156.8,220.3 157.7,220.5 158.7,220.8 159.6,221.5 160.6,223.2 161.6,227.0 162.6,234.7 163.6,245.1 164.6,254.4 165.5,259.5 166.5,261.5 167.4,262.2 168.3,262.5 169.2,262.8 170.2,263.0 171.1,263.2 172.0,263.4 173.0,263.6 173.9,263.8 174.9,264.0 175.8,264.2 176.7,264.4 177.7,264.6 178.6,264.8 179.6,265.0 180.5,265.2 181.5,265.4 182.5,265.6 183.4,265.8 184.4,266.0 185.3,266.2 186.3,266.4 187.3,266.6 188.2,266.8 189.2,267.0 190.2,267.2 191.1,267.5 192.1,267.7 193.1,267.9 194.1,268.1 195.0,268.3 196.0,268.5 197.0,268.7 198.0,269.0 199.0,269.2 200.0,269.4 201.0,269.6 202.0,269.8 203.0,270.1 204.0,270.3 205.0,270.5 206.0,270.7 207.0,270.9 208.0,271.2 209.0,271.4 210.0,271.6 211.0,271.8 212.0,272.1 213.0,272.3 214.0,272.5 215.1,272.7 216.1,273.0 217.1,273.2 218.1,273.4 219.2,273.6 220.2,273.9 221.2,274.1 222.3,274.3 223.3,274.6 224.3,274.9 225.4,275.2 226.4,275.5 227.4,275.8 228.5,276.1 229.5,276.4 230.6,276.8 231.6,277.2 232.7,277.5 233.7,277.9 234.7,278.2 235.8,278.6 236.9,278.9 237.9,279.2 239.0,279.5 240.0,279.7 241.1,280.0 242.2,280.2 243.3,280.5 244.3,280.7 245.4,281.0 246.5,281.2 247.6,281.5 248.7,281.7 249.8,281.9 250.8,282.2 251.9,282.4 253.0,282.7 254.1,282.9 255.2,283.2 256.3,283.4 257.4,283.7 258.5,283.9" fill="none" stroke="#111" stroke-width="2.1" stroke-dasharray="4.2,3.2"/>
<line x1="38" y1="236.8" x2="46.3" y2="304.3" stroke="#8a8a8a" stroke-width="0.9"/>
<path d="M38 236.8h2.2M38.41 240.18h1.3M38.83 243.55h1.3M39.24 246.93h1.3M39.66 250.3h1.3M40.08 253.68h2.2M40.49 257.05h1.3M40.91 260.43h1.3M41.32 263.8h1.3M41.73 267.18h1.3M42.15 270.55h2.2M42.56 273.93h1.3M42.98 277.3h1.3M43.4 280.68h1.3M43.81 284.05h1.3M44.23 287.43h2.2M44.64 290.8h1.3M45.05 294.18h1.3M45.47 297.55h1.3M45.88 300.93h1.3M46.3 304.3h2.2M46.3 304.3l0.5 -2.0M54.94 306.87l0.5 -1.2M63.58 309.44l0.5 -1.2M72.22 312.01l0.5 -1.2M80.86 314.58l0.5 -1.2M89.5 317.15l0.5 -2.0M98.14 319.72l0.5 -1.2M106.78 322.29l0.5 -1.2M115.42 324.86l0.5 -1.2M124.06 327.43l0.5 -1.2M132.7 330l0.5 -2.0M141.34 332.57l0.5 -1.2M149.98 335.14l0.5 -1.2M158.62 337.71l0.5 -1.2M167.26 340.28l0.5 -1.2M175.9 342.85l0.5 -2.0M184.54 345.42l0.5 -1.2M193.18 347.99l0.5 -1.2M201.82 350.56l0.5 -1.2M210.46 353.13l0.5 -1.2M219.1 355.7l0.5 -2.0M219.1 355.7l-2.0 -0.3M221.88 351.26l-1.2 -0.3M224.65 346.83l-1.2 -0.3M227.42 342.39l-1.2 -0.3M230.2 337.96l-1.2 -0.3M232.97 333.52l-2.0 -0.3M235.75 329.09l-1.2 -0.3M238.52 324.65l-1.2 -0.3M241.3 320.22l-1.2 -0.3M244.07 315.78l-1.2 -0.3M246.85 311.35l-2.0 -0.3M249.62 306.91l-1.2 -0.3M252.4 302.48l-1.2 -0.3M255.18 298.04l-1.2 -0.3M257.95 293.61l-1.2 -0.3M260.73 289.17l-2.0 -0.3M263.5 284.74l-1.2 -0.3M266.27 280.31l-1.2 -0.3M269.05 275.87l-1.2 -0.3M271.82 271.44l-1.2 -0.3M274.6 267l-2.0 -0.3" stroke="#8a8a8a" stroke-width="0.8" fill="none"/>
<line x1="46.3" y1="304.3" x2="219.1" y2="355.7" stroke="#8a8a8a" stroke-width="0.9"/>
<line x1="219.1" y1="355.7" x2="274.6" y2="267.0" stroke="#8a8a8a" stroke-width="0.9"/>
<text x="36.6" y="238.7" font-family="Liberation Sans, sans-serif" font-size="14" text-anchor="end" fill="#222" textLength="36" lengthAdjust="spacingAndGlyphs">0.004</text>
<text x="38.2" y="256" font-family="Liberation Sans, sans-serif" font-size="14" text-anchor="end" fill="#222" textLength="36" lengthAdjust="spacingAndGlyphs">0.003</text>
<text x="39.7" y="273.1" font-family="Liberation Sans, sans-serif" font-size="14" text-anchor="end" fill="#222" textLength="36" lengthAdjust="spacingAndGlyphs">0.002</text>
<text x="41.2" y="289.6" font-family="Liberation Sans, sans-serif" font-size="14" text-anchor="end" fill="#222" textLength="36" lengthAdjust="spacingAndGlyphs">0.001</text>
<text x="44.5" y="305.3" font-family="Liberation Sans, sans-serif" font-size="14" text-anchor="end" fill="#222" textLength="36" lengthAdjust="spacingAndGlyphs">0.000</text>
<text x="40.3" y="223.1" font-family="Liberation Sans, sans-serif" font-size="15" text-anchor="middle" fill="#222">dP/d<tspan font-style="italic">s</tspan></text>
<text x="58.4" y="244.6" font-family="Liberation Sans, sans-serif" font-size="20.5" text-anchor="middle" fill="#111" font-weight="bold" stroke="#111" stroke-width="0.6" textLength="23.6" lengthAdjust="spacingAndGlyphs">(b)</text>
<text x="51" y="322.1" font-family="Liberation Sans, sans-serif" font-size="14" text-anchor="middle" fill="#222">0.5</text>
<text x="86.5" y="334.5" font-family="Liberation Sans, sans-serif" font-size="14" text-anchor="middle" fill="#222">0.6</text>
<text x="124.8" y="345.5" font-family="Liberation Sans, sans-serif" font-size="14" text-anchor="middle" fill="#222">0.7</text>
<text x="168.6" y="358.3" font-family="Liberation Sans, sans-serif" font-size="14" text-anchor="middle" fill="#222">0.8</text>
<text x="214.3" y="371.1" font-family="Liberation Sans, sans-serif" font-size="14" text-anchor="middle" fill="#222">0.9</text>
<text x="125.5" y="364" font-family="Liberation Sans, sans-serif" font-style="italic" font-size="17" text-anchor="middle" fill="#222">s</text>
<text x="233.7" y="361.5" font-family="Liberation Sans, sans-serif" font-size="14" text-anchor="middle" fill="#222">1.9</text>
<text x="250.5" y="334.5" font-family="Liberation Sans, sans-serif" font-size="14" text-anchor="middle" fill="#222">2.0</text>
<text x="264" y="312.5" font-family="Liberation Sans, sans-serif" font-size="14" text-anchor="middle" fill="#222">2.1</text>
<text x="276" y="293.5" font-family="Liberation Sans, sans-serif" font-size="14" text-anchor="middle" fill="#222">2.2</text>
<text x="285.5" y="277.7" font-family="Liberation Sans, sans-serif" font-size="14" text-anchor="middle" fill="#222">2.3</text>
<text x="281.5" y="318" font-family="Liberation Serif, serif" font-style="italic" font-size="19" text-anchor="middle" fill="#222">&#951;</text></svg></body></html>
